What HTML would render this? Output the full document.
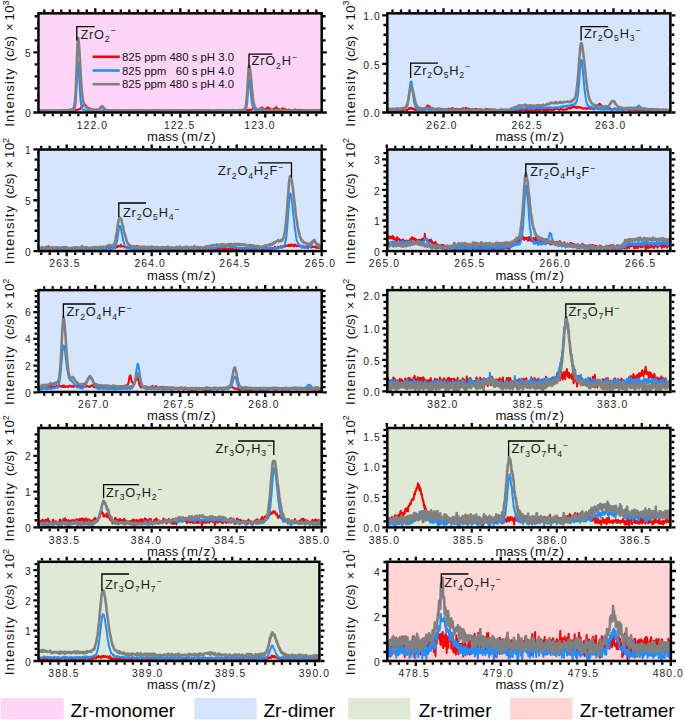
<!DOCTYPE html><html><head><meta charset="utf-8"><style>html,body{margin:0;padding:0;background:#fff;overflow:hidden}svg{display:block}</style></head><body><svg width="685" height="723" viewBox="0 0 685 723" font-family='"Liberation Sans", sans-serif'>
<rect width="685" height="723" fill="#fff"/>
<defs>
<clipPath id="c0"><rect x="38.45" y="13.35" width="283.25" height="99.15"/></clipPath>
<clipPath id="c1"><rect x="387.3" y="13.35" width="283.1" height="99.15"/></clipPath>
<clipPath id="c2"><rect x="38.45" y="149.5" width="283.25" height="101.6"/></clipPath>
<clipPath id="c3"><rect x="387.3" y="149.5" width="283.1" height="101.6"/></clipPath>
<clipPath id="c4"><rect x="38.45" y="290.1" width="283.25" height="101.9"/></clipPath>
<clipPath id="c5"><rect x="387.3" y="290.1" width="283.1" height="101.9"/></clipPath>
<clipPath id="c6"><rect x="38.45" y="428" width="283.25" height="99.4"/></clipPath>
<clipPath id="c7"><rect x="387.3" y="428" width="283.1" height="99.4"/></clipPath>
<clipPath id="c8"><rect x="38.45" y="561.8" width="280.95" height="99.2"/></clipPath>
<clipPath id="c9"><rect x="387.3" y="561.8" width="283.6" height="99.2"/></clipPath>
</defs>
<rect x="38.45" y="13.35" width="283.25" height="99.15" fill="#fdd5f6"/>
<path d="M37.5 110.8 38.0 110.8 38.5 110.9 39.0 111.1 39.5 111.0 40.0 111.1 40.5 110.8 41.0 110.4 41.5 111.0 42.0 111.0 42.5 110.7 43.0 110.7 43.5 110.8 44.0 111.1 44.5 110.8 45.0 110.6 45.5 111.2 46.0 111.0 46.5 111.4 47.0 111.2 47.5 111.4 48.0 110.9 48.5 111.2 49.0 110.8 49.5 110.8 50.0 110.9 50.5 111.6 51.0 111.0 51.5 110.8 52.0 110.8 52.5 111.3 53.0 111.0 53.5 111.1 54.0 111.1 54.5 110.5 55.0 111.1 55.5 110.8 56.0 110.6 56.5 111.0 57.0 110.9 57.5 110.8 58.0 110.8 58.5 111.2 59.0 110.8 59.5 110.4 60.0 111.3 60.5 110.6 61.0 110.8 61.5 111.0 62.0 110.2 62.5 110.6 63.0 111.2 63.5 110.8 64.0 110.6 64.5 110.9 65.0 110.6 65.5 110.8 66.0 110.6 66.5 110.4 67.0 111.0 67.5 110.7 68.0 110.9 68.5 110.8 69.0 111.1 69.5 111.0 70.0 110.8 70.5 110.5 71.0 110.4 71.5 111.2 72.0 111.0 72.5 110.6 73.0 111.3 73.5 110.9 74.0 110.8 74.5 110.2 75.0 110.3 75.5 110.5 76.0 110.3 76.5 110.2 77.0 109.5 77.5 109.9 78.0 109.6 78.5 109.3 79.0 109.3 79.5 109.1 80.0 109.1 80.5 108.4 81.0 108.0 81.5 107.0 82.0 106.6 82.5 106.2 83.0 105.5 83.5 105.3 84.0 104.6 84.5 104.7 85.0 104.6 85.5 105.5 86.0 105.5 86.5 106.6 87.0 107.3 87.5 107.4 88.0 108.1 88.5 108.2 89.0 108.0 89.5 109.2 90.0 109.4 90.5 109.3 91.0 109.3 91.5 109.6 92.0 109.7 92.5 109.5 93.0 109.6 93.5 110.0 94.0 109.8 94.5 109.7 95.0 110.1 95.5 109.7 96.0 110.0 96.5 109.5 97.0 109.7 97.5 109.7 98.0 109.8 98.5 109.5 99.0 109.8 99.5 109.1 100.0 108.2 100.5 108.3 101.0 106.8 101.5 107.1 102.0 106.2 102.5 106.9 103.0 106.8 103.5 107.7 104.0 108.8 104.5 108.6 105.0 109.0 105.5 109.8 106.0 110.1 106.5 110.2 107.0 110.6 107.5 110.0 108.0 110.6 108.5 110.5 109.0 110.7 109.5 110.7 110.0 110.9 110.5 110.2 111.0 110.6 111.5 110.3 112.0 110.6 112.5 110.8 113.0 110.7 113.5 110.8 114.0 110.6 114.5 110.7 115.0 110.7 115.5 111.0 116.0 110.9 116.5 110.1 117.0 110.8 117.5 110.9 118.0 110.5 118.5 110.2 119.0 111.1 119.5 110.7 120.0 110.8 120.5 111.2 121.0 110.4 121.5 110.6 122.0 110.6 122.5 110.9 123.0 110.5 123.5 110.8 124.0 110.7 124.5 111.0 125.0 111.0 125.5 110.2 126.0 110.8 126.5 110.5 127.0 110.6 127.5 110.8 128.0 110.8 128.4 110.4 128.9 110.7 129.4 110.7 129.9 110.6 130.4 110.3 130.9 110.4 131.4 110.5 131.9 110.8 132.4 111.1 132.9 110.4 133.4 110.3 133.9 110.7 134.4 110.5 134.9 110.4 135.4 110.4 135.9 110.4 136.4 110.8 136.9 110.2 137.4 111.0 137.9 110.4 138.4 110.5 138.9 110.4 139.4 110.1 139.9 110.2 140.4 111.0 140.9 111.1 141.4 110.4 141.9 110.9 142.4 110.6 142.9 110.4 143.4 111.1 143.9 111.3 144.4 110.6 144.9 110.6 145.4 110.7 145.9 110.6 146.4 110.9 146.9 111.1 147.4 110.7 147.9 110.9 148.4 111.1 148.9 110.5 149.4 110.7 149.9 110.5 150.4 110.9 150.9 110.8 151.4 110.9 151.9 110.9 152.4 110.6 152.9 110.9 153.4 110.5 153.9 110.5 154.4 110.0 154.9 111.1 155.4 110.4 155.9 110.7 156.4 110.6 156.9 111.1 157.4 110.8 157.9 110.4 158.4 110.7 158.9 110.6 159.4 110.7 159.9 110.3 160.4 110.7 160.9 111.3 161.4 110.9 161.9 111.2 162.4 111.6 162.9 110.8 163.4 110.2 163.9 110.6 164.4 111.0 164.9 110.9 165.4 110.3 165.9 110.6 166.4 110.6 166.9 110.7 167.4 110.6 167.9 110.4 168.4 110.5 168.9 110.6 169.4 111.0 169.9 110.5 170.4 110.9 170.9 110.3 171.4 111.0 171.9 110.7 172.4 110.6 172.9 111.0 173.4 110.1 173.9 110.2 174.4 110.8 174.9 110.4 175.4 110.5 175.9 111.4 176.4 110.6 176.9 110.7 177.4 110.6 177.9 111.0 178.4 110.7 178.9 110.7 179.4 110.3 179.9 110.5 180.4 110.6 180.9 110.2 181.4 110.8 181.9 110.8 182.4 111.2 182.9 110.2 183.4 110.4 183.9 110.4 184.4 110.4 184.9 110.6 185.4 110.6 185.9 110.7 186.4 110.7 186.9 110.6 187.4 110.2 187.9 110.5 188.4 110.7 188.9 110.8 189.4 110.8 189.9 110.2 190.4 110.5 190.9 110.6 191.4 110.8 191.9 111.0 192.4 110.7 192.9 110.4 193.4 110.8 193.9 110.7 194.4 110.7 194.9 110.6 195.4 111.1 195.9 110.7 196.4 110.9 196.9 110.4 197.4 110.9 197.9 110.5 198.4 110.2 198.9 110.7 199.4 110.8 199.9 110.6 200.4 110.6 200.9 110.9 201.4 110.5 201.9 110.0 202.4 110.7 202.9 110.7 203.4 111.0 203.9 110.6 204.4 111.0 204.9 111.0 205.4 110.3 205.9 110.9 206.4 110.3 206.9 110.2 207.4 110.6 207.9 110.5 208.4 110.1 208.9 110.7 209.4 110.8 209.9 111.1 210.4 110.6 210.9 110.2 211.4 110.4 211.9 110.9 212.4 110.9 212.9 110.8 213.4 110.6 213.9 110.7 214.4 110.6 214.9 110.6 215.4 110.7 215.9 110.7 216.4 110.6 216.9 110.7 217.4 110.5 217.9 110.1 218.4 110.5 218.9 110.6 219.4 111.2 219.9 110.5 220.4 111.2 220.9 111.1 221.4 110.4 221.9 110.4 222.4 110.7 222.9 111.2 223.4 110.8 223.9 110.8 224.4 110.5 224.9 110.0 225.4 110.6 225.9 110.9 226.4 111.0 226.9 110.7 227.4 110.7 227.9 111.0 228.4 110.6 228.9 111.0 229.4 110.3 229.9 110.3 230.4 110.3 230.9 110.8 231.4 110.5 231.9 110.7 232.4 110.8 232.9 110.7 233.4 111.0 233.9 111.1 234.4 110.4 234.9 110.7 235.4 110.6 235.9 110.3 236.4 111.2 236.9 110.9 237.4 110.6 237.9 110.5 238.4 110.7 238.9 110.3 239.4 110.6 239.9 111.0 240.4 110.9 240.9 110.3 241.4 110.4 241.9 111.1 242.4 110.0 242.9 110.2 243.4 110.0 243.9 110.5 244.4 110.4 244.9 110.6 245.4 109.5 245.9 110.2 246.4 109.7 246.9 110.3 247.4 110.0 247.9 110.5 248.4 110.1 248.9 109.6 249.4 110.3 249.9 109.5 250.4 109.7 250.9 110.0 251.4 109.8 251.9 109.6 252.4 109.3 252.9 109.1 253.4 108.9 253.9 108.4 254.4 108.3 254.9 108.3 255.4 108.0 255.9 107.9 256.4 109.0 256.9 108.8 257.4 109.3 257.9 109.6 258.4 109.2 258.9 109.6 259.4 108.9 259.9 109.3 260.4 108.6 260.9 108.2 261.4 107.9 261.9 107.3 262.4 107.7 262.9 107.9 263.4 108.6 263.9 109.3 264.4 109.3 264.9 109.4 265.4 109.0 265.9 109.3 266.4 108.6 266.9 108.5 267.4 107.3 267.9 107.6 268.4 108.0 268.9 108.0 269.4 108.2 269.9 109.5 270.4 109.7 270.9 109.8 271.4 110.0 271.9 109.6 272.4 109.9 272.9 109.8 273.4 109.3 273.9 109.4 274.4 108.6 274.9 108.5 275.4 108.1 275.9 108.0 276.4 107.1 276.9 108.2 277.4 108.6 277.9 109.1 278.4 109.4 278.9 109.6 279.4 109.1 279.9 110.0 280.4 110.1 280.9 109.7 281.4 109.6 281.9 108.6 282.4 108.3 282.9 108.7 283.4 108.9 283.9 108.9 284.4 108.7 284.9 110.3 285.4 109.5 285.9 110.1 286.4 109.5 286.9 110.2 287.4 110.0 287.9 110.3 288.4 110.2 288.9 109.5 289.4 109.7 289.9 110.0 290.4 110.2 290.9 110.5 291.4 110.0 291.9 109.9 292.4 110.0 292.9 110.0 293.4 110.3 293.9 110.0 294.4 109.9 294.9 109.5 295.4 109.4 295.9 110.0 296.4 110.2 296.9 110.0 297.4 110.1 297.9 110.2 298.4 110.0 298.9 110.3 299.4 109.8 299.9 110.0 300.4 109.9 300.9 110.0 301.4 110.2 301.9 110.3 302.4 110.1 302.9 110.2 303.4 110.0 303.9 110.1 304.4 110.5 304.9 110.1 305.4 110.5 305.9 110.3 306.4 110.2 306.9 110.8 307.4 110.2 307.9 110.2 308.4 110.3 308.9 110.4 309.4 110.4 309.9 110.6 310.4 110.4 310.9 110.5 311.4 110.3 311.9 110.7 312.4 110.3 312.9 110.3 313.4 110.4 313.9 110.5 314.4 110.2 314.9 110.9 315.4 110.3 315.9 110.4 316.4 110.4 316.9 110.4 317.4 110.7 317.9 110.6 318.4 110.3 318.9 110.4 319.4 110.5 319.9 111.0 320.4 110.4 320.9 110.3 321.4 110.3 321.9 110.6 322.4 111.1" stroke="#ff0000" stroke-width="2.0" fill="none" stroke-linejoin="round" clip-path="url(#c0)"/>
<path d="M37.5 110.7 38.0 110.9 38.5 111.2 39.0 110.8 39.5 111.1 40.0 111.0 40.5 110.9 41.0 110.6 41.5 110.9 42.0 110.8 42.5 110.6 43.0 110.6 43.5 110.9 44.0 110.9 44.5 111.0 45.0 110.9 45.5 110.8 46.0 110.8 46.5 110.8 47.0 110.7 47.5 110.9 48.0 110.8 48.5 110.7 49.0 110.7 49.5 110.7 50.0 110.8 50.5 110.9 51.0 110.8 51.5 111.0 52.0 111.1 52.5 110.7 53.0 110.8 53.5 110.8 54.0 111.1 54.5 110.9 55.0 110.9 55.5 110.9 56.0 111.2 56.5 110.9 57.0 110.7 57.5 110.8 58.0 110.9 58.5 110.8 59.0 110.7 59.5 111.2 60.0 110.8 60.5 110.7 61.0 110.7 61.5 110.5 62.0 110.6 62.5 110.7 63.0 110.7 63.5 110.7 64.0 110.8 64.5 110.8 65.0 110.6 65.5 110.4 66.0 110.8 66.5 110.7 67.0 110.7 67.5 110.5 68.0 110.7 68.5 110.4 69.0 110.8 69.5 110.6 70.0 110.6 70.5 110.4 71.0 110.4 71.5 110.7 72.0 110.5 72.5 110.3 73.0 110.3 73.5 110.3 74.0 109.6 74.5 109.1 75.0 107.7 75.5 104.6 76.0 97.8 76.5 87.6 77.0 74.7 77.5 64.6 78.0 62.2 78.5 66.2 79.0 74.2 79.5 83.2 80.0 91.8 80.5 98.8 81.0 103.5 81.5 106.5 82.0 108.1 82.5 109.2 83.0 109.7 83.5 109.7 84.0 109.7 84.5 109.9 85.0 110.2 85.5 110.3 86.0 110.2 86.5 110.5 87.0 110.6 87.5 110.5 88.0 110.5 88.5 110.7 89.0 110.8 89.5 110.8 90.0 110.5 90.5 110.8 91.0 110.7 91.5 110.6 92.0 110.6 92.5 110.8 93.0 110.6 93.5 110.9 94.0 110.8 94.5 110.9 95.0 110.6 95.5 110.8 96.0 110.9 96.5 110.8 97.0 110.8 97.5 110.7 98.0 111.0 98.5 110.9 99.0 110.8 99.5 110.4 100.0 110.6 100.5 110.8 101.0 110.7 101.5 110.5 102.0 110.8 102.5 110.9 103.0 110.6 103.5 110.7 104.0 110.7 104.5 110.9 105.0 110.5 105.5 110.6 106.0 110.7 106.5 110.7 107.0 111.1 107.5 110.7 108.0 110.8 108.5 110.7 109.0 110.7 109.5 110.9 110.0 111.1 110.5 110.8 111.0 110.9 111.5 110.9 112.0 110.9 112.5 110.9 113.0 111.2 113.5 110.6 114.0 110.8 114.5 110.7 115.0 110.5 115.5 110.8 116.0 111.1 116.5 111.0 117.0 111.0 117.5 110.9 118.0 110.8 118.5 111.1 119.0 110.8 119.5 111.1 120.0 110.8 120.5 110.8 121.0 110.9 121.5 110.8 122.0 110.9 122.5 110.9 123.0 111.1 123.5 110.8 124.0 110.6 124.5 110.5 125.0 110.6 125.5 110.7 126.0 110.9 126.5 110.6 127.0 110.8 127.5 110.8 128.0 110.9 128.4 110.8 128.9 110.9 129.4 110.8 129.9 111.0 130.4 110.9 130.9 110.5 131.4 110.8 131.9 110.9 132.4 110.8 132.9 110.7 133.4 111.0 133.9 110.9 134.4 110.7 134.9 110.8 135.4 110.8 135.9 110.6 136.4 110.9 136.9 110.8 137.4 110.9 137.9 110.6 138.4 111.1 138.9 110.9 139.4 110.9 139.9 110.7 140.4 110.7 140.9 110.6 141.4 111.1 141.9 110.7 142.4 110.9 142.9 110.9 143.4 110.8 143.9 111.0 144.4 111.2 144.9 110.9 145.4 111.1 145.9 110.9 146.4 110.8 146.9 110.8 147.4 110.6 147.9 110.9 148.4 111.1 148.9 111.0 149.4 111.0 149.9 111.0 150.4 110.8 150.9 110.9 151.4 111.1 151.9 110.7 152.4 110.9 152.9 110.8 153.4 110.8 153.9 110.7 154.4 110.8 154.9 110.7 155.4 110.8 155.9 110.8 156.4 110.8 156.9 111.1 157.4 110.9 157.9 110.9 158.4 110.8 158.9 111.0 159.4 110.6 159.9 110.8 160.4 111.0 160.9 111.1 161.4 110.9 161.9 110.9 162.4 111.0 162.9 110.8 163.4 110.9 163.9 110.8 164.4 111.0 164.9 110.8 165.4 110.7 165.9 110.5 166.4 111.0 166.9 110.9 167.4 111.0 167.9 110.7 168.4 111.0 168.9 110.9 169.4 110.8 169.9 111.0 170.4 111.0 170.9 110.9 171.4 111.2 171.9 111.1 172.4 110.9 172.9 110.8 173.4 110.9 173.9 111.1 174.4 110.9 174.9 110.7 175.4 110.8 175.9 110.9 176.4 111.0 176.9 110.7 177.4 110.9 177.9 111.0 178.4 111.0 178.9 110.6 179.4 110.8 179.9 110.7 180.4 110.9 180.9 110.7 181.4 110.9 181.9 110.9 182.4 110.5 182.9 110.7 183.4 110.9 183.9 110.9 184.4 110.8 184.9 110.7 185.4 110.9 185.9 111.1 186.4 110.9 186.9 110.8 187.4 110.8 187.9 110.6 188.4 110.8 188.9 110.7 189.4 111.0 189.9 110.7 190.4 110.5 190.9 110.7 191.4 110.8 191.9 110.8 192.4 110.6 192.9 111.0 193.4 110.9 193.9 110.8 194.4 110.7 194.9 110.9 195.4 110.8 195.9 110.9 196.4 110.8 196.9 110.9 197.4 111.0 197.9 110.8 198.4 110.7 198.9 111.0 199.4 110.9 199.9 110.7 200.4 111.0 200.9 110.8 201.4 111.0 201.9 110.7 202.4 110.5 202.9 110.5 203.4 110.9 203.9 110.7 204.4 110.8 204.9 110.8 205.4 110.6 205.9 111.0 206.4 110.7 206.9 110.8 207.4 110.6 207.9 110.8 208.4 110.9 208.9 110.8 209.4 110.7 209.9 110.8 210.4 110.8 210.9 110.9 211.4 111.2 211.9 110.7 212.4 110.7 212.9 110.8 213.4 110.8 213.9 110.7 214.4 110.9 214.9 110.9 215.4 110.9 215.9 110.7 216.4 111.0 216.9 110.7 217.4 110.9 217.9 111.0 218.4 110.6 218.9 110.8 219.4 111.0 219.9 110.9 220.4 110.7 220.9 110.7 221.4 110.9 221.9 110.8 222.4 110.7 222.9 110.9 223.4 110.8 223.9 110.8 224.4 110.9 224.9 110.9 225.4 110.8 225.9 110.8 226.4 110.9 226.9 110.9 227.4 110.7 227.9 110.8 228.4 110.7 228.9 110.6 229.4 110.7 229.9 110.5 230.4 110.9 230.9 110.7 231.4 110.9 231.9 110.5 232.4 110.6 232.9 111.1 233.4 110.9 233.9 110.7 234.4 110.7 234.9 110.7 235.4 110.8 235.9 110.7 236.4 110.7 236.9 110.8 237.4 110.6 237.9 111.1 238.4 110.7 238.9 110.9 239.4 110.6 239.9 110.7 240.4 110.8 240.9 110.6 241.4 110.8 241.9 110.8 242.4 110.8 242.9 110.6 243.4 110.4 243.9 110.3 244.4 110.4 244.9 110.0 245.4 109.9 245.9 109.3 246.4 107.8 246.9 104.8 247.4 100.1 247.9 93.2 248.4 85.7 248.9 80.6 249.4 80.4 249.9 82.9 250.4 87.8 250.9 93.1 251.4 98.3 251.9 102.4 252.4 105.4 252.9 107.6 253.4 108.5 253.9 109.5 254.4 109.7 254.9 110.0 255.4 110.4 255.9 110.4 256.4 110.4 256.9 110.5 257.4 110.5 257.9 110.6 258.4 110.9 258.9 110.6 259.4 111.0 259.9 110.6 260.4 110.8 260.9 110.8 261.4 110.7 261.9 110.7 262.4 110.9 262.9 111.0 263.4 110.9 263.9 111.0 264.4 110.9 264.9 110.5 265.4 110.9 265.9 110.7 266.4 111.0 266.9 110.7 267.4 110.8 267.9 110.8 268.4 110.7 268.9 110.5 269.4 110.8 269.9 110.8 270.4 110.9 270.9 110.7 271.4 110.8 271.9 110.7 272.4 110.8 272.9 110.5 273.4 111.1 273.9 110.9 274.4 110.7 274.9 110.9 275.4 110.9 275.9 110.9 276.4 111.0 276.9 110.8 277.4 110.5 277.9 110.6 278.4 111.0 278.9 111.0 279.4 110.9 279.9 110.7 280.4 110.9 280.9 110.9 281.4 110.7 281.9 110.7 282.4 110.9 282.9 111.0 283.4 111.1 283.9 110.9 284.4 111.2 284.9 110.7 285.4 110.9 285.9 110.8 286.4 110.6 286.9 110.7 287.4 111.0 287.9 110.7 288.4 110.7 288.9 110.9 289.4 111.0 289.9 110.9 290.4 111.1 290.9 110.6 291.4 111.2 291.9 111.0 292.4 110.9 292.9 110.9 293.4 110.8 293.9 110.8 294.4 110.9 294.9 110.7 295.4 111.2 295.9 110.8 296.4 110.9 296.9 110.8 297.4 110.8 297.9 111.0 298.4 110.9 298.9 110.7 299.4 110.8 299.9 110.9 300.4 110.5 300.9 110.5 301.4 111.1 301.9 110.8 302.4 110.5 302.9 110.7 303.4 110.8 303.9 110.9 304.4 110.9 304.9 110.9 305.4 110.9 305.9 110.7 306.4 110.9 306.9 110.9 307.4 111.0 307.9 110.8 308.4 111.0 308.9 110.9 309.4 110.7 309.9 110.8 310.4 110.8 310.9 110.8 311.4 110.8 311.9 110.9 312.4 110.9 312.9 110.7 313.4 111.0 313.9 110.6 314.4 110.8 314.9 111.0 315.4 110.9 315.9 110.9 316.4 110.8 316.9 111.0 317.4 110.7 317.9 111.0 318.4 111.2 318.9 111.0 319.4 111.1 319.9 110.9 320.4 110.7 320.9 110.7 321.4 111.0 321.9 111.0 322.4 110.6" stroke="#1e8fff" stroke-width="2.0" fill="none" stroke-linejoin="round" clip-path="url(#c0)"/>
<path d="M37.5 110.6 38.0 110.6 38.5 110.5 39.0 110.2 39.5 110.4 40.0 110.6 40.5 110.6 41.0 110.5 41.5 110.7 42.0 110.8 42.5 110.6 43.0 110.7 43.5 110.6 44.0 110.6 44.5 110.3 45.0 110.7 45.5 110.6 46.0 110.6 46.5 110.5 47.0 110.4 47.5 110.7 48.0 110.7 48.5 110.8 49.0 110.7 49.5 110.5 50.0 110.6 50.5 110.7 51.0 110.6 51.5 110.6 52.0 110.5 52.5 110.7 53.0 110.6 53.5 110.8 54.0 110.7 54.5 110.3 55.0 110.9 55.5 110.6 56.0 110.5 56.5 110.6 57.0 110.7 57.5 110.5 58.0 110.5 58.5 110.5 59.0 110.8 59.5 110.5 60.0 110.6 60.5 110.6 61.0 110.4 61.5 110.4 62.0 110.3 62.5 110.5 63.0 110.3 63.5 110.2 64.0 110.2 64.5 110.2 65.0 110.4 65.5 110.4 66.0 110.2 66.5 110.5 67.0 110.2 67.5 110.3 68.0 110.2 68.5 110.4 69.0 110.2 69.5 110.0 70.0 109.8 70.5 109.6 71.0 109.7 71.5 109.6 72.0 109.5 72.5 109.1 73.0 108.8 73.5 108.1 74.0 106.9 74.5 105.2 75.0 101.6 75.5 94.9 76.0 84.9 76.5 71.4 77.0 56.1 77.5 43.4 78.0 37.8 78.5 39.1 79.0 44.1 79.5 52.1 80.0 61.2 80.5 70.5 81.0 79.0 81.5 86.5 82.0 92.5 82.5 97.1 83.0 100.4 83.5 102.6 84.0 104.2 84.5 105.4 85.0 105.9 85.5 106.4 86.0 107.0 86.5 107.3 87.0 107.9 87.5 108.4 88.0 108.4 88.5 108.8 89.0 109.2 89.5 109.3 90.0 109.4 90.5 109.6 91.0 110.1 91.5 109.9 92.0 110.0 92.5 110.1 93.0 110.0 93.5 109.8 94.0 110.1 94.5 110.2 95.0 109.8 95.5 110.2 96.0 110.3 96.5 110.1 97.0 110.0 97.5 110.1 98.0 109.8 98.5 109.8 99.0 109.6 99.5 109.0 100.0 108.4 100.5 108.0 101.0 107.3 101.5 106.8 102.0 106.2 102.5 106.9 103.0 107.0 103.5 107.9 104.0 108.5 104.5 109.0 105.0 109.4 105.5 109.7 106.0 110.0 106.5 110.3 107.0 110.4 107.5 110.3 108.0 110.3 108.5 110.2 109.0 110.4 109.5 110.3 110.0 110.2 110.5 110.4 111.0 110.7 111.5 110.7 112.0 110.7 112.5 110.3 113.0 110.6 113.5 110.3 114.0 110.4 114.5 110.3 115.0 110.4 115.5 110.5 116.0 110.6 116.5 110.5 117.0 110.5 117.5 110.6 118.0 110.6 118.5 110.3 119.0 110.8 119.5 110.5 120.0 110.7 120.5 110.5 121.0 110.4 121.5 110.6 122.0 110.5 122.5 110.8 123.0 110.4 123.5 110.7 124.0 110.5 124.5 110.6 125.0 111.0 125.5 110.7 126.0 110.5 126.5 110.4 127.0 110.5 127.5 110.5 128.0 110.8 128.4 110.4 128.9 110.3 129.4 110.6 129.9 110.6 130.4 110.8 130.9 110.5 131.4 110.2 131.9 110.5 132.4 110.4 132.9 110.5 133.4 110.7 133.9 110.4 134.4 110.8 134.9 110.6 135.4 110.6 135.9 110.5 136.4 110.5 136.9 110.5 137.4 110.7 137.9 110.8 138.4 110.6 138.9 110.7 139.4 110.8 139.9 110.8 140.4 110.7 140.9 110.9 141.4 110.8 141.9 110.9 142.4 110.6 142.9 110.6 143.4 110.3 143.9 110.8 144.4 110.7 144.9 110.5 145.4 110.6 145.9 110.7 146.4 110.4 146.9 110.7 147.4 110.8 147.9 110.8 148.4 110.6 148.9 110.6 149.4 110.8 149.9 110.8 150.4 110.5 150.9 110.5 151.4 110.7 151.9 110.5 152.4 110.5 152.9 110.9 153.4 110.7 153.9 110.6 154.4 110.7 154.9 110.9 155.4 110.7 155.9 110.5 156.4 110.4 156.9 111.0 157.4 110.2 157.9 110.8 158.4 110.5 158.9 110.4 159.4 110.5 159.9 110.6 160.4 110.8 160.9 110.5 161.4 110.7 161.9 111.0 162.4 110.2 162.9 110.5 163.4 110.4 163.9 110.8 164.4 110.4 164.9 110.4 165.4 110.4 165.9 110.6 166.4 110.8 166.9 110.7 167.4 111.0 167.9 110.9 168.4 110.6 168.9 110.8 169.4 110.7 169.9 110.6 170.4 110.3 170.9 110.4 171.4 110.6 171.9 110.4 172.4 110.7 172.9 110.7 173.4 110.5 173.9 110.8 174.4 110.7 174.9 110.8 175.4 110.6 175.9 110.4 176.4 110.7 176.9 110.6 177.4 110.8 177.9 110.8 178.4 110.8 178.9 110.4 179.4 110.3 179.9 110.6 180.4 110.7 180.9 110.5 181.4 110.7 181.9 110.5 182.4 110.6 182.9 110.6 183.4 110.5 183.9 110.7 184.4 110.7 184.9 110.9 185.4 110.7 185.9 110.8 186.4 110.7 186.9 110.8 187.4 110.6 187.9 110.6 188.4 110.8 188.9 110.8 189.4 110.8 189.9 110.5 190.4 110.4 190.9 110.5 191.4 110.7 191.9 110.4 192.4 110.9 192.9 110.4 193.4 110.7 193.9 111.0 194.4 110.2 194.9 110.4 195.4 110.8 195.9 110.6 196.4 110.7 196.9 110.6 197.4 110.9 197.9 110.7 198.4 110.6 198.9 110.6 199.4 110.4 199.9 110.6 200.4 110.3 200.9 110.7 201.4 110.6 201.9 110.9 202.4 110.8 202.9 110.4 203.4 110.8 203.9 110.5 204.4 110.6 204.9 110.8 205.4 110.7 205.9 110.7 206.4 110.7 206.9 110.5 207.4 110.5 207.9 110.7 208.4 110.8 208.9 110.6 209.4 110.6 209.9 110.5 210.4 110.2 210.9 110.5 211.4 110.6 211.9 110.6 212.4 110.7 212.9 110.8 213.4 110.8 213.9 110.7 214.4 110.7 214.9 110.5 215.4 110.7 215.9 110.6 216.4 110.8 216.9 110.4 217.4 110.5 217.9 110.3 218.4 110.5 218.9 110.4 219.4 110.6 219.9 110.5 220.4 110.2 220.9 110.8 221.4 110.4 221.9 110.3 222.4 110.5 222.9 110.5 223.4 110.4 223.9 110.7 224.4 110.5 224.9 110.7 225.4 110.7 225.9 110.7 226.4 110.6 226.9 110.6 227.4 110.5 227.9 110.8 228.4 110.3 228.9 110.4 229.4 110.4 229.9 110.6 230.4 110.6 230.9 110.5 231.4 110.5 231.9 110.8 232.4 110.4 232.9 110.1 233.4 110.8 233.9 110.4 234.4 110.4 234.9 110.5 235.4 110.3 235.9 110.6 236.4 110.4 236.9 110.2 237.4 110.4 237.9 110.5 238.4 110.3 238.9 110.4 239.4 110.1 239.9 110.4 240.4 110.1 240.9 110.4 241.4 110.0 241.9 110.1 242.4 110.4 242.9 109.9 243.4 109.9 243.9 109.6 244.4 109.0 244.9 108.8 245.4 107.7 245.9 105.3 246.4 102.0 246.9 96.3 247.4 88.9 247.9 80.3 248.4 71.7 248.9 66.2 249.4 65.8 249.9 68.2 250.4 72.2 250.9 77.4 251.4 83.0 251.9 88.1 252.4 93.4 252.9 97.9 253.4 101.2 253.9 103.6 254.4 105.6 254.9 107.0 255.4 108.0 255.9 108.5 256.4 109.2 256.9 109.4 257.4 109.2 257.9 109.5 258.4 109.4 258.9 109.2 259.4 109.2 259.9 109.2 260.4 108.8 260.9 108.9 261.4 109.0 261.9 108.8 262.4 109.0 262.9 109.3 263.4 109.3 263.9 109.5 264.4 110.0 264.9 109.9 265.4 110.0 265.9 110.2 266.4 110.4 266.9 110.3 267.4 110.3 267.9 110.3 268.4 110.5 268.9 110.3 269.4 110.6 269.9 110.5 270.4 110.2 270.9 110.6 271.4 110.5 271.9 110.3 272.4 110.5 272.9 110.5 273.4 110.5 273.9 110.3 274.4 110.8 274.9 110.6 275.4 110.7 275.9 110.7 276.4 110.7 276.9 110.7 277.4 110.5 277.9 110.7 278.4 110.5 278.9 110.5 279.4 110.7 279.9 110.5 280.4 110.3 280.9 110.5 281.4 110.7 281.9 110.6 282.4 110.7 282.9 110.5 283.4 110.4 283.9 110.7 284.4 110.6 284.9 110.4 285.4 110.7 285.9 110.6 286.4 110.7 286.9 110.7 287.4 110.7 287.9 110.3 288.4 110.7 288.9 110.7 289.4 110.7 289.9 110.6 290.4 110.5 290.9 110.6 291.4 110.3 291.9 110.6 292.4 110.4 292.9 110.6 293.4 110.5 293.9 110.8 294.4 110.6 294.9 110.6 295.4 110.6 295.9 110.9 296.4 110.5 296.9 110.7 297.4 110.7 297.9 110.6 298.4 110.6 298.9 110.6 299.4 110.8 299.9 110.8 300.4 110.6 300.9 110.6 301.4 110.7 301.9 110.7 302.4 110.7 302.9 110.6 303.4 110.4 303.9 110.8 304.4 110.4 304.9 110.5 305.4 110.7 305.9 110.5 306.4 110.8 306.9 110.9 307.4 110.8 307.9 110.7 308.4 110.7 308.9 110.7 309.4 110.6 309.9 110.9 310.4 110.6 310.9 110.8 311.4 110.7 311.9 110.7 312.4 110.8 312.9 110.8 313.4 110.8 313.9 110.6 314.4 110.5 314.9 110.5 315.4 110.8 315.9 110.7 316.4 110.8 316.9 110.6 317.4 110.9 317.9 110.4 318.4 110.7 318.9 110.7 319.4 110.6 319.9 110.5 320.4 110.6 320.9 110.5 321.4 110.6 321.9 110.4 322.4 110.4" stroke="#808080" stroke-width="2.6" fill="none" stroke-linejoin="round" clip-path="url(#c0)"/>
<path d="M44.3 113.75v2.6M44.3 12.1v-2.6M52.8 113.75v2.6M52.8 12.1v-2.6M61.3 113.75v2.6M61.3 12.1v-2.6M69.8 113.75v2.6M69.8 12.1v-2.6M78.3 113.75v2.6M78.3 12.1v-2.6M86.8 113.75v2.6M86.8 12.1v-2.6M95.3 113.75v3.8M95.3 12.1v-3.8M103.8 113.75v2.6M103.8 12.1v-2.6M112.3 113.75v2.6M112.3 12.1v-2.6M120.8 113.75v2.6M120.8 12.1v-2.6M129.3 113.75v2.6M129.3 12.1v-2.6M137.8 113.75v2.6M137.8 12.1v-2.6M146.3 113.75v2.6M146.3 12.1v-2.6M154.8 113.75v2.6M154.8 12.1v-2.6M163.3 113.75v2.6M163.3 12.1v-2.6M171.8 113.75v2.6M171.8 12.1v-2.6M180.3 113.75v3.8M180.3 12.1v-3.8M188.8 113.75v2.6M188.8 12.1v-2.6M197.3 113.75v2.6M197.3 12.1v-2.6M205.8 113.75v2.6M205.8 12.1v-2.6M214.3 113.75v2.6M214.3 12.1v-2.6M222.8 113.75v2.6M222.8 12.1v-2.6M231.3 113.75v2.6M231.3 12.1v-2.6M239.8 113.75v2.6M239.8 12.1v-2.6M248.3 113.75v2.6M248.3 12.1v-2.6M256.8 113.75v2.6M256.8 12.1v-2.6M265.3 113.75v3.8M265.3 12.1v-3.8M273.8 113.75v2.6M273.8 12.1v-2.6M282.3 113.75v2.6M282.3 12.1v-2.6M290.8 113.75v2.6M290.8 12.1v-2.6M299.3 113.75v2.6M299.3 12.1v-2.6M307.8 113.75v2.6M307.8 12.1v-2.6M316.3 113.75v2.6M316.3 12.1v-2.6M37.2 112.5h-3.8M322.95 112.5h3.8M37.2 100.47h-2.6M322.95 100.47h2.6M37.2 88.44h-2.6M322.95 88.44h2.6M37.2 76.41h-2.6M322.95 76.41h2.6M37.2 64.38h-2.6M322.95 64.38h2.6M37.2 52.35h-3.8M322.95 52.35h3.8M37.2 40.32h-2.6M322.95 40.32h2.6M37.2 28.29h-2.6M322.95 28.29h2.6M37.2 16.26h-2.6M322.95 16.26h2.6" stroke="#000" stroke-width="2.3" fill="none"/>
<rect x="38.45" y="13.35" width="283.25" height="99.15" fill="none" stroke="#000" stroke-width="2.5"/>
<text x="92.4" y="128.7" font-size="10.3" letter-spacing="1.1" text-anchor="middle" fill="#1c1c1c">122.0</text>
<text x="179.6" y="128.7" font-size="10.3" letter-spacing="1.1" text-anchor="middle" fill="#1c1c1c">122.5</text>
<text x="260" y="128.7" font-size="10.3" letter-spacing="1.1" text-anchor="middle" fill="#1c1c1c">123.0</text>
<text x="31.95" y="117.1" font-size="10.3" letter-spacing="1.1" text-anchor="end" fill="#1c1c1c">0</text>
<text x="31.95" y="57.2" font-size="10.3" letter-spacing="1.1" text-anchor="end" fill="#1c1c1c">5</text>
<text x="147" y="140.9" font-size="13.1" fill="#111">mass</text>
<text x="181.3" y="140.9" font-size="13.5" letter-spacing="0.9" fill="#111">(m/z)</text>
<g transform="translate(14.0 62.92) rotate(-90)" font-size="13" fill="#111"><text x="-63.9" y="0" letter-spacing="1.25">Intensity</text><text x="1.7" y="0">(c/s)</text><text x="31.8" y="0">×</text><text x="42.4" y="0" letter-spacing="0.6">10</text><text x="57.4" y="-5.4" font-size="9">3</text></g>
<path d="M76.8 40.4V26.6H94.8" stroke="#000" stroke-width="1.3" fill="none"/>
<text x="80.4" y="38.6" text-anchor="start" letter-spacing="0.8" fill="#1a1a1a"><tspan dy="-0" font-size="12.8">ZrO</tspan><tspan dy="3.1" font-size="8.6">2</tspan><tspan dy="-8.3" font-size="8.6">−</tspan></text>
<path d="M249 68.1V54.1H272.2" stroke="#000" stroke-width="1.3" fill="none"/>
<text x="251.6" y="65.4" text-anchor="start" letter-spacing="0.8" fill="#1a1a1a"><tspan dy="-0" font-size="12.8">ZrO</tspan><tspan dy="3.1" font-size="8.6">2</tspan><tspan dy="-3.1" font-size="12.8">H</tspan><tspan dy="-5.2" font-size="8.6">−</tspan></text>
<rect x="387.3" y="13.35" width="283.1" height="99.15" fill="#d5e5fd"/>
<path d="M386.3 110.7 386.8 110.2 387.3 110.1 387.8 110.5 388.3 110.9 388.8 111.0 389.3 110.4 389.8 110.8 390.3 110.8 390.8 110.2 391.3 110.3 391.8 111.2 392.3 111.4 392.8 110.3 393.3 110.6 393.8 110.8 394.3 111.3 394.8 111.1 395.3 110.5 395.8 110.4 396.3 110.8 396.8 110.9 397.3 110.3 397.8 110.2 398.3 110.5 398.8 111.0 399.3 109.8 399.8 109.9 400.3 110.9 400.8 110.7 401.3 110.8 401.8 110.3 402.3 109.3 402.8 109.9 403.3 111.1 403.8 110.4 404.3 109.3 404.8 109.4 405.3 109.3 405.8 109.8 406.3 110.2 406.8 110.2 407.3 110.5 407.8 109.6 408.3 109.1 408.8 108.5 409.3 108.1 409.8 109.0 410.3 108.7 410.8 107.7 411.3 107.8 411.8 108.9 412.3 109.1 412.8 108.2 413.3 108.7 413.8 109.6 414.3 109.2 414.8 109.0 415.3 109.8 415.8 110.1 416.3 110.0 416.8 109.8 417.3 109.6 417.8 109.3 418.3 109.1 418.8 110.1 419.3 110.2 419.8 109.3 420.3 109.3 420.8 109.2 421.3 109.5 421.8 110.2 422.3 109.6 422.8 109.5 423.3 110.4 423.8 109.4 424.3 108.6 424.8 108.6 425.3 108.4 425.8 108.1 426.3 107.4 426.8 106.5 427.3 105.5 427.8 105.9 428.3 105.8 428.8 105.7 429.3 106.8 429.8 106.7 430.3 107.0 430.8 108.3 431.3 108.1 431.8 108.2 432.3 109.1 432.8 108.9 433.3 108.6 433.8 109.0 434.3 109.2 434.8 109.3 435.3 109.3 435.8 109.3 436.3 109.8 436.8 108.9 437.3 108.6 437.8 109.2 438.3 108.6 438.8 108.5 439.3 109.5 439.8 109.4 440.3 109.5 440.8 109.4 441.3 108.6 441.8 109.2 442.3 109.8 442.8 109.5 443.3 109.3 443.8 109.7 444.3 109.5 444.8 109.9 445.3 110.2 445.8 109.6 446.3 109.4 446.8 109.1 447.3 109.3 447.8 109.1 448.3 108.6 448.8 108.9 449.3 109.2 449.8 109.4 450.3 108.8 450.8 108.8 451.3 109.0 451.8 108.4 452.3 108.2 452.8 108.1 453.3 108.7 453.8 109.7 454.3 109.4 454.8 108.9 455.3 108.9 455.8 109.0 456.3 109.0 456.8 108.7 457.3 108.9 457.8 109.0 458.3 109.2 458.8 109.3 459.3 109.3 459.8 109.0 460.3 109.3 460.8 109.0 461.3 108.8 461.8 109.0 462.3 108.9 462.8 109.2 463.3 108.3 463.8 108.2 464.3 109.2 464.8 109.3 465.3 108.9 465.8 108.0 466.3 108.0 466.8 108.6 467.3 109.2 467.8 109.5 468.3 109.0 468.8 108.6 469.3 109.1 469.8 109.6 470.3 109.2 470.8 109.8 471.3 109.9 471.8 109.7 472.3 110.5 472.8 110.2 473.3 109.2 473.8 109.6 474.3 110.2 474.8 109.6 475.3 109.0 475.8 109.2 476.3 108.8 476.8 109.3 477.3 109.5 477.8 109.4 478.3 109.7 478.8 109.7 479.3 109.7 479.8 109.2 480.3 109.2 480.8 109.7 481.3 109.8 481.8 109.7 482.3 109.9 482.8 110.2 483.3 110.0 483.8 110.0 484.3 110.1 484.8 110.1 485.3 109.4 485.8 108.7 486.3 109.3 486.8 109.8 487.3 109.2 487.8 109.1 488.3 109.9 488.8 109.9 489.3 109.8 489.8 109.4 490.3 109.6 490.8 109.3 491.3 109.7 491.8 110.2 492.3 110.2 492.8 109.9 493.3 109.6 493.8 110.3 494.3 109.9 494.8 109.5 495.3 110.2 495.8 110.8 496.3 110.9 496.8 110.8 497.3 110.3 497.8 110.5 498.3 110.7 498.8 110.8 499.3 110.8 499.8 110.5 500.3 109.7 500.8 110.6 501.3 111.2 501.8 110.6 502.3 110.4 502.8 110.6 503.3 110.8 503.8 110.8 504.3 110.5 504.8 110.1 505.3 110.4 505.8 110.3 506.3 110.3 506.8 111.0 507.3 110.7 507.8 110.0 508.3 110.3 508.8 110.0 509.3 109.5 509.8 110.3 510.3 111.0 510.8 110.0 511.3 109.3 511.8 110.1 512.3 111.0 512.8 110.9 513.3 110.7 513.8 111.0 514.3 110.8 514.8 110.7 515.3 111.1 515.8 110.3 516.3 110.2 516.8 110.5 517.3 110.0 517.8 109.7 518.3 110.0 518.8 110.3 519.3 110.5 519.8 109.9 520.3 109.3 520.8 110.3 521.3 110.6 521.8 109.9 522.3 109.7 522.8 109.3 523.3 109.0 523.8 109.8 524.3 110.4 524.8 110.6 525.3 110.5 525.8 110.0 526.3 109.1 526.8 109.1 527.3 110.8 527.8 111.1 528.3 110.3 528.8 110.5 529.3 110.8 529.8 110.5 530.3 110.1 530.8 110.0 531.3 110.4 531.8 110.1 532.3 109.9 532.8 110.4 533.3 110.7 533.8 110.8 534.3 110.1 534.8 110.3 535.3 110.6 535.8 109.8 536.3 109.9 536.8 110.0 537.3 110.3 537.8 109.9 538.3 109.1 538.8 109.5 539.3 110.5 539.8 110.9 540.3 110.0 540.8 109.0 541.3 109.2 541.8 109.3 542.3 109.6 542.8 110.1 543.3 109.9 543.8 109.7 544.3 110.2 544.8 110.0 545.3 109.0 545.8 109.7 546.3 110.7 546.8 110.1 547.3 109.9 547.8 110.8 548.3 110.3 548.8 109.4 549.3 109.8 549.8 109.1 550.3 108.9 550.8 109.9 551.3 109.9 551.8 110.0 552.3 110.2 552.8 109.7 553.3 109.6 553.8 109.9 554.3 109.1 554.8 108.6 555.3 108.9 555.8 109.0 556.3 109.1 556.8 108.8 557.3 109.0 557.8 108.8 558.3 109.1 558.8 109.8 559.3 110.0 559.8 110.0 560.3 109.3 560.8 108.7 561.3 109.1 561.8 109.5 562.3 109.4 562.8 109.6 563.3 109.9 563.8 109.6 564.3 109.8 564.8 109.7 565.3 109.0 565.8 109.2 566.3 109.5 566.8 109.7 567.3 108.6 567.8 108.5 568.3 108.5 568.8 107.7 569.3 108.3 569.8 108.8 570.3 108.1 570.8 107.0 571.3 107.5 571.8 108.1 572.3 107.2 572.8 106.9 573.3 106.4 573.8 106.7 574.3 107.1 574.8 107.3 575.3 106.7 575.8 106.6 576.3 108.1 576.8 108.0 577.3 107.4 577.8 106.8 578.3 106.9 578.8 107.7 579.3 107.5 579.8 107.1 580.3 107.4 580.8 107.7 581.3 107.6 581.8 108.2 582.3 108.4 582.8 108.3 583.3 108.8 583.8 108.4 584.3 108.6 584.8 108.6 585.3 107.8 585.8 108.3 586.3 108.9 586.8 108.9 587.3 108.5 587.8 108.1 588.3 108.2 588.8 108.1 589.3 108.4 589.8 108.6 590.3 109.0 590.8 108.8 591.3 108.2 591.8 108.6 592.3 108.3 592.8 107.9 593.3 109.3 593.8 109.5 594.3 108.9 594.8 108.5 595.3 107.0 595.8 107.4 596.3 107.9 596.8 107.4 597.3 106.7 597.8 105.6 598.3 104.5 598.8 104.4 599.3 103.8 599.8 103.7 600.3 104.6 600.8 104.6 601.3 105.2 601.8 106.7 602.3 107.9 602.8 108.2 603.3 108.3 603.8 108.0 604.3 108.5 604.8 108.9 605.3 108.2 605.8 108.2 606.3 108.3 606.8 108.0 607.3 108.0 607.8 108.3 608.3 108.2 608.8 107.9 609.3 108.8 609.8 109.0 610.3 108.4 610.8 109.0 611.3 109.3 611.8 109.8 612.3 109.6 612.8 109.2 613.3 108.9 613.8 109.2 614.3 108.9 614.8 108.3 615.3 108.9 615.8 109.2 616.3 109.4 616.8 109.6 617.3 109.5 617.8 109.1 618.3 109.0 618.8 109.5 619.3 109.5 619.8 109.3 620.3 109.2 620.8 108.3 621.3 108.1 621.8 108.9 622.3 109.7 622.8 110.1 623.3 110.2 623.8 109.5 624.3 109.2 624.8 109.4 625.3 109.4 625.8 109.4 626.3 108.7 626.8 109.0 627.3 109.7 627.8 109.7 628.3 109.3 628.8 109.4 629.3 110.2 629.8 110.3 630.3 110.4 630.8 109.8 631.3 108.4 631.8 109.0 632.3 109.6 632.8 109.2 633.3 109.9 633.8 110.1 634.3 109.8 634.8 110.0 635.3 109.3 635.8 109.7 636.3 110.3 636.8 109.5 637.3 109.9 637.8 110.0 638.3 109.5 638.8 109.5 639.3 109.7 639.8 109.5 640.3 110.4 640.8 110.2 641.3 108.6 641.8 108.8 642.3 109.3 642.8 110.1 643.3 110.6 643.8 110.4 644.3 110.5 644.8 109.9 645.3 110.0 645.8 110.4 646.3 110.8 646.8 110.8 647.3 110.1 647.8 110.3 648.3 110.6 648.8 109.7 649.3 109.9 649.8 111.0 650.3 110.8 650.8 110.1 651.3 109.0 651.8 109.4 652.3 110.4 652.8 110.6 653.3 110.0 653.8 110.2 654.3 110.1 654.8 109.3 655.3 109.8 655.8 110.1 656.3 109.8 656.8 109.5 657.3 110.2 657.8 110.3 658.3 110.1 658.8 110.8 659.3 110.6 659.8 110.4 660.3 110.8 660.8 111.3 661.3 111.3 661.8 110.3 662.3 109.3 662.8 109.6 663.3 109.8 663.8 110.3 664.3 110.7 664.8 110.5 665.3 110.8 665.8 111.3 666.3 110.9 666.8 110.7 667.3 111.1 667.8 110.8 668.3 110.6 668.8 110.4 669.3 110.3 669.8 110.8 670.3 110.7 670.8 110.7 671.3 110.9" stroke="#ff0000" stroke-width="2.0" fill="none" stroke-linejoin="round" clip-path="url(#c1)"/>
<path d="M386.3 110.0 386.8 109.6 387.3 109.6 387.8 109.4 388.3 110.4 388.8 109.9 389.3 109.9 389.8 109.7 390.3 109.9 390.8 109.9 391.3 109.4 391.8 109.6 392.3 110.0 392.8 109.1 393.3 109.2 393.8 109.8 394.3 109.2 394.8 109.8 395.3 109.1 395.8 109.5 396.3 109.7 396.8 109.5 397.3 109.6 397.8 109.2 398.3 109.2 398.8 109.2 399.3 109.4 399.8 110.4 400.3 109.1 400.8 109.8 401.3 109.0 401.8 108.6 402.3 108.9 402.8 109.1 403.3 108.9 403.8 108.8 404.3 108.9 404.8 108.7 405.3 108.6 405.8 107.5 406.3 107.4 406.8 106.1 407.3 105.0 407.8 102.7 408.3 99.8 408.8 95.8 409.3 91.4 409.8 87.3 410.3 84.0 410.8 82.0 411.3 81.4 411.8 84.5 412.3 88.3 412.8 92.1 413.3 96.4 413.8 100.3 414.3 103.4 414.8 104.5 415.3 106.6 415.8 107.4 416.3 108.2 416.8 109.0 417.3 109.2 417.8 108.7 418.3 108.8 418.8 109.2 419.3 109.5 419.8 109.7 420.3 109.4 420.8 109.8 421.3 109.0 421.8 109.0 422.3 108.4 422.8 109.1 423.3 109.7 423.8 109.8 424.3 110.7 424.8 109.7 425.3 109.6 425.8 109.2 426.3 109.4 426.8 109.4 427.3 109.5 427.8 109.4 428.3 109.1 428.8 110.0 429.3 109.8 429.8 110.2 430.3 109.1 430.8 109.2 431.3 109.4 431.8 110.1 432.3 109.7 432.8 109.8 433.3 109.7 433.8 109.8 434.3 109.6 434.8 109.9 435.3 109.5 435.8 109.7 436.3 109.9 436.8 109.8 437.3 110.0 437.8 109.5 438.3 109.9 438.8 109.7 439.3 110.0 439.8 110.4 440.3 109.5 440.8 110.2 441.3 109.6 441.8 109.7 442.3 110.5 442.8 110.2 443.3 110.1 443.8 110.2 444.3 110.3 444.8 109.7 445.3 110.0 445.8 109.8 446.3 110.1 446.8 109.8 447.3 110.2 447.8 110.0 448.3 109.8 448.8 110.0 449.3 110.1 449.8 110.4 450.3 109.9 450.8 109.9 451.3 110.1 451.8 110.3 452.3 109.8 452.8 109.2 453.3 110.1 453.8 109.9 454.3 109.9 454.8 110.9 455.3 110.0 455.8 110.3 456.3 109.6 456.8 110.2 457.3 110.4 457.8 110.2 458.3 110.0 458.8 110.3 459.3 110.1 459.8 110.6 460.3 110.2 460.8 109.9 461.3 109.4 461.8 109.9 462.3 110.0 462.8 109.7 463.3 109.8 463.8 109.6 464.3 109.8 464.8 110.2 465.3 110.1 465.8 110.1 466.3 110.1 466.8 110.1 467.3 110.5 467.8 110.9 468.3 110.4 468.8 110.9 469.3 110.2 469.8 110.2 470.3 110.8 470.8 110.0 471.3 109.9 471.8 110.2 472.3 109.7 472.8 109.6 473.3 110.7 473.8 109.9 474.3 110.1 474.8 110.1 475.3 109.9 475.8 110.5 476.3 110.5 476.8 110.6 477.3 110.5 477.8 110.3 478.3 110.8 478.8 110.6 479.3 110.1 479.8 110.3 480.3 110.2 480.8 111.0 481.3 110.6 481.8 110.5 482.3 110.3 482.8 110.5 483.3 110.0 483.8 110.3 484.3 110.3 484.8 110.3 485.3 110.1 485.8 110.5 486.3 109.9 486.8 110.2 487.3 110.3 487.8 110.3 488.3 110.1 488.8 110.0 489.3 110.0 489.8 110.2 490.3 110.0 490.8 110.3 491.3 109.9 491.8 110.4 492.3 111.1 492.8 109.9 493.3 110.3 493.8 110.8 494.3 110.4 494.8 110.7 495.3 109.6 495.8 110.2 496.3 110.9 496.8 110.2 497.3 110.5 497.8 109.7 498.3 110.7 498.8 111.2 499.3 110.4 499.8 110.5 500.3 110.5 500.8 111.1 501.3 110.2 501.8 109.8 502.3 111.1 502.8 110.0 503.3 110.6 503.8 109.6 504.3 110.3 504.8 110.5 505.3 110.0 505.8 110.2 506.3 110.6 506.8 110.2 507.3 110.6 507.8 111.0 508.3 109.7 508.8 110.5 509.3 110.6 509.8 110.3 510.3 110.9 510.8 110.7 511.3 110.3 511.8 110.3 512.3 109.9 512.8 109.5 513.3 109.9 513.8 109.5 514.3 109.4 514.8 109.9 515.3 109.3 515.8 109.6 516.3 108.8 516.8 108.9 517.3 109.0 517.8 109.3 518.3 108.7 518.8 108.9 519.3 108.3 519.8 108.5 520.3 108.7 520.8 108.1 521.3 108.1 521.8 108.6 522.3 108.0 522.8 108.5 523.3 108.5 523.8 108.3 524.3 108.6 524.8 108.5 525.3 108.3 525.8 107.7 526.3 107.7 526.8 108.3 527.3 107.7 527.8 108.2 528.3 108.1 528.8 107.9 529.3 108.1 529.8 107.3 530.3 108.1 530.8 108.6 531.3 107.7 531.8 108.3 532.3 108.2 532.8 109.1 533.3 107.7 533.8 107.8 534.3 107.8 534.8 107.7 535.3 107.4 535.8 108.0 536.3 107.7 536.8 108.3 537.3 108.1 537.8 107.6 538.3 107.8 538.8 108.4 539.3 107.8 539.8 108.0 540.3 108.2 540.8 107.7 541.3 108.0 541.8 108.4 542.3 108.2 542.8 107.2 543.3 108.3 543.8 107.7 544.3 107.6 544.8 107.6 545.3 108.2 545.8 107.9 546.3 107.7 546.8 107.4 547.3 107.9 547.8 108.1 548.3 107.3 548.8 107.3 549.3 107.5 549.8 107.8 550.3 107.5 550.8 107.6 551.3 107.3 551.8 108.0 552.3 107.5 552.8 107.6 553.3 107.9 553.8 107.4 554.3 107.5 554.8 107.6 555.3 107.3 555.8 107.9 556.3 107.5 556.8 107.3 557.3 107.3 557.8 107.0 558.3 107.8 558.8 107.9 559.3 107.2 559.8 107.1 560.3 106.5 560.8 107.0 561.3 107.4 561.8 106.7 562.3 107.3 562.8 107.4 563.3 105.9 563.8 106.6 564.3 106.4 564.8 106.4 565.3 105.8 565.8 106.3 566.3 105.9 566.8 106.6 567.3 106.6 567.8 105.5 568.3 105.4 568.8 105.7 569.3 105.7 569.8 105.6 570.3 105.8 570.8 104.9 571.3 105.1 571.8 105.0 572.3 104.9 572.8 104.5 573.3 104.5 573.8 104.2 574.3 104.6 574.8 103.7 575.3 102.8 575.8 103.3 576.3 102.4 576.8 100.7 577.3 98.5 577.8 95.5 578.3 91.8 578.8 85.4 579.3 79.3 579.8 72.2 580.3 65.4 580.8 61.4 581.3 60.0 581.8 60.8 582.3 65.1 582.8 69.9 583.3 76.0 583.8 81.4 584.3 86.8 584.8 91.3 585.3 95.5 585.8 98.5 586.3 100.9 586.8 103.0 587.3 104.5 587.8 105.5 588.3 105.5 588.8 106.2 589.3 106.3 589.8 106.6 590.3 107.3 590.8 107.1 591.3 108.0 591.8 106.9 592.3 107.4 592.8 108.0 593.3 108.4 593.8 108.0 594.3 108.9 594.8 108.6 595.3 108.2 595.8 108.5 596.3 108.8 596.8 108.3 597.3 109.1 597.8 108.7 598.3 109.1 598.8 109.3 599.3 108.9 599.8 109.4 600.3 108.5 600.8 109.4 601.3 108.5 601.8 109.6 602.3 109.0 602.8 109.6 603.3 109.7 603.8 109.2 604.3 109.0 604.8 109.7 605.3 108.8 605.8 109.5 606.3 109.2 606.8 109.1 607.3 109.1 607.8 109.9 608.3 108.7 608.8 109.1 609.3 109.4 609.8 109.7 610.3 109.9 610.8 109.8 611.3 109.1 611.8 109.4 612.3 109.7 612.8 109.5 613.3 108.8 613.8 109.4 614.3 109.5 614.8 108.9 615.3 109.2 615.8 109.3 616.3 109.6 616.8 109.9 617.3 109.8 617.8 109.5 618.3 109.4 618.8 109.2 619.3 109.2 619.8 109.3 620.3 109.3 620.8 109.7 621.3 110.1 621.8 109.5 622.3 109.7 622.8 109.6 623.3 109.5 623.8 109.8 624.3 109.7 624.8 109.4 625.3 109.3 625.8 109.6 626.3 109.2 626.8 109.4 627.3 109.7 627.8 109.3 628.3 108.7 628.8 109.6 629.3 108.9 629.8 108.8 630.3 108.8 630.8 109.6 631.3 108.6 631.8 109.3 632.3 109.4 632.8 109.4 633.3 109.0 633.8 109.2 634.3 109.1 634.8 108.5 635.3 108.9 635.8 108.7 636.3 107.7 636.8 107.3 637.3 106.7 637.8 107.1 638.3 106.0 638.8 106.0 639.3 105.6 639.8 106.9 640.3 106.8 640.8 107.4 641.3 108.3 641.8 108.5 642.3 108.2 642.8 109.1 643.3 109.4 643.8 109.1 644.3 109.2 644.8 109.2 645.3 109.9 645.8 109.7 646.3 109.4 646.8 110.0 647.3 110.1 647.8 109.5 648.3 109.3 648.8 110.3 649.3 110.8 649.8 110.4 650.3 110.3 650.8 110.0 651.3 109.7 651.8 110.0 652.3 110.2 652.8 109.9 653.3 110.4 653.8 110.0 654.3 110.3 654.8 109.1 655.3 109.8 655.8 110.4 656.3 110.5 656.8 110.3 657.3 110.7 657.8 110.4 658.3 110.4 658.8 109.9 659.3 110.3 659.8 110.5 660.3 110.7 660.8 110.7 661.3 110.3 661.8 110.4 662.3 109.9 662.8 110.6 663.3 110.0 663.8 110.3 664.3 110.4 664.8 111.1 665.3 110.9 665.8 110.2 666.3 110.0 666.8 110.4 667.3 110.3 667.8 110.7 668.3 110.7 668.8 110.8 669.3 110.3 669.8 110.5 670.3 110.7 670.8 110.7 671.3 110.4" stroke="#1e8fff" stroke-width="2.0" fill="none" stroke-linejoin="round" clip-path="url(#c1)"/>
<path d="M386.3 109.3 386.8 109.7 387.3 108.8 387.8 109.2 388.3 109.3 388.8 108.8 389.3 108.9 389.8 109.3 390.3 109.0 390.8 109.6 391.3 109.4 391.8 109.9 392.3 108.7 392.8 109.8 393.3 108.8 393.8 109.3 394.3 109.4 394.8 109.1 395.3 108.9 395.8 108.7 396.3 108.3 396.8 108.7 397.3 108.5 397.8 109.0 398.3 108.5 398.8 108.7 399.3 108.8 399.8 108.7 400.3 108.6 400.8 108.5 401.3 108.4 401.8 108.7 402.3 108.7 402.8 108.2 403.3 109.0 403.8 108.5 404.3 107.6 404.8 108.9 405.3 107.9 405.8 107.0 406.3 107.1 406.8 104.7 407.3 105.1 407.8 101.8 408.3 99.5 408.8 96.9 409.3 94.3 409.8 91.2 410.3 89.1 410.8 86.8 411.3 87.0 411.8 87.3 412.3 88.2 412.8 90.8 413.3 92.7 413.8 94.9 414.3 97.7 414.8 99.0 415.3 101.3 415.8 103.6 416.3 104.4 416.8 105.8 417.3 106.6 417.8 107.0 418.3 107.7 418.8 107.5 419.3 108.4 419.8 107.9 420.3 108.4 420.8 108.2 421.3 108.8 421.8 108.8 422.3 109.1 422.8 108.5 423.3 108.4 423.8 108.0 424.3 108.2 424.8 108.6 425.3 108.7 425.8 108.4 426.3 108.5 426.8 107.9 427.3 108.0 427.8 108.5 428.3 108.4 428.8 107.7 429.3 108.0 429.8 108.2 430.3 107.7 430.8 108.3 431.3 108.3 431.8 108.5 432.3 109.1 432.8 108.3 433.3 109.1 433.8 109.0 434.3 109.2 434.8 108.8 435.3 109.1 435.8 109.2 436.3 109.8 436.8 109.3 437.3 109.9 437.8 109.3 438.3 109.3 438.8 109.5 439.3 108.8 439.8 109.3 440.3 109.3 440.8 109.5 441.3 109.7 441.8 109.3 442.3 109.2 442.8 110.1 443.3 109.3 443.8 109.5 444.3 109.3 444.8 109.5 445.3 110.1 445.8 110.1 446.3 109.1 446.8 109.6 447.3 110.2 447.8 109.6 448.3 109.9 448.8 110.4 449.3 110.6 449.8 110.4 450.3 109.7 450.8 109.8 451.3 109.9 451.8 109.7 452.3 109.6 452.8 110.6 453.3 110.0 453.8 110.2 454.3 110.3 454.8 110.1 455.3 110.0 455.8 110.0 456.3 110.5 456.8 110.1 457.3 109.3 457.8 110.3 458.3 110.6 458.8 109.9 459.3 109.8 459.8 109.9 460.3 110.4 460.8 109.7 461.3 110.3 461.8 110.4 462.3 110.3 462.8 110.1 463.3 109.8 463.8 109.9 464.3 110.1 464.8 109.8 465.3 110.1 465.8 109.8 466.3 110.6 466.8 110.7 467.3 109.9 467.8 110.7 468.3 110.3 468.8 110.2 469.3 110.4 469.8 110.4 470.3 109.7 470.8 111.1 471.3 109.9 471.8 109.4 472.3 110.2 472.8 110.2 473.3 110.0 473.8 109.6 474.3 110.6 474.8 110.2 475.3 110.3 475.8 110.0 476.3 110.2 476.8 110.0 477.3 110.4 477.8 110.2 478.3 110.5 478.8 110.4 479.3 110.3 479.8 110.3 480.3 110.6 480.8 109.7 481.3 110.3 481.8 110.7 482.3 109.8 482.8 110.5 483.3 110.0 483.8 110.2 484.3 110.1 484.8 110.2 485.3 110.4 485.8 110.2 486.3 109.5 486.8 111.0 487.3 110.2 487.8 110.1 488.3 110.6 488.8 110.7 489.3 109.5 489.8 110.3 490.3 109.5 490.8 110.0 491.3 110.2 491.8 110.1 492.3 110.0 492.8 109.8 493.3 110.1 493.8 110.2 494.3 110.2 494.8 109.7 495.3 109.9 495.8 110.6 496.3 110.4 496.8 110.1 497.3 110.4 497.8 110.3 498.3 110.6 498.8 110.3 499.3 110.1 499.8 109.9 500.3 110.2 500.8 109.5 501.3 110.2 501.8 109.1 502.3 109.9 502.8 110.0 503.3 110.4 503.8 111.2 504.3 110.3 504.8 110.2 505.3 109.5 505.8 110.7 506.3 109.5 506.8 110.3 507.3 110.0 507.8 111.1 508.3 110.0 508.8 110.0 509.3 109.5 509.8 109.5 510.3 109.7 510.8 108.8 511.3 108.6 511.8 108.5 512.3 108.1 512.8 107.9 513.3 108.1 513.8 108.4 514.3 108.2 514.8 107.0 515.3 107.0 515.8 107.0 516.3 107.0 516.8 106.7 517.3 106.5 517.8 106.4 518.3 106.3 518.8 105.1 519.3 105.6 519.8 105.7 520.3 105.9 520.8 105.7 521.3 105.2 521.8 105.2 522.3 105.6 522.8 105.5 523.3 105.6 523.8 105.9 524.3 105.1 524.8 105.4 525.3 104.7 525.8 105.8 526.3 105.6 526.8 105.3 527.3 105.7 527.8 106.1 528.3 106.0 528.8 105.6 529.3 105.6 529.8 105.7 530.3 105.4 530.8 105.4 531.3 105.6 531.8 105.8 532.3 105.9 532.8 105.6 533.3 105.5 533.8 105.8 534.3 105.7 534.8 106.0 535.3 106.3 535.8 106.2 536.3 105.5 536.8 105.6 537.3 105.2 537.8 105.7 538.3 105.4 538.8 105.2 539.3 105.3 539.8 105.8 540.3 105.6 540.8 105.5 541.3 105.9 541.8 105.3 542.3 105.1 542.8 105.6 543.3 104.7 543.8 105.5 544.3 105.4 544.8 105.4 545.3 105.5 545.8 104.9 546.3 104.8 546.8 104.0 547.3 104.2 547.8 104.0 548.3 104.1 548.8 104.3 549.3 103.6 549.8 103.7 550.3 102.9 550.8 103.3 551.3 102.6 551.8 102.9 552.3 102.9 552.8 103.1 553.3 103.1 553.8 102.9 554.3 102.8 554.8 103.3 555.3 102.9 555.8 102.1 556.3 103.0 556.8 103.0 557.3 103.2 557.8 103.4 558.3 102.5 558.8 102.8 559.3 102.7 559.8 102.1 560.3 101.9 560.8 103.0 561.3 102.3 561.8 102.4 562.3 102.5 562.8 102.4 563.3 102.5 563.8 101.9 564.3 102.2 564.8 102.3 565.3 101.9 565.8 102.0 566.3 102.0 566.8 102.0 567.3 101.4 567.8 101.8 568.3 101.9 568.8 102.1 569.3 101.8 569.8 102.0 570.3 101.4 570.8 101.2 571.3 101.9 571.8 101.0 572.3 100.5 572.8 100.4 573.3 100.4 573.8 99.1 574.3 99.1 574.8 98.3 575.3 96.9 575.8 94.7 576.3 91.8 576.8 88.3 577.3 84.3 577.8 79.4 578.3 73.0 578.8 66.3 579.3 59.1 579.8 53.1 580.3 47.2 580.8 43.6 581.3 43.2 581.8 44.0 582.3 46.6 582.8 50.0 583.3 53.7 583.8 57.5 584.3 62.4 584.8 67.8 585.3 72.0 585.8 77.1 586.3 80.7 586.8 85.0 587.3 88.7 587.8 91.3 588.3 94.5 588.8 96.7 589.3 98.8 589.8 99.7 590.3 101.0 590.8 102.0 591.3 103.0 591.8 103.0 592.3 104.2 592.8 104.6 593.3 104.3 593.8 104.4 594.3 105.0 594.8 105.9 595.3 105.7 595.8 105.4 596.3 105.7 596.8 105.3 597.3 106.4 597.8 105.8 598.3 106.4 598.8 105.8 599.3 106.3 599.8 106.0 600.3 106.7 600.8 107.0 601.3 106.9 601.8 106.8 602.3 107.0 602.8 106.3 603.3 106.2 603.8 106.6 604.3 107.1 604.8 106.8 605.3 107.0 605.8 106.2 606.3 106.5 606.8 106.4 607.3 106.5 607.8 106.9 608.3 106.1 608.8 105.8 609.3 104.8 609.8 104.3 610.3 103.9 610.8 103.0 611.3 101.6 611.8 101.8 612.3 101.4 612.8 100.9 613.3 101.1 613.8 101.4 614.3 101.6 614.8 101.9 615.3 103.9 615.8 104.1 616.3 104.8 616.8 105.5 617.3 106.1 617.8 106.6 618.3 106.5 618.8 107.3 619.3 107.4 619.8 107.5 620.3 107.6 620.8 107.8 621.3 107.4 621.8 107.8 622.3 107.8 622.8 107.9 623.3 108.3 623.8 108.3 624.3 108.4 624.8 108.0 625.3 108.4 625.8 108.5 626.3 108.1 626.8 108.0 627.3 108.8 627.8 107.7 628.3 108.3 628.8 108.3 629.3 108.0 629.8 108.3 630.3 108.6 630.8 107.6 631.3 108.8 631.8 108.5 632.3 108.2 632.8 108.9 633.3 108.6 633.8 108.4 634.3 107.7 634.8 108.9 635.3 108.6 635.8 108.4 636.3 108.6 636.8 109.1 637.3 108.6 637.8 108.7 638.3 108.6 638.8 108.4 639.3 108.4 639.8 108.7 640.3 108.7 640.8 109.3 641.3 108.9 641.8 108.8 642.3 109.1 642.8 108.9 643.3 109.3 643.8 108.5 644.3 108.3 644.8 109.2 645.3 109.0 645.8 109.2 646.3 108.7 646.8 109.0 647.3 109.2 647.8 109.3 648.3 109.2 648.8 109.6 649.3 109.1 649.8 109.6 650.3 109.2 650.8 109.4 651.3 109.0 651.8 109.5 652.3 109.1 652.8 109.8 653.3 109.3 653.8 109.6 654.3 109.5 654.8 109.6 655.3 109.3 655.8 110.4 656.3 109.6 656.8 110.2 657.3 109.3 657.8 110.5 658.3 110.1 658.8 110.4 659.3 109.3 659.8 110.3 660.3 109.9 660.8 110.1 661.3 110.6 661.8 110.1 662.3 109.8 662.8 110.1 663.3 109.7 663.8 110.2 664.3 110.1 664.8 110.3 665.3 110.0 665.8 109.5 666.3 110.1 666.8 110.2 667.3 110.5 667.8 110.6 668.3 109.8 668.8 110.7 669.3 110.7 669.8 110.4 670.3 110.5 670.8 109.7 671.3 111.2" stroke="#808080" stroke-width="2.6" fill="none" stroke-linejoin="round" clip-path="url(#c1)"/>
<path d="M392.5 113.75v2.6M392.5 12.1v-2.6M401 113.75v2.6M401 12.1v-2.6M409.5 113.75v2.6M409.5 12.1v-2.6M418 113.75v2.6M418 12.1v-2.6M426.5 113.75v2.6M426.5 12.1v-2.6M435 113.75v2.6M435 12.1v-2.6M443.5 113.75v3.8M443.5 12.1v-3.8M452 113.75v2.6M452 12.1v-2.6M460.5 113.75v2.6M460.5 12.1v-2.6M469 113.75v2.6M469 12.1v-2.6M477.5 113.75v2.6M477.5 12.1v-2.6M486 113.75v2.6M486 12.1v-2.6M494.5 113.75v2.6M494.5 12.1v-2.6M503 113.75v2.6M503 12.1v-2.6M511.5 113.75v2.6M511.5 12.1v-2.6M520 113.75v2.6M520 12.1v-2.6M528.5 113.75v3.8M528.5 12.1v-3.8M537 113.75v2.6M537 12.1v-2.6M545.5 113.75v2.6M545.5 12.1v-2.6M554 113.75v2.6M554 12.1v-2.6M562.5 113.75v2.6M562.5 12.1v-2.6M571 113.75v2.6M571 12.1v-2.6M579.5 113.75v2.6M579.5 12.1v-2.6M588 113.75v2.6M588 12.1v-2.6M596.5 113.75v2.6M596.5 12.1v-2.6M605 113.75v2.6M605 12.1v-2.6M613.5 113.75v3.8M613.5 12.1v-3.8M622 113.75v2.6M622 12.1v-2.6M630.5 113.75v2.6M630.5 12.1v-2.6M639 113.75v2.6M639 12.1v-2.6M647.5 113.75v2.6M647.5 12.1v-2.6M656 113.75v2.6M656 12.1v-2.6M664.5 113.75v2.6M664.5 12.1v-2.6M386.05 112.5h-3.8M671.65 112.5h3.8M386.05 102.78h-2.6M671.65 102.78h2.6M386.05 93.06h-2.6M671.65 93.06h2.6M386.05 83.34h-2.6M671.65 83.34h2.6M386.05 73.62h-2.6M671.65 73.62h2.6M386.05 63.9h-3.8M671.65 63.9h3.8M386.05 54.18h-2.6M671.65 54.18h2.6M386.05 44.46h-2.6M671.65 44.46h2.6M386.05 34.74h-2.6M671.65 34.74h2.6M386.05 25.02h-2.6M671.65 25.02h2.6M386.05 15.3h-3.8M671.65 15.3h3.8" stroke="#000" stroke-width="2.3" fill="none"/>
<rect x="387.3" y="13.35" width="283.1" height="99.15" fill="none" stroke="#000" stroke-width="2.5"/>
<text x="442" y="128.7" font-size="10.3" letter-spacing="1.1" text-anchor="middle" fill="#1c1c1c">262.0</text>
<text x="527.2" y="128.7" font-size="10.3" letter-spacing="1.1" text-anchor="middle" fill="#1c1c1c">262.5</text>
<text x="610.6" y="128.7" font-size="10.3" letter-spacing="1.1" text-anchor="middle" fill="#1c1c1c">263.0</text>
<text x="380.8" y="117.1" font-size="10.3" letter-spacing="1.1" text-anchor="end" fill="#1c1c1c">0.0</text>
<text x="380.8" y="68.5" font-size="10.3" letter-spacing="1.1" text-anchor="end" fill="#1c1c1c">0.5</text>
<text x="380.8" y="19.9" font-size="10.3" letter-spacing="1.1" text-anchor="end" fill="#1c1c1c">1.0</text>
<text x="495.4" y="140.9" font-size="13.1" fill="#111">mass</text>
<text x="529.6999999999999" y="140.9" font-size="13.5" letter-spacing="0.9" fill="#111">(m/z)</text>
<g transform="translate(354.5 62.92) rotate(-90)" font-size="13" fill="#111"><text x="-63.9" y="0" letter-spacing="1.25">Intensity</text><text x="1.7" y="0">(c/s)</text><text x="31.8" y="0">×</text><text x="42.4" y="0" letter-spacing="0.6">10</text><text x="57.4" y="-5.4" font-size="9">3</text></g>
<path d="M410.6 78V63.1H437.9" stroke="#000" stroke-width="1.3" fill="none"/>
<text x="413.6" y="74.5" text-anchor="start" letter-spacing="0.8" fill="#1a1a1a"><tspan dy="-0" font-size="12.8">Zr</tspan><tspan dy="3.1" font-size="8.6">2</tspan><tspan dy="-3.1" font-size="12.8">O</tspan><tspan dy="3.1" font-size="8.6">5</tspan><tspan dy="-3.1" font-size="12.8">H</tspan><tspan dy="3.1" font-size="8.6">2</tspan><tspan dy="-8.3" font-size="8.6">−</tspan></text>
<path d="M581.1 40.4V26.6H608.2" stroke="#000" stroke-width="1.3" fill="none"/>
<text x="584" y="38.3" text-anchor="start" letter-spacing="0.8" fill="#1a1a1a"><tspan dy="-0" font-size="12.8">Zr</tspan><tspan dy="3.1" font-size="8.6">2</tspan><tspan dy="-3.1" font-size="12.8">O</tspan><tspan dy="3.1" font-size="8.6">5</tspan><tspan dy="-3.1" font-size="12.8">H</tspan><tspan dy="3.1" font-size="8.6">3</tspan><tspan dy="-8.3" font-size="8.6">−</tspan></text>
<rect x="38.45" y="149.5" width="283.25" height="101.6" fill="#d5e5fd"/>
<path d="M37.5 248.9 38.0 248.7 38.5 249.6 39.0 249.3 39.5 248.7 40.0 248.1 40.5 249.3 41.0 249.6 41.5 248.3 42.0 248.0 42.5 248.9 43.0 249.8 43.5 247.9 44.0 248.7 44.5 248.0 45.0 248.5 45.5 248.5 46.0 248.4 46.5 247.2 47.0 246.9 47.5 248.4 48.0 247.7 48.5 246.3 49.0 247.6 49.5 248.3 50.0 247.9 50.5 248.1 51.0 248.2 51.5 248.5 52.0 248.5 52.5 248.6 53.0 248.3 53.5 248.9 54.0 248.7 54.5 248.7 55.0 248.0 55.5 248.5 56.0 248.8 56.5 248.5 57.0 248.6 57.5 248.3 58.0 248.6 58.5 248.0 59.0 248.3 59.5 249.0 60.0 249.2 60.5 248.6 61.0 248.8 61.5 249.1 62.0 249.8 62.5 250.0 63.0 248.9 63.5 248.7 64.0 248.6 64.5 249.7 65.0 248.5 65.5 249.3 66.0 248.9 66.5 248.8 67.0 249.4 67.5 249.3 68.0 250.1 68.5 249.5 69.0 249.9 69.5 248.8 70.0 249.0 70.5 248.6 71.0 248.9 71.5 249.4 72.0 248.9 72.5 249.2 73.0 248.7 73.5 248.9 74.0 249.5 74.5 249.0 75.0 249.0 75.5 249.2 76.0 248.6 76.5 248.2 77.0 249.2 77.5 249.2 78.0 250.2 78.5 249.1 79.0 249.3 79.5 250.1 80.0 248.9 80.5 248.8 81.0 249.4 81.5 249.2 82.0 249.5 82.5 248.7 83.0 249.8 83.5 249.2 84.0 248.1 84.5 249.0 85.0 248.8 85.5 249.1 86.0 249.6 86.5 249.1 87.0 248.8 87.5 249.6 88.0 248.9 88.5 248.4 89.0 248.5 89.5 249.8 90.0 249.5 90.5 249.9 91.0 248.5 91.5 248.7 92.0 248.7 92.5 249.5 93.0 249.6 93.5 249.0 94.0 249.0 94.5 249.5 95.0 249.0 95.5 248.7 96.0 248.9 96.5 249.6 97.0 250.1 97.5 249.2 98.0 249.0 98.5 249.2 99.0 249.3 99.5 249.4 100.0 248.7 100.5 249.0 101.0 248.8 101.5 249.3 102.0 249.1 102.5 248.6 103.0 249.1 103.5 249.1 104.0 248.6 104.5 247.8 105.0 248.2 105.5 247.5 106.0 248.2 106.5 248.2 107.0 248.6 107.5 248.1 108.0 247.0 108.5 247.5 109.0 247.3 109.5 247.3 110.0 247.6 110.5 247.6 111.0 247.4 111.5 247.1 112.0 247.1 112.5 247.1 113.0 247.2 113.5 247.6 114.0 247.2 114.5 247.5 115.0 246.5 115.5 247.9 116.0 246.9 116.5 245.5 117.0 246.8 117.5 247.2 118.0 246.5 118.5 245.8 119.0 246.5 119.5 246.1 120.0 246.3 120.5 246.5 121.0 244.8 121.5 246.3 122.0 246.6 122.5 246.6 123.0 246.2 123.5 246.3 124.0 246.1 124.5 246.5 125.0 247.4 125.5 246.5 126.0 246.9 126.5 247.0 127.0 247.7 127.5 247.3 128.0 247.5 128.4 247.2 128.9 248.0 129.4 247.3 129.9 247.3 130.4 248.0 130.9 247.8 131.4 248.0 131.9 247.1 132.4 248.8 132.9 247.7 133.4 248.3 133.9 247.6 134.4 246.9 134.9 247.6 135.4 247.1 135.9 247.6 136.4 246.1 136.9 246.5 137.4 246.3 137.9 247.5 138.4 247.4 138.9 246.3 139.4 247.0 139.9 247.1 140.4 246.8 140.9 247.6 141.4 246.7 141.9 247.1 142.4 246.9 142.9 247.5 143.4 246.9 143.9 247.5 144.4 246.7 144.9 246.7 145.4 246.8 145.9 247.1 146.4 247.0 146.9 248.7 147.4 247.0 147.9 247.6 148.4 247.4 148.9 247.6 149.4 248.2 149.9 247.8 150.4 247.3 150.9 246.9 151.4 248.0 151.9 248.2 152.4 247.0 152.9 248.2 153.4 246.8 153.9 247.9 154.4 248.4 154.9 247.5 155.4 247.2 155.9 248.8 156.4 247.3 156.9 248.3 157.4 247.5 157.9 248.4 158.4 249.1 158.9 248.1 159.4 247.9 159.9 247.4 160.4 247.6 160.9 248.2 161.4 248.7 161.9 248.8 162.4 248.8 162.9 249.1 163.4 248.9 163.9 250.0 164.4 248.7 164.9 248.9 165.4 247.6 165.9 248.5 166.4 249.1 166.9 248.6 167.4 249.5 167.9 249.2 168.4 249.8 168.9 248.2 169.4 248.6 169.9 249.5 170.4 248.9 170.9 248.4 171.4 248.6 171.9 248.7 172.4 249.3 172.9 249.2 173.4 248.9 173.9 248.4 174.4 249.3 174.9 249.5 175.4 248.3 175.9 249.4 176.4 248.4 176.9 248.8 177.4 248.5 177.9 248.1 178.4 248.6 178.9 248.5 179.4 249.4 179.9 249.3 180.4 248.6 180.9 248.2 181.4 248.2 181.9 247.8 182.4 248.8 182.9 248.9 183.4 248.5 183.9 248.9 184.4 249.0 184.9 249.5 185.4 248.5 185.9 249.5 186.4 248.7 186.9 249.7 187.4 248.4 187.9 249.5 188.4 248.6 188.9 249.8 189.4 249.2 189.9 248.4 190.4 249.4 190.9 249.0 191.4 249.2 191.9 250.2 192.4 248.9 192.9 248.8 193.4 249.6 193.9 248.7 194.4 249.4 194.9 249.5 195.4 249.0 195.9 249.4 196.4 247.9 196.9 249.8 197.4 248.7 197.9 248.5 198.4 250.0 198.9 249.9 199.4 248.8 199.9 249.3 200.4 248.9 200.9 248.5 201.4 249.2 201.9 249.6 202.4 250.4 202.9 248.9 203.4 249.5 203.9 248.9 204.4 248.9 204.9 249.7 205.4 248.2 205.9 248.5 206.4 248.6 206.9 249.6 207.4 249.2 207.9 249.3 208.4 249.2 208.9 249.6 209.4 248.8 209.9 248.9 210.4 248.8 210.9 249.3 211.4 248.4 211.9 248.9 212.4 250.4 212.9 249.3 213.4 249.0 213.9 248.5 214.4 249.2 214.9 249.1 215.4 249.3 215.9 248.7 216.4 249.2 216.9 249.3 217.4 249.4 217.9 248.7 218.4 249.3 218.9 249.8 219.4 248.7 219.9 249.3 220.4 248.8 220.9 248.8 221.4 248.4 221.9 248.5 222.4 249.3 222.9 249.1 223.4 249.6 223.9 248.1 224.4 248.8 224.9 248.3 225.4 249.1 225.9 250.0 226.4 248.2 226.9 248.9 227.4 248.9 227.9 248.9 228.4 248.6 228.9 248.7 229.4 249.8 229.9 248.4 230.4 249.2 230.9 249.2 231.4 248.1 231.9 248.5 232.4 249.1 232.9 249.9 233.4 248.9 233.9 248.7 234.4 249.0 234.9 249.6 235.4 249.3 235.9 249.6 236.4 248.8 236.9 248.5 237.4 248.4 237.9 249.3 238.4 248.8 238.9 248.7 239.4 249.2 239.9 249.0 240.4 247.9 240.9 248.8 241.4 248.5 241.9 249.1 242.4 248.9 242.9 249.8 243.4 248.9 243.9 248.3 244.4 247.9 244.9 248.3 245.4 248.6 245.9 248.9 246.4 249.2 246.9 249.0 247.4 248.6 247.9 249.3 248.4 248.4 248.9 249.4 249.4 249.8 249.9 249.4 250.4 249.7 250.9 249.6 251.4 248.3 251.9 249.0 252.4 248.8 252.9 248.3 253.4 248.3 253.9 249.1 254.4 248.2 254.9 248.7 255.4 248.9 255.9 248.7 256.4 249.6 256.9 249.3 257.4 248.9 257.9 248.6 258.4 249.1 258.9 248.9 259.4 248.4 259.9 248.2 260.4 248.5 260.9 248.2 261.4 249.1 261.9 249.0 262.4 248.7 262.9 249.0 263.4 249.1 263.9 248.0 264.4 249.0 264.9 249.3 265.4 248.6 265.9 247.9 266.4 248.8 266.9 248.2 267.4 249.1 267.9 249.1 268.4 249.2 268.9 248.9 269.4 247.9 269.9 249.4 270.4 247.9 270.9 249.2 271.4 248.7 271.9 248.1 272.4 248.1 272.9 248.2 273.4 249.0 273.9 248.0 274.4 248.6 274.9 246.7 275.4 248.0 275.9 247.7 276.4 248.2 276.9 247.8 277.4 248.1 277.9 246.9 278.4 247.4 278.9 246.9 279.4 247.4 279.9 247.2 280.4 246.2 280.9 247.3 281.4 247.7 281.9 246.5 282.4 247.2 282.9 246.8 283.4 246.0 283.9 246.8 284.4 245.8 284.9 246.5 285.4 245.3 285.9 245.3 286.4 246.1 286.9 245.9 287.4 246.1 287.9 245.5 288.4 244.9 288.9 246.2 289.4 244.9 289.9 246.0 290.4 245.7 290.9 246.2 291.4 244.2 291.9 245.2 292.4 245.2 292.9 245.7 293.4 244.8 293.9 246.5 294.4 245.5 294.9 244.5 295.4 245.8 295.9 245.7 296.4 245.5 296.9 246.3 297.4 245.9 297.9 245.5 298.4 246.0 298.9 245.9 299.4 246.4 299.9 246.1 300.4 246.3 300.9 245.6 301.4 246.1 301.9 246.6 302.4 247.7 302.9 246.2 303.4 246.2 303.9 247.1 304.4 247.7 304.9 247.3 305.4 246.2 305.9 247.3 306.4 247.0 306.9 246.7 307.4 246.2 307.9 246.8 308.4 246.9 308.9 247.1 309.4 246.0 309.9 246.3 310.4 246.9 310.9 247.6 311.4 247.3 311.9 246.7 312.4 247.3 312.9 246.5 313.4 246.8 313.9 246.9 314.4 246.7 314.9 246.8 315.4 247.5 315.9 247.3 316.4 246.1 316.9 247.9 317.4 247.6 317.9 246.9 318.4 247.6 318.9 248.0 319.4 248.3 319.9 247.5 320.4 247.3 320.9 247.2 321.4 247.9 321.9 247.5 322.4 248.6" stroke="#ff0000" stroke-width="2.0" fill="none" stroke-linejoin="round" clip-path="url(#c2)"/>
<path d="M37.5 249.2 38.0 249.5 38.5 249.2 39.0 249.0 39.5 248.9 40.0 249.6 40.5 248.8 41.0 249.4 41.5 249.6 42.0 249.3 42.5 249.8 43.0 249.2 43.5 249.1 44.0 249.3 44.5 249.1 45.0 249.4 45.5 249.2 46.0 249.7 46.5 249.2 47.0 249.5 47.5 249.4 48.0 249.3 48.5 249.2 49.0 249.8 49.5 249.8 50.0 249.3 50.5 249.1 51.0 249.1 51.5 248.9 52.0 248.8 52.5 249.1 53.0 249.2 53.5 249.6 54.0 249.6 54.5 249.4 55.0 249.1 55.5 249.2 56.0 249.2 56.5 249.3 57.0 249.0 57.5 249.2 58.0 249.1 58.5 249.1 59.0 249.4 59.5 249.6 60.0 249.1 60.5 249.1 61.0 249.3 61.5 249.4 62.0 248.4 62.5 249.5 63.0 249.3 63.5 249.1 64.0 249.6 64.5 249.2 65.0 248.6 65.5 248.9 66.0 249.0 66.5 249.0 67.0 249.2 67.5 248.9 68.0 249.3 68.5 249.4 69.0 249.2 69.5 248.9 70.0 249.1 70.5 249.0 71.0 249.9 71.5 248.8 72.0 248.4 72.5 248.8 73.0 249.3 73.5 249.5 74.0 249.1 74.5 249.6 75.0 249.0 75.5 249.4 76.0 248.9 76.5 248.8 77.0 249.9 77.5 249.1 78.0 249.5 78.5 249.7 79.0 249.4 79.5 249.3 80.0 248.9 80.5 249.8 81.0 248.9 81.5 248.5 82.0 249.0 82.5 249.0 83.0 249.2 83.5 249.6 84.0 249.0 84.5 249.1 85.0 249.0 85.5 248.3 86.0 249.0 86.5 249.1 87.0 248.7 87.5 249.7 88.0 249.6 88.5 249.3 89.0 249.4 89.5 249.0 90.0 249.3 90.5 248.6 91.0 248.7 91.5 248.9 92.0 249.3 92.5 249.0 93.0 248.9 93.5 249.6 94.0 249.1 94.5 248.9 95.0 249.1 95.5 248.6 96.0 248.8 96.5 249.5 97.0 249.1 97.5 249.5 98.0 249.0 98.5 249.5 99.0 248.8 99.5 249.0 100.0 248.8 100.5 249.2 101.0 249.7 101.5 248.5 102.0 249.2 102.5 248.6 103.0 249.0 103.5 248.9 104.0 248.5 104.5 249.0 105.0 248.6 105.5 249.6 106.0 248.8 106.5 249.1 107.0 249.1 107.5 249.0 108.0 248.9 108.5 248.4 109.0 249.6 109.5 248.9 110.0 249.1 110.5 248.4 111.0 249.0 111.5 248.6 112.0 248.8 112.5 248.4 113.0 248.2 113.5 248.5 114.0 248.1 114.5 248.3 115.0 247.1 115.5 246.0 116.0 245.2 116.5 242.7 117.0 241.3 117.5 238.1 118.0 234.5 118.5 230.7 119.0 227.7 119.5 226.0 120.0 225.9 120.5 226.7 121.0 229.0 121.5 231.7 122.0 234.3 122.5 235.8 123.0 239.9 123.5 241.4 124.0 242.7 124.5 244.5 125.0 246.1 125.5 246.7 126.0 247.0 126.5 247.3 127.0 248.3 127.5 248.0 128.0 248.3 128.4 248.1 128.9 248.1 129.4 248.8 129.9 249.2 130.4 248.6 130.9 248.2 131.4 248.6 131.9 248.8 132.4 248.0 132.9 249.3 133.4 248.6 133.9 249.2 134.4 249.0 134.9 249.0 135.4 248.5 135.9 249.3 136.4 249.2 136.9 249.6 137.4 248.9 137.9 249.2 138.4 248.9 138.9 249.5 139.4 249.2 139.9 248.7 140.4 249.2 140.9 248.9 141.4 248.9 141.9 249.2 142.4 249.7 142.9 248.8 143.4 249.1 143.9 248.8 144.4 249.8 144.9 249.7 145.4 249.9 145.9 249.5 146.4 248.8 146.9 249.0 147.4 249.2 147.9 249.1 148.4 248.9 148.9 249.3 149.4 249.0 149.9 249.1 150.4 249.9 150.9 249.3 151.4 248.7 151.9 249.3 152.4 249.2 152.9 249.4 153.4 249.3 153.9 248.7 154.4 249.2 154.9 249.5 155.4 250.2 155.9 249.3 156.4 249.8 156.9 249.8 157.4 248.8 157.9 248.9 158.4 249.8 158.9 248.8 159.4 248.9 159.9 249.4 160.4 248.8 160.9 249.6 161.4 249.5 161.9 249.6 162.4 249.4 162.9 248.7 163.4 249.5 163.9 249.4 164.4 249.4 164.9 249.0 165.4 249.1 165.9 248.7 166.4 249.3 166.9 249.5 167.4 249.2 167.9 249.0 168.4 249.3 168.9 248.9 169.4 248.3 169.9 249.2 170.4 249.0 170.9 248.5 171.4 249.2 171.9 249.3 172.4 249.3 172.9 248.8 173.4 248.8 173.9 249.0 174.4 248.9 174.9 248.5 175.4 248.6 175.9 249.4 176.4 248.9 176.9 248.9 177.4 248.6 177.9 249.0 178.4 249.1 178.9 249.0 179.4 249.5 179.9 248.9 180.4 249.1 180.9 248.7 181.4 249.2 181.9 249.0 182.4 249.2 182.9 249.2 183.4 248.6 183.9 249.0 184.4 248.7 184.9 249.2 185.4 248.8 185.9 249.4 186.4 249.0 186.9 249.0 187.4 248.6 187.9 248.7 188.4 248.8 188.9 248.5 189.4 248.7 189.9 248.6 190.4 248.5 190.9 248.8 191.4 248.8 191.9 248.6 192.4 248.9 192.9 248.6 193.4 248.3 193.9 248.4 194.4 248.8 194.9 249.1 195.4 248.7 195.9 248.7 196.4 248.3 196.9 248.8 197.4 248.7 197.9 248.4 198.4 248.8 198.9 248.7 199.4 248.0 199.9 248.1 200.4 248.4 200.9 248.5 201.4 248.9 201.9 248.4 202.4 248.6 202.9 248.5 203.4 248.7 203.9 248.6 204.4 248.6 204.9 248.4 205.4 248.0 205.9 248.4 206.4 249.1 206.9 248.8 207.4 249.0 207.9 248.7 208.4 248.2 208.9 248.3 209.4 248.6 209.9 248.3 210.4 248.6 210.9 248.8 211.4 248.8 211.9 248.6 212.4 247.7 212.9 248.6 213.4 247.7 213.9 247.6 214.4 248.1 214.9 248.0 215.4 248.1 215.9 247.8 216.4 247.5 216.9 247.7 217.4 247.2 217.9 247.1 218.4 247.3 218.9 247.2 219.4 247.2 219.9 247.0 220.4 247.4 220.9 246.8 221.4 246.8 221.9 247.0 222.4 245.9 222.9 246.9 223.4 246.8 223.9 246.3 224.4 247.0 224.9 246.6 225.4 246.8 225.9 246.6 226.4 246.3 226.9 246.2 227.4 245.9 227.9 246.1 228.4 246.0 228.9 246.2 229.4 246.7 229.9 246.2 230.4 246.8 230.9 246.9 231.4 246.3 231.9 246.6 232.4 246.9 232.9 246.8 233.4 246.8 233.9 247.7 234.4 247.3 234.9 247.8 235.4 247.4 235.9 247.7 236.4 247.0 236.9 247.4 237.4 247.9 237.9 247.7 238.4 248.1 238.9 247.7 239.4 247.5 239.9 247.7 240.4 248.5 240.9 247.9 241.4 247.7 241.9 247.8 242.4 247.5 242.9 248.4 243.4 247.8 243.9 248.2 244.4 247.9 244.9 247.9 245.4 247.8 245.9 248.2 246.4 248.0 246.9 248.5 247.4 248.6 247.9 247.9 248.4 248.1 248.9 248.7 249.4 248.4 249.9 248.1 250.4 247.6 250.9 247.8 251.4 247.9 251.9 248.8 252.4 248.2 252.9 248.0 253.4 248.0 253.9 248.0 254.4 248.3 254.9 247.6 255.4 247.7 255.9 248.2 256.4 248.6 256.9 247.5 257.4 248.4 257.9 247.8 258.4 247.6 258.9 248.6 259.4 248.1 259.9 248.4 260.4 248.1 260.9 248.2 261.4 247.6 261.9 248.1 262.4 248.3 262.9 247.9 263.4 248.4 263.9 248.4 264.4 247.5 264.9 248.6 265.4 248.5 265.9 248.3 266.4 248.7 266.9 249.0 267.4 247.9 267.9 248.6 268.4 248.5 268.9 248.4 269.4 248.6 269.9 248.7 270.4 248.2 270.9 247.4 271.4 248.0 271.9 248.0 272.4 248.8 272.9 248.2 273.4 248.6 273.9 247.9 274.4 248.2 274.9 248.1 275.4 248.1 275.9 248.3 276.4 248.6 276.9 247.8 277.4 248.4 277.9 248.3 278.4 247.9 278.9 248.0 279.4 247.6 279.9 247.3 280.4 247.5 280.9 247.4 281.4 247.3 281.9 246.9 282.4 247.6 282.9 246.6 283.4 246.7 283.9 246.3 284.4 245.1 284.9 244.1 285.4 242.0 285.9 239.3 286.4 237.0 286.9 231.6 287.4 225.0 287.9 218.6 288.4 211.0 288.9 204.3 289.4 198.7 289.9 194.8 290.4 193.4 290.9 194.5 291.4 197.6 291.9 201.1 292.4 205.4 292.9 210.9 293.4 215.4 293.9 219.5 294.4 223.9 294.9 228.8 295.4 231.7 295.9 235.7 296.4 238.4 296.9 241.0 297.4 241.5 297.9 243.3 298.4 243.3 298.9 244.8 299.4 245.4 299.9 246.6 300.4 245.7 300.9 246.6 301.4 246.8 301.9 247.6 302.4 246.7 302.9 246.8 303.4 247.4 303.9 247.2 304.4 247.2 304.9 247.1 305.4 247.4 305.9 246.9 306.4 247.6 306.9 247.7 307.4 247.7 307.9 248.4 308.4 247.7 308.9 246.9 309.4 247.0 309.9 247.1 310.4 246.2 310.9 246.4 311.4 245.0 311.9 243.8 312.4 242.7 312.9 242.2 313.4 240.7 313.9 239.7 314.4 240.3 314.9 240.2 315.4 241.8 315.9 242.9 316.4 243.1 316.9 244.3 317.4 245.2 317.9 246.3 318.4 246.8 318.9 246.9 319.4 246.9 319.9 247.8 320.4 248.4 320.9 247.5 321.4 247.8 321.9 247.8 322.4 248.1" stroke="#1e8fff" stroke-width="2.0" fill="none" stroke-linejoin="round" clip-path="url(#c2)"/>
<path d="M37.5 246.8 38.0 247.8 38.5 247.6 39.0 248.7 39.5 248.1 40.0 248.2 40.5 247.9 41.0 247.7 41.5 248.2 42.0 247.1 42.5 248.3 43.0 248.1 43.5 247.7 44.0 248.4 44.5 247.6 45.0 247.6 45.5 248.0 46.0 247.0 46.5 247.8 47.0 247.7 47.5 248.3 48.0 248.6 48.5 248.1 49.0 248.0 49.5 248.1 50.0 247.5 50.5 248.9 51.0 248.4 51.5 248.7 52.0 247.2 52.5 248.1 53.0 248.1 53.5 248.3 54.0 247.4 54.5 248.0 55.0 247.7 55.5 248.8 56.0 247.3 56.5 247.7 57.0 247.6 57.5 247.3 58.0 247.9 58.5 247.9 59.0 247.5 59.5 247.7 60.0 248.0 60.5 247.8 61.0 248.1 61.5 247.5 62.0 247.4 62.5 247.8 63.0 247.0 63.5 248.5 64.0 247.9 64.5 247.1 65.0 248.0 65.5 248.6 66.0 247.2 66.5 247.6 67.0 248.4 67.5 247.5 68.0 248.3 68.5 248.4 69.0 247.9 69.5 248.1 70.0 248.3 70.5 248.0 71.0 248.3 71.5 247.8 72.0 247.8 72.5 247.5 73.0 248.0 73.5 248.4 74.0 248.4 74.5 247.9 75.0 247.1 75.5 247.4 76.0 248.1 76.5 247.4 77.0 248.3 77.5 247.4 78.0 248.0 78.5 247.5 79.0 247.5 79.5 247.9 80.0 247.7 80.5 248.3 81.0 247.8 81.5 247.3 82.0 246.0 82.5 247.5 83.0 247.8 83.5 248.3 84.0 247.3 84.5 248.5 85.0 248.2 85.5 247.6 86.0 248.3 86.5 247.1 87.0 247.3 87.5 248.0 88.0 248.0 88.5 248.4 89.0 248.4 89.5 247.6 90.0 247.5 90.5 247.6 91.0 247.6 91.5 248.0 92.0 247.6 92.5 248.4 93.0 247.7 93.5 247.1 94.0 247.1 94.5 247.9 95.0 247.9 95.5 247.1 96.0 246.9 96.5 248.4 97.0 247.9 97.5 247.6 98.0 247.1 98.5 248.1 99.0 247.4 99.5 247.8 100.0 246.6 100.5 247.4 101.0 247.5 101.5 247.5 102.0 246.7 102.5 246.8 103.0 247.5 103.5 246.8 104.0 247.4 104.5 247.0 105.0 247.1 105.5 247.0 106.0 246.6 106.5 246.6 107.0 245.8 107.5 245.5 108.0 245.8 108.5 246.1 109.0 245.0 109.5 246.4 110.0 246.5 110.5 245.4 111.0 245.5 111.5 245.4 112.0 245.9 112.5 246.2 113.0 245.6 113.5 244.5 114.0 244.3 114.5 243.1 115.0 241.8 115.5 239.8 116.0 236.4 116.5 233.7 117.0 231.2 117.5 227.8 118.0 224.2 118.5 220.6 119.0 219.1 119.5 217.4 120.0 218.2 120.5 218.4 121.0 218.7 121.5 220.1 122.0 222.9 122.5 224.9 123.0 226.4 123.5 229.3 124.0 231.6 124.5 233.3 125.0 235.4 125.5 236.8 126.0 238.6 126.5 240.7 127.0 241.7 127.5 242.7 128.0 244.2 128.4 244.7 128.9 244.4 129.4 246.0 129.9 245.2 130.4 245.9 130.9 246.3 131.4 246.2 131.9 246.3 132.4 246.1 132.9 247.0 133.4 247.0 133.9 247.1 134.4 246.2 134.9 246.6 135.4 247.5 135.9 247.3 136.4 247.5 136.9 247.2 137.4 247.2 137.9 246.3 138.4 248.2 138.9 246.9 139.4 247.2 139.9 247.7 140.4 247.5 140.9 247.7 141.4 247.5 141.9 247.0 142.4 248.2 142.9 246.9 143.4 247.7 143.9 246.9 144.4 247.4 144.9 247.0 145.4 247.3 145.9 247.1 146.4 247.5 146.9 248.0 147.4 247.3 147.9 247.3 148.4 246.7 148.9 248.5 149.4 247.7 149.9 247.1 150.4 248.2 150.9 247.7 151.4 246.7 151.9 247.0 152.4 248.0 152.9 247.0 153.4 247.1 153.9 247.3 154.4 247.5 154.9 247.5 155.4 248.0 155.9 247.9 156.4 247.3 156.9 247.6 157.4 246.8 157.9 247.8 158.4 248.7 158.9 247.8 159.4 247.5 159.9 247.5 160.4 247.6 160.9 248.0 161.4 247.0 161.9 247.9 162.4 247.3 162.9 247.8 163.4 248.2 163.9 247.0 164.4 248.8 164.9 248.0 165.4 247.4 165.9 247.8 166.4 247.3 166.9 247.7 167.4 247.8 167.9 246.7 168.4 247.7 168.9 247.7 169.4 248.1 169.9 248.0 170.4 247.3 170.9 247.4 171.4 247.6 171.9 247.9 172.4 247.3 172.9 248.4 173.4 247.8 173.9 247.7 174.4 248.0 174.9 247.6 175.4 247.9 175.9 248.0 176.4 246.8 176.9 247.3 177.4 247.1 177.9 247.6 178.4 247.2 178.9 247.3 179.4 247.1 179.9 246.5 180.4 247.7 180.9 247.5 181.4 247.6 181.9 249.2 182.4 248.2 182.9 247.6 183.4 247.3 183.9 247.8 184.4 247.1 184.9 247.0 185.4 247.8 185.9 246.9 186.4 246.8 186.9 247.4 187.4 248.0 187.9 246.9 188.4 247.6 188.9 247.7 189.4 247.5 189.9 247.8 190.4 247.1 190.9 247.2 191.4 247.0 191.9 247.3 192.4 247.9 192.9 247.6 193.4 247.2 193.9 247.7 194.4 246.2 194.9 247.6 195.4 247.8 195.9 247.0 196.4 247.2 196.9 247.5 197.4 247.6 197.9 247.3 198.4 247.1 198.9 247.2 199.4 247.7 199.9 247.3 200.4 247.1 200.9 247.2 201.4 248.9 201.9 247.9 202.4 247.9 202.9 247.6 203.4 247.4 203.9 247.1 204.4 247.2 204.9 247.6 205.4 247.4 205.9 246.5 206.4 247.4 206.9 246.9 207.4 246.2 207.9 246.6 208.4 247.6 208.9 246.3 209.4 246.6 209.9 246.3 210.4 245.7 210.9 245.8 211.4 246.0 211.9 245.4 212.4 245.4 212.9 245.5 213.4 245.2 213.9 245.1 214.4 245.3 214.9 245.2 215.4 245.0 215.9 245.4 216.4 245.5 216.9 244.4 217.4 245.0 217.9 244.9 218.4 245.0 218.9 244.9 219.4 244.9 219.9 244.9 220.4 245.2 220.9 244.4 221.4 245.2 221.9 244.4 222.4 245.7 222.9 245.3 223.4 244.4 223.9 244.9 224.4 245.1 224.9 244.6 225.4 245.2 225.9 244.7 226.4 245.7 226.9 244.9 227.4 245.0 227.9 244.5 228.4 244.3 228.9 245.1 229.4 244.0 229.9 244.9 230.4 245.6 230.9 245.7 231.4 244.0 231.9 244.7 232.4 244.9 232.9 244.9 233.4 245.1 233.9 244.0 234.4 244.6 234.9 243.8 235.4 244.6 235.9 245.6 236.4 244.2 236.9 244.7 237.4 244.6 237.9 243.8 238.4 244.6 238.9 244.0 239.4 244.5 239.9 244.8 240.4 244.3 240.9 244.8 241.4 244.1 241.9 244.2 242.4 244.7 242.9 244.5 243.4 244.6 243.9 245.0 244.4 244.5 244.9 245.1 245.4 244.8 245.9 245.5 246.4 245.1 246.9 245.0 247.4 245.6 247.9 245.5 248.4 245.6 248.9 245.1 249.4 245.8 249.9 245.3 250.4 244.9 250.9 245.5 251.4 246.4 251.9 245.7 252.4 245.3 252.9 246.0 253.4 245.4 253.9 245.7 254.4 245.8 254.9 246.2 255.4 246.3 255.9 246.3 256.4 246.2 256.9 246.0 257.4 246.1 257.9 246.5 258.4 246.4 258.9 246.3 259.4 247.3 259.9 246.9 260.4 247.0 260.9 246.8 261.4 246.8 261.9 246.9 262.4 247.1 262.9 246.3 263.4 246.3 263.9 247.1 264.4 246.2 264.9 246.6 265.4 245.2 265.9 246.1 266.4 245.9 266.9 245.6 267.4 245.6 267.9 245.4 268.4 244.6 268.9 245.1 269.4 244.7 269.9 244.4 270.4 245.2 270.9 243.9 271.4 244.2 271.9 244.0 272.4 244.5 272.9 243.5 273.4 243.4 273.9 243.5 274.4 242.0 274.9 242.4 275.4 242.5 275.9 242.0 276.4 241.3 276.9 240.9 277.4 240.8 277.9 240.2 278.4 240.1 278.9 241.4 279.4 241.1 279.9 241.4 280.4 240.9 280.9 240.2 281.4 240.4 281.9 240.9 282.4 240.1 282.9 238.8 283.4 238.4 283.9 236.5 284.4 234.1 284.9 232.2 285.4 227.3 285.9 223.0 286.4 217.5 286.9 212.0 287.4 205.2 287.9 198.1 288.4 190.8 288.9 184.7 289.4 179.9 289.9 176.2 290.4 175.9 290.9 177.6 291.4 179.3 291.9 180.8 292.4 185.0 292.9 188.0 293.4 192.1 293.9 197.4 294.4 201.7 294.9 206.0 295.4 210.7 295.9 214.9 296.4 218.4 296.9 221.4 297.4 225.2 297.9 227.9 298.4 230.5 298.9 233.1 299.4 233.7 299.9 237.1 300.4 237.7 300.9 238.3 301.4 240.2 301.9 240.1 302.4 240.5 302.9 242.0 303.4 242.0 303.9 243.0 304.4 242.6 304.9 243.0 305.4 243.2 305.9 242.9 306.4 243.5 306.9 243.3 307.4 243.7 307.9 244.6 308.4 244.0 308.9 243.9 309.4 244.7 309.9 243.3 310.4 243.5 310.9 243.0 311.4 243.1 311.9 242.1 312.4 241.4 312.9 241.1 313.4 240.6 313.9 241.5 314.4 240.1 314.9 241.7 315.4 242.8 315.9 243.0 316.4 243.7 316.9 243.7 317.4 244.9 317.9 244.9 318.4 245.8 318.9 244.6 319.4 245.6 319.9 245.1 320.4 246.6 320.9 245.9 321.4 246.7 321.9 246.1 322.4 246.1" stroke="#808080" stroke-width="2.6" fill="none" stroke-linejoin="round" clip-path="url(#c2)"/>
<path d="M41.2 252.35v2.6M41.2 148.25v-2.6M49.7 252.35v2.6M49.7 148.25v-2.6M58.2 252.35v2.6M58.2 148.25v-2.6M66.7 252.35v3.8M66.7 148.25v-3.8M75.2 252.35v2.6M75.2 148.25v-2.6M83.7 252.35v2.6M83.7 148.25v-2.6M92.2 252.35v2.6M92.2 148.25v-2.6M100.7 252.35v2.6M100.7 148.25v-2.6M109.2 252.35v2.6M109.2 148.25v-2.6M117.7 252.35v2.6M117.7 148.25v-2.6M126.2 252.35v2.6M126.2 148.25v-2.6M134.7 252.35v2.6M134.7 148.25v-2.6M143.2 252.35v2.6M143.2 148.25v-2.6M151.7 252.35v3.8M151.7 148.25v-3.8M160.2 252.35v2.6M160.2 148.25v-2.6M168.7 252.35v2.6M168.7 148.25v-2.6M177.2 252.35v2.6M177.2 148.25v-2.6M185.7 252.35v2.6M185.7 148.25v-2.6M194.2 252.35v2.6M194.2 148.25v-2.6M202.7 252.35v2.6M202.7 148.25v-2.6M211.2 252.35v2.6M211.2 148.25v-2.6M219.7 252.35v2.6M219.7 148.25v-2.6M228.2 252.35v2.6M228.2 148.25v-2.6M236.7 252.35v3.8M236.7 148.25v-3.8M245.2 252.35v2.6M245.2 148.25v-2.6M253.7 252.35v2.6M253.7 148.25v-2.6M262.2 252.35v2.6M262.2 148.25v-2.6M270.7 252.35v2.6M270.7 148.25v-2.6M279.2 252.35v2.6M279.2 148.25v-2.6M287.7 252.35v2.6M287.7 148.25v-2.6M296.2 252.35v2.6M296.2 148.25v-2.6M304.7 252.35v2.6M304.7 148.25v-2.6M313.2 252.35v2.6M313.2 148.25v-2.6M321.7 252.35v3.8M321.7 148.25v-3.8M37.2 251.1h-3.8M322.95 251.1h3.8M37.2 240.93h-2.6M322.95 240.93h2.6M37.2 230.76h-2.6M322.95 230.76h2.6M37.2 220.59h-2.6M322.95 220.59h2.6M37.2 210.42h-2.6M322.95 210.42h2.6M37.2 200.25h-3.8M322.95 200.25h3.8M37.2 190.08h-2.6M322.95 190.08h2.6M37.2 179.91h-2.6M322.95 179.91h2.6M37.2 169.74h-2.6M322.95 169.74h2.6M37.2 159.57h-2.6M322.95 159.57h2.6M37.2 149.4h-3.8M322.95 149.4h3.8" stroke="#000" stroke-width="2.3" fill="none"/>
<rect x="38.45" y="149.5" width="283.25" height="101.6" fill="none" stroke="#000" stroke-width="2.5"/>
<text x="65" y="267.3" font-size="10.3" letter-spacing="1.1" text-anchor="middle" fill="#1c1c1c">263.5</text>
<text x="150.2" y="267.3" font-size="10.3" letter-spacing="1.1" text-anchor="middle" fill="#1c1c1c">264.0</text>
<text x="235" y="267.3" font-size="10.3" letter-spacing="1.1" text-anchor="middle" fill="#1c1c1c">264.5</text>
<text x="320.4" y="267.3" font-size="10.3" letter-spacing="1.1" text-anchor="middle" fill="#1c1c1c">265.0</text>
<text x="31.95" y="255.7" font-size="10.3" letter-spacing="1.1" text-anchor="end" fill="#1c1c1c">0</text>
<text x="31.95" y="204.9" font-size="10.3" letter-spacing="1.1" text-anchor="end" fill="#1c1c1c">5</text>
<text x="31.95" y="154.1" font-size="10.3" letter-spacing="1.1" text-anchor="end" fill="#1c1c1c">1</text>
<text x="147" y="279.5" font-size="13.1" fill="#111">mass</text>
<text x="181.3" y="279.5" font-size="13.5" letter-spacing="0.9" fill="#111">(m/z)</text>
<g transform="translate(14.0 200.3) rotate(-90)" font-size="13" fill="#111"><text x="-63.9" y="0" letter-spacing="1.25">Intensity</text><text x="1.7" y="0">(c/s)</text><text x="31.8" y="0">×</text><text x="42.4" y="0" letter-spacing="0.6">10</text><text x="57.4" y="-5.4" font-size="9">2</text></g>
<path d="M118.8 217V203H146" stroke="#000" stroke-width="1.3" fill="none"/>
<text x="123" y="216.9" text-anchor="start" letter-spacing="0.8" fill="#1a1a1a"><tspan dy="-0" font-size="12.8">Zr</tspan><tspan dy="3.1" font-size="8.6">2</tspan><tspan dy="-3.1" font-size="12.8">O</tspan><tspan dy="3.1" font-size="8.6">5</tspan><tspan dy="-3.1" font-size="12.8">H</tspan><tspan dy="3.1" font-size="8.6">4</tspan><tspan dy="-8.3" font-size="8.6">−</tspan></text>
<path d="M291.5 177.6V162.9H258.4" stroke="#000" stroke-width="1.3" fill="none"/>
<text x="218.1" y="175.4" text-anchor="start" letter-spacing="0.8" fill="#1a1a1a"><tspan dy="-0" font-size="12.8">Zr</tspan><tspan dy="3.1" font-size="8.6">2</tspan><tspan dy="-3.1" font-size="12.8">O</tspan><tspan dy="3.1" font-size="8.6">4</tspan><tspan dy="-3.1" font-size="12.8">H</tspan><tspan dy="3.1" font-size="8.6">2</tspan><tspan dy="-3.1" font-size="12.8">F</tspan><tspan dy="-5.2" font-size="8.6">−</tspan></text>
<rect x="387.3" y="149.5" width="283.1" height="101.6" fill="#d5e5fd"/>
<path d="M386.3 237.8 386.7 237.3 387.0 237.3 387.4 237.8 387.7 237.1 388.1 237.5 388.4 238.2 388.8 236.6 389.1 236.3 389.5 238.5 389.8 237.8 390.2 237.3 390.5 237.7 390.9 238.3 391.2 236.8 391.6 236.9 391.9 237.2 392.3 238.3 392.6 236.0 393.0 236.4 393.3 238.9 393.7 238.7 394.0 237.3 394.4 239.6 394.7 238.4 395.1 238.9 395.4 239.8 395.8 239.4 396.1 241.0 396.5 240.0 396.8 241.7 397.2 237.1 397.5 238.1 397.9 238.5 398.2 239.6 398.6 238.9 398.9 238.7 399.3 239.1 399.6 239.4 400.0 241.5 400.3 240.1 400.7 241.3 401.0 242.1 401.4 242.2 401.7 240.5 402.1 240.0 402.4 242.7 402.8 239.4 403.1 239.8 403.5 242.0 403.8 242.2 404.2 241.8 404.5 240.8 404.9 242.4 405.2 243.2 405.6 241.6 405.9 244.2 406.3 241.7 406.6 240.6 407.0 241.4 407.3 240.9 407.7 241.2 408.0 240.8 408.4 241.4 408.7 242.4 409.1 241.7 409.4 241.4 409.8 239.8 410.1 239.1 410.5 240.1 410.8 241.0 411.2 240.5 411.5 239.4 411.9 237.2 412.2 238.0 412.6 238.3 412.9 239.2 413.3 237.8 413.6 238.8 414.0 239.6 414.3 239.8 414.7 238.4 415.0 240.7 415.4 238.8 415.7 239.3 416.1 240.7 416.4 239.8 416.8 240.9 417.1 241.6 417.5 241.0 417.8 241.7 418.2 240.1 418.5 240.6 418.9 239.9 419.2 239.6 419.6 243.9 419.9 240.1 420.3 242.4 420.6 240.3 421.0 241.4 421.3 240.3 421.7 238.9 422.0 242.1 422.4 239.9 422.7 240.0 423.1 241.6 423.4 238.4 423.8 238.6 424.1 238.6 424.5 238.4 424.8 233.8 425.2 237.8 425.5 239.6 425.9 239.1 426.2 239.0 426.6 239.6 426.9 239.8 427.3 241.2 427.6 239.8 428.0 241.1 428.3 242.2 428.7 241.7 429.0 241.3 429.4 240.0 429.7 240.4 430.1 241.4 430.4 241.2 430.8 241.2 431.1 239.4 431.5 242.6 431.8 241.6 432.2 241.5 432.5 243.6 432.9 242.6 433.2 242.8 433.6 243.7 433.9 242.8 434.3 242.5 434.6 242.7 435.0 244.3 435.3 244.1 435.7 242.0 436.0 246.0 436.4 244.8 436.7 244.2 437.1 245.3 437.4 244.9 437.8 245.7 438.1 245.2 438.5 244.7 438.8 246.4 439.2 246.0 439.5 246.3 439.9 246.8 440.2 246.4 440.6 247.7 440.9 245.7 441.3 244.7 441.6 244.8 442.0 245.3 442.3 247.8 442.7 245.1 443.0 247.7 443.4 247.0 443.7 245.0 444.1 248.2 444.4 246.2 444.8 246.9 445.1 247.4 445.5 248.2 445.8 246.9 446.2 247.9 446.5 246.3 446.9 246.2 447.2 249.1 447.6 248.2 447.9 248.0 448.3 249.1 448.6 249.0 449.0 247.8 449.3 248.2 449.7 249.8 450.0 248.6 450.4 247.5 450.7 249.4 451.1 249.1 451.4 246.3 451.8 246.6 452.1 249.8 452.5 249.5 452.8 247.6 453.2 249.4 453.5 248.3 453.9 248.5 454.2 247.4 454.6 250.5 454.9 250.5 455.3 249.4 455.6 246.9 456.0 248.2 456.3 249.9 456.7 247.5 457.0 247.3 457.4 248.3 457.7 248.4 458.1 247.6 458.4 246.7 458.8 247.9 459.1 247.5 459.5 248.1 459.8 248.5 460.2 249.1 460.5 247.8 460.9 248.4 461.2 248.3 461.6 247.0 461.9 247.5 462.3 247.1 462.6 249.8 463.0 247.4 463.3 248.7 463.7 248.9 464.0 249.0 464.4 246.7 464.7 247.1 465.1 248.8 465.4 249.3 465.8 248.0 466.1 248.6 466.5 246.2 466.8 249.7 467.2 250.1 467.5 248.3 467.9 248.0 468.2 247.9 468.6 247.2 468.9 245.8 469.3 248.4 469.6 248.6 470.0 250.0 470.3 247.8 470.7 247.1 471.0 248.3 471.4 246.7 471.7 248.0 472.1 246.4 472.4 247.7 472.8 249.2 473.1 248.7 473.5 249.7 473.8 250.0 474.2 247.8 474.5 247.1 474.9 245.9 475.2 248.1 475.6 248.3 475.9 249.3 476.3 247.0 476.6 247.6 477.0 248.7 477.3 247.3 477.7 247.4 478.0 250.1 478.4 247.2 478.7 247.9 479.1 248.5 479.4 248.5 479.8 246.1 480.1 246.4 480.5 246.0 480.8 249.3 481.2 248.8 481.5 247.1 481.9 249.4 482.2 248.8 482.6 250.0 482.9 246.0 483.3 246.9 483.6 247.5 484.0 247.8 484.3 248.5 484.7 248.5 485.0 247.4 485.4 248.8 485.7 246.7 486.1 248.6 486.4 249.0 486.8 246.6 487.1 248.2 487.5 247.4 487.8 248.5 488.2 250.5 488.5 247.4 488.9 249.5 489.2 246.9 489.6 249.8 489.9 250.1 490.3 247.7 490.6 247.6 491.0 247.9 491.3 249.4 491.7 247.1 492.0 249.7 492.4 248.6 492.7 248.9 493.1 248.5 493.4 247.1 493.8 248.7 494.1 247.4 494.5 247.3 494.8 249.9 495.2 249.3 495.5 248.5 495.9 248.7 496.2 247.7 496.6 250.2 496.9 247.3 497.3 247.2 497.6 248.2 498.0 249.6 498.3 248.0 498.7 248.6 499.0 247.4 499.4 248.1 499.7 247.2 500.1 248.5 500.4 246.4 500.8 250.5 501.1 249.0 501.5 247.3 501.8 249.5 502.2 247.0 502.5 249.1 502.9 247.6 503.2 248.7 503.6 248.1 503.9 247.4 504.3 247.6 504.6 247.9 505.0 245.1 505.3 247.4 505.7 248.4 506.0 246.3 506.4 246.4 506.7 245.9 507.1 245.2 507.4 248.2 507.8 245.9 508.1 245.7 508.5 246.7 508.8 246.2 509.2 249.5 509.5 246.6 509.9 243.8 510.2 247.4 510.6 245.8 510.9 244.7 511.3 244.1 511.6 242.7 512.0 246.2 512.3 243.9 512.7 242.8 513.0 244.9 513.4 243.3 513.7 240.9 514.1 241.3 514.4 241.9 514.8 245.1 515.1 242.1 515.5 241.4 515.8 241.9 516.2 241.5 516.5 237.8 516.9 241.2 517.2 241.9 517.6 240.3 517.9 240.7 518.3 240.5 518.6 240.1 519.0 238.9 519.3 239.3 519.7 240.7 520.0 239.3 520.4 238.5 520.7 239.3 521.1 237.3 521.4 237.5 521.8 239.3 522.1 237.7 522.5 235.9 522.8 236.4 523.2 238.3 523.5 237.2 523.9 239.0 524.2 239.9 524.6 237.8 524.9 238.1 525.3 237.9 525.6 238.5 526.0 238.2 526.3 239.2 526.7 238.1 527.0 237.8 527.4 238.8 527.7 237.9 528.1 240.8 528.4 239.7 528.8 237.3 529.1 237.0 529.5 238.7 529.8 239.1 530.2 240.5 530.5 238.7 530.9 238.4 531.2 240.9 531.6 238.7 531.9 238.9 532.3 239.0 532.6 240.8 533.0 239.0 533.3 241.4 533.7 238.1 534.0 239.7 534.4 241.2 534.7 238.5 535.1 238.8 535.4 240.8 535.8 237.8 536.1 241.4 536.5 240.0 536.8 239.1 537.2 243.0 537.5 239.4 537.9 240.7 538.2 240.7 538.6 241.9 538.9 240.5 539.3 242.1 539.6 242.0 540.0 241.5 540.3 242.4 540.7 239.4 541.0 242.6 541.4 242.0 541.7 241.6 542.1 241.3 542.4 240.4 542.8 240.4 543.1 241.7 543.5 241.8 543.8 241.4 544.2 240.6 544.5 240.7 544.9 242.1 545.2 243.8 545.6 239.2 545.9 240.6 546.3 241.4 546.6 241.3 547.0 242.3 547.3 242.9 547.7 242.2 548.0 242.1 548.4 242.6 548.7 243.5 549.1 242.3 549.4 241.4 549.8 242.6 550.1 242.0 550.5 244.4 550.8 242.4 551.2 242.4 551.5 243.6 551.9 244.2 552.2 241.9 552.6 243.3 552.9 241.9 553.3 243.0 553.6 241.9 554.0 243.0 554.3 244.4 554.7 242.8 555.0 243.2 555.4 242.1 555.7 243.4 556.1 243.4 556.4 242.1 556.8 241.8 557.1 242.3 557.5 242.0 557.8 242.7 558.2 242.4 558.5 242.4 558.9 242.9 559.2 243.4 559.6 243.3 559.9 240.9 560.3 243.6 560.6 243.9 561.0 244.0 561.3 243.7 561.7 243.4 562.0 245.0 562.4 246.0 562.7 243.5 563.1 245.6 563.4 243.6 563.8 243.8 564.1 242.7 564.5 242.2 564.8 243.6 565.2 244.7 565.5 245.4 565.9 245.0 566.2 244.1 566.6 246.5 566.9 244.2 567.3 244.3 567.6 243.6 568.0 244.7 568.3 244.3 568.7 245.2 569.0 245.0 569.4 246.4 569.7 244.4 570.1 242.9 570.4 244.4 570.8 244.2 571.1 245.7 571.5 243.1 571.8 245.6 572.2 243.9 572.5 244.7 572.9 245.9 573.2 243.7 573.6 244.9 573.9 244.7 574.3 244.5 574.6 245.0 575.0 245.5 575.3 244.6 575.7 245.6 576.0 245.1 576.4 246.0 576.7 246.9 577.1 246.1 577.4 246.0 577.8 245.4 578.1 244.2 578.5 247.4 578.8 245.5 579.2 248.1 579.5 246.9 579.9 246.3 580.2 248.3 580.6 247.9 580.9 245.8 581.3 245.9 581.6 246.2 582.0 247.0 582.3 243.8 582.7 246.4 583.0 247.2 583.4 244.5 583.7 245.7 584.1 246.8 584.4 245.1 584.8 246.3 585.1 245.8 585.5 246.3 585.8 247.7 586.2 245.6 586.5 246.5 586.9 247.8 587.2 247.5 587.6 245.7 587.9 247.1 588.3 246.7 588.6 246.1 589.0 246.7 589.3 248.5 589.7 246.2 590.0 245.9 590.4 246.0 590.7 245.2 591.1 246.6 591.4 246.1 591.8 245.3 592.1 247.3 592.5 245.1 592.8 245.2 593.2 246.2 593.5 245.1 593.9 246.2 594.2 248.1 594.6 245.9 594.9 246.9 595.3 246.8 595.6 247.1 596.0 245.8 596.3 246.7 596.7 248.1 597.0 246.8 597.4 246.6 597.7 248.2 598.1 247.9 598.4 247.9 598.8 248.1 599.1 247.1 599.5 246.4 599.8 245.5 600.2 246.2 600.5 246.4 600.9 246.3 601.2 246.1 601.6 248.0 601.9 246.8 602.3 247.2 602.6 247.7 603.0 248.1 603.3 248.1 603.7 247.8 604.0 248.9 604.4 247.0 604.7 247.6 605.1 247.4 605.4 247.2 605.8 246.8 606.1 248.2 606.5 247.7 606.8 249.3 607.2 250.0 607.5 249.7 607.9 245.9 608.2 249.6 608.6 247.0 608.9 245.9 609.3 248.1 609.6 245.8 610.0 245.5 610.3 246.5 610.7 244.9 611.0 246.9 611.4 248.4 611.7 247.0 612.1 248.0 612.4 249.0 612.8 248.9 613.1 245.0 613.5 248.1 613.8 247.6 614.2 248.3 614.5 247.4 614.9 247.8 615.2 248.0 615.6 248.9 615.9 249.1 616.3 248.4 616.6 247.2 617.0 245.3 617.3 246.4 617.7 245.5 618.0 247.0 618.4 247.6 618.7 249.0 619.1 247.5 619.4 249.9 619.8 247.9 620.1 245.7 620.5 247.2 620.8 246.3 621.2 247.9 621.5 249.0 621.9 248.1 622.2 247.9 622.6 246.1 622.9 245.2 623.3 248.1 623.6 247.6 624.0 247.3 624.3 247.5 624.7 248.4 625.0 246.9 625.4 246.5 625.7 246.4 626.1 248.1 626.4 246.8 626.8 248.5 627.1 245.6 627.5 247.6 627.8 246.7 628.2 246.9 628.5 246.9 628.9 247.4 629.2 248.1 629.6 244.2 629.9 245.8 630.3 245.7 630.6 243.7 631.0 246.1 631.3 245.4 631.7 246.0 632.0 244.7 632.4 245.5 632.7 245.7 633.1 246.3 633.4 245.7 633.8 244.7 634.1 248.3 634.5 246.2 634.8 246.5 635.2 246.3 635.5 248.2 635.9 245.2 636.2 246.9 636.6 246.3 636.9 246.6 637.3 247.9 637.6 246.5 638.0 248.0 638.3 247.1 638.7 246.4 639.0 246.0 639.4 246.0 639.7 246.2 640.1 243.7 640.4 245.5 640.8 247.4 641.1 246.7 641.5 246.7 641.8 246.2 642.2 246.7 642.5 247.0 642.9 244.2 643.2 246.0 643.6 246.4 643.9 246.3 644.3 246.3 644.6 244.5 645.0 245.5 645.3 244.8 645.7 249.4 646.0 245.7 646.4 244.8 646.7 243.8 647.1 246.0 647.4 247.9 647.8 245.4 648.1 246.7 648.5 248.0 648.8 246.7 649.2 244.8 649.5 244.7 649.9 245.2 650.2 247.2 650.6 243.2 650.9 247.3 651.3 246.1 651.6 247.6 652.0 244.6 652.3 245.5 652.7 245.0 653.0 245.9 653.4 246.1 653.7 245.8 654.1 248.1 654.4 244.9 654.8 245.0 655.1 246.4 655.5 246.0 655.8 245.7 656.2 244.3 656.5 245.5 656.9 246.0 657.2 246.6 657.6 247.7 657.9 246.7 658.3 245.9 658.6 246.3 659.0 245.9 659.3 245.2 659.7 245.5 660.0 245.7 660.4 245.3 660.7 245.8 661.1 246.0 661.4 245.5 661.8 247.9 662.1 244.6 662.5 247.4 662.8 245.1 663.2 246.0 663.5 244.8 663.9 246.0 664.2 247.0 664.6 244.8 664.9 245.8 665.3 245.9 665.6 245.9 666.0 244.9 666.3 245.1 666.7 245.7 667.0 247.7 667.4 246.4 667.7 245.9 668.1 244.0 668.4 245.6 668.8 246.1 669.1 244.7 669.5 246.1 669.8 246.0 670.2 245.8 670.5 247.6 670.9 244.9 671.2 245.5" stroke="#ff0000" stroke-width="2.0" fill="none" stroke-linejoin="round" clip-path="url(#c3)"/>
<path d="M386.3 242.2 386.7 243.0 387.0 241.8 387.4 240.8 387.7 242.6 388.1 243.0 388.4 241.7 388.8 243.6 389.1 244.2 389.5 242.6 389.8 242.8 390.2 242.5 390.5 242.8 390.9 242.0 391.2 242.5 391.6 242.9 391.9 242.8 392.3 241.8 392.6 241.6 393.0 241.6 393.3 241.8 393.7 245.5 394.0 243.4 394.4 242.8 394.7 242.4 395.1 244.1 395.4 241.4 395.8 242.4 396.1 243.2 396.5 242.6 396.8 243.0 397.2 243.4 397.5 242.3 397.9 243.2 398.2 244.1 398.6 243.4 398.9 243.0 399.3 243.9 399.6 241.8 400.0 244.0 400.3 241.4 400.7 242.2 401.0 243.8 401.4 242.8 401.7 241.9 402.1 243.1 402.4 244.0 402.8 242.8 403.1 241.1 403.5 244.2 403.8 242.4 404.2 242.9 404.5 243.0 404.9 243.2 405.2 243.1 405.6 241.9 405.9 242.3 406.3 243.7 406.6 241.4 407.0 244.0 407.3 242.2 407.7 242.6 408.0 241.7 408.4 242.4 408.7 241.8 409.1 242.8 409.4 241.8 409.8 242.4 410.1 240.8 410.5 243.3 410.8 241.6 411.2 242.3 411.5 242.5 411.9 243.2 412.2 242.2 412.6 244.0 412.9 243.8 413.3 242.0 413.6 244.0 414.0 241.3 414.3 242.8 414.7 242.3 415.0 242.5 415.4 242.2 415.7 242.8 416.1 242.8 416.4 242.6 416.8 241.5 417.1 241.4 417.5 241.3 417.8 242.1 418.2 242.6 418.5 243.9 418.9 241.8 419.2 241.6 419.6 242.7 419.9 241.6 420.3 241.2 420.6 242.3 421.0 241.5 421.3 242.2 421.7 244.1 422.0 242.9 422.4 242.8 422.7 241.8 423.1 242.8 423.4 242.1 423.8 242.1 424.1 240.8 424.5 240.2 424.8 238.8 425.2 238.5 425.5 238.7 425.9 238.5 426.2 238.8 426.6 239.1 426.9 238.4 427.3 242.8 427.6 241.4 428.0 241.7 428.3 241.7 428.7 244.3 429.0 243.5 429.4 243.5 429.7 245.0 430.1 246.7 430.4 245.5 430.8 246.5 431.1 245.0 431.5 246.5 431.8 244.2 432.2 245.8 432.5 246.8 432.9 246.6 433.2 247.3 433.6 246.1 433.9 245.2 434.3 246.8 434.6 245.9 435.0 247.7 435.3 246.6 435.7 244.9 436.0 248.2 436.4 245.9 436.7 246.0 437.1 248.7 437.4 248.4 437.8 248.0 438.1 246.3 438.5 247.5 438.8 247.3 439.2 246.6 439.5 247.1 439.9 247.1 440.2 247.6 440.6 246.3 440.9 248.0 441.3 245.8 441.6 247.7 442.0 248.1 442.3 246.8 442.7 247.0 443.0 249.3 443.4 247.3 443.7 248.7 444.1 248.3 444.4 246.9 444.8 248.4 445.1 247.3 445.5 248.0 445.8 245.9 446.2 247.8 446.5 248.8 446.9 248.7 447.2 248.6 447.6 247.7 447.9 247.8 448.3 247.0 448.6 247.7 449.0 247.8 449.3 247.6 449.7 248.1 450.0 247.7 450.4 247.3 450.7 247.3 451.1 248.4 451.4 249.5 451.8 248.7 452.1 247.7 452.5 250.2 452.8 248.4 453.2 247.5 453.5 248.4 453.9 248.9 454.2 246.3 454.6 246.7 454.9 248.2 455.3 246.7 455.6 246.7 456.0 248.9 456.3 245.5 456.7 248.7 457.0 248.1 457.4 248.9 457.7 247.8 458.1 249.1 458.4 247.9 458.8 246.9 459.1 247.7 459.5 248.1 459.8 246.5 460.2 248.7 460.5 247.0 460.9 248.1 461.2 247.7 461.6 247.8 461.9 247.7 462.3 247.9 462.6 248.6 463.0 248.4 463.3 247.4 463.7 247.9 464.0 248.9 464.4 248.5 464.7 248.5 465.1 247.9 465.4 247.7 465.8 247.7 466.1 248.4 466.5 247.8 466.8 249.0 467.2 250.4 467.5 247.9 467.9 249.3 468.2 248.7 468.6 248.9 468.9 247.2 469.3 248.9 469.6 247.5 470.0 248.2 470.3 248.9 470.7 249.2 471.0 247.4 471.4 247.4 471.7 247.1 472.1 246.1 472.4 247.5 472.8 247.5 473.1 247.9 473.5 247.7 473.8 248.1 474.2 248.6 474.5 246.0 474.9 249.4 475.2 247.5 475.6 247.3 475.9 247.6 476.3 248.6 476.6 247.9 477.0 248.1 477.3 248.7 477.7 247.8 478.0 248.1 478.4 248.2 478.7 247.1 479.1 248.7 479.4 247.3 479.8 248.3 480.1 247.3 480.5 247.6 480.8 247.5 481.2 248.6 481.5 248.4 481.9 248.5 482.2 247.5 482.6 247.0 482.9 246.7 483.3 248.1 483.6 247.6 484.0 249.1 484.3 249.6 484.7 248.4 485.0 248.2 485.4 249.0 485.7 249.2 486.1 247.2 486.4 248.4 486.8 249.1 487.1 245.5 487.5 247.5 487.8 247.9 488.2 247.0 488.5 248.3 488.9 246.2 489.2 249.0 489.6 248.8 489.9 247.7 490.3 248.3 490.6 246.3 491.0 249.0 491.3 248.2 491.7 247.4 492.0 247.1 492.4 246.7 492.7 247.3 493.1 245.6 493.4 248.0 493.8 247.4 494.1 246.8 494.5 247.8 494.8 247.8 495.2 247.9 495.5 248.1 495.9 248.5 496.2 248.0 496.6 248.9 496.9 247.2 497.3 248.9 497.6 245.6 498.0 246.0 498.3 246.5 498.7 247.7 499.0 248.0 499.4 246.4 499.7 247.3 500.1 246.9 500.4 248.0 500.8 246.4 501.1 248.0 501.5 247.1 501.8 248.7 502.2 247.7 502.5 246.6 502.9 247.4 503.2 247.3 503.6 246.1 503.9 246.8 504.3 245.6 504.6 248.8 505.0 246.1 505.3 246.0 505.7 247.8 506.0 247.5 506.4 245.5 506.7 247.2 507.1 246.7 507.4 245.6 507.8 246.3 508.1 245.5 508.5 246.7 508.8 245.6 509.2 244.8 509.5 245.4 509.9 247.6 510.2 245.0 510.6 245.4 510.9 246.2 511.3 244.1 511.6 246.8 512.0 243.5 512.3 245.6 512.7 243.6 513.0 245.0 513.4 246.0 513.7 244.7 514.1 244.4 514.4 244.1 514.8 243.5 515.1 245.2 515.5 243.9 515.8 243.6 516.2 244.4 516.5 244.9 516.9 244.9 517.2 243.3 517.6 243.1 517.9 244.5 518.3 244.8 518.6 242.3 519.0 244.7 519.3 242.9 519.7 243.5 520.0 244.0 520.4 241.9 520.7 241.5 521.1 239.2 521.4 237.2 521.8 237.7 522.1 234.5 522.5 231.6 522.8 229.5 523.2 225.5 523.5 218.3 523.9 214.4 524.2 208.1 524.6 202.2 524.9 196.4 525.3 192.0 525.6 187.4 526.0 185.5 526.3 187.4 526.7 190.0 527.0 191.5 527.4 196.5 527.7 200.0 528.1 202.9 528.4 206.6 528.8 212.9 529.1 218.6 529.5 221.0 529.8 227.4 530.2 229.2 530.5 230.0 530.9 233.1 531.2 236.9 531.6 238.8 531.9 237.8 532.3 239.6 532.6 240.8 533.0 240.5 533.3 241.9 533.7 243.5 534.0 241.3 534.4 242.8 534.7 243.3 535.1 243.7 535.4 242.4 535.8 243.5 536.1 242.3 536.5 243.1 536.8 242.0 537.2 243.4 537.5 243.6 537.9 244.9 538.2 244.1 538.6 242.5 538.9 240.5 539.3 244.3 539.6 244.2 540.0 242.9 540.3 242.9 540.7 243.9 541.0 243.3 541.4 244.8 541.7 243.7 542.1 242.6 542.4 242.0 542.8 243.6 543.1 243.7 543.5 243.1 543.8 242.5 544.2 243.1 544.5 244.2 544.9 243.2 545.2 242.5 545.6 243.9 545.9 244.3 546.3 242.4 546.6 242.2 547.0 241.1 547.3 241.2 547.7 241.0 548.0 239.8 548.4 239.1 548.7 237.8 549.1 236.2 549.4 235.0 549.8 232.8 550.1 234.5 550.5 233.5 550.8 234.7 551.2 233.8 551.5 236.1 551.9 238.0 552.2 238.3 552.6 240.1 552.9 241.6 553.3 240.7 553.6 242.1 554.0 241.7 554.3 242.5 554.7 243.1 555.0 243.9 555.4 245.1 555.7 243.6 556.1 244.3 556.4 243.8 556.8 244.5 557.1 245.2 557.5 245.5 557.8 244.0 558.2 243.5 558.5 245.0 558.9 244.3 559.2 243.5 559.6 245.5 559.9 245.1 560.3 245.9 560.6 243.8 561.0 244.7 561.3 245.4 561.7 246.5 562.0 245.2 562.4 244.1 562.7 245.3 563.1 245.5 563.4 244.5 563.8 246.2 564.1 245.1 564.5 244.7 564.8 245.9 565.2 246.0 565.5 245.1 565.9 245.4 566.2 245.5 566.6 245.2 566.9 245.2 567.3 246.2 567.6 246.0 568.0 245.1 568.3 244.5 568.7 244.3 569.0 246.3 569.4 244.6 569.7 244.9 570.1 245.6 570.4 245.2 570.8 244.9 571.1 244.1 571.5 246.6 571.8 245.2 572.2 245.9 572.5 246.0 572.9 244.8 573.2 245.1 573.6 246.7 573.9 246.1 574.3 245.7 574.6 247.2 575.0 245.2 575.3 246.0 575.7 245.8 576.0 245.7 576.4 244.4 576.7 246.0 577.1 246.4 577.4 244.5 577.8 246.6 578.1 246.6 578.5 247.4 578.8 245.2 579.2 246.0 579.5 245.8 579.9 246.1 580.2 246.4 580.6 247.0 580.9 247.0 581.3 246.0 581.6 246.3 582.0 244.9 582.3 247.1 582.7 246.9 583.0 247.4 583.4 245.3 583.7 247.6 584.1 245.8 584.4 245.3 584.8 246.7 585.1 245.9 585.5 248.5 585.8 247.0 586.2 248.1 586.5 246.5 586.9 246.7 587.2 247.4 587.6 245.9 587.9 246.5 588.3 247.3 588.6 247.3 589.0 248.1 589.3 247.0 589.7 245.0 590.0 247.5 590.4 246.6 590.7 247.4 591.1 246.3 591.4 246.6 591.8 247.2 592.1 248.6 592.5 247.5 592.8 246.0 593.2 247.3 593.5 246.6 593.9 247.6 594.2 248.8 594.6 246.8 594.9 246.9 595.3 247.8 595.6 247.6 596.0 247.0 596.3 247.8 596.7 247.0 597.0 247.5 597.4 249.5 597.7 247.5 598.1 247.9 598.4 248.2 598.8 247.1 599.1 247.9 599.5 247.0 599.8 246.6 600.2 247.4 600.5 248.9 600.9 248.2 601.2 246.7 601.6 247.8 601.9 248.3 602.3 247.6 602.6 247.1 603.0 247.3 603.3 247.0 603.7 248.3 604.0 247.8 604.4 247.8 604.7 247.6 605.1 249.4 605.4 247.8 605.8 248.7 606.1 246.3 606.5 246.2 606.8 246.0 607.2 246.8 607.5 248.0 607.9 246.7 608.2 247.7 608.6 247.0 608.9 248.3 609.3 248.1 609.6 247.1 610.0 246.0 610.3 247.6 610.7 245.5 611.0 245.1 611.4 248.7 611.7 247.6 612.1 248.4 612.4 247.7 612.8 248.0 613.1 247.6 613.5 246.7 613.8 246.7 614.2 247.3 614.5 247.5 614.9 247.4 615.2 247.4 615.6 247.0 615.9 247.5 616.3 247.1 616.6 248.7 617.0 246.8 617.3 246.0 617.7 247.4 618.0 248.8 618.4 246.3 618.7 247.8 619.1 250.2 619.4 247.7 619.8 247.0 620.1 247.2 620.5 246.2 620.8 246.6 621.2 246.9 621.5 248.6 621.9 247.7 622.2 246.4 622.6 245.8 622.9 247.2 623.3 246.7 623.6 245.6 624.0 247.5 624.3 247.4 624.7 245.7 625.0 245.1 625.4 245.6 625.7 247.1 626.1 244.9 626.4 245.9 626.8 244.0 627.1 244.5 627.5 244.0 627.8 243.6 628.2 244.5 628.5 243.3 628.9 242.9 629.2 243.7 629.6 242.8 629.9 244.6 630.3 243.2 630.6 243.7 631.0 244.9 631.3 244.0 631.7 244.4 632.0 244.4 632.4 243.9 632.7 243.0 633.1 244.2 633.4 243.8 633.8 245.2 634.1 243.8 634.5 242.9 634.8 243.2 635.2 243.5 635.5 244.3 635.9 244.7 636.2 243.9 636.6 245.0 636.9 244.9 637.3 243.0 637.6 244.6 638.0 242.2 638.3 245.1 638.7 243.4 639.0 244.8 639.4 243.6 639.7 244.7 640.1 243.7 640.4 243.9 640.8 244.1 641.1 243.3 641.5 242.4 641.8 244.2 642.2 242.9 642.5 243.6 642.9 243.7 643.2 241.7 643.6 245.6 643.9 244.3 644.3 245.3 644.6 243.9 645.0 243.8 645.3 240.2 645.7 243.3 646.0 242.0 646.4 242.5 646.7 244.0 647.1 243.2 647.4 242.1 647.8 243.4 648.1 243.4 648.5 243.1 648.8 244.9 649.2 244.3 649.5 243.2 649.9 243.0 650.2 244.3 650.6 243.8 650.9 243.6 651.3 243.6 651.6 242.9 652.0 243.4 652.3 243.3 652.7 244.7 653.0 244.4 653.4 243.2 653.7 244.9 654.1 243.2 654.4 244.0 654.8 244.1 655.1 242.8 655.5 244.0 655.8 244.2 656.2 244.0 656.5 243.3 656.9 240.9 657.2 245.3 657.6 243.4 657.9 243.6 658.3 242.5 658.6 243.7 659.0 245.5 659.3 242.1 659.7 244.3 660.0 243.4 660.4 244.5 660.7 244.3 661.1 243.7 661.4 242.5 661.8 242.5 662.1 243.8 662.5 242.8 662.8 243.6 663.2 243.1 663.5 243.1 663.9 242.7 664.2 243.8 664.6 243.3 664.9 243.0 665.3 243.1 665.6 243.9 666.0 241.6 666.3 243.6 666.7 242.5 667.0 243.0 667.4 242.0 667.7 245.1 668.1 241.3 668.4 243.3 668.8 244.2 669.1 243.0 669.5 241.1 669.8 242.6 670.2 244.2 670.5 243.5 670.9 241.9 671.2 244.3" stroke="#1e8fff" stroke-width="2.0" fill="none" stroke-linejoin="round" clip-path="url(#c3)"/>
<path d="M386.3 244.7 386.7 244.8 387.0 242.6 387.4 244.8 387.7 243.4 388.1 245.2 388.4 245.4 388.8 243.8 389.1 244.1 389.5 246.2 389.8 244.2 390.2 244.2 390.5 245.3 390.9 244.6 391.2 244.6 391.6 245.3 391.9 245.4 392.3 245.5 392.6 245.1 393.0 246.1 393.3 245.0 393.7 246.3 394.0 244.9 394.4 245.1 394.7 245.9 395.1 244.3 395.4 243.3 395.8 243.9 396.1 246.3 396.5 244.0 396.8 244.9 397.2 245.2 397.5 245.7 397.9 245.2 398.2 244.0 398.6 244.7 398.9 245.6 399.3 245.8 399.6 245.6 400.0 244.8 400.3 243.6 400.7 246.3 401.0 245.3 401.4 245.7 401.7 246.1 402.1 245.1 402.4 244.9 402.8 246.7 403.1 246.4 403.5 244.4 403.8 245.2 404.2 245.1 404.5 246.0 404.9 245.9 405.2 245.1 405.6 245.9 405.9 246.3 406.3 245.2 406.6 244.3 407.0 246.0 407.3 244.0 407.7 244.2 408.0 245.5 408.4 244.6 408.7 244.6 409.1 243.9 409.4 243.8 409.8 245.4 410.1 245.4 410.5 243.2 410.8 243.9 411.2 243.5 411.5 243.5 411.9 242.3 412.2 244.7 412.6 242.5 412.9 244.1 413.3 242.7 413.6 242.0 414.0 244.4 414.3 242.7 414.7 243.2 415.0 243.1 415.4 242.7 415.7 243.6 416.1 243.4 416.4 242.1 416.8 242.1 417.1 243.4 417.5 244.3 417.8 241.1 418.2 242.3 418.5 243.1 418.9 244.4 419.2 244.2 419.6 243.5 419.9 244.7 420.3 242.6 420.6 244.0 421.0 243.9 421.3 245.2 421.7 245.3 422.0 245.3 422.4 244.4 422.7 245.0 423.1 245.2 423.4 244.8 423.8 244.9 424.1 243.9 424.5 245.6 424.8 246.4 425.2 245.6 425.5 244.3 425.9 246.2 426.2 245.7 426.6 246.1 426.9 245.5 427.3 245.7 427.6 246.7 428.0 246.2 428.3 245.2 428.7 245.2 429.0 245.4 429.4 245.5 429.7 246.6 430.1 246.7 430.4 245.6 430.8 247.5 431.1 246.6 431.5 248.2 431.8 246.9 432.2 247.3 432.5 247.8 432.9 246.3 433.2 247.5 433.6 247.2 433.9 247.2 434.3 247.6 434.6 245.8 435.0 247.5 435.3 247.0 435.7 248.4 436.0 247.7 436.4 247.6 436.7 247.6 437.1 247.9 437.4 247.3 437.8 246.1 438.1 247.7 438.5 247.7 438.8 247.9 439.2 245.3 439.5 246.1 439.9 247.1 440.2 246.9 440.6 248.2 440.9 247.7 441.3 247.4 441.6 247.4 442.0 248.3 442.3 248.2 442.7 247.1 443.0 247.3 443.4 249.4 443.7 247.5 444.1 246.4 444.4 248.1 444.8 247.3 445.1 248.8 445.5 246.8 445.8 248.5 446.2 248.7 446.5 247.8 446.9 245.5 447.2 248.1 447.6 248.7 447.9 247.1 448.3 247.3 448.6 246.1 449.0 248.7 449.3 249.0 449.7 247.8 450.0 247.2 450.4 247.1 450.7 246.2 451.1 248.3 451.4 247.6 451.8 246.8 452.1 245.8 452.5 245.9 452.8 246.5 453.2 246.9 453.5 245.0 453.9 244.8 454.2 243.0 454.6 245.4 454.9 243.7 455.3 246.0 455.6 245.2 456.0 245.2 456.3 244.9 456.7 245.3 457.0 245.0 457.4 244.6 457.7 244.9 458.1 243.9 458.4 244.6 458.8 244.5 459.1 243.2 459.5 244.2 459.8 244.4 460.2 244.5 460.5 244.4 460.9 244.0 461.2 245.2 461.6 243.5 461.9 243.1 462.3 243.5 462.6 244.9 463.0 245.9 463.3 244.8 463.7 244.3 464.0 243.7 464.4 244.6 464.7 244.7 465.1 243.1 465.4 245.0 465.8 243.5 466.1 243.6 466.5 245.6 466.8 244.2 467.2 244.9 467.5 245.3 467.9 246.0 468.2 245.8 468.6 244.0 468.9 244.7 469.3 244.2 469.6 245.3 470.0 244.7 470.3 244.6 470.7 245.7 471.0 245.8 471.4 244.0 471.7 244.2 472.1 245.2 472.4 244.5 472.8 243.8 473.1 242.7 473.5 245.1 473.8 243.8 474.2 242.5 474.5 244.3 474.9 243.0 475.2 246.6 475.6 243.0 475.9 244.3 476.3 246.0 476.6 243.6 477.0 243.4 477.3 243.2 477.7 243.2 478.0 244.3 478.4 245.0 478.7 244.7 479.1 244.3 479.4 243.9 479.8 244.7 480.1 244.2 480.5 243.5 480.8 244.0 481.2 242.2 481.5 242.3 481.9 245.3 482.2 244.7 482.6 245.4 482.9 245.3 483.3 243.7 483.6 245.1 484.0 245.1 484.3 244.5 484.7 243.5 485.0 244.5 485.4 244.5 485.7 243.4 486.1 243.8 486.4 243.8 486.8 243.3 487.1 245.1 487.5 244.0 487.8 244.7 488.2 243.3 488.5 243.4 488.9 245.1 489.2 243.0 489.6 245.2 489.9 243.1 490.3 243.9 490.6 244.9 491.0 245.1 491.3 244.4 491.7 244.1 492.0 244.7 492.4 243.6 492.7 245.3 493.1 244.1 493.4 244.1 493.8 245.7 494.1 243.8 494.5 245.2 494.8 246.3 495.2 244.6 495.5 244.2 495.9 243.2 496.2 244.4 496.6 242.7 496.9 242.7 497.3 243.0 497.6 242.8 498.0 243.7 498.3 244.5 498.7 243.4 499.0 243.1 499.4 243.7 499.7 244.1 500.1 245.3 500.4 243.3 500.8 243.6 501.1 245.0 501.5 243.8 501.8 243.2 502.2 243.9 502.5 243.1 502.9 243.2 503.2 245.1 503.6 244.1 503.9 243.3 504.3 243.0 504.6 242.5 505.0 245.4 505.3 243.8 505.7 243.1 506.0 242.6 506.4 242.2 506.7 244.5 507.1 244.0 507.4 244.5 507.8 242.9 508.1 244.7 508.5 242.5 508.8 242.7 509.2 243.0 509.5 245.4 509.9 244.0 510.2 242.7 510.6 244.4 510.9 243.2 511.3 242.9 511.6 241.9 512.0 242.2 512.3 242.1 512.7 242.5 513.0 241.9 513.4 241.9 513.7 240.9 514.1 241.5 514.4 240.3 514.8 242.5 515.1 239.7 515.5 240.7 515.8 239.3 516.2 240.0 516.5 239.0 516.9 238.1 517.2 239.6 517.6 238.7 517.9 238.5 518.3 237.6 518.6 238.6 519.0 236.6 519.3 235.7 519.7 235.1 520.0 233.1 520.4 232.6 520.7 227.9 521.1 226.2 521.4 222.0 521.8 221.0 522.1 217.4 522.5 211.8 522.8 208.8 523.2 202.2 523.5 197.8 523.9 192.4 524.2 186.9 524.6 182.6 524.9 177.3 525.3 175.6 525.6 175.7 526.0 173.4 526.3 176.0 526.7 175.9 527.0 178.9 527.4 180.8 527.7 181.6 528.1 186.4 528.4 189.7 528.8 193.1 529.1 196.3 529.5 198.2 529.8 204.0 530.2 207.3 530.5 208.8 530.9 213.6 531.2 215.2 531.6 216.3 531.9 219.6 532.3 222.2 532.6 224.4 533.0 226.4 533.3 227.8 533.7 228.5 534.0 228.8 534.4 230.1 534.7 232.5 535.1 233.4 535.4 232.9 535.8 235.8 536.1 235.1 536.5 235.5 536.8 236.6 537.2 237.0 537.5 236.1 537.9 238.3 538.2 237.9 538.6 238.0 538.9 237.6 539.3 239.2 539.6 237.3 540.0 238.8 540.3 238.9 540.7 239.1 541.0 239.5 541.4 239.9 541.7 238.1 542.1 239.1 542.4 239.5 542.8 238.6 543.1 240.2 543.5 239.2 543.8 239.8 544.2 240.7 544.5 239.4 544.9 241.5 545.2 239.6 545.6 241.1 545.9 240.1 546.3 239.3 546.6 240.1 547.0 241.2 547.3 240.8 547.7 241.2 548.0 242.0 548.4 242.0 548.7 241.1 549.1 240.8 549.4 242.9 549.8 241.5 550.1 241.1 550.5 241.5 550.8 242.6 551.2 240.8 551.5 242.9 551.9 241.4 552.2 240.6 552.6 243.9 552.9 242.0 553.3 242.0 553.6 242.2 554.0 243.1 554.3 242.8 554.7 243.9 555.0 242.6 555.4 242.3 555.7 243.5 556.1 243.8 556.4 243.4 556.8 243.1 557.1 243.1 557.5 243.4 557.8 243.3 558.2 244.6 558.5 245.9 558.9 243.0 559.2 242.4 559.6 245.0 559.9 244.4 560.3 243.6 560.6 243.1 561.0 243.4 561.3 242.9 561.7 244.2 562.0 243.8 562.4 243.9 562.7 244.7 563.1 243.3 563.4 243.9 563.8 243.6 564.1 244.9 564.5 243.7 564.8 245.6 565.2 244.3 565.5 247.1 565.9 245.7 566.2 244.2 566.6 245.3 566.9 244.8 567.3 246.5 567.6 243.7 568.0 244.6 568.3 245.2 568.7 244.9 569.0 245.0 569.4 244.1 569.7 245.2 570.1 246.8 570.4 245.8 570.8 244.5 571.1 245.1 571.5 246.1 571.8 245.2 572.2 245.7 572.5 245.3 572.9 247.3 573.2 246.8 573.6 245.4 573.9 246.3 574.3 245.8 574.6 244.5 575.0 246.5 575.3 246.1 575.7 246.8 576.0 247.0 576.4 246.5 576.7 247.8 577.1 248.4 577.4 245.4 577.8 246.8 578.1 245.7 578.5 246.7 578.8 246.7 579.2 246.3 579.5 246.3 579.9 248.1 580.2 246.0 580.6 247.9 580.9 246.9 581.3 244.8 581.6 247.0 582.0 245.6 582.3 247.4 582.7 246.6 583.0 247.1 583.4 246.8 583.7 247.9 584.1 247.9 584.4 246.9 584.8 248.5 585.1 247.9 585.5 246.6 585.8 247.7 586.2 248.0 586.5 248.2 586.9 247.1 587.2 247.5 587.6 247.1 587.9 247.4 588.3 245.6 588.6 247.7 589.0 249.0 589.3 247.2 589.7 247.3 590.0 247.2 590.4 248.7 590.7 246.3 591.1 247.4 591.4 247.4 591.8 248.7 592.1 246.9 592.5 247.4 592.8 246.2 593.2 247.8 593.5 248.5 593.9 247.3 594.2 248.2 594.6 247.1 594.9 248.4 595.3 247.6 595.6 247.7 596.0 247.5 596.3 247.9 596.7 248.2 597.0 247.5 597.4 248.0 597.7 247.4 598.1 247.8 598.4 249.5 598.8 247.6 599.1 246.3 599.5 247.3 599.8 247.0 600.2 247.2 600.5 248.0 600.9 248.7 601.2 246.8 601.6 246.6 601.9 247.0 602.3 247.2 602.6 247.2 603.0 247.5 603.3 247.3 603.7 247.5 604.0 247.2 604.4 248.3 604.7 248.0 605.1 247.0 605.4 247.7 605.8 249.5 606.1 247.3 606.5 249.4 606.8 245.8 607.2 246.8 607.5 246.8 607.9 248.0 608.2 248.4 608.6 247.6 608.9 247.3 609.3 248.0 609.6 247.2 610.0 246.7 610.3 246.8 610.7 248.2 611.0 249.2 611.4 247.3 611.7 247.9 612.1 246.9 612.4 245.9 612.8 245.9 613.1 247.0 613.5 246.3 613.8 245.8 614.2 247.2 614.5 247.0 614.9 246.5 615.2 247.2 615.6 247.6 615.9 247.8 616.3 247.2 616.6 247.7 617.0 246.5 617.3 247.4 617.7 245.9 618.0 246.1 618.4 248.2 618.7 246.2 619.1 247.5 619.4 245.9 619.8 246.6 620.1 247.0 620.5 246.1 620.8 246.9 621.2 245.8 621.5 245.4 621.9 245.6 622.2 244.8 622.6 245.7 622.9 244.1 623.3 245.3 623.6 243.4 624.0 243.2 624.3 242.7 624.7 243.5 625.0 240.1 625.4 242.6 625.7 242.0 626.1 242.4 626.4 240.3 626.8 241.6 627.1 240.0 627.5 241.4 627.8 240.0 628.2 240.4 628.5 239.3 628.9 240.3 629.2 240.8 629.6 239.6 629.9 241.0 630.3 240.8 630.6 239.3 631.0 241.5 631.3 239.3 631.7 240.2 632.0 240.7 632.4 239.7 632.7 239.3 633.1 240.3 633.4 240.0 633.8 239.1 634.1 239.1 634.5 239.8 634.8 240.4 635.2 240.5 635.5 240.2 635.9 239.1 636.2 239.2 636.6 239.4 636.9 238.5 637.3 239.9 637.6 239.9 638.0 239.9 638.3 238.0 638.7 241.3 639.0 239.3 639.4 239.2 639.7 239.5 640.1 237.5 640.4 238.5 640.8 238.8 641.1 240.2 641.5 239.0 641.8 239.7 642.2 239.4 642.5 239.2 642.9 239.8 643.2 238.8 643.6 238.0 643.9 238.4 644.3 239.1 644.6 240.9 645.0 238.4 645.3 238.3 645.7 239.4 646.0 239.6 646.4 238.7 646.7 239.9 647.1 238.5 647.4 240.1 647.8 239.9 648.1 239.1 648.5 240.3 648.8 239.1 649.2 238.6 649.5 240.2 649.9 238.3 650.2 239.5 650.6 238.6 650.9 238.9 651.3 239.5 651.6 239.6 652.0 240.6 652.3 239.7 652.7 239.8 653.0 237.8 653.4 238.3 653.7 240.4 654.1 238.6 654.4 239.1 654.8 239.6 655.1 238.9 655.5 238.6 655.8 239.8 656.2 239.6 656.5 239.2 656.9 240.2 657.2 239.2 657.6 239.5 657.9 240.0 658.3 240.2 658.6 239.2 659.0 238.7 659.3 239.2 659.7 240.2 660.0 238.9 660.4 239.4 660.7 239.1 661.1 238.6 661.4 240.4 661.8 239.7 662.1 240.1 662.5 240.4 662.8 238.0 663.2 238.9 663.5 241.2 663.9 239.4 664.2 240.2 664.6 238.8 664.9 239.7 665.3 239.9 665.6 239.7 666.0 239.5 666.3 239.8 666.7 240.1 667.0 240.0 667.4 239.5 667.7 240.9 668.1 239.9 668.4 240.1 668.8 240.4 669.1 239.4 669.5 241.1 669.8 240.3 670.2 240.8 670.5 239.6 670.9 240.4 671.2 240.0" stroke="#808080" stroke-width="2.6" fill="none" stroke-linejoin="round" clip-path="url(#c3)"/>
<path d="M386.8 252.35v3.8M386.8 148.25v-3.8M395.3 252.35v2.6M395.3 148.25v-2.6M403.8 252.35v2.6M403.8 148.25v-2.6M412.3 252.35v2.6M412.3 148.25v-2.6M420.8 252.35v2.6M420.8 148.25v-2.6M429.3 252.35v2.6M429.3 148.25v-2.6M437.8 252.35v2.6M437.8 148.25v-2.6M446.3 252.35v2.6M446.3 148.25v-2.6M454.8 252.35v2.6M454.8 148.25v-2.6M463.3 252.35v2.6M463.3 148.25v-2.6M471.8 252.35v3.8M471.8 148.25v-3.8M480.3 252.35v2.6M480.3 148.25v-2.6M488.8 252.35v2.6M488.8 148.25v-2.6M497.3 252.35v2.6M497.3 148.25v-2.6M505.8 252.35v2.6M505.8 148.25v-2.6M514.3 252.35v2.6M514.3 148.25v-2.6M522.8 252.35v2.6M522.8 148.25v-2.6M531.3 252.35v2.6M531.3 148.25v-2.6M539.8 252.35v2.6M539.8 148.25v-2.6M548.3 252.35v2.6M548.3 148.25v-2.6M556.8 252.35v3.8M556.8 148.25v-3.8M565.3 252.35v2.6M565.3 148.25v-2.6M573.8 252.35v2.6M573.8 148.25v-2.6M582.3 252.35v2.6M582.3 148.25v-2.6M590.8 252.35v2.6M590.8 148.25v-2.6M599.3 252.35v2.6M599.3 148.25v-2.6M607.8 252.35v2.6M607.8 148.25v-2.6M616.3 252.35v2.6M616.3 148.25v-2.6M624.8 252.35v2.6M624.8 148.25v-2.6M633.3 252.35v2.6M633.3 148.25v-2.6M641.8 252.35v3.8M641.8 148.25v-3.8M650.3 252.35v2.6M650.3 148.25v-2.6M658.8 252.35v2.6M658.8 148.25v-2.6M667.3 252.35v2.6M667.3 148.25v-2.6M386.05 251.1h-3.8M671.65 251.1h3.8M386.05 244.98h-2.6M671.65 244.98h2.6M386.05 238.86h-2.6M671.65 238.86h2.6M386.05 232.74h-2.6M671.65 232.74h2.6M386.05 226.62h-2.6M671.65 226.62h2.6M386.05 220.5h-3.8M671.65 220.5h3.8M386.05 214.38h-2.6M671.65 214.38h2.6M386.05 208.26h-2.6M671.65 208.26h2.6M386.05 202.14h-2.6M671.65 202.14h2.6M386.05 196.02h-2.6M671.65 196.02h2.6M386.05 189.9h-3.8M671.65 189.9h3.8M386.05 183.78h-2.6M671.65 183.78h2.6M386.05 177.66h-2.6M671.65 177.66h2.6M386.05 171.54h-2.6M671.65 171.54h2.6M386.05 165.42h-2.6M671.65 165.42h2.6M386.05 159.3h-3.8M671.65 159.3h3.8M386.05 153.18h-2.6M671.65 153.18h2.6" stroke="#000" stroke-width="2.3" fill="none"/>
<rect x="387.3" y="149.5" width="283.1" height="101.6" fill="none" stroke="#000" stroke-width="2.5"/>
<text x="384.4" y="267.3" font-size="10.3" letter-spacing="1.1" text-anchor="middle" fill="#1c1c1c">265.0</text>
<text x="469.8" y="267.3" font-size="10.3" letter-spacing="1.1" text-anchor="middle" fill="#1c1c1c">265.5</text>
<text x="555.2" y="267.3" font-size="10.3" letter-spacing="1.1" text-anchor="middle" fill="#1c1c1c">266.0</text>
<text x="640.6" y="267.3" font-size="10.3" letter-spacing="1.1" text-anchor="middle" fill="#1c1c1c">266.5</text>
<text x="380.8" y="255.7" font-size="10.3" letter-spacing="1.1" text-anchor="end" fill="#1c1c1c">0</text>
<text x="380.8" y="225.1" font-size="10.3" letter-spacing="1.1" text-anchor="end" fill="#1c1c1c">1</text>
<text x="380.8" y="194.5" font-size="10.3" letter-spacing="1.1" text-anchor="end" fill="#1c1c1c">2</text>
<text x="380.8" y="163.9" font-size="10.3" letter-spacing="1.1" text-anchor="end" fill="#1c1c1c">3</text>
<text x="495.4" y="279.5" font-size="13.1" fill="#111">mass</text>
<text x="529.6999999999999" y="279.5" font-size="13.5" letter-spacing="0.9" fill="#111">(m/z)</text>
<g transform="translate(354.5 200.3) rotate(-90)" font-size="13" fill="#111"><text x="-63.9" y="0" letter-spacing="1.25">Intensity</text><text x="1.7" y="0">(c/s)</text><text x="31.8" y="0">×</text><text x="42.4" y="0" letter-spacing="0.6">10</text><text x="57.4" y="-5.4" font-size="9">2</text></g>
<path d="M525.8 176.8V164H557.7" stroke="#000" stroke-width="1.3" fill="none"/>
<text x="530.2" y="175.7" text-anchor="start" letter-spacing="0.8" fill="#1a1a1a"><tspan dy="-0" font-size="12.8">Zr</tspan><tspan dy="3.1" font-size="8.6">2</tspan><tspan dy="-3.1" font-size="12.8">O</tspan><tspan dy="3.1" font-size="8.6">4</tspan><tspan dy="-3.1" font-size="12.8">H</tspan><tspan dy="3.1" font-size="8.6">3</tspan><tspan dy="-3.1" font-size="12.8">F</tspan><tspan dy="-5.2" font-size="8.6">−</tspan></text>
<rect x="38.45" y="290.1" width="283.25" height="101.9" fill="#d5e5fd"/>
<path d="M37.5 388.8 38.0 389.4 38.5 389.2 39.0 388.7 39.5 388.8 40.0 388.4 40.5 387.8 41.0 387.3 41.5 386.7 42.0 386.8 42.5 387.5 43.0 387.6 43.5 386.9 44.0 385.9 44.5 385.9 45.0 386.6 45.5 386.6 46.0 386.2 46.5 386.3 47.0 386.7 47.5 387.7 48.0 387.7 48.5 386.2 49.0 385.9 49.5 387.2 50.0 387.3 50.5 387.2 51.0 386.4 51.5 385.6 52.0 386.9 52.5 386.6 53.0 386.4 53.5 386.5 54.0 386.2 54.5 386.9 55.0 386.7 55.5 386.7 56.0 386.4 56.5 385.9 57.0 386.8 57.5 387.6 58.0 386.5 58.5 385.2 59.0 386.4 59.5 386.3 60.0 385.7 60.5 386.5 61.0 386.6 61.5 386.6 62.0 386.0 62.5 385.8 63.0 387.1 63.5 386.3 64.0 385.3 64.5 386.5 65.0 387.0 65.5 386.9 66.0 386.8 66.5 386.3 67.0 386.2 67.5 386.6 68.0 387.0 68.5 386.4 69.0 386.2 69.5 385.6 70.0 385.9 70.5 386.5 71.0 386.1 71.5 386.7 72.0 386.2 72.5 385.9 73.0 386.8 73.5 386.9 74.0 386.2 74.5 386.5 75.0 386.4 75.5 385.6 76.0 386.3 76.5 386.0 77.0 385.2 77.5 385.5 78.0 386.1 78.5 385.6 79.0 385.1 79.5 386.2 80.0 386.9 80.5 386.6 81.0 386.7 81.5 387.2 82.0 386.7 82.5 386.1 83.0 386.4 83.5 385.8 84.0 386.1 84.5 386.7 85.0 386.4 85.5 386.5 86.0 386.7 86.5 386.2 87.0 386.1 87.5 385.9 88.0 386.2 88.5 386.7 89.0 386.9 89.5 387.1 90.0 386.8 90.5 386.2 91.0 385.6 91.5 385.9 92.0 385.5 92.5 385.1 93.0 385.6 93.5 386.4 94.0 387.3 94.5 387.0 95.0 386.6 95.5 386.8 96.0 386.8 96.5 387.2 97.0 386.5 97.5 386.3 98.0 387.2 98.5 386.5 99.0 386.9 99.5 386.7 100.0 385.7 100.5 386.2 101.0 387.0 101.5 387.1 102.0 387.4 102.5 386.7 103.0 385.9 103.5 386.8 104.0 387.2 104.5 386.7 105.0 385.7 105.5 386.5 106.0 387.3 106.5 387.5 107.0 387.0 107.5 386.3 108.0 385.7 108.5 385.8 109.0 386.9 109.5 387.1 110.0 386.6 110.5 387.0 111.0 387.1 111.5 386.3 112.0 386.8 112.5 387.3 113.0 386.7 113.5 385.6 114.0 386.2 114.5 386.8 115.0 385.9 115.5 386.4 116.0 387.2 116.5 387.4 117.0 387.4 117.5 386.9 118.0 387.1 118.5 387.3 119.0 387.8 119.5 388.1 120.0 387.8 120.5 387.0 121.0 386.7 121.5 387.2 122.0 386.7 122.5 386.0 123.0 386.5 123.5 386.9 124.0 386.3 124.5 385.8 125.0 386.3 125.5 386.3 126.0 385.8 126.5 385.4 127.0 385.5 127.5 385.2 128.0 383.8 128.4 383.1 128.9 380.5 129.4 377.0 129.9 375.8 130.4 375.2 130.9 376.9 131.4 380.4 131.9 382.1 132.4 382.6 132.9 382.6 133.4 383.4 133.9 383.2 134.4 382.9 134.9 382.5 135.4 380.6 135.9 379.6 136.4 380.0 136.9 378.7 137.4 377.4 137.9 378.0 138.4 379.4 138.9 382.2 139.4 384.7 139.9 385.8 140.4 386.3 140.9 387.6 141.4 387.4 141.9 386.4 142.4 386.9 142.9 386.8 143.4 387.3 143.9 387.5 144.4 386.7 144.9 386.2 145.4 386.5 145.9 387.1 146.4 387.7 146.9 387.0 147.4 386.5 147.9 387.3 148.4 388.4 148.9 388.6 149.4 388.5 149.9 387.7 150.4 386.8 150.9 387.7 151.4 387.9 151.9 386.5 152.4 385.9 152.9 387.6 153.4 388.2 153.9 388.1 154.4 388.8 154.9 388.2 155.4 386.5 155.9 386.0 156.4 387.0 156.9 387.8 157.4 387.8 157.9 387.2 158.4 387.9 158.9 389.1 159.4 387.7 159.9 386.9 160.4 387.0 160.9 387.0 161.4 387.1 161.9 387.5 162.4 387.9 162.9 387.0 163.4 386.8 163.9 387.7 164.4 387.7 164.9 387.8 165.4 388.8 165.9 388.4 166.4 387.2 166.9 387.1 167.4 388.2 167.9 388.2 168.4 387.4 168.9 388.0 169.4 389.3 169.9 388.7 170.4 387.3 170.9 387.6 171.4 388.7 171.9 389.5 172.4 388.4 172.9 387.4 173.4 387.7 173.9 388.1 174.4 388.2 174.9 388.3 175.4 388.7 175.9 388.8 176.4 388.6 176.9 388.4 177.4 388.1 177.9 387.7 178.4 388.4 178.9 388.0 179.4 388.1 179.9 388.7 180.4 387.8 180.9 387.5 181.4 388.9 181.9 389.1 182.4 387.6 182.9 387.5 183.4 388.9 183.9 389.9 184.4 389.0 184.9 388.9 185.4 388.3 185.9 388.5 186.4 388.5 186.9 388.0 187.4 389.2 187.9 389.9 188.4 389.5 188.9 389.0 189.4 388.5 189.9 388.6 190.4 388.7 190.9 389.3 191.4 391.0 191.9 390.5 192.4 389.0 192.9 389.0 193.4 389.7 193.9 389.4 194.4 388.2 194.9 388.4 195.4 389.6 195.9 389.9 196.4 388.8 196.9 388.5 197.4 389.1 197.9 388.6 198.4 388.4 198.9 389.3 199.4 389.4 199.9 388.7 200.4 388.9 200.9 388.8 201.4 389.3 201.9 389.7 202.4 389.7 202.9 389.3 203.4 389.4 203.9 389.5 204.4 389.7 204.9 390.0 205.4 389.6 205.9 389.6 206.4 389.4 206.9 389.5 207.4 389.6 207.9 390.4 208.4 389.8 208.9 389.2 209.4 389.8 209.9 389.9 210.4 389.4 210.9 389.4 211.4 389.6 211.9 388.7 212.4 388.2 212.9 388.2 213.4 388.7 213.9 389.7 214.4 389.4 214.9 388.4 215.4 388.6 215.9 388.7 216.4 389.0 216.9 389.6 217.4 389.2 217.9 388.4 218.4 389.3 218.9 389.4 219.4 388.9 219.9 388.9 220.4 388.9 220.9 388.8 221.4 388.4 221.9 388.5 222.4 389.5 222.9 389.5 223.4 388.9 223.9 389.6 224.4 389.3 224.9 389.3 225.4 389.1 225.9 387.6 226.4 388.0 226.9 388.0 227.4 387.4 227.9 387.2 228.4 387.7 228.9 387.5 229.4 386.7 229.9 386.6 230.4 386.7 230.9 386.7 231.4 386.8 231.9 387.2 232.4 387.0 232.9 387.5 233.4 387.9 233.9 388.1 234.4 388.5 234.9 389.0 235.4 389.0 235.9 388.3 236.4 388.7 236.9 389.0 237.4 388.8 237.9 389.6 238.4 389.6 238.9 388.6 239.4 389.0 239.9 390.3 240.4 390.0 240.9 389.6 241.4 388.8 241.9 388.6 242.4 389.4 242.9 389.6 243.4 389.5 243.9 389.5 244.4 390.0 244.9 389.8 245.4 389.8 245.9 389.2 246.4 389.3 246.9 389.9 247.4 389.7 247.9 390.3 248.4 389.3 248.9 389.6 249.4 389.7 249.9 389.4 250.4 390.0 250.9 388.4 251.4 389.3 251.9 390.9 252.4 389.4 252.9 388.8 253.4 389.6 253.9 389.6 254.4 389.8 254.9 389.8 255.4 388.7 255.9 388.9 256.4 389.5 256.9 388.9 257.4 388.1 257.9 388.8 258.4 389.5 258.9 389.5 259.4 389.9 259.9 389.8 260.4 389.8 260.9 390.4 261.4 390.9 261.9 390.5 262.4 389.6 262.9 388.8 263.4 389.1 263.9 389.7 264.4 389.2 264.9 388.8 265.4 389.1 265.9 389.4 266.4 388.6 266.9 388.7 267.4 389.7 267.9 390.2 268.4 389.8 268.9 389.2 269.4 388.6 269.9 388.6 270.4 389.1 270.9 388.6 271.4 388.2 271.9 389.1 272.4 389.2 272.9 388.6 273.4 389.3 273.9 389.4 274.4 389.5 274.9 389.5 275.4 390.3 275.9 390.0 276.4 389.0 276.9 389.6 277.4 389.6 277.9 388.3 278.4 388.1 278.9 389.2 279.4 388.6 279.9 388.8 280.4 389.6 280.9 389.4 281.4 389.5 281.9 388.9 282.4 388.6 282.9 389.2 283.4 389.5 283.9 389.1 284.4 389.2 284.9 389.3 285.4 389.4 285.9 389.7 286.4 389.4 286.9 389.5 287.4 389.3 287.9 389.0 288.4 389.5 288.9 389.7 289.4 389.5 289.9 389.3 290.4 389.1 290.9 389.1 291.4 389.5 291.9 388.8 292.4 388.1 292.9 388.6 293.4 388.6 293.9 388.5 294.4 389.0 294.9 389.1 295.4 387.8 295.9 387.5 296.4 388.1 296.9 388.7 297.4 388.9 297.9 387.8 298.4 387.8 298.9 388.3 299.4 388.0 299.9 388.1 300.4 388.0 300.9 388.2 301.4 388.7 301.9 389.0 302.4 388.2 302.9 387.8 303.4 388.8 303.9 388.4 304.4 388.7 304.9 389.2 305.4 389.4 305.9 389.4 306.4 389.2 306.9 389.0 307.4 388.9 307.9 389.4 308.4 389.5 308.9 389.3 309.4 389.4 309.9 389.0 310.4 388.5 310.9 388.8 311.4 389.6 311.9 389.5 312.4 389.5 312.9 389.7 313.4 389.1 313.9 389.5 314.4 389.8 314.9 389.9 315.4 388.7 315.9 388.6 316.4 389.5 316.9 389.0 317.4 388.8 317.9 388.7 318.4 389.4 318.9 390.3 319.4 388.4 319.9 388.0 320.4 389.5 320.9 389.5 321.4 388.9 321.9 389.5 322.4 389.8" stroke="#ff0000" stroke-width="2.0" fill="none" stroke-linejoin="round" clip-path="url(#c4)"/>
<path d="M37.5 388.8 38.0 388.5 38.5 388.7 39.0 389.0 39.5 389.1 40.0 389.7 40.5 388.4 41.0 389.3 41.5 388.9 42.0 388.1 42.5 388.9 43.0 388.5 43.5 388.8 44.0 388.5 44.5 388.7 45.0 388.9 45.5 388.2 46.0 388.8 46.5 389.2 47.0 388.8 47.5 388.4 48.0 389.0 48.5 388.3 49.0 388.3 49.5 387.7 50.0 388.8 50.5 388.2 51.0 389.1 51.5 388.6 52.0 388.3 52.5 388.2 53.0 388.3 53.5 388.3 54.0 388.4 54.5 388.2 55.0 387.9 55.5 387.6 56.0 387.5 56.5 387.1 57.0 386.8 57.5 387.6 58.0 386.5 58.5 385.4 59.0 384.1 59.5 381.2 60.0 378.2 60.5 374.3 61.0 369.0 61.5 362.5 62.0 356.8 62.5 351.1 63.0 346.6 63.5 345.5 64.0 346.0 64.5 348.5 65.0 351.4 65.5 355.6 66.0 359.8 66.5 363.5 67.0 368.3 67.5 370.5 68.0 373.2 68.5 376.0 69.0 377.9 69.5 378.7 70.0 380.0 70.5 380.2 71.0 380.1 71.5 381.0 72.0 381.2 72.5 381.8 73.0 382.5 73.5 383.1 74.0 383.8 74.5 384.1 75.0 385.8 75.5 385.8 76.0 386.0 76.5 387.0 77.0 387.1 77.5 387.5 78.0 387.3 78.5 387.3 79.0 387.2 79.5 387.6 80.0 388.1 80.5 387.8 81.0 387.7 81.5 387.3 82.0 388.7 82.5 387.6 83.0 388.3 83.5 387.2 84.0 387.0 84.5 386.6 85.0 385.9 85.5 385.4 86.0 384.9 86.5 383.4 87.0 381.8 87.5 380.9 88.0 379.4 88.5 378.5 89.0 376.4 89.5 376.2 90.0 376.0 90.5 376.1 91.0 377.0 91.5 377.9 92.0 378.7 92.5 380.3 93.0 381.5 93.5 382.8 94.0 384.9 94.5 385.4 95.0 385.7 95.5 386.0 96.0 387.9 96.5 388.2 97.0 387.7 97.5 388.2 98.0 388.6 98.5 388.2 99.0 388.7 99.5 389.3 100.0 388.5 100.5 388.4 101.0 388.3 101.5 388.2 102.0 388.5 102.5 388.7 103.0 388.9 103.5 389.2 104.0 388.8 104.5 388.3 105.0 388.4 105.5 387.9 106.0 388.7 106.5 389.4 107.0 388.4 107.5 388.3 108.0 389.2 108.5 389.3 109.0 388.7 109.5 388.5 110.0 389.2 110.5 388.9 111.0 389.0 111.5 389.2 112.0 389.2 112.5 388.7 113.0 388.9 113.5 389.0 114.0 389.7 114.5 388.1 115.0 389.1 115.5 388.8 116.0 389.2 116.5 388.6 117.0 389.3 117.5 388.7 118.0 388.8 118.5 388.4 119.0 389.2 119.5 389.0 120.0 388.8 120.5 387.9 121.0 389.3 121.5 388.6 122.0 389.0 122.5 388.6 123.0 388.5 123.5 388.6 124.0 388.6 124.5 388.6 125.0 388.9 125.5 388.7 126.0 389.3 126.5 388.7 127.0 388.9 127.5 388.7 128.0 388.2 128.4 388.3 128.9 388.3 129.4 388.0 129.9 389.3 130.4 388.1 130.9 388.2 131.4 388.1 131.9 388.4 132.4 387.4 132.9 386.7 133.4 386.0 133.9 385.3 134.4 383.3 134.9 380.8 135.4 377.4 135.9 374.1 136.4 370.7 136.9 367.2 137.4 364.6 137.9 363.8 138.4 365.3 138.9 367.6 139.4 371.7 139.9 375.6 140.4 378.7 140.9 381.9 141.4 384.0 141.9 386.3 142.4 386.3 142.9 387.3 143.4 387.7 143.9 387.8 144.4 388.0 144.9 388.5 145.4 387.6 145.9 388.6 146.4 388.1 146.9 387.8 147.4 388.8 147.9 388.5 148.4 388.9 148.9 388.2 149.4 388.8 149.9 389.1 150.4 388.2 150.9 388.4 151.4 389.1 151.9 388.3 152.4 388.7 152.9 387.7 153.4 388.1 153.9 389.0 154.4 388.9 154.9 389.1 155.4 388.8 155.9 388.8 156.4 388.5 156.9 388.8 157.4 389.4 157.9 389.1 158.4 388.3 158.9 388.4 159.4 388.9 159.9 388.9 160.4 388.9 160.9 388.8 161.4 389.5 161.9 388.5 162.4 389.1 162.9 388.8 163.4 389.8 163.9 388.8 164.4 388.4 164.9 389.7 165.4 388.3 165.9 388.7 166.4 389.2 166.9 389.5 167.4 388.4 167.9 388.8 168.4 388.7 168.9 389.0 169.4 389.2 169.9 388.6 170.4 389.3 170.9 388.5 171.4 389.5 171.9 389.2 172.4 389.4 172.9 388.4 173.4 389.6 173.9 389.3 174.4 388.6 174.9 388.8 175.4 388.1 175.9 388.2 176.4 388.7 176.9 388.6 177.4 389.6 177.9 389.2 178.4 389.0 178.9 389.0 179.4 389.4 179.9 389.3 180.4 389.2 180.9 388.5 181.4 388.7 181.9 389.0 182.4 389.0 182.9 388.8 183.4 389.2 183.9 389.0 184.4 389.6 184.9 388.7 185.4 388.5 185.9 388.8 186.4 388.7 186.9 388.8 187.4 388.1 187.9 388.8 188.4 389.4 188.9 389.3 189.4 388.6 189.9 388.5 190.4 388.6 190.9 388.6 191.4 388.8 191.9 389.5 192.4 389.2 192.9 389.6 193.4 389.1 193.9 389.4 194.4 388.9 194.9 389.0 195.4 389.7 195.9 388.6 196.4 388.6 196.9 389.4 197.4 388.9 197.9 388.6 198.4 389.0 198.9 388.6 199.4 388.8 199.9 388.5 200.4 388.8 200.9 389.0 201.4 388.7 201.9 388.6 202.4 388.8 202.9 389.1 203.4 389.2 203.9 389.1 204.4 389.1 204.9 388.8 205.4 388.8 205.9 388.9 206.4 388.9 206.9 388.8 207.4 388.3 207.9 388.4 208.4 389.1 208.9 388.7 209.4 389.0 209.9 388.9 210.4 389.0 210.9 389.1 211.4 389.4 211.9 389.9 212.4 388.8 212.9 388.4 213.4 389.2 213.9 388.7 214.4 389.0 214.9 388.8 215.4 389.2 215.9 389.0 216.4 388.9 216.9 389.8 217.4 388.8 217.9 388.9 218.4 389.8 218.9 388.6 219.4 388.9 219.9 388.8 220.4 388.7 220.9 389.0 221.4 389.3 221.9 389.0 222.4 389.0 222.9 388.0 223.4 388.1 223.9 389.0 224.4 388.9 224.9 388.6 225.4 388.5 225.9 389.0 226.4 389.1 226.9 387.9 227.4 388.2 227.9 389.2 228.4 389.2 228.9 388.7 229.4 388.1 229.9 387.7 230.4 387.6 230.9 387.5 231.4 385.8 231.9 384.4 232.4 383.0 232.9 381.4 233.4 379.2 233.9 377.8 234.4 377.1 234.9 376.5 235.4 377.7 235.9 378.3 236.4 380.3 236.9 382.7 237.4 384.0 237.9 384.9 238.4 387.3 238.9 387.3 239.4 387.1 239.9 388.7 240.4 388.4 240.9 389.0 241.4 388.6 241.9 389.5 242.4 389.3 242.9 388.9 243.4 388.7 243.9 388.6 244.4 388.6 244.9 388.3 245.4 388.5 245.9 388.5 246.4 389.2 246.9 388.9 247.4 387.6 247.9 388.0 248.4 388.5 248.9 388.6 249.4 388.5 249.9 389.0 250.4 388.1 250.9 389.0 251.4 388.9 251.9 388.0 252.4 389.7 252.9 388.8 253.4 389.6 253.9 389.2 254.4 388.9 254.9 389.0 255.4 388.8 255.9 389.2 256.4 389.0 256.9 389.4 257.4 389.1 257.9 389.5 258.4 388.7 258.9 389.4 259.4 388.6 259.9 389.1 260.4 389.0 260.9 388.5 261.4 388.9 261.9 389.7 262.4 388.7 262.9 390.1 263.4 388.8 263.9 389.1 264.4 389.5 264.9 388.9 265.4 389.1 265.9 388.1 266.4 389.1 266.9 388.2 267.4 388.4 267.9 389.2 268.4 389.3 268.9 388.4 269.4 389.0 269.9 388.9 270.4 389.0 270.9 389.4 271.4 389.1 271.9 389.3 272.4 389.5 272.9 389.1 273.4 388.2 273.9 388.3 274.4 389.0 274.9 388.9 275.4 388.7 275.9 388.4 276.4 388.8 276.9 389.1 277.4 389.1 277.9 388.5 278.4 387.9 278.9 389.2 279.4 389.8 279.9 388.6 280.4 389.0 280.9 388.9 281.4 388.4 281.9 388.9 282.4 389.5 282.9 389.7 283.4 389.0 283.9 389.4 284.4 388.8 284.9 389.4 285.4 389.1 285.9 389.5 286.4 389.1 286.9 389.1 287.4 388.7 287.9 388.4 288.4 389.0 288.9 389.3 289.4 388.2 289.9 388.8 290.4 388.7 290.9 388.7 291.4 388.3 291.9 388.5 292.4 388.7 292.9 388.6 293.4 389.3 293.9 389.2 294.4 389.0 294.9 388.9 295.4 388.9 295.9 388.8 296.4 388.9 296.9 389.1 297.4 389.5 297.9 388.6 298.4 388.7 298.9 389.2 299.4 388.7 299.9 388.7 300.4 388.8 300.9 389.6 301.4 389.3 301.9 389.1 302.4 388.2 302.9 389.1 303.4 388.8 303.9 389.1 304.4 388.7 304.9 388.2 305.4 388.9 305.9 388.8 306.4 387.0 306.9 386.8 307.4 386.5 307.9 385.3 308.4 384.9 308.9 385.9 309.4 385.0 309.9 384.7 310.4 385.8 310.9 386.2 311.4 386.2 311.9 387.2 312.4 388.0 312.9 388.2 313.4 388.7 313.9 388.2 314.4 389.3 314.9 388.3 315.4 389.4 315.9 388.8 316.4 389.4 316.9 389.0 317.4 388.4 317.9 388.4 318.4 388.3 318.9 388.9 319.4 388.8 319.9 388.8 320.4 388.7 320.9 389.1 321.4 388.5 321.9 388.8 322.4 388.5" stroke="#1e8fff" stroke-width="2.0" fill="none" stroke-linejoin="round" clip-path="url(#c4)"/>
<path d="M37.5 386.6 38.0 386.5 38.5 387.0 39.0 386.8 39.5 387.0 40.0 386.6 40.5 386.4 41.0 385.9 41.5 386.7 42.0 384.8 42.5 386.0 43.0 385.4 43.5 385.4 44.0 386.7 44.5 385.7 45.0 384.9 45.5 386.4 46.0 385.0 46.5 385.6 47.0 385.3 47.5 384.9 48.0 385.6 48.5 384.7 49.0 384.9 49.5 384.8 50.0 384.1 50.5 383.0 51.0 384.2 51.5 384.0 52.0 384.2 52.5 384.4 53.0 384.0 53.5 383.4 54.0 383.8 54.5 383.4 55.0 383.7 55.5 382.5 56.0 383.9 56.5 382.8 57.0 382.5 57.5 382.1 58.0 381.8 58.5 380.6 59.0 378.3 59.5 375.1 60.0 371.0 60.5 364.6 61.0 355.8 61.5 346.0 62.0 336.4 62.5 327.0 63.0 320.3 63.5 316.9 64.0 319.3 64.5 323.6 65.0 329.1 65.5 335.5 66.0 343.3 66.5 351.5 67.0 357.5 67.5 363.3 68.0 368.0 68.5 372.0 69.0 374.4 69.5 376.6 70.0 377.1 70.5 377.8 71.0 378.4 71.5 378.4 72.0 377.6 72.5 377.0 73.0 377.1 73.5 377.6 74.0 379.6 74.5 379.3 75.0 380.3 75.5 381.1 76.0 382.2 76.5 382.6 77.0 383.3 77.5 382.3 78.0 383.5 78.5 384.1 79.0 384.2 79.5 384.3 80.0 384.3 80.5 384.6 81.0 384.5 81.5 384.1 82.0 384.1 82.5 384.3 83.0 383.9 83.5 384.2 84.0 384.6 84.5 384.6 85.0 383.9 85.5 383.2 86.0 382.4 86.5 381.5 87.0 381.3 87.5 380.5 88.0 378.9 88.5 377.9 89.0 377.8 89.5 377.0 90.0 376.3 90.5 376.9 91.0 377.6 91.5 379.2 92.0 378.7 92.5 380.0 93.0 381.1 93.5 382.3 94.0 383.3 94.5 383.5 95.0 384.1 95.5 384.0 96.0 385.2 96.5 384.4 97.0 385.1 97.5 384.8 98.0 385.7 98.5 385.3 99.0 385.0 99.5 385.5 100.0 386.2 100.5 385.7 101.0 385.4 101.5 386.3 102.0 386.3 102.5 385.7 103.0 386.2 103.5 385.6 104.0 386.3 104.5 386.6 105.0 386.2 105.5 385.3 106.0 386.3 106.5 386.0 107.0 385.9 107.5 386.4 108.0 385.6 108.5 386.0 109.0 385.9 109.5 386.8 110.0 386.9 110.5 387.3 111.0 386.3 111.5 386.3 112.0 386.0 112.5 385.7 113.0 386.4 113.5 386.4 114.0 386.2 114.5 385.8 115.0 386.7 115.5 386.2 116.0 386.5 116.5 386.6 117.0 386.2 117.5 386.8 118.0 386.9 118.5 386.3 119.0 386.6 119.5 386.7 120.0 386.6 120.5 386.4 121.0 386.8 121.5 386.3 122.0 386.5 122.5 386.1 123.0 386.2 123.5 386.4 124.0 386.8 124.5 386.7 125.0 387.0 125.5 385.6 126.0 386.8 126.5 386.5 127.0 386.2 127.5 387.3 128.0 387.1 128.4 386.9 128.9 387.1 129.4 387.2 129.9 386.9 130.4 386.2 130.9 386.3 131.4 386.5 131.9 386.3 132.4 386.8 132.9 385.4 133.4 385.0 133.9 384.8 134.4 383.1 134.9 381.9 135.4 380.4 135.9 378.7 136.4 376.7 136.9 375.2 137.4 373.6 137.9 373.3 138.4 373.8 138.9 375.3 139.4 377.1 139.9 378.0 140.4 381.5 140.9 381.9 141.4 383.6 141.9 384.8 142.4 385.9 142.9 386.3 143.4 387.1 143.9 387.4 144.4 387.1 144.9 387.9 145.4 387.0 145.9 386.9 146.4 388.8 146.9 388.1 147.4 387.4 147.9 387.5 148.4 387.6 148.9 387.5 149.4 387.4 149.9 387.4 150.4 387.1 150.9 387.8 151.4 387.5 151.9 388.5 152.4 387.9 152.9 388.3 153.4 387.3 153.9 386.9 154.4 387.7 154.9 388.4 155.4 387.9 155.9 387.9 156.4 387.8 156.9 387.5 157.4 387.6 157.9 389.0 158.4 387.4 158.9 388.2 159.4 388.2 159.9 387.4 160.4 388.1 160.9 388.5 161.4 388.5 161.9 388.0 162.4 387.6 162.9 387.4 163.4 388.1 163.9 388.2 164.4 387.4 164.9 388.2 165.4 387.5 165.9 388.0 166.4 388.0 166.9 388.2 167.4 388.0 167.9 388.3 168.4 388.4 168.9 388.1 169.4 388.4 169.9 388.0 170.4 388.1 170.9 388.2 171.4 388.2 171.9 388.2 172.4 387.4 172.9 388.1 173.4 388.4 173.9 388.3 174.4 387.9 174.9 388.2 175.4 388.2 175.9 388.3 176.4 388.1 176.9 388.0 177.4 388.0 177.9 388.8 178.4 388.6 178.9 389.3 179.4 387.9 179.9 387.8 180.4 387.7 180.9 388.2 181.4 387.8 181.9 388.2 182.4 388.3 182.9 388.9 183.4 388.6 183.9 388.5 184.4 387.9 184.9 387.6 185.4 388.5 185.9 388.1 186.4 388.2 186.9 388.6 187.4 389.0 187.9 388.6 188.4 388.9 188.9 388.4 189.4 388.4 189.9 388.4 190.4 388.4 190.9 388.1 191.4 388.7 191.9 388.0 192.4 389.0 192.9 388.3 193.4 388.2 193.9 388.7 194.4 389.0 194.9 388.1 195.4 388.6 195.9 388.1 196.4 388.1 196.9 388.4 197.4 388.4 197.9 388.0 198.4 388.2 198.9 388.8 199.4 388.3 199.9 388.2 200.4 388.3 200.9 388.3 201.4 388.5 201.9 388.5 202.4 388.8 202.9 389.0 203.4 388.0 203.9 388.7 204.4 388.3 204.9 389.0 205.4 388.3 205.9 388.7 206.4 387.2 206.9 388.8 207.4 388.8 207.9 388.0 208.4 387.9 208.9 389.2 209.4 388.3 209.9 388.0 210.4 388.9 210.9 388.1 211.4 388.6 211.9 388.8 212.4 388.5 212.9 388.5 213.4 388.9 213.9 387.5 214.4 388.5 214.9 388.6 215.4 388.0 215.9 388.4 216.4 387.8 216.9 388.4 217.4 388.2 217.9 388.3 218.4 388.2 218.9 388.4 219.4 388.3 219.9 387.6 220.4 388.5 220.9 388.5 221.4 388.4 221.9 388.0 222.4 388.0 222.9 387.8 223.4 388.7 223.9 388.0 224.4 388.1 224.9 388.2 225.4 387.9 225.9 388.7 226.4 387.8 226.9 387.7 227.4 388.3 227.9 387.6 228.4 386.7 228.9 387.1 229.4 386.2 229.9 385.8 230.4 385.0 230.9 383.6 231.4 381.6 231.9 378.7 232.4 376.3 232.9 374.2 233.4 370.9 233.9 369.2 234.4 368.0 234.9 367.3 235.4 368.8 235.9 371.0 236.4 372.3 236.9 376.3 237.4 378.0 237.9 381.2 238.4 382.6 238.9 384.2 239.4 385.5 239.9 387.1 240.4 386.8 240.9 387.2 241.4 387.8 241.9 387.7 242.4 387.4 242.9 388.1 243.4 387.8 243.9 388.4 244.4 387.9 244.9 387.8 245.4 387.1 245.9 387.8 246.4 388.0 246.9 387.6 247.4 388.6 247.9 387.8 248.4 388.4 248.9 388.5 249.4 387.8 249.9 388.2 250.4 387.8 250.9 388.9 251.4 388.2 251.9 388.5 252.4 388.4 252.9 389.1 253.4 388.0 253.9 388.3 254.4 388.7 254.9 388.9 255.4 388.7 255.9 387.8 256.4 388.4 256.9 388.5 257.4 388.2 257.9 388.4 258.4 388.3 258.9 388.1 259.4 388.2 259.9 388.0 260.4 388.9 260.9 388.4 261.4 388.5 261.9 388.3 262.4 388.4 262.9 388.6 263.4 388.5 263.9 388.0 264.4 388.6 264.9 388.9 265.4 388.2 265.9 388.0 266.4 388.5 266.9 388.4 267.4 388.7 267.9 388.5 268.4 388.0 268.9 388.1 269.4 388.4 269.9 388.5 270.4 389.1 270.9 388.3 271.4 388.2 271.9 388.0 272.4 387.6 272.9 388.3 273.4 388.0 273.9 388.9 274.4 387.9 274.9 388.1 275.4 387.9 275.9 388.2 276.4 388.2 276.9 387.8 277.4 388.7 277.9 388.2 278.4 388.0 278.9 388.7 279.4 388.9 279.9 388.3 280.4 388.4 280.9 388.2 281.4 388.2 281.9 388.7 282.4 388.3 282.9 388.0 283.4 388.6 283.9 388.5 284.4 388.9 284.9 388.1 285.4 387.7 285.9 389.0 286.4 388.1 286.9 388.1 287.4 388.6 287.9 388.6 288.4 388.8 288.9 388.7 289.4 388.4 289.9 388.2 290.4 388.4 290.9 388.1 291.4 388.3 291.9 388.9 292.4 387.9 292.9 388.0 293.4 388.7 293.9 387.7 294.4 388.2 294.9 388.4 295.4 387.7 295.9 389.4 296.4 389.1 296.9 388.1 297.4 388.5 297.9 388.8 298.4 387.8 298.9 388.2 299.4 388.9 299.9 388.7 300.4 388.1 300.9 387.7 301.4 389.2 301.9 388.3 302.4 388.6 302.9 389.1 303.4 388.5 303.9 389.1 304.4 388.6 304.9 387.8 305.4 388.2 305.9 388.1 306.4 388.2 306.9 388.3 307.4 388.0 307.9 388.9 308.4 388.6 308.9 388.1 309.4 388.7 309.9 388.6 310.4 388.0 310.9 387.8 311.4 388.7 311.9 388.7 312.4 388.2 312.9 388.3 313.4 388.7 313.9 388.2 314.4 388.2 314.9 388.4 315.4 387.3 315.9 387.9 316.4 388.1 316.9 388.0 317.4 387.3 317.9 388.0 318.4 388.7 318.9 388.3 319.4 388.4 319.9 388.6 320.4 388.3 320.9 388.3 321.4 388.4 321.9 388.6 322.4 388.1" stroke="#808080" stroke-width="2.6" fill="none" stroke-linejoin="round" clip-path="url(#c4)"/>
<path d="M44.2 393.25v2.6M44.2 288.85v-2.6M52.7 393.25v2.6M52.7 288.85v-2.6M61.2 393.25v2.6M61.2 288.85v-2.6M69.7 393.25v2.6M69.7 288.85v-2.6M78.2 393.25v2.6M78.2 288.85v-2.6M86.7 393.25v2.6M86.7 288.85v-2.6M95.2 393.25v3.8M95.2 288.85v-3.8M103.7 393.25v2.6M103.7 288.85v-2.6M112.2 393.25v2.6M112.2 288.85v-2.6M120.7 393.25v2.6M120.7 288.85v-2.6M129.2 393.25v2.6M129.2 288.85v-2.6M137.7 393.25v2.6M137.7 288.85v-2.6M146.2 393.25v2.6M146.2 288.85v-2.6M154.7 393.25v2.6M154.7 288.85v-2.6M163.2 393.25v2.6M163.2 288.85v-2.6M171.7 393.25v2.6M171.7 288.85v-2.6M180.2 393.25v3.8M180.2 288.85v-3.8M188.7 393.25v2.6M188.7 288.85v-2.6M197.2 393.25v2.6M197.2 288.85v-2.6M205.7 393.25v2.6M205.7 288.85v-2.6M214.2 393.25v2.6M214.2 288.85v-2.6M222.7 393.25v2.6M222.7 288.85v-2.6M231.2 393.25v2.6M231.2 288.85v-2.6M239.7 393.25v2.6M239.7 288.85v-2.6M248.2 393.25v2.6M248.2 288.85v-2.6M256.7 393.25v2.6M256.7 288.85v-2.6M265.2 393.25v3.8M265.2 288.85v-3.8M273.7 393.25v2.6M273.7 288.85v-2.6M282.2 393.25v2.6M282.2 288.85v-2.6M290.7 393.25v2.6M290.7 288.85v-2.6M299.2 393.25v2.6M299.2 288.85v-2.6M307.7 393.25v2.6M307.7 288.85v-2.6M316.2 393.25v2.6M316.2 288.85v-2.6M37.2 392.4h-3.8M322.95 392.4h3.8M37.2 387.05h-2.6M322.95 387.05h2.6M37.2 381.7h-2.6M322.95 381.7h2.6M37.2 376.36h-2.6M322.95 376.36h2.6M37.2 371.01h-2.6M322.95 371.01h2.6M37.2 365.66h-3.8M322.95 365.66h3.8M37.2 360.31h-2.6M322.95 360.31h2.6M37.2 354.96h-2.6M322.95 354.96h2.6M37.2 349.62h-2.6M322.95 349.62h2.6M37.2 344.27h-2.6M322.95 344.27h2.6M37.2 338.92h-3.8M322.95 338.92h3.8M37.2 333.57h-2.6M322.95 333.57h2.6M37.2 328.22h-2.6M322.95 328.22h2.6M37.2 322.88h-2.6M322.95 322.88h2.6M37.2 317.53h-2.6M322.95 317.53h2.6M37.2 312.18h-3.8M322.95 312.18h3.8M37.2 306.83h-2.6M322.95 306.83h2.6M37.2 301.48h-2.6M322.95 301.48h2.6M37.2 296.14h-2.6M322.95 296.14h2.6M37.2 290.79h-2.6M322.95 290.79h2.6" stroke="#000" stroke-width="2.3" fill="none"/>
<rect x="38.45" y="290.1" width="283.25" height="101.9" fill="none" stroke="#000" stroke-width="2.5"/>
<text x="93.7" y="408.2" font-size="10.3" letter-spacing="1.1" text-anchor="middle" fill="#1c1c1c">267.0</text>
<text x="179" y="408.2" font-size="10.3" letter-spacing="1.1" text-anchor="middle" fill="#1c1c1c">267.5</text>
<text x="264" y="408.2" font-size="10.3" letter-spacing="1.1" text-anchor="middle" fill="#1c1c1c">268.0</text>
<text x="31.95" y="396.6" font-size="10.3" letter-spacing="1.1" text-anchor="end" fill="#1c1c1c">0</text>
<text x="31.95" y="369.8" font-size="10.3" letter-spacing="1.1" text-anchor="end" fill="#1c1c1c">2</text>
<text x="31.95" y="343" font-size="10.3" letter-spacing="1.1" text-anchor="end" fill="#1c1c1c">4</text>
<text x="31.95" y="316.2" font-size="10.3" letter-spacing="1.1" text-anchor="end" fill="#1c1c1c">6</text>
<text x="147" y="420.4" font-size="13.1" fill="#111">mass</text>
<text x="181.3" y="420.4" font-size="13.5" letter-spacing="0.9" fill="#111">(m/z)</text>
<g transform="translate(14.0 341.05) rotate(-90)" font-size="13" fill="#111"><text x="-63.9" y="0" letter-spacing="1.25">Intensity</text><text x="1.7" y="0">(c/s)</text><text x="31.8" y="0">×</text><text x="42.4" y="0" letter-spacing="0.6">10</text><text x="57.4" y="-5.4" font-size="9">2</text></g>
<path d="M63.4 318V304H95.5" stroke="#000" stroke-width="1.3" fill="none"/>
<text x="66.5" y="316.4" text-anchor="start" letter-spacing="0.8" fill="#1a1a1a"><tspan dy="-0" font-size="12.8">Zr</tspan><tspan dy="3.1" font-size="8.6">2</tspan><tspan dy="-3.1" font-size="12.8">O</tspan><tspan dy="3.1" font-size="8.6">4</tspan><tspan dy="-3.1" font-size="12.8">H</tspan><tspan dy="3.1" font-size="8.6">4</tspan><tspan dy="-3.1" font-size="12.8">F</tspan><tspan dy="-5.2" font-size="8.6">−</tspan></text>
<rect x="387.3" y="290.1" width="283.1" height="101.9" fill="#dfe9d6"/>
<path d="M386.3 385.3 386.7 380.1 387.0 381.8 387.4 381.3 387.7 386.9 388.1 378.2 388.4 385.6 388.8 383.7 389.1 380.4 389.5 383.1 389.8 382.7 390.2 386.6 390.5 382.7 390.9 381.3 391.2 380.3 391.6 382.4 391.9 381.3 392.3 380.8 392.6 383.2 393.0 383.4 393.3 377.5 393.7 383.6 394.0 379.1 394.4 381.6 394.7 378.6 395.1 383.1 395.4 380.6 395.8 381.0 396.1 382.2 396.5 381.0 396.8 383.4 397.2 381.9 397.5 382.5 397.9 380.0 398.2 381.9 398.6 384.7 398.9 382.5 399.3 381.9 399.6 383.6 400.0 378.8 400.3 380.8 400.7 379.8 401.0 383.3 401.4 382.5 401.7 379.4 402.1 384.7 402.4 380.8 402.8 381.4 403.1 382.7 403.5 381.4 403.8 383.9 404.2 381.1 404.5 384.2 404.9 384.3 405.2 378.6 405.6 383.1 405.9 386.1 406.3 379.4 406.6 383.2 407.0 389.1 407.3 381.7 407.7 379.5 408.0 380.8 408.4 377.8 408.7 381.8 409.1 380.2 409.4 383.7 409.8 381.1 410.1 378.2 410.5 380.4 410.8 381.1 411.2 385.8 411.5 382.3 411.9 384.3 412.2 379.8 412.6 383.1 412.9 380.7 413.3 383.6 413.6 377.4 414.0 384.0 414.3 381.1 414.7 375.7 415.0 381.0 415.4 383.3 415.7 380.1 416.1 379.3 416.4 379.5 416.8 385.7 417.1 380.9 417.5 386.0 417.8 377.3 418.2 381.2 418.5 382.4 418.9 379.9 419.2 380.3 419.6 383.9 419.9 377.8 420.3 381.9 420.6 385.2 421.0 378.3 421.3 378.0 421.7 378.6 422.0 380.2 422.4 383.3 422.7 379.3 423.1 377.3 423.4 379.6 423.8 377.9 424.1 383.1 424.5 379.2 424.8 379.4 425.2 384.6 425.5 384.9 425.9 383.0 426.2 381.2 426.6 380.4 426.9 381.9 427.3 381.6 427.6 381.7 428.0 381.2 428.3 380.2 428.7 380.4 429.0 381.6 429.4 380.9 429.7 382.4 430.1 379.7 430.4 382.6 430.8 377.9 431.1 381.5 431.5 380.9 431.8 383.1 432.2 382.2 432.5 381.1 432.9 381.4 433.2 382.8 433.6 384.0 433.9 381.4 434.3 381.2 434.6 380.3 435.0 378.8 435.3 382.2 435.7 385.9 436.0 381.8 436.4 385.6 436.7 384.3 437.1 379.3 437.4 380.3 437.8 383.0 438.1 382.9 438.5 381.7 438.8 385.4 439.2 380.5 439.5 382.3 439.9 377.5 440.2 383.9 440.6 379.4 440.9 383.1 441.3 379.4 441.6 383.7 442.0 380.0 442.3 382.6 442.7 383.4 443.0 381.9 443.4 380.6 443.7 380.7 444.1 378.2 444.4 379.8 444.8 387.4 445.1 382.5 445.5 386.0 445.8 382.5 446.2 380.3 446.5 384.6 446.9 384.2 447.2 381.3 447.6 382.3 447.9 378.2 448.3 381.0 448.6 380.5 449.0 377.8 449.3 382.8 449.7 381.7 450.0 383.9 450.4 381.1 450.7 379.4 451.1 378.7 451.4 381.8 451.8 383.3 452.1 383.4 452.5 384.8 452.8 381.5 453.2 378.7 453.5 386.9 453.9 386.5 454.2 378.7 454.6 385.3 454.9 381.0 455.3 384.5 455.6 380.0 456.0 380.0 456.3 381.4 456.7 379.9 457.0 381.7 457.4 380.5 457.7 377.8 458.1 379.4 458.4 383.2 458.8 383.5 459.1 382.3 459.5 382.3 459.8 381.6 460.2 383.1 460.5 380.4 460.9 381.7 461.2 381.0 461.6 381.8 461.9 380.5 462.3 384.4 462.6 378.3 463.0 381.1 463.3 380.8 463.7 380.5 464.0 379.5 464.4 380.2 464.7 381.3 465.1 382.2 465.4 385.5 465.8 381.4 466.1 382.5 466.5 382.5 466.8 376.6 467.2 386.0 467.5 381.7 467.9 379.2 468.2 379.8 468.6 379.2 468.9 384.7 469.3 384.0 469.6 380.5 470.0 382.5 470.3 378.1 470.7 381.4 471.0 381.5 471.4 380.9 471.7 382.5 472.1 381.6 472.4 383.4 472.8 382.0 473.1 383.0 473.5 381.4 473.8 385.0 474.2 385.2 474.5 380.9 474.9 381.4 475.2 384.1 475.6 382.4 475.9 384.3 476.3 377.5 476.6 385.4 477.0 378.2 477.3 383.8 477.7 381.0 478.0 382.5 478.4 382.8 478.7 379.9 479.1 380.2 479.4 382.6 479.8 384.0 480.1 377.4 480.5 378.9 480.8 381.7 481.2 382.7 481.5 381.4 481.9 381.8 482.2 379.4 482.6 384.1 482.9 382.0 483.3 383.7 483.6 379.2 484.0 378.1 484.3 382.2 484.7 380.9 485.0 378.9 485.4 382.7 485.7 384.1 486.1 379.8 486.4 380.9 486.8 382.5 487.1 378.9 487.5 381.6 487.8 386.0 488.2 381.3 488.5 382.2 488.9 377.9 489.2 382.1 489.6 382.5 489.9 381.1 490.3 381.6 490.6 385.2 491.0 381.8 491.3 382.8 491.7 379.0 492.0 376.8 492.4 384.6 492.7 384.3 493.1 384.0 493.4 383.6 493.8 383.7 494.1 382.0 494.5 379.8 494.8 385.0 495.2 385.5 495.5 386.2 495.9 379.7 496.2 379.2 496.6 385.5 496.9 385.8 497.3 381.9 497.6 379.8 498.0 380.0 498.3 381.8 498.7 380.7 499.0 381.5 499.4 383.4 499.7 378.0 500.1 382.2 500.4 384.7 500.8 383.2 501.1 385.6 501.5 382.2 501.8 379.8 502.2 385.0 502.5 379.7 502.9 377.6 503.2 381.3 503.6 384.7 503.9 384.0 504.3 382.9 504.6 385.0 505.0 384.9 505.3 382.7 505.7 382.6 506.0 380.8 506.4 384.8 506.7 378.0 507.1 379.8 507.4 380.2 507.8 383.6 508.1 378.3 508.5 382.9 508.8 378.1 509.2 379.8 509.5 384.1 509.9 383.1 510.2 378.0 510.6 379.9 510.9 382.4 511.3 381.6 511.6 381.7 512.0 383.8 512.3 382.5 512.7 383.5 513.0 383.0 513.4 381.0 513.7 384.2 514.1 380.5 514.4 381.8 514.8 380.4 515.1 380.1 515.5 379.3 515.8 380.7 516.2 380.5 516.5 382.4 516.9 380.8 517.2 384.0 517.6 382.6 517.9 380.4 518.3 382.1 518.6 381.0 519.0 384.3 519.3 379.0 519.7 383.3 520.0 381.1 520.4 382.0 520.7 379.9 521.1 382.8 521.4 384.2 521.8 386.2 522.1 382.7 522.5 384.6 522.8 380.8 523.2 378.8 523.5 386.9 523.9 384.8 524.2 381.3 524.6 379.2 524.9 381.3 525.3 381.2 525.6 380.8 526.0 380.7 526.3 378.3 526.7 380.6 527.0 384.7 527.4 383.0 527.7 381.4 528.1 383.7 528.4 382.5 528.8 383.1 529.1 383.4 529.5 380.4 529.8 382.7 530.2 384.3 530.5 383.5 530.9 381.8 531.2 377.2 531.6 381.3 531.9 378.6 532.3 380.8 532.6 386.6 533.0 381.0 533.3 383.7 533.7 384.8 534.0 384.2 534.4 377.9 534.7 385.3 535.1 383.2 535.4 379.2 535.8 380.3 536.1 385.6 536.5 382.0 536.8 382.9 537.2 382.2 537.5 380.1 537.9 383.0 538.2 382.5 538.6 378.5 538.9 385.8 539.3 382.5 539.6 380.7 540.0 384.5 540.3 383.1 540.7 384.6 541.0 381.3 541.4 383.0 541.7 379.9 542.1 379.4 542.4 381.5 542.8 382.5 543.1 381.0 543.5 381.5 543.8 384.3 544.2 379.2 544.5 381.0 544.9 379.8 545.2 384.5 545.6 379.5 545.9 376.8 546.3 380.1 546.6 384.6 547.0 381.3 547.3 381.5 547.7 380.8 548.0 381.8 548.4 380.1 548.7 382.2 549.1 380.6 549.4 382.6 549.8 380.8 550.1 378.8 550.5 382.0 550.8 379.4 551.2 382.7 551.5 381.5 551.9 381.1 552.2 377.7 552.6 382.1 552.9 377.6 553.3 383.4 553.6 380.4 554.0 377.9 554.3 378.2 554.7 381.9 555.0 382.2 555.4 377.3 555.7 381.9 556.1 377.6 556.4 379.9 556.8 378.6 557.1 373.2 557.5 374.7 557.8 376.0 558.2 380.7 558.5 376.7 558.9 377.1 559.2 377.2 559.6 373.8 559.9 380.3 560.3 375.6 560.6 375.8 561.0 377.5 561.3 371.8 561.7 378.2 562.0 375.1 562.4 374.8 562.7 379.7 563.1 377.8 563.4 376.6 563.8 372.6 564.1 372.1 564.5 372.8 564.8 373.5 565.2 378.9 565.5 373.5 565.9 375.1 566.2 371.3 566.6 371.0 566.9 369.0 567.3 372.5 567.6 372.4 568.0 376.6 568.3 374.3 568.7 377.4 569.0 372.8 569.4 377.7 569.7 375.7 570.1 377.3 570.4 376.7 570.8 374.9 571.1 377.4 571.5 375.9 571.8 378.8 572.2 373.7 572.5 378.5 572.9 375.1 573.2 372.8 573.6 383.3 573.9 380.3 574.3 378.8 574.6 375.9 575.0 379.8 575.3 378.1 575.7 380.8 576.0 378.1 576.4 382.3 576.7 377.9 577.1 386.6 577.4 384.3 577.8 376.2 578.1 380.0 578.5 382.5 578.8 375.7 579.2 378.4 579.5 378.4 579.9 381.9 580.2 379.7 580.6 380.0 580.9 385.0 581.3 380.0 581.6 381.8 582.0 378.6 582.3 378.6 582.7 383.1 583.0 383.0 583.4 381.3 583.7 380.3 584.1 382.8 584.4 382.1 584.8 380.5 585.1 381.0 585.5 379.4 585.8 381.5 586.2 384.0 586.5 386.0 586.9 380.3 587.2 382.9 587.6 382.9 587.9 382.8 588.3 385.7 588.6 383.1 589.0 388.1 589.3 383.2 589.7 384.3 590.0 378.2 590.4 381.3 590.7 382.8 591.1 382.0 591.4 380.7 591.8 384.1 592.1 382.9 592.5 383.2 592.8 376.8 593.2 382.3 593.5 386.9 593.9 380.7 594.2 376.6 594.6 384.6 594.9 374.7 595.3 382.7 595.6 380.3 596.0 383.8 596.3 383.2 596.7 385.3 597.0 385.0 597.4 387.4 597.7 380.0 598.1 385.2 598.4 381.8 598.8 381.9 599.1 384.1 599.5 382.6 599.8 382.9 600.2 383.8 600.5 382.6 600.9 382.5 601.2 385.0 601.6 385.6 601.9 384.5 602.3 382.3 602.6 379.5 603.0 379.3 603.3 381.9 603.7 380.4 604.0 382.3 604.4 380.0 604.7 382.2 605.1 381.6 605.4 383.2 605.8 382.5 606.1 378.2 606.5 385.2 606.8 382.5 607.2 383.8 607.5 380.3 607.9 378.3 608.2 383.1 608.6 388.7 608.9 381.0 609.3 381.0 609.6 386.2 610.0 382.9 610.3 382.5 610.7 387.6 611.0 380.8 611.4 381.3 611.7 381.7 612.1 384.7 612.4 383.9 612.8 383.7 613.1 381.1 613.5 384.5 613.8 378.9 614.2 381.3 614.5 387.2 614.9 378.3 615.2 381.8 615.6 383.4 615.9 381.9 616.3 386.3 616.6 381.7 617.0 387.7 617.3 384.4 617.7 379.0 618.0 379.2 618.4 382.8 618.7 384.2 619.1 379.9 619.4 382.1 619.8 381.5 620.1 380.6 620.5 384.4 620.8 380.1 621.2 386.8 621.5 378.6 621.9 385.5 622.2 383.3 622.6 383.4 622.9 380.2 623.3 380.2 623.6 381.0 624.0 380.6 624.3 380.8 624.7 382.0 625.0 386.2 625.4 387.0 625.7 386.8 626.1 381.5 626.4 381.8 626.8 381.5 627.1 380.5 627.5 381.5 627.8 383.1 628.2 384.1 628.5 384.9 628.9 377.6 629.2 378.2 629.6 383.3 629.9 380.7 630.3 378.9 630.6 376.1 631.0 381.1 631.3 379.1 631.7 376.8 632.0 383.3 632.4 380.8 632.7 379.1 633.1 380.6 633.4 373.9 633.8 376.7 634.1 378.1 634.5 380.6 634.8 376.3 635.2 376.7 635.5 379.2 635.9 378.9 636.2 381.1 636.6 377.7 636.9 375.3 637.3 374.8 637.6 375.6 638.0 374.8 638.3 377.8 638.7 377.3 639.0 373.3 639.4 374.8 639.7 377.5 640.1 374.3 640.4 373.3 640.8 373.4 641.1 374.6 641.5 375.8 641.8 373.5 642.2 370.3 642.5 373.6 642.9 375.3 643.2 372.8 643.6 376.2 643.9 372.6 644.3 373.6 644.6 370.5 645.0 372.3 645.3 369.9 645.7 366.8 646.0 372.4 646.4 374.1 646.7 371.4 647.1 372.9 647.4 372.6 647.8 374.6 648.1 372.2 648.5 373.6 648.8 379.0 649.2 374.9 649.5 373.8 649.9 372.2 650.2 376.5 650.6 377.3 650.9 373.1 651.3 377.4 651.6 376.0 652.0 375.4 652.3 375.1 652.7 377.0 653.0 379.9 653.4 375.3 653.7 378.9 654.1 379.3 654.4 373.8 654.8 376.7 655.1 381.3 655.5 380.1 655.8 379.7 656.2 380.9 656.5 383.7 656.9 377.5 657.2 377.7 657.6 379.0 657.9 380.6 658.3 379.3 658.6 378.4 659.0 382.3 659.3 380.8 659.7 381.4 660.0 378.6 660.4 379.7 660.7 383.4 661.1 381.9 661.4 376.6 661.8 382.9 662.1 380.4 662.5 382.3 662.8 378.1 663.2 381.2 663.5 382.2 663.9 383.9 664.2 381.9 664.6 379.6 664.9 380.0 665.3 384.6 665.6 378.2 666.0 382.4 666.3 384.3 666.7 381.7 667.0 383.5 667.4 383.5 667.7 383.7 668.1 382.6 668.4 383.6 668.8 386.5 669.1 381.5 669.5 383.9 669.8 380.1 670.2 381.7 670.5 381.5 670.9 382.5 671.2 380.0" stroke="#ff0000" stroke-width="2.0" fill="none" stroke-linejoin="round" clip-path="url(#c5)"/>
<path d="M386.3 384.6 386.7 386.0 387.0 383.2 387.4 389.5 387.7 384.7 388.1 383.5 388.4 384.8 388.8 381.3 389.1 382.5 389.5 383.7 389.8 384.7 390.2 381.6 390.5 385.3 390.9 384.8 391.2 382.4 391.6 382.7 391.9 379.7 392.3 384.4 392.6 387.8 393.0 382.5 393.3 381.3 393.7 384.2 394.0 380.7 394.4 380.2 394.7 385.3 395.1 384.9 395.4 386.5 395.8 382.8 396.1 382.4 396.5 382.7 396.8 386.5 397.2 385.5 397.5 386.9 397.9 387.2 398.2 386.7 398.6 387.2 398.9 384.3 399.3 383.0 399.6 382.6 400.0 384.0 400.3 385.3 400.7 383.9 401.0 382.7 401.4 384.5 401.7 383.8 402.1 384.5 402.4 385.0 402.8 383.8 403.1 386.2 403.5 381.8 403.8 387.1 404.2 383.0 404.5 386.7 404.9 380.8 405.2 382.1 405.6 385.6 405.9 384.8 406.3 386.2 406.6 384.0 407.0 383.1 407.3 378.7 407.7 386.7 408.0 381.4 408.4 385.1 408.7 383.4 409.1 382.1 409.4 382.8 409.8 383.0 410.1 384.3 410.5 383.9 410.8 383.6 411.2 381.5 411.5 386.9 411.9 384.9 412.2 386.5 412.6 385.9 412.9 385.6 413.3 381.7 413.6 379.5 414.0 381.1 414.3 386.4 414.7 383.8 415.0 386.3 415.4 383.0 415.7 381.3 416.1 382.7 416.4 382.1 416.8 384.2 417.1 388.0 417.5 388.0 417.8 384.1 418.2 382.7 418.5 381.3 418.9 384.6 419.2 383.8 419.6 383.4 419.9 381.7 420.3 384.1 420.6 386.2 421.0 381.7 421.3 383.1 421.7 383.1 422.0 386.5 422.4 383.9 422.7 387.4 423.1 388.0 423.4 384.4 423.8 384.8 424.1 382.7 424.5 381.0 424.8 384.0 425.2 380.2 425.5 385.1 425.9 382.3 426.2 386.5 426.6 383.7 426.9 384.6 427.3 384.3 427.6 382.7 428.0 387.8 428.3 383.7 428.7 385.6 429.0 383.7 429.4 383.1 429.7 384.7 430.1 384.7 430.4 386.3 430.8 382.8 431.1 385.3 431.5 383.0 431.8 386.8 432.2 381.1 432.5 386.0 432.9 381.5 433.2 384.8 433.6 382.8 433.9 384.2 434.3 382.5 434.6 383.9 435.0 381.3 435.3 382.5 435.7 382.5 436.0 380.5 436.4 385.3 436.7 381.2 437.1 383.8 437.4 386.9 437.8 382.9 438.1 384.3 438.5 380.4 438.8 384.9 439.2 383.8 439.5 383.4 439.9 387.8 440.2 382.9 440.6 385.9 440.9 381.0 441.3 380.5 441.6 383.9 442.0 387.2 442.3 383.5 442.7 383.5 443.0 382.4 443.4 384.5 443.7 386.3 444.1 384.2 444.4 385.8 444.8 380.3 445.1 385.3 445.5 385.2 445.8 384.0 446.2 386.4 446.5 384.8 446.9 384.2 447.2 384.9 447.6 384.4 447.9 381.3 448.3 383.0 448.6 386.6 449.0 384.8 449.3 382.4 449.7 385.2 450.0 383.7 450.4 383.9 450.7 382.8 451.1 384.3 451.4 384.2 451.8 385.6 452.1 383.1 452.5 385.8 452.8 380.3 453.2 383.9 453.5 384.3 453.9 382.3 454.2 384.1 454.6 383.7 454.9 384.0 455.3 385.4 455.6 385.8 456.0 385.3 456.3 381.6 456.7 385.2 457.0 384.7 457.4 384.8 457.7 382.4 458.1 379.8 458.4 385.8 458.8 382.7 459.1 383.6 459.5 384.5 459.8 382.8 460.2 386.5 460.5 382.2 460.9 383.4 461.2 385.9 461.6 380.6 461.9 382.1 462.3 381.5 462.6 386.8 463.0 384.4 463.3 384.9 463.7 382.6 464.0 381.1 464.4 387.8 464.7 383.8 465.1 384.1 465.4 381.8 465.8 383.9 466.1 386.5 466.5 384.2 466.8 386.0 467.2 385.4 467.5 383.8 467.9 384.8 468.2 383.3 468.6 386.9 468.9 379.1 469.3 381.3 469.6 382.4 470.0 386.5 470.3 388.2 470.7 385.6 471.0 384.3 471.4 379.3 471.7 381.1 472.1 384.9 472.4 381.3 472.8 381.3 473.1 383.8 473.5 381.3 473.8 383.1 474.2 385.1 474.5 386.2 474.9 384.0 475.2 381.7 475.6 386.5 475.9 387.1 476.3 382.6 476.6 389.3 477.0 380.0 477.3 384.6 477.7 382.2 478.0 379.9 478.4 386.7 478.7 385.8 479.1 379.1 479.4 384.2 479.8 383.9 480.1 383.1 480.5 381.4 480.8 380.8 481.2 383.2 481.5 384.0 481.9 383.3 482.2 382.6 482.6 380.4 482.9 382.7 483.3 379.1 483.6 384.4 484.0 381.4 484.3 378.7 484.7 379.4 485.0 381.2 485.4 383.4 485.7 382.8 486.1 381.5 486.4 380.3 486.8 381.2 487.1 383.4 487.5 381.8 487.8 379.1 488.2 378.3 488.5 382.8 488.9 380.6 489.2 383.3 489.6 381.0 489.9 372.7 490.3 380.0 490.6 381.0 491.0 381.7 491.3 383.2 491.7 384.7 492.0 381.3 492.4 382.0 492.7 378.6 493.1 385.2 493.4 381.2 493.8 379.5 494.1 386.5 494.5 381.3 494.8 386.1 495.2 381.9 495.5 380.0 495.9 383.2 496.2 382.6 496.6 384.7 496.9 382.8 497.3 381.1 497.6 383.9 498.0 383.8 498.3 382.8 498.7 381.9 499.0 386.9 499.4 383.5 499.7 385.0 500.1 382.6 500.4 381.5 500.8 383.0 501.1 381.0 501.5 385.7 501.8 384.5 502.2 385.7 502.5 383.6 502.9 383.5 503.2 384.1 503.6 386.2 503.9 383.9 504.3 384.6 504.6 382.5 505.0 384.3 505.3 381.3 505.7 383.2 506.0 387.5 506.4 384.1 506.7 386.6 507.1 381.7 507.4 380.8 507.8 383.8 508.1 382.8 508.5 386.7 508.8 388.3 509.2 384.8 509.5 384.2 509.9 386.8 510.2 383.5 510.6 383.1 510.9 382.4 511.3 380.5 511.6 382.0 512.0 384.4 512.3 383.5 512.7 382.5 513.0 385.8 513.4 381.0 513.7 381.8 514.1 384.1 514.4 385.0 514.8 375.9 515.1 381.9 515.5 381.7 515.8 380.0 516.2 381.6 516.5 383.2 516.9 382.2 517.2 385.5 517.6 382.2 517.9 386.8 518.3 382.8 518.6 382.5 519.0 386.8 519.3 379.7 519.7 386.0 520.0 381.5 520.4 384.7 520.7 383.0 521.1 384.9 521.4 378.5 521.8 381.5 522.1 379.9 522.5 382.0 522.8 382.1 523.2 383.2 523.5 384.0 523.9 382.3 524.2 383.2 524.6 383.8 524.9 386.3 525.3 384.1 525.6 382.3 526.0 384.5 526.3 382.8 526.7 383.8 527.0 385.6 527.4 385.3 527.7 385.0 528.1 384.0 528.4 384.0 528.8 381.1 529.1 385.6 529.5 387.6 529.8 382.0 530.2 384.3 530.5 383.6 530.9 378.1 531.2 380.4 531.6 382.1 531.9 381.4 532.3 383.1 532.6 381.3 533.0 384.5 533.3 384.7 533.7 384.2 534.0 380.0 534.4 380.0 534.7 384.5 535.1 380.8 535.4 383.5 535.8 381.0 536.1 383.8 536.5 381.2 536.8 383.4 537.2 383.7 537.5 383.1 537.9 382.7 538.2 384.2 538.6 385.8 538.9 379.5 539.3 383.8 539.6 386.7 540.0 387.6 540.3 388.7 540.7 384.1 541.0 380.1 541.4 386.2 541.7 383.4 542.1 386.5 542.4 380.5 542.8 381.9 543.1 382.0 543.5 379.8 543.8 379.2 544.2 380.4 544.5 383.7 544.9 385.2 545.2 384.5 545.6 386.0 545.9 378.6 546.3 382.6 546.6 381.9 547.0 381.7 547.3 377.9 547.7 383.2 548.0 379.5 548.4 381.2 548.7 382.1 549.1 385.6 549.4 379.7 549.8 383.0 550.1 382.3 550.5 380.8 550.8 381.0 551.2 378.8 551.5 382.3 551.9 380.5 552.2 380.1 552.6 380.4 552.9 378.9 553.3 380.7 553.6 377.5 554.0 381.2 554.3 382.5 554.7 379.3 555.0 376.5 555.4 379.7 555.7 379.6 556.1 378.6 556.4 377.1 556.8 377.3 557.1 375.8 557.5 379.3 557.8 372.0 558.2 373.0 558.5 375.0 558.9 369.3 559.2 370.0 559.6 366.5 559.9 370.3 560.3 362.6 560.6 363.9 561.0 365.9 561.3 357.6 561.7 356.9 562.0 355.3 562.4 350.4 562.7 350.4 563.1 341.4 563.4 339.2 563.8 335.4 564.1 328.2 564.5 327.4 564.8 325.7 565.2 323.7 565.5 320.0 565.9 316.8 566.2 320.2 566.6 321.8 566.9 319.2 567.3 322.9 567.6 325.5 568.0 323.9 568.3 333.7 568.7 334.0 569.0 341.3 569.4 341.5 569.7 342.9 570.1 344.8 570.4 352.7 570.8 351.1 571.1 353.8 571.5 358.1 571.8 355.1 572.2 362.2 572.5 365.9 572.9 364.9 573.2 371.2 573.6 365.6 573.9 368.0 574.3 372.0 574.6 371.0 575.0 372.0 575.3 370.0 575.7 376.0 576.0 378.0 576.4 380.1 576.7 377.0 577.1 380.1 577.4 377.7 577.8 376.9 578.1 379.0 578.5 380.3 578.8 376.2 579.2 379.3 579.5 378.7 579.9 377.4 580.2 382.3 580.6 381.7 580.9 374.8 581.3 380.4 581.6 382.4 582.0 380.9 582.3 381.7 582.7 383.2 583.0 381.6 583.4 380.9 583.7 381.0 584.1 379.9 584.4 384.7 584.8 384.3 585.1 379.7 585.5 382.3 585.8 378.9 586.2 380.9 586.5 384.5 586.9 380.5 587.2 383.8 587.6 381.2 587.9 379.2 588.3 377.5 588.6 382.0 589.0 380.5 589.3 381.3 589.7 380.4 590.0 387.3 590.4 382.9 590.7 381.5 591.1 381.2 591.4 383.7 591.8 380.5 592.1 379.9 592.5 382.1 592.8 382.7 593.2 383.0 593.5 382.0 593.9 379.9 594.2 379.3 594.6 383.3 594.9 384.3 595.3 384.0 595.6 380.4 596.0 382.0 596.3 381.8 596.7 381.5 597.0 381.7 597.4 382.7 597.7 384.6 598.1 383.8 598.4 382.3 598.8 381.7 599.1 383.3 599.5 383.4 599.8 379.7 600.2 383.5 600.5 382.1 600.9 383.2 601.2 384.3 601.6 385.7 601.9 383.7 602.3 384.3 602.6 380.9 603.0 385.0 603.3 383.5 603.7 381.3 604.0 382.9 604.4 381.6 604.7 380.9 605.1 386.0 605.4 383.5 605.8 384.6 606.1 379.9 606.5 382.9 606.8 381.6 607.2 379.2 607.5 383.4 607.9 382.5 608.2 381.8 608.6 383.2 608.9 380.1 609.3 381.0 609.6 380.6 610.0 382.5 610.3 383.3 610.7 383.4 611.0 383.4 611.4 386.0 611.7 381.9 612.1 381.0 612.4 382.6 612.8 383.6 613.1 382.5 613.5 382.2 613.8 381.9 614.2 378.9 614.5 384.4 614.9 381.9 615.2 381.2 615.6 382.4 615.9 383.1 616.3 384.7 616.6 383.8 617.0 381.1 617.3 379.6 617.7 383.9 618.0 381.6 618.4 381.5 618.7 380.5 619.1 382.1 619.4 381.7 619.8 380.7 620.1 384.9 620.5 382.4 620.8 386.1 621.2 386.4 621.5 384.1 621.9 385.5 622.2 381.3 622.6 380.3 622.9 382.9 623.3 382.5 623.6 382.7 624.0 382.7 624.3 381.9 624.7 381.4 625.0 383.0 625.4 383.7 625.7 383.1 626.1 380.4 626.4 382.8 626.8 379.0 627.1 382.4 627.5 379.1 627.8 384.3 628.2 383.2 628.5 380.8 628.9 380.8 629.2 382.0 629.6 377.6 629.9 381.5 630.3 381.0 630.6 382.7 631.0 378.2 631.3 379.8 631.7 380.7 632.0 384.8 632.4 380.7 632.7 382.3 633.1 380.6 633.4 379.5 633.8 382.8 634.1 380.8 634.5 379.5 634.8 380.9 635.2 381.8 635.5 383.3 635.9 382.4 636.2 383.6 636.6 379.1 636.9 380.8 637.3 383.4 637.6 380.9 638.0 383.5 638.3 387.5 638.7 378.4 639.0 378.5 639.4 383.7 639.7 382.2 640.1 380.3 640.4 381.5 640.8 382.5 641.1 381.9 641.5 381.3 641.8 382.0 642.2 380.5 642.5 381.4 642.9 382.5 643.2 381.0 643.6 384.4 643.9 378.2 644.3 384.6 644.6 381.4 645.0 380.6 645.3 380.4 645.7 380.8 646.0 378.8 646.4 383.6 646.7 381.6 647.1 381.2 647.4 382.5 647.8 382.7 648.1 379.0 648.5 383.0 648.8 382.6 649.2 382.2 649.5 382.1 649.9 381.4 650.2 382.2 650.6 381.1 650.9 381.6 651.3 380.9 651.6 379.2 652.0 383.7 652.3 378.7 652.7 382.9 653.0 380.7 653.4 381.8 653.7 382.7 654.1 386.1 654.4 379.0 654.8 383.8 655.1 383.9 655.5 380.2 655.8 382.2 656.2 378.6 656.5 379.1 656.9 381.1 657.2 382.0 657.6 381.0 657.9 385.2 658.3 382.3 658.6 382.4 659.0 383.6 659.3 382.2 659.7 385.7 660.0 381.0 660.4 380.3 660.7 385.4 661.1 382.6 661.4 379.9 661.8 382.1 662.1 385.1 662.5 385.0 662.8 381.4 663.2 379.5 663.5 385.3 663.9 383.1 664.2 384.8 664.6 383.8 664.9 382.7 665.3 383.4 665.6 384.7 666.0 379.2 666.3 383.8 666.7 383.8 667.0 381.3 667.4 383.5 667.7 384.0 668.1 381.7 668.4 385.7 668.8 382.2 669.1 381.7 669.5 382.5 669.8 384.2 670.2 383.8 670.5 387.2 670.9 384.1 671.2 383.3" stroke="#1e8fff" stroke-width="2.0" fill="none" stroke-linejoin="round" clip-path="url(#c5)"/>
<path d="M386.3 384.2 386.7 385.6 387.0 386.7 387.4 387.6 387.7 386.0 388.1 385.6 388.4 383.5 388.8 385.9 389.1 386.9 389.5 386.1 389.8 386.8 390.2 386.4 390.5 390.3 390.9 389.0 391.2 388.3 391.6 385.0 391.9 386.0 392.3 385.6 392.6 383.6 393.0 388.0 393.3 383.6 393.7 385.1 394.0 387.3 394.4 382.9 394.7 388.7 395.1 388.1 395.4 386.3 395.8 385.1 396.1 386.3 396.5 390.1 396.8 386.5 397.2 386.1 397.5 380.9 397.9 383.2 398.2 385.7 398.6 388.1 398.9 385.2 399.3 388.2 399.6 385.5 400.0 385.2 400.3 386.7 400.7 385.4 401.0 386.5 401.4 387.0 401.7 382.9 402.1 384.7 402.4 386.5 402.8 387.4 403.1 385.5 403.5 384.8 403.8 384.2 404.2 383.0 404.5 385.0 404.9 388.1 405.2 381.9 405.6 383.6 405.9 384.3 406.3 383.3 406.6 388.8 407.0 386.6 407.3 386.9 407.7 383.5 408.0 388.2 408.4 386.5 408.7 382.9 409.1 384.6 409.4 386.7 409.8 382.2 410.1 388.5 410.5 385.0 410.8 386.3 411.2 384.9 411.5 386.4 411.9 387.5 412.2 385.5 412.6 388.5 412.9 384.8 413.3 386.5 413.6 384.1 414.0 386.8 414.3 387.2 414.7 385.1 415.0 383.5 415.4 390.0 415.7 385.7 416.1 384.7 416.4 388.7 416.8 387.6 417.1 384.6 417.5 387.5 417.8 387.2 418.2 382.5 418.5 387.8 418.9 387.6 419.2 390.5 419.6 388.1 419.9 388.3 420.3 382.5 420.6 383.5 421.0 388.4 421.3 382.0 421.7 384.4 422.0 386.3 422.4 384.3 422.7 385.1 423.1 387.4 423.4 389.4 423.8 387.7 424.1 385.9 424.5 386.6 424.8 387.4 425.2 384.0 425.5 388.0 425.9 384.1 426.2 386.9 426.6 385.7 426.9 388.1 427.3 385.9 427.6 387.4 428.0 389.3 428.3 385.9 428.7 386.0 429.0 384.3 429.4 385.3 429.7 387.9 430.1 387.1 430.4 390.8 430.8 388.1 431.1 383.3 431.5 382.9 431.8 384.4 432.2 385.3 432.5 384.7 432.9 384.9 433.2 389.3 433.6 387.6 433.9 383.6 434.3 383.6 434.6 385.4 435.0 386.5 435.3 386.7 435.7 387.0 436.0 387.7 436.4 389.7 436.7 385.6 437.1 386.8 437.4 386.3 437.8 382.5 438.1 384.7 438.5 387.3 438.8 384.8 439.2 388.9 439.5 383.8 439.9 385.4 440.2 386.3 440.6 384.8 440.9 383.0 441.3 386.8 441.6 387.8 442.0 381.7 442.3 385.9 442.7 382.9 443.0 387.2 443.4 385.1 443.7 387.2 444.1 384.6 444.4 386.4 444.8 387.2 445.1 382.8 445.5 385.2 445.8 389.9 446.2 386.4 446.5 387.7 446.9 388.3 447.2 387.0 447.6 386.8 447.9 385.8 448.3 387.5 448.6 389.6 449.0 387.0 449.3 384.1 449.7 388.6 450.0 384.7 450.4 385.0 450.7 386.8 451.1 385.3 451.4 387.4 451.8 386.7 452.1 387.9 452.5 385.0 452.8 383.2 453.2 387.2 453.5 383.5 453.9 390.1 454.2 387.6 454.6 387.9 454.9 382.5 455.3 387.1 455.6 384.3 456.0 390.0 456.3 385.7 456.7 384.8 457.0 386.0 457.4 391.3 457.7 385.5 458.1 384.3 458.4 383.2 458.8 385.1 459.1 389.2 459.5 386.3 459.8 384.1 460.2 387.5 460.5 384.7 460.9 386.8 461.2 385.7 461.6 384.4 461.9 387.3 462.3 380.2 462.6 385.6 463.0 385.2 463.3 387.3 463.7 385.7 464.0 386.4 464.4 388.8 464.7 388.9 465.1 385.3 465.4 386.0 465.8 391.1 466.1 390.1 466.5 386.5 466.8 386.0 467.2 384.6 467.5 388.3 467.9 384.7 468.2 386.5 468.6 386.9 468.9 386.1 469.3 383.9 469.6 384.7 470.0 384.1 470.3 387.2 470.7 386.4 471.0 388.1 471.4 386.9 471.7 386.6 472.1 386.7 472.4 384.4 472.8 385.0 473.1 384.3 473.5 385.5 473.8 383.6 474.2 385.6 474.5 383.8 474.9 384.8 475.2 384.3 475.6 385.9 475.9 388.2 476.3 388.6 476.6 381.8 477.0 384.9 477.3 384.8 477.7 386.0 478.0 386.6 478.4 379.9 478.7 387.9 479.1 385.7 479.4 385.7 479.8 387.8 480.1 388.0 480.5 386.8 480.8 386.0 481.2 386.2 481.5 383.5 481.9 387.4 482.2 384.1 482.6 381.8 482.9 382.8 483.3 386.7 483.6 390.1 484.0 382.3 484.3 382.7 484.7 384.6 485.0 380.6 485.4 383.7 485.7 382.3 486.1 384.3 486.4 381.3 486.8 382.6 487.1 382.5 487.5 379.1 487.8 380.7 488.2 384.0 488.5 379.5 488.9 379.2 489.2 382.6 489.6 381.8 489.9 381.1 490.3 381.9 490.6 381.4 491.0 380.6 491.3 383.2 491.7 378.4 492.0 384.2 492.4 384.2 492.7 379.4 493.1 378.9 493.4 383.8 493.8 384.5 494.1 386.5 494.5 382.3 494.8 384.4 495.2 386.6 495.5 384.2 495.9 382.4 496.2 383.9 496.6 380.9 496.9 383.1 497.3 384.6 497.6 385.6 498.0 384.5 498.3 383.2 498.7 383.9 499.0 383.5 499.4 385.2 499.7 384.2 500.1 383.3 500.4 386.0 500.8 388.3 501.1 382.3 501.5 384.6 501.8 386.6 502.2 385.3 502.5 386.3 502.9 389.2 503.2 386.1 503.6 388.6 503.9 385.4 504.3 386.0 504.6 383.5 505.0 386.0 505.3 385.0 505.7 386.4 506.0 386.6 506.4 388.6 506.7 383.8 507.1 385.5 507.4 387.0 507.8 385.4 508.1 386.6 508.5 387.3 508.8 385.3 509.2 383.4 509.5 386.4 509.9 388.7 510.2 387.0 510.6 382.2 510.9 387.4 511.3 383.4 511.6 386.3 512.0 384.3 512.3 386.0 512.7 389.0 513.0 386.6 513.4 381.6 513.7 386.1 514.1 384.7 514.4 386.5 514.8 386.1 515.1 385.2 515.5 384.9 515.8 381.4 516.2 385.8 516.5 386.2 516.9 387.1 517.2 388.4 517.6 389.0 517.9 384.5 518.3 389.5 518.6 383.0 519.0 384.1 519.3 386.4 519.7 388.1 520.0 385.7 520.4 385.7 520.7 383.5 521.1 387.3 521.4 386.5 521.8 385.9 522.1 386.3 522.5 387.0 522.8 389.2 523.2 389.0 523.5 387.1 523.9 386.2 524.2 383.8 524.6 381.1 524.9 382.3 525.3 384.9 525.6 382.0 526.0 386.0 526.3 386.8 526.7 381.1 527.0 387.8 527.4 386.5 527.7 386.2 528.1 382.8 528.4 386.9 528.8 384.1 529.1 386.5 529.5 388.1 529.8 385.2 530.2 385.3 530.5 388.0 530.9 387.4 531.2 387.2 531.6 383.7 531.9 384.7 532.3 385.1 532.6 384.6 533.0 386.6 533.3 384.6 533.7 386.8 534.0 388.2 534.4 387.0 534.7 385.1 535.1 385.4 535.4 383.4 535.8 388.9 536.1 385.9 536.5 384.7 536.8 387.4 537.2 385.0 537.5 386.3 537.9 387.7 538.2 383.2 538.6 388.2 538.9 383.4 539.3 386.2 539.6 387.2 540.0 387.1 540.3 386.8 540.7 387.0 541.0 384.7 541.4 389.0 541.7 382.8 542.1 383.5 542.4 382.4 542.8 387.1 543.1 389.8 543.5 386.4 543.8 385.4 544.2 384.4 544.5 386.1 544.9 385.2 545.2 384.7 545.6 388.0 545.9 381.3 546.3 387.1 546.6 384.3 547.0 382.6 547.3 386.3 547.7 384.6 548.0 381.3 548.4 385.1 548.7 382.4 549.1 383.8 549.4 383.9 549.8 382.8 550.1 384.6 550.5 384.5 550.8 382.1 551.2 383.4 551.5 382.8 551.9 386.1 552.2 383.6 552.6 381.1 552.9 381.6 553.3 382.5 553.6 384.1 554.0 384.1 554.3 381.8 554.7 379.7 555.0 382.2 555.4 379.5 555.7 382.4 556.1 379.1 556.4 383.2 556.8 380.5 557.1 382.6 557.5 378.7 557.8 378.4 558.2 380.8 558.5 379.8 558.9 378.4 559.2 379.5 559.6 377.3 559.9 376.0 560.3 371.2 560.6 368.3 561.0 370.0 561.3 367.4 561.7 363.8 562.0 362.4 562.4 358.6 562.7 352.7 563.1 349.9 563.4 346.2 563.8 342.7 564.1 333.9 564.5 333.4 564.8 327.5 565.2 326.0 565.5 322.0 565.9 318.6 566.2 318.9 566.6 317.5 566.9 319.5 567.3 324.2 567.6 328.4 568.0 324.6 568.3 330.9 568.7 330.1 569.0 336.5 569.4 341.5 569.7 342.3 570.1 347.3 570.4 349.9 570.8 354.8 571.1 354.5 571.5 356.3 571.8 361.9 572.2 359.6 572.5 366.3 572.9 366.6 573.2 372.0 573.6 374.1 573.9 367.5 574.3 370.0 574.6 371.7 575.0 378.4 575.3 375.4 575.7 375.8 576.0 377.1 576.4 377.3 576.7 380.3 577.1 379.3 577.4 381.7 577.8 380.5 578.1 379.4 578.5 382.1 578.8 381.4 579.2 381.9 579.5 381.3 579.9 379.7 580.2 381.3 580.6 381.2 580.9 385.1 581.3 383.1 581.6 380.9 582.0 384.4 582.3 383.7 582.7 384.9 583.0 380.4 583.4 384.1 583.7 384.8 584.1 382.2 584.4 381.3 584.8 382.6 585.1 381.7 585.5 383.4 585.8 384.1 586.2 384.8 586.5 385.0 586.9 385.3 587.2 383.4 587.6 384.5 587.9 384.1 588.3 383.1 588.6 384.5 589.0 387.2 589.3 386.1 589.7 386.8 590.0 388.4 590.4 384.4 590.7 387.1 591.1 387.3 591.4 386.9 591.8 383.1 592.1 385.5 592.5 382.9 592.8 385.1 593.2 385.8 593.5 383.9 593.9 383.8 594.2 384.8 594.6 387.2 594.9 386.0 595.3 387.5 595.6 385.7 596.0 385.0 596.3 382.3 596.7 382.4 597.0 383.9 597.4 383.4 597.7 384.9 598.1 379.8 598.4 382.3 598.8 380.1 599.1 384.6 599.5 384.6 599.8 383.3 600.2 385.1 600.5 384.8 600.9 387.5 601.2 383.6 601.6 385.2 601.9 383.9 602.3 386.0 602.6 389.1 603.0 384.6 603.3 383.3 603.7 388.2 604.0 387.6 604.4 386.2 604.7 386.1 605.1 389.1 605.4 382.2 605.8 383.7 606.1 386.9 606.5 389.3 606.8 385.0 607.2 381.8 607.5 384.1 607.9 383.4 608.2 387.6 608.6 385.3 608.9 388.8 609.3 381.8 609.6 384.7 610.0 390.0 610.3 389.5 610.7 384.9 611.0 385.6 611.4 386.5 611.7 384.6 612.1 381.8 612.4 385.1 612.8 389.5 613.1 386.2 613.5 388.5 613.8 387.5 614.2 385.2 614.5 386.2 614.9 388.0 615.2 386.0 615.6 387.6 615.9 384.9 616.3 386.4 616.6 385.2 617.0 386.5 617.3 384.5 617.7 386.2 618.0 386.0 618.4 387.1 618.7 385.7 619.1 389.5 619.4 380.7 619.8 387.4 620.1 385.8 620.5 387.0 620.8 387.0 621.2 385.2 621.5 387.1 621.9 386.9 622.2 388.8 622.6 387.9 622.9 388.4 623.3 382.5 623.6 388.7 624.0 388.2 624.3 385.7 624.7 383.2 625.0 389.5 625.4 389.2 625.7 385.8 626.1 385.4 626.4 388.9 626.8 389.7 627.1 388.0 627.5 384.6 627.8 386.2 628.2 384.6 628.5 386.3 628.9 386.2 629.2 384.9 629.6 386.4 629.9 385.7 630.3 388.0 630.6 387.4 631.0 385.2 631.3 386.6 631.7 387.7 632.0 384.9 632.4 385.1 632.7 386.2 633.1 387.7 633.4 384.4 633.8 381.2 634.1 387.8 634.5 389.3 634.8 387.8 635.2 388.1 635.5 388.7 635.9 388.6 636.2 384.5 636.6 384.5 636.9 383.3 637.3 384.7 637.6 387.2 638.0 384.1 638.3 387.5 638.7 386.9 639.0 388.6 639.4 383.8 639.7 384.2 640.1 387.2 640.4 386.9 640.8 386.2 641.1 385.9 641.5 384.6 641.8 386.1 642.2 385.5 642.5 389.3 642.9 386.9 643.2 389.9 643.6 382.7 643.9 383.5 644.3 384.9 644.6 384.1 645.0 382.3 645.3 384.4 645.7 389.5 646.0 386.7 646.4 391.0 646.7 387.9 647.1 388.8 647.4 386.3 647.8 385.5 648.1 388.2 648.5 386.9 648.8 385.8 649.2 386.6 649.5 386.7 649.9 391.1 650.2 387.2 650.6 384.7 650.9 385.8 651.3 389.3 651.6 386.9 652.0 385.8 652.3 388.3 652.7 385.0 653.0 388.0 653.4 387.0 653.7 386.6 654.1 381.9 654.4 387.0 654.8 387.5 655.1 384.9 655.5 387.3 655.8 386.0 656.2 390.9 656.5 385.8 656.9 386.4 657.2 389.0 657.6 383.7 657.9 386.9 658.3 386.8 658.6 389.0 659.0 389.6 659.3 387.5 659.7 389.4 660.0 385.4 660.4 384.7 660.7 387.7 661.1 389.6 661.4 387.2 661.8 388.5 662.1 386.1 662.5 386.0 662.8 387.3 663.2 386.3 663.5 384.3 663.9 383.0 664.2 387.5 664.6 385.0 664.9 386.9 665.3 388.5 665.6 383.9 666.0 385.6 666.3 386.1 666.7 385.7 667.0 386.8 667.4 388.5 667.7 382.9 668.1 384.6 668.4 385.9 668.8 384.5 669.1 383.9 669.5 386.8 669.8 385.3 670.2 387.1 670.5 385.2 670.9 387.0 671.2 381.6" stroke="#808080" stroke-width="2.6" fill="none" stroke-linejoin="round" clip-path="url(#c5)"/>
<path d="M392.5 393.25v2.6M392.5 288.85v-2.6M401 393.25v2.6M401 288.85v-2.6M409.5 393.25v2.6M409.5 288.85v-2.6M418 393.25v2.6M418 288.85v-2.6M426.5 393.25v2.6M426.5 288.85v-2.6M435 393.25v2.6M435 288.85v-2.6M443.5 393.25v3.8M443.5 288.85v-3.8M452 393.25v2.6M452 288.85v-2.6M460.5 393.25v2.6M460.5 288.85v-2.6M469 393.25v2.6M469 288.85v-2.6M477.5 393.25v2.6M477.5 288.85v-2.6M486 393.25v2.6M486 288.85v-2.6M494.5 393.25v2.6M494.5 288.85v-2.6M503 393.25v2.6M503 288.85v-2.6M511.5 393.25v2.6M511.5 288.85v-2.6M520 393.25v2.6M520 288.85v-2.6M528.5 393.25v3.8M528.5 288.85v-3.8M537 393.25v2.6M537 288.85v-2.6M545.5 393.25v2.6M545.5 288.85v-2.6M554 393.25v2.6M554 288.85v-2.6M562.5 393.25v2.6M562.5 288.85v-2.6M571 393.25v2.6M571 288.85v-2.6M579.5 393.25v2.6M579.5 288.85v-2.6M588 393.25v2.6M588 288.85v-2.6M596.5 393.25v2.6M596.5 288.85v-2.6M605 393.25v2.6M605 288.85v-2.6M613.5 393.25v3.8M613.5 288.85v-3.8M622 393.25v2.6M622 288.85v-2.6M630.5 393.25v2.6M630.5 288.85v-2.6M639 393.25v2.6M639 288.85v-2.6M647.5 393.25v2.6M647.5 288.85v-2.6M656 393.25v2.6M656 288.85v-2.6M664.5 393.25v2.6M664.5 288.85v-2.6M386.05 391.4h-3.8M671.65 391.4h3.8M386.05 385.1h-2.6M671.65 385.1h2.6M386.05 378.8h-2.6M671.65 378.8h2.6M386.05 372.5h-2.6M671.65 372.5h2.6M386.05 366.2h-2.6M671.65 366.2h2.6M386.05 359.9h-3.8M671.65 359.9h3.8M386.05 353.6h-2.6M671.65 353.6h2.6M386.05 347.3h-2.6M671.65 347.3h2.6M386.05 341h-2.6M671.65 341h2.6M386.05 334.7h-2.6M671.65 334.7h2.6M386.05 328.4h-3.8M671.65 328.4h3.8M386.05 321.75h-2.6M671.65 321.75h2.6M386.05 315.1h-2.6M671.65 315.1h2.6M386.05 308.45h-2.6M671.65 308.45h2.6M386.05 301.8h-2.6M671.65 301.8h2.6M386.05 295.15h-3.8M671.65 295.15h3.8" stroke="#000" stroke-width="2.3" fill="none"/>
<rect x="387.3" y="290.1" width="283.1" height="101.9" fill="none" stroke="#000" stroke-width="2.5"/>
<text x="442.8" y="408.2" font-size="10.3" letter-spacing="1.1" text-anchor="middle" fill="#1c1c1c">382.0</text>
<text x="528.1" y="408.2" font-size="10.3" letter-spacing="1.1" text-anchor="middle" fill="#1c1c1c">382.5</text>
<text x="612.6" y="408.2" font-size="10.3" letter-spacing="1.1" text-anchor="middle" fill="#1c1c1c">383.0</text>
<text x="380.8" y="396" font-size="10.3" letter-spacing="1.1" text-anchor="end" fill="#1c1c1c">0.0</text>
<text x="380.8" y="364.5" font-size="10.3" letter-spacing="1.1" text-anchor="end" fill="#1c1c1c">0.5</text>
<text x="380.8" y="333" font-size="10.3" letter-spacing="1.1" text-anchor="end" fill="#1c1c1c">1.0</text>
<text x="380.8" y="299.8" font-size="10.3" letter-spacing="1.1" text-anchor="end" fill="#1c1c1c">2.0</text>
<text x="495.4" y="420.4" font-size="13.1" fill="#111">mass</text>
<text x="529.6999999999999" y="420.4" font-size="13.5" letter-spacing="0.9" fill="#111">(m/z)</text>
<g transform="translate(354.5 341.05) rotate(-90)" font-size="13" fill="#111"><text x="-63.9" y="0" letter-spacing="1.25">Intensity</text><text x="1.7" y="0">(c/s)</text><text x="31.8" y="0">×</text><text x="42.4" y="0" letter-spacing="0.6">10</text><text x="57.4" y="-5.4" font-size="9">2</text></g>
<path d="M565.8 318V304H595.4" stroke="#000" stroke-width="1.3" fill="none"/>
<text x="568.5" y="315.9" text-anchor="start" letter-spacing="0.8" fill="#1a1a1a"><tspan dy="-0" font-size="12.8">Zr</tspan><tspan dy="3.1" font-size="8.6">3</tspan><tspan dy="-3.1" font-size="12.8">O</tspan><tspan dy="3.1" font-size="8.6">7</tspan><tspan dy="-3.1" font-size="12.8">H</tspan><tspan dy="-5.2" font-size="8.6">−</tspan></text>
<rect x="38.45" y="428" width="283.25" height="99.4" fill="#dfe9d6"/>
<path d="M37.5 521.7 38.0 521.3 38.5 520.5 39.0 521.3 39.5 520.8 40.0 520.6 40.5 521.8 41.0 521.7 41.5 522.0 42.0 520.9 42.5 519.7 43.0 519.9 43.5 521.7 44.0 522.3 44.5 521.8 45.0 521.9 45.5 520.0 46.0 519.9 46.5 521.2 47.0 520.4 47.5 519.3 48.0 518.6 48.5 521.3 49.0 522.6 49.5 521.3 50.0 522.4 50.5 521.9 51.0 522.2 51.5 524.3 52.0 524.1 52.5 522.2 53.0 519.7 53.5 520.1 54.0 522.9 54.5 524.0 55.0 523.3 55.5 521.7 56.0 521.2 56.5 522.3 57.0 523.1 57.5 523.9 58.0 523.0 58.5 522.4 59.0 525.0 59.5 522.5 60.0 519.5 60.5 520.2 61.0 520.4 61.5 521.6 62.0 521.0 62.5 521.0 63.0 520.2 63.5 519.0 64.0 522.5 64.5 521.9 65.0 518.3 65.5 519.4 66.0 520.2 66.5 520.1 67.0 521.7 67.5 523.9 68.0 522.1 68.5 520.2 69.0 520.9 69.5 521.6 70.0 522.7 70.5 520.7 71.0 520.2 71.5 521.6 72.0 522.4 72.5 521.8 73.0 519.9 73.5 520.5 74.0 521.4 74.5 522.1 75.0 520.6 75.5 520.0 76.0 521.5 76.5 519.3 77.0 519.4 77.5 522.4 78.0 523.0 78.5 521.9 79.0 519.4 79.5 518.8 80.0 520.7 80.5 520.1 81.0 518.7 81.5 520.1 82.0 520.0 82.5 518.5 83.0 519.4 83.5 522.3 84.0 522.6 84.5 519.1 85.0 519.5 85.5 518.6 86.0 518.3 86.5 521.4 87.0 520.9 87.5 519.6 88.0 519.4 88.5 519.8 89.0 519.4 89.5 519.7 90.0 520.7 90.5 521.3 91.0 522.2 91.5 520.8 92.0 520.6 92.5 521.1 93.0 520.7 93.5 519.9 94.0 518.9 94.5 518.3 95.0 517.9 95.5 518.3 96.0 519.5 96.5 521.0 97.0 520.5 97.5 519.5 98.0 520.5 98.5 517.9 99.0 517.4 99.5 518.0 100.0 514.9 100.5 514.1 101.0 510.9 101.5 510.1 102.0 513.6 102.5 512.7 103.0 513.2 103.5 516.3 104.0 516.6 104.5 516.0 105.0 515.1 105.5 514.5 106.0 516.2 106.5 516.6 107.0 513.5 107.5 514.9 108.0 517.5 108.5 516.6 109.0 515.7 109.5 517.4 110.0 519.8 110.5 520.4 111.0 518.8 111.5 517.3 112.0 520.6 112.5 523.6 113.0 522.9 113.5 522.5 114.0 521.0 114.5 519.5 115.0 518.2 115.5 517.7 116.0 519.5 116.5 519.2 117.0 520.2 117.5 522.6 118.0 521.8 118.5 519.6 119.0 521.2 119.5 521.3 120.0 519.0 120.5 520.3 121.0 521.0 121.5 520.8 122.0 520.9 122.5 519.9 123.0 520.7 123.5 520.5 124.0 519.0 124.5 519.1 125.0 521.8 125.5 524.4 126.0 521.9 126.5 520.7 127.0 522.0 127.5 522.2 128.0 522.8 128.4 522.4 128.9 521.8 129.4 522.2 129.9 521.1 130.4 521.6 130.9 521.0 131.4 522.0 131.9 520.7 132.4 519.9 132.9 521.7 133.4 519.6 133.9 520.2 134.4 520.3 134.9 520.4 135.4 522.8 135.9 522.4 136.4 519.7 136.9 520.5 137.4 523.2 137.9 523.3 138.4 521.4 138.9 520.5 139.4 519.8 139.9 519.6 140.4 520.2 140.9 522.6 141.4 521.0 141.9 519.1 142.4 520.3 142.9 520.7 143.4 521.7 143.9 521.3 144.4 519.7 144.9 518.4 145.4 519.3 145.9 518.8 146.4 519.8 146.9 521.2 147.4 521.2 147.9 520.5 148.4 520.1 148.9 520.4 149.4 518.8 149.9 521.7 150.4 521.3 150.9 519.0 151.4 521.4 151.9 523.5 152.4 523.5 152.9 523.8 153.4 523.5 153.9 521.5 154.4 519.8 154.9 520.0 155.4 520.7 155.9 519.3 156.4 518.4 156.9 519.7 157.4 520.9 157.9 522.1 158.4 523.9 158.9 522.7 159.4 521.7 159.9 522.6 160.4 523.0 160.9 521.2 161.4 521.2 161.9 522.0 162.4 522.5 162.9 521.0 163.4 518.5 163.9 519.6 164.4 521.4 164.9 520.0 165.4 519.5 165.9 521.7 166.4 523.4 166.9 523.3 167.4 520.0 167.9 520.0 168.4 519.4 168.9 518.8 169.4 521.7 169.9 520.5 170.4 520.5 170.9 521.4 171.4 522.2 171.9 523.7 172.4 523.4 172.9 522.1 173.4 522.0 173.9 524.1 174.4 523.0 174.9 521.3 175.4 522.0 175.9 522.4 176.4 524.3 176.9 522.2 177.4 520.6 177.9 521.6 178.4 519.8 178.9 519.2 179.4 520.4 179.9 521.4 180.4 521.3 180.9 520.5 181.4 520.2 181.9 521.5 182.4 521.7 182.9 520.9 183.4 520.7 183.9 520.8 184.4 520.2 184.9 520.2 185.4 520.7 185.9 520.8 186.4 522.2 186.9 523.1 187.4 522.7 187.9 521.4 188.4 520.0 188.9 520.6 189.4 522.3 189.9 522.7 190.4 521.0 190.9 520.4 191.4 522.1 191.9 521.5 192.4 522.3 192.9 522.9 193.4 521.7 193.9 521.9 194.4 523.0 194.9 521.9 195.4 519.3 195.9 521.4 196.4 522.9 196.9 521.1 197.4 519.1 197.9 520.1 198.4 523.1 198.9 522.7 199.4 519.9 199.9 519.9 200.4 521.5 200.9 519.9 201.4 522.2 201.9 525.9 202.4 523.0 202.9 520.2 203.4 522.4 203.9 522.6 204.4 521.3 204.9 521.5 205.4 522.3 205.9 523.0 206.4 523.0 206.9 522.5 207.4 521.9 207.9 520.4 208.4 519.6 208.9 522.6 209.4 522.8 209.9 520.0 210.4 520.1 210.9 520.4 211.4 520.7 211.9 521.1 212.4 521.9 212.9 521.8 213.4 522.3 213.9 521.8 214.4 521.9 214.9 525.1 215.4 523.2 215.9 521.3 216.4 521.7 216.9 521.2 217.4 521.3 217.9 522.5 218.4 522.3 218.9 521.1 219.4 520.9 219.9 519.3 220.4 520.5 220.9 522.3 221.4 521.0 221.9 521.5 222.4 523.2 222.9 523.3 223.4 521.1 223.9 520.9 224.4 521.3 224.9 521.7 225.4 521.9 225.9 521.8 226.4 523.0 226.9 522.3 227.4 521.4 227.9 520.1 228.4 521.7 228.9 522.6 229.4 519.5 229.9 518.7 230.4 520.6 230.9 522.5 231.4 522.6 231.9 521.7 232.4 521.0 232.9 521.0 233.4 520.6 233.9 521.9 234.4 523.6 234.9 523.7 235.4 523.9 235.9 522.8 236.4 521.3 236.9 518.8 237.4 518.6 237.9 520.9 238.4 520.1 238.9 520.8 239.4 521.8 239.9 520.2 240.4 519.7 240.9 520.3 241.4 521.3 241.9 522.9 242.4 522.7 242.9 522.1 243.4 521.3 243.9 520.8 244.4 520.9 244.9 522.3 245.4 521.9 245.9 521.2 246.4 523.6 246.9 524.1 247.4 523.2 247.9 520.8 248.4 519.5 248.9 521.7 249.4 522.3 249.9 521.2 250.4 522.8 250.9 523.6 251.4 524.0 251.9 523.9 252.4 524.5 252.9 524.4 253.4 522.7 253.9 522.7 254.4 522.6 254.9 520.7 255.4 520.2 255.9 521.0 256.4 520.0 256.9 519.3 257.4 519.3 257.9 520.6 258.4 522.2 258.9 522.3 259.4 521.6 259.9 520.7 260.4 520.3 260.9 519.1 261.4 518.9 261.9 518.1 262.4 516.8 262.9 518.7 263.4 518.6 263.9 520.6 264.4 519.8 264.9 516.4 265.4 517.0 265.9 518.6 266.4 516.2 266.9 514.5 267.4 516.6 267.9 514.9 268.4 514.6 268.9 516.1 269.4 514.9 269.9 514.8 270.4 514.4 270.9 513.0 271.4 512.5 271.9 513.6 272.4 513.4 272.9 511.9 273.4 511.2 273.9 512.2 274.4 512.5 274.9 511.4 275.4 512.7 275.9 514.3 276.4 514.8 276.9 513.9 277.4 515.6 277.9 517.7 278.4 518.0 278.9 515.9 279.4 515.4 279.9 516.3 280.4 516.5 280.9 517.6 281.4 518.0 281.9 518.8 282.4 518.2 282.9 517.9 283.4 519.0 283.9 520.7 284.4 520.8 284.9 520.3 285.4 521.3 285.9 519.8 286.4 520.5 286.9 521.7 287.4 520.2 287.9 519.0 288.4 520.2 288.9 521.0 289.4 520.3 289.9 521.7 290.4 524.0 290.9 524.8 291.4 522.2 291.9 520.4 292.4 522.2 292.9 522.9 293.4 522.1 293.9 521.8 294.4 521.5 294.9 519.1 295.4 519.8 295.9 521.7 296.4 521.7 296.9 522.5 297.4 522.6 297.9 522.2 298.4 521.9 298.9 521.4 299.4 520.7 299.9 521.8 300.4 520.2 300.9 520.5 301.4 522.0 301.9 518.8 302.4 519.9 302.9 520.7 303.4 518.7 303.9 519.6 304.4 522.7 304.9 521.6 305.4 519.8 305.9 521.7 306.4 520.6 306.9 520.7 307.4 520.9 307.9 520.8 308.4 521.3 308.9 521.8 309.4 522.6 309.9 522.5 310.4 522.8 310.9 521.8 311.4 521.3 311.9 521.3 312.4 519.9 312.9 520.2 313.4 523.1 313.9 523.3 314.4 521.5 314.9 520.3 315.4 519.4 315.9 519.4 316.4 520.6 316.9 520.9 317.4 522.0 317.9 521.4 318.4 519.7 318.9 520.4 319.4 521.2 319.9 521.6 320.4 521.9 320.9 521.4 321.4 522.0 321.9 521.6 322.4 519.9" stroke="#ff0000" stroke-width="2.0" fill="none" stroke-linejoin="round" clip-path="url(#c6)"/>
<path d="M37.5 522.2 38.0 522.2 38.5 523.4 39.0 523.3 39.5 523.2 40.0 523.4 40.5 524.0 41.0 524.6 41.5 524.3 42.0 523.8 42.5 524.2 43.0 524.7 43.5 524.2 44.0 523.1 44.5 523.0 45.0 523.0 45.5 522.4 46.0 522.3 46.5 523.1 47.0 523.8 47.5 524.6 48.0 524.8 48.5 523.4 49.0 523.7 49.5 523.2 50.0 521.7 50.5 522.7 51.0 523.0 51.5 523.6 52.0 524.7 52.5 524.1 53.0 523.5 53.5 523.4 54.0 523.9 54.5 522.7 55.0 522.0 55.5 523.0 56.0 522.8 56.5 522.8 57.0 523.3 57.5 523.8 58.0 524.6 58.5 523.4 59.0 523.0 59.5 524.8 60.0 524.7 60.5 524.7 61.0 523.1 61.5 521.9 62.0 522.3 62.5 521.6 63.0 522.1 63.5 522.6 64.0 523.4 64.5 523.8 65.0 523.7 65.5 523.6 66.0 523.7 66.5 523.0 67.0 522.1 67.5 522.9 68.0 524.3 68.5 523.9 69.0 522.4 69.5 522.8 70.0 524.0 70.5 523.8 71.0 522.4 71.5 523.8 72.0 524.0 72.5 524.0 73.0 524.3 73.5 522.2 74.0 522.2 74.5 522.9 75.0 523.2 75.5 523.4 76.0 521.9 76.5 521.1 77.0 522.6 77.5 523.6 78.0 523.4 78.5 521.9 79.0 521.8 79.5 522.5 80.0 522.8 80.5 524.1 81.0 523.2 81.5 522.5 82.0 523.7 82.5 524.0 83.0 524.0 83.5 523.9 84.0 524.4 84.5 523.3 85.0 522.2 85.5 522.3 86.0 522.7 86.5 523.1 87.0 522.8 87.5 522.3 88.0 521.9 88.5 522.3 89.0 523.2 89.5 524.0 90.0 524.1 90.5 523.7 91.0 523.6 91.5 523.9 92.0 522.6 92.5 521.6 93.0 523.7 93.5 524.4 94.0 523.9 94.5 523.0 95.0 521.5 95.5 521.9 96.0 521.9 96.5 521.1 97.0 520.2 97.5 518.6 98.0 518.1 98.5 517.4 99.0 516.2 99.5 515.2 100.0 514.1 100.5 511.7 101.0 509.0 101.5 507.3 102.0 505.4 102.5 503.7 103.0 503.1 103.5 502.8 104.0 501.6 104.5 501.8 105.0 502.4 105.5 503.9 106.0 506.7 106.5 507.3 107.0 507.5 107.5 509.5 108.0 511.0 108.5 511.6 109.0 512.7 109.5 514.5 110.0 516.3 110.5 518.3 111.0 519.1 111.5 518.8 112.0 518.7 112.5 520.2 113.0 522.0 113.5 522.2 114.0 521.5 114.5 522.7 115.0 524.0 115.5 521.6 116.0 520.7 116.5 522.8 117.0 523.3 117.5 522.1 118.0 521.8 118.5 522.5 119.0 523.3 119.5 522.7 120.0 522.3 120.5 522.4 121.0 522.2 121.5 522.9 122.0 522.4 122.5 522.4 123.0 523.0 123.5 523.1 124.0 523.5 124.5 523.3 125.0 523.5 125.5 523.3 126.0 522.2 126.5 521.2 127.0 521.2 127.5 522.4 128.0 522.4 128.4 522.0 128.9 521.8 129.4 522.8 129.9 523.0 130.4 522.6 130.9 522.8 131.4 522.8 131.9 522.9 132.4 522.8 132.9 524.4 133.4 524.8 133.9 523.9 134.4 523.3 134.9 524.5 135.4 525.2 135.9 524.3 136.4 523.7 136.9 523.2 137.4 523.6 137.9 524.5 138.4 523.9 138.9 523.2 139.4 522.9 139.9 523.0 140.4 523.2 140.9 523.4 141.4 523.6 141.9 523.0 142.4 522.9 142.9 523.5 143.4 523.8 143.9 523.8 144.4 523.8 144.9 523.0 145.4 521.2 145.9 521.5 146.4 522.8 146.9 522.8 147.4 522.6 147.9 522.4 148.4 522.4 148.9 522.5 149.4 521.7 149.9 521.1 150.4 523.4 150.9 524.0 151.4 522.9 151.9 524.3 152.4 524.8 152.9 523.7 153.4 523.6 153.9 523.2 154.4 523.8 154.9 523.4 155.4 521.9 155.9 522.0 156.4 522.6 156.9 522.8 157.4 522.8 157.9 522.1 158.4 521.5 158.9 521.0 159.4 521.4 159.9 521.7 160.4 521.7 160.9 522.6 161.4 522.8 161.9 522.4 162.4 521.8 162.9 521.7 163.4 520.7 163.9 521.1 164.4 521.7 164.9 521.1 165.4 521.3 165.9 522.0 166.4 521.8 166.9 521.1 167.4 520.8 167.9 520.6 168.4 521.4 168.9 521.5 169.4 520.4 169.9 520.9 170.4 521.3 170.9 521.3 171.4 521.4 171.9 520.0 172.4 520.0 172.9 521.5 173.4 521.3 173.9 520.6 174.4 520.1 174.9 520.9 175.4 522.1 175.9 521.3 176.4 521.6 176.9 520.8 177.4 521.1 177.9 522.1 178.4 521.8 178.9 521.6 179.4 520.3 179.9 519.5 180.4 519.4 180.9 519.4 181.4 521.1 181.9 521.3 182.4 521.2 182.9 521.6 183.4 520.8 183.9 520.8 184.4 520.3 184.9 520.5 185.4 519.8 185.9 519.0 186.4 519.3 186.9 519.2 187.4 519.4 187.9 519.8 188.4 519.2 188.9 519.8 189.4 520.6 189.9 520.0 190.4 520.4 190.9 520.2 191.4 520.5 191.9 520.2 192.4 519.4 192.9 519.8 193.4 519.8 193.9 520.5 194.4 521.9 194.9 521.7 195.4 520.8 195.9 519.0 196.4 519.0 196.9 519.8 197.4 519.2 197.9 518.6 198.4 519.0 198.9 519.9 199.4 520.0 199.9 520.9 200.4 521.4 200.9 521.3 201.4 519.9 201.9 519.3 202.4 520.2 202.9 520.4 203.4 520.6 203.9 520.6 204.4 520.3 204.9 520.0 205.4 519.4 205.9 520.7 206.4 521.1 206.9 519.4 207.4 520.1 207.9 521.0 208.4 520.3 208.9 519.6 209.4 519.3 209.9 520.1 210.4 520.1 210.9 519.4 211.4 519.5 211.9 519.0 212.4 519.0 212.9 520.6 213.4 521.3 213.9 520.8 214.4 520.5 214.9 520.1 215.4 519.7 215.9 519.1 216.4 518.9 216.9 519.0 217.4 519.9 217.9 521.0 218.4 520.1 218.9 519.8 219.4 519.9 219.9 519.8 220.4 520.5 220.9 519.8 221.4 518.8 221.9 520.7 222.4 521.7 222.9 520.9 223.4 520.2 223.9 520.3 224.4 521.5 224.9 521.1 225.4 520.5 225.9 520.3 226.4 520.1 226.9 520.2 227.4 520.0 227.9 520.1 228.4 520.9 228.9 520.9 229.4 520.5 229.9 521.8 230.4 522.2 230.9 521.8 231.4 521.3 231.9 520.8 232.4 521.7 232.9 521.8 233.4 521.2 233.9 522.3 234.4 521.8 234.9 521.7 235.4 522.9 235.9 522.1 236.4 520.9 236.9 521.8 237.4 521.7 237.9 520.8 238.4 521.8 238.9 521.3 239.4 521.1 239.9 522.1 240.4 523.5 240.9 523.3 241.4 522.3 241.9 522.5 242.4 523.1 242.9 522.8 243.4 521.0 243.9 520.7 244.4 523.2 244.9 524.0 245.4 522.2 245.9 524.3 246.4 524.9 246.9 523.3 247.4 522.1 247.9 522.6 248.4 523.3 248.9 522.9 249.4 522.9 249.9 523.1 250.4 522.8 250.9 522.0 251.4 523.3 251.9 523.2 252.4 522.8 252.9 523.6 253.4 522.5 253.9 522.3 254.4 522.6 254.9 522.2 255.4 522.2 255.9 522.9 256.4 523.7 256.9 523.0 257.4 522.0 257.9 522.2 258.4 522.7 258.9 522.4 259.4 522.2 259.9 523.5 260.4 523.2 260.9 522.1 261.4 521.8 261.9 522.5 262.4 523.3 262.9 522.6 263.4 522.3 263.9 522.4 264.4 521.5 264.9 521.1 265.4 520.5 265.9 520.3 266.4 520.1 266.9 519.2 267.4 518.1 267.9 517.9 268.4 518.1 268.9 515.6 269.4 513.3 269.9 511.0 270.4 506.4 270.9 500.8 271.4 495.7 271.9 489.3 272.4 482.1 272.9 476.2 273.4 471.1 273.9 468.6 274.4 468.0 274.9 469.2 275.4 472.8 275.9 477.1 276.4 481.1 276.9 485.8 277.4 490.8 277.9 496.2 278.4 501.3 278.9 504.1 279.4 507.7 279.9 510.8 280.4 512.7 280.9 515.7 281.4 518.5 281.9 519.0 282.4 519.5 282.9 520.9 283.4 522.0 283.9 521.3 284.4 520.5 284.9 521.4 285.4 521.4 285.9 521.4 286.4 521.7 286.9 521.6 287.4 521.9 287.9 523.8 288.4 523.3 288.9 521.6 289.4 522.1 289.9 521.5 290.4 522.3 290.9 524.9 291.4 523.3 291.9 521.5 292.4 523.3 292.9 523.8 293.4 522.5 293.9 523.0 294.4 523.1 294.9 521.2 295.4 520.8 295.9 522.0 296.4 522.6 296.9 523.2 297.4 523.3 297.9 523.0 298.4 523.6 298.9 524.2 299.4 522.6 299.9 521.8 300.4 523.4 300.9 523.7 301.4 522.3 301.9 521.2 302.4 522.4 302.9 523.2 303.4 522.4 303.9 522.7 304.4 523.8 304.9 524.2 305.4 523.5 305.9 523.4 306.4 524.2 306.9 523.9 307.4 522.6 307.9 522.1 308.4 522.8 308.9 522.1 309.4 522.4 309.9 523.5 310.4 523.9 310.9 523.4 311.4 522.7 311.9 524.1 312.4 524.5 312.9 522.5 313.4 521.7 313.9 522.6 314.4 522.6 314.9 523.5 315.4 524.5 315.9 524.3 316.4 524.3 316.9 523.8 317.4 523.0 317.9 522.3 318.4 522.0 318.9 521.1 319.4 521.9 319.9 523.4 320.4 522.9 320.9 523.3 321.4 523.8 321.9 523.1 322.4 523.4" stroke="#1e8fff" stroke-width="2.0" fill="none" stroke-linejoin="round" clip-path="url(#c6)"/>
<path d="M37.5 523.5 38.0 522.6 38.5 523.6 39.0 525.9 39.5 525.1 40.0 524.3 40.5 524.3 41.0 523.9 41.5 523.8 42.0 522.8 42.5 522.5 43.0 523.4 43.5 524.7 44.0 526.0 44.5 526.7 45.0 525.6 45.5 524.2 46.0 524.1 46.5 524.5 47.0 525.1 47.5 525.8 48.0 525.9 48.5 524.4 49.0 524.6 49.5 524.6 50.0 523.9 50.5 524.0 51.0 523.3 51.5 523.1 52.0 522.5 52.5 523.5 53.0 524.9 53.5 524.7 54.0 524.5 54.5 523.8 55.0 523.4 55.5 523.8 56.0 523.5 56.5 523.8 57.0 523.4 57.5 524.3 58.0 524.8 58.5 523.3 59.0 524.0 59.5 524.7 60.0 523.7 60.5 523.4 61.0 525.2 61.5 525.9 62.0 524.0 62.5 523.7 63.0 523.5 63.5 522.1 64.0 523.0 64.5 523.6 65.0 524.0 65.5 524.6 66.0 524.5 66.5 523.9 67.0 524.2 67.5 524.7 68.0 523.8 68.5 523.4 69.0 524.8 69.5 526.3 70.0 525.5 70.5 524.5 71.0 523.8 71.5 523.6 72.0 522.4 72.5 522.1 73.0 523.0 73.5 523.7 74.0 523.6 74.5 522.8 75.0 522.9 75.5 523.4 76.0 523.4 76.5 522.4 77.0 523.3 77.5 525.6 78.0 524.6 78.5 522.7 79.0 523.4 79.5 524.1 80.0 522.3 80.5 522.3 81.0 524.8 81.5 524.8 82.0 523.7 82.5 523.8 83.0 524.3 83.5 523.7 84.0 523.7 84.5 523.8 85.0 523.6 85.5 524.3 86.0 524.2 86.5 524.3 87.0 523.7 87.5 523.6 88.0 524.3 88.5 524.8 89.0 524.9 89.5 524.6 90.0 523.3 90.5 522.6 91.0 523.1 91.5 524.1 92.0 525.2 92.5 524.2 93.0 524.2 93.5 523.3 94.0 522.6 94.5 523.1 95.0 522.4 95.5 522.4 96.0 521.8 96.5 521.7 97.0 521.4 97.5 519.5 98.0 518.6 98.5 518.1 99.0 517.1 99.5 515.5 100.0 513.0 100.5 511.2 101.0 510.5 101.5 508.2 102.0 505.3 102.5 503.4 103.0 502.1 103.5 500.9 104.0 501.7 104.5 503.7 105.0 503.2 105.5 504.1 106.0 505.4 106.5 506.0 107.0 508.8 107.5 509.8 108.0 509.1 108.5 510.8 109.0 513.9 109.5 514.8 110.0 515.8 110.5 517.4 111.0 517.5 111.5 518.8 112.0 520.9 112.5 521.2 113.0 520.7 113.5 521.6 114.0 522.5 114.5 521.9 115.0 521.7 115.5 522.7 116.0 523.2 116.5 523.0 117.0 522.7 117.5 523.0 118.0 524.0 118.5 524.2 119.0 523.8 119.5 523.5 120.0 522.5 120.5 522.0 121.0 522.3 121.5 522.9 122.0 523.5 122.5 523.4 123.0 523.5 123.5 524.0 124.0 524.2 124.5 524.0 125.0 523.6 125.5 522.4 126.0 522.0 126.5 523.4 127.0 523.3 127.5 523.4 128.0 523.3 128.4 522.5 128.9 521.3 129.4 522.5 129.9 524.3 130.4 523.8 130.9 523.5 131.4 523.0 131.9 523.8 132.4 524.7 132.9 523.9 133.4 522.9 133.9 523.8 134.4 525.3 134.9 524.0 135.4 522.5 135.9 522.5 136.4 523.6 136.9 524.4 137.4 523.7 137.9 523.3 138.4 523.5 138.9 523.8 139.4 523.1 139.9 523.4 140.4 524.4 140.9 524.4 141.4 524.3 141.9 524.0 142.4 523.8 142.9 524.2 143.4 523.2 143.9 522.7 144.4 523.8 144.9 523.2 145.4 523.3 145.9 524.1 146.4 523.8 146.9 524.2 147.4 524.4 147.9 524.0 148.4 524.6 148.9 524.9 149.4 523.9 149.9 523.5 150.4 523.4 150.9 522.0 151.4 521.7 151.9 523.1 152.4 523.5 152.9 523.3 153.4 522.9 153.9 523.0 154.4 522.3 154.9 522.7 155.4 523.1 155.9 522.0 156.4 523.0 156.9 522.9 157.4 521.8 157.9 522.4 158.4 521.3 158.9 520.4 159.4 521.9 159.9 522.5 160.4 522.7 160.9 522.1 161.4 521.6 161.9 522.5 162.4 523.1 162.9 522.6 163.4 522.1 163.9 521.8 164.4 521.8 164.9 521.2 165.4 520.1 165.9 520.3 166.4 522.2 166.9 522.2 167.4 520.4 167.9 520.3 168.4 520.4 168.9 520.2 169.4 521.2 169.9 522.7 170.4 521.3 170.9 520.0 171.4 520.0 171.9 519.8 172.4 520.1 172.9 519.0 173.4 519.5 173.9 520.3 174.4 520.1 174.9 520.0 175.4 519.0 175.9 518.5 176.4 518.7 176.9 519.8 177.4 519.7 177.9 518.3 178.4 517.8 178.9 517.0 179.4 517.2 179.9 519.0 180.4 519.6 180.9 518.9 181.4 517.9 181.9 518.6 182.4 518.6 182.9 517.4 183.4 518.5 183.9 518.4 184.4 518.3 184.9 518.6 185.4 518.3 185.9 518.1 186.4 518.5 186.9 518.3 187.4 518.8 187.9 519.3 188.4 518.3 188.9 517.1 189.4 516.3 189.9 517.5 190.4 518.3 190.9 517.9 191.4 517.7 191.9 516.3 192.4 517.6 192.9 518.8 193.4 518.6 193.9 517.9 194.4 516.9 194.9 516.5 195.4 516.2 195.9 516.5 196.4 516.0 196.9 515.9 197.4 515.9 197.9 518.4 198.4 518.7 198.9 517.8 199.4 516.8 199.9 515.4 200.4 516.0 200.9 516.1 201.4 516.1 201.9 516.7 202.4 515.7 202.9 515.3 203.4 516.6 203.9 517.7 204.4 518.0 204.9 517.1 205.4 516.9 205.9 517.3 206.4 517.2 206.9 517.7 207.4 517.7 207.9 518.0 208.4 518.5 208.9 518.1 209.4 517.1 209.9 516.4 210.4 516.9 210.9 518.0 211.4 518.3 211.9 517.2 212.4 516.2 212.9 517.6 213.4 518.7 213.9 517.8 214.4 517.3 214.9 517.4 215.4 517.3 215.9 518.2 216.4 517.7 216.9 517.6 217.4 518.5 217.9 517.6 218.4 516.9 218.9 516.8 219.4 517.0 219.9 516.8 220.4 517.5 220.9 517.8 221.4 516.8 221.9 517.8 222.4 519.7 222.9 520.0 223.4 518.4 223.9 517.1 224.4 518.3 224.9 519.1 225.4 518.7 225.9 518.3 226.4 519.9 226.9 521.0 227.4 520.1 227.9 519.7 228.4 519.6 228.9 520.1 229.4 520.1 229.9 521.6 230.4 520.0 230.9 518.1 231.4 519.5 231.9 520.6 232.4 521.0 232.9 519.4 233.4 518.7 233.9 520.0 234.4 522.0 234.9 522.1 235.4 521.6 235.9 521.3 236.4 522.0 236.9 522.8 237.4 522.0 237.9 522.3 238.4 521.9 238.9 522.4 239.4 523.9 239.9 523.6 240.4 522.3 240.9 522.3 241.4 523.2 241.9 522.5 242.4 522.0 242.9 522.8 243.4 522.8 243.9 522.7 244.4 522.4 244.9 522.1 245.4 523.0 245.9 523.3 246.4 523.1 246.9 522.6 247.4 522.1 247.9 522.8 248.4 523.1 248.9 522.4 249.4 521.6 249.9 521.6 250.4 521.1 250.9 521.2 251.4 521.9 251.9 522.1 252.4 523.2 252.9 522.9 253.4 522.0 253.9 521.8 254.4 522.0 254.9 522.3 255.4 522.9 255.9 522.8 256.4 522.0 256.9 521.2 257.4 523.4 257.9 523.6 258.4 520.9 258.9 520.4 259.4 520.7 259.9 521.0 260.4 521.4 260.9 521.8 261.4 521.1 261.9 521.6 262.4 522.2 262.9 521.2 263.4 521.3 263.9 521.2 264.4 520.9 264.9 520.3 265.4 518.8 265.9 518.4 266.4 517.9 266.9 516.5 267.4 515.4 267.9 512.9 268.4 508.5 268.9 503.9 269.4 499.9 269.9 495.8 270.4 489.1 270.9 482.0 271.4 477.1 271.9 471.7 272.4 465.6 272.9 461.9 273.4 460.9 273.9 461.3 274.4 461.2 274.9 461.0 275.4 464.1 275.9 467.9 276.4 470.5 276.9 476.3 277.4 482.2 277.9 484.8 278.4 488.0 278.9 492.7 279.4 497.0 279.9 500.4 280.4 503.9 280.9 505.6 281.4 508.3 281.9 513.1 282.4 514.1 282.9 513.6 283.4 515.2 283.9 517.2 284.4 518.4 284.9 519.1 285.4 519.7 285.9 520.7 286.4 521.4 286.9 521.4 287.4 519.6 287.9 519.6 288.4 520.8 288.9 519.5 289.4 520.2 289.9 522.3 290.4 521.7 290.9 521.9 291.4 522.1 291.9 520.8 292.4 521.7 292.9 522.8 293.4 521.2 293.9 521.6 294.4 523.1 294.9 522.4 295.4 522.2 295.9 522.9 296.4 521.8 296.9 521.6 297.4 522.5 297.9 522.4 298.4 522.8 298.9 523.4 299.4 522.7 299.9 522.2 300.4 522.0 300.9 522.5 301.4 523.6 301.9 522.6 302.4 522.3 302.9 523.0 303.4 523.2 303.9 523.6 304.4 523.5 304.9 524.3 305.4 524.3 305.9 521.8 306.4 521.4 306.9 521.7 307.4 522.6 307.9 522.8 308.4 522.8 308.9 523.2 309.4 523.0 309.9 525.0 310.4 524.4 310.9 522.1 311.4 522.1 311.9 523.0 312.4 523.1 312.9 522.3 313.4 524.1 313.9 525.4 314.4 524.1 314.9 523.4 315.4 523.4 315.9 523.4 316.4 522.5 316.9 523.3 317.4 525.1 317.9 524.5 318.4 524.5 318.9 524.3 319.4 523.5 319.9 524.0 320.4 523.7 320.9 522.1 321.4 521.7 321.9 521.2 322.4 521.2" stroke="#808080" stroke-width="2.6" fill="none" stroke-linejoin="round" clip-path="url(#c6)"/>
<path d="M41.2 528.65v2.6M41.2 426.75v-2.6M49.7 528.65v2.6M49.7 426.75v-2.6M58.2 528.65v2.6M58.2 426.75v-2.6M66.7 528.65v3.8M66.7 426.75v-3.8M75.2 528.65v2.6M75.2 426.75v-2.6M83.7 528.65v2.6M83.7 426.75v-2.6M92.2 528.65v2.6M92.2 426.75v-2.6M100.7 528.65v2.6M100.7 426.75v-2.6M109.2 528.65v2.6M109.2 426.75v-2.6M117.7 528.65v2.6M117.7 426.75v-2.6M126.2 528.65v2.6M126.2 426.75v-2.6M134.7 528.65v2.6M134.7 426.75v-2.6M143.2 528.65v2.6M143.2 426.75v-2.6M151.7 528.65v3.8M151.7 426.75v-3.8M160.2 528.65v2.6M160.2 426.75v-2.6M168.7 528.65v2.6M168.7 426.75v-2.6M177.2 528.65v2.6M177.2 426.75v-2.6M185.7 528.65v2.6M185.7 426.75v-2.6M194.2 528.65v2.6M194.2 426.75v-2.6M202.7 528.65v2.6M202.7 426.75v-2.6M211.2 528.65v2.6M211.2 426.75v-2.6M219.7 528.65v2.6M219.7 426.75v-2.6M228.2 528.65v2.6M228.2 426.75v-2.6M236.7 528.65v3.8M236.7 426.75v-3.8M245.2 528.65v2.6M245.2 426.75v-2.6M253.7 528.65v2.6M253.7 426.75v-2.6M262.2 528.65v2.6M262.2 426.75v-2.6M270.7 528.65v2.6M270.7 426.75v-2.6M279.2 528.65v2.6M279.2 426.75v-2.6M287.7 528.65v2.6M287.7 426.75v-2.6M296.2 528.65v2.6M296.2 426.75v-2.6M304.7 528.65v2.6M304.7 426.75v-2.6M313.2 528.65v2.6M313.2 426.75v-2.6M321.7 528.65v3.8M321.7 426.75v-3.8M37.2 527.4h-3.8M322.95 527.4h3.8M37.2 520.24h-2.6M322.95 520.24h2.6M37.2 513.08h-2.6M322.95 513.08h2.6M37.2 505.92h-2.6M322.95 505.92h2.6M37.2 498.76h-2.6M322.95 498.76h2.6M37.2 491.6h-3.8M322.95 491.6h3.8M37.2 484.44h-2.6M322.95 484.44h2.6M37.2 477.28h-2.6M322.95 477.28h2.6M37.2 470.12h-2.6M322.95 470.12h2.6M37.2 462.96h-2.6M322.95 462.96h2.6M37.2 455.8h-3.8M322.95 455.8h3.8M37.2 448.64h-2.6M322.95 448.64h2.6M37.2 441.48h-2.6M322.95 441.48h2.6M37.2 434.32h-2.6M322.95 434.32h2.6" stroke="#000" stroke-width="2.3" fill="none"/>
<rect x="38.45" y="428" width="283.25" height="99.4" fill="none" stroke="#000" stroke-width="2.5"/>
<text x="64.5" y="543.6" font-size="10.3" letter-spacing="1.1" text-anchor="middle" fill="#1c1c1c">383.5</text>
<text x="146.5" y="543.6" font-size="10.3" letter-spacing="1.1" text-anchor="middle" fill="#1c1c1c">384.0</text>
<text x="230" y="543.6" font-size="10.3" letter-spacing="1.1" text-anchor="middle" fill="#1c1c1c">384.5</text>
<text x="314.4" y="543.6" font-size="10.3" letter-spacing="1.1" text-anchor="middle" fill="#1c1c1c">385.0</text>
<text x="31.95" y="532" font-size="10.3" letter-spacing="1.1" text-anchor="end" fill="#1c1c1c">0</text>
<text x="31.95" y="496.2" font-size="10.3" letter-spacing="1.1" text-anchor="end" fill="#1c1c1c">1</text>
<text x="31.95" y="460.4" font-size="10.3" letter-spacing="1.1" text-anchor="end" fill="#1c1c1c">2</text>
<text x="147" y="555.8" font-size="13.1" fill="#111">mass</text>
<text x="181.3" y="555.8" font-size="13.5" letter-spacing="0.9" fill="#111">(m/z)</text>
<g transform="translate(14.0 477.7) rotate(-90)" font-size="13" fill="#111"><text x="-63.9" y="0" letter-spacing="1.25">Intensity</text><text x="1.7" y="0">(c/s)</text><text x="31.8" y="0">×</text><text x="42.4" y="0" letter-spacing="0.6">10</text><text x="57.4" y="-5.4" font-size="9">2</text></g>
<path d="M103.6 498.2V484.7H139.1" stroke="#000" stroke-width="1.3" fill="none"/>
<text x="106" y="496.9" text-anchor="start" letter-spacing="0.8" fill="#1a1a1a"><tspan dy="-0" font-size="12.8">Zr</tspan><tspan dy="3.1" font-size="8.6">3</tspan><tspan dy="-3.1" font-size="12.8">O</tspan><tspan dy="3.1" font-size="8.6">7</tspan><tspan dy="-3.1" font-size="12.8">H</tspan><tspan dy="3.1" font-size="8.6">2</tspan><tspan dy="-8.3" font-size="8.6">−</tspan></text>
<path d="M273.8 455V441H238" stroke="#000" stroke-width="1.3" fill="none"/>
<text x="215.5" y="452.9" text-anchor="start" letter-spacing="0.8" fill="#1a1a1a"><tspan dy="-0" font-size="12.8">Zr</tspan><tspan dy="3.1" font-size="8.6">3</tspan><tspan dy="-3.1" font-size="12.8">O</tspan><tspan dy="3.1" font-size="8.6">7</tspan><tspan dy="-3.1" font-size="12.8">H</tspan><tspan dy="3.1" font-size="8.6">3</tspan><tspan dy="-8.3" font-size="8.6">−</tspan></text>
<rect x="387.3" y="428" width="283.1" height="99.4" fill="#dfe9d6"/>
<path d="M386.3 520.4 386.7 517.6 387.0 519.3 387.4 517.4 387.7 520.5 388.1 523.4 388.4 521.8 388.8 519.7 389.1 519.0 389.5 520.1 389.8 518.1 390.2 521.4 390.5 520.6 390.9 517.9 391.2 519.2 391.6 519.1 391.9 517.0 392.3 517.4 392.6 520.2 393.0 518.6 393.3 521.4 393.7 518.7 394.0 518.0 394.4 521.2 394.7 516.0 395.1 515.3 395.4 517.4 395.8 516.5 396.1 515.4 396.5 517.8 396.8 515.7 397.2 516.5 397.5 519.3 397.9 518.1 398.2 517.4 398.6 514.7 398.9 516.0 399.3 514.4 399.6 516.4 400.0 517.5 400.3 512.1 400.7 510.9 401.0 514.3 401.4 515.0 401.7 512.7 402.1 516.0 402.4 514.3 402.8 515.8 403.1 512.5 403.5 512.5 403.8 513.2 404.2 513.2 404.5 514.2 404.9 512.8 405.2 509.3 405.6 511.3 405.9 508.5 406.3 511.4 406.6 509.9 407.0 510.1 407.3 509.4 407.7 507.5 408.0 511.5 408.4 506.5 408.7 505.9 409.1 506.2 409.4 505.4 409.8 505.2 410.1 503.1 410.5 503.4 410.8 504.1 411.2 501.8 411.5 499.9 411.9 500.1 412.2 499.9 412.6 498.9 412.9 499.3 413.3 498.4 413.6 499.7 414.0 496.2 414.3 493.5 414.7 494.7 415.0 494.6 415.4 490.9 415.7 491.1 416.1 490.2 416.4 488.8 416.8 487.6 417.1 487.8 417.5 488.1 417.8 483.2 418.2 484.9 418.5 485.9 418.9 485.6 419.2 485.3 419.6 490.5 419.9 487.5 420.3 491.0 420.6 488.9 421.0 492.2 421.3 494.6 421.7 493.7 422.0 494.9 422.4 498.6 422.7 498.9 423.1 501.3 423.4 500.3 423.8 505.1 424.1 504.5 424.5 508.7 424.8 505.7 425.2 511.0 425.5 509.9 425.9 508.5 426.2 510.0 426.6 510.8 426.9 512.2 427.3 512.1 427.6 514.7 428.0 512.2 428.3 512.1 428.7 512.7 429.0 514.6 429.4 513.3 429.7 515.1 430.1 514.9 430.4 515.9 430.8 516.7 431.1 518.1 431.5 521.1 431.8 516.3 432.2 517.6 432.5 514.6 432.9 520.8 433.2 516.7 433.6 519.6 433.9 518.3 434.3 519.8 434.6 518.1 435.0 518.9 435.3 517.7 435.7 518.9 436.0 518.6 436.4 517.4 436.7 518.6 437.1 519.6 437.4 517.5 437.8 519.6 438.1 518.8 438.5 519.9 438.8 520.5 439.2 524.1 439.5 518.4 439.9 521.3 440.2 518.4 440.6 516.8 440.9 521.6 441.3 518.2 441.6 519.7 442.0 518.9 442.3 521.4 442.7 519.6 443.0 519.4 443.4 517.5 443.7 516.4 444.1 519.2 444.4 520.3 444.8 516.4 445.1 519.9 445.5 519.9 445.8 519.6 446.2 519.1 446.5 518.7 446.9 520.7 447.2 520.0 447.6 517.0 447.9 517.4 448.3 519.2 448.6 519.5 449.0 520.3 449.3 518.4 449.7 520.7 450.0 519.8 450.4 520.7 450.7 520.9 451.1 520.0 451.4 520.0 451.8 520.9 452.1 520.2 452.5 520.0 452.8 520.8 453.2 521.1 453.5 520.3 453.9 519.1 454.2 518.5 454.6 519.9 454.9 520.6 455.3 520.2 455.6 517.3 456.0 518.8 456.3 521.7 456.7 520.3 457.0 521.1 457.4 520.8 457.7 522.9 458.1 520.3 458.4 522.4 458.8 521.3 459.1 518.1 459.5 518.9 459.8 521.7 460.2 522.0 460.5 521.8 460.9 523.3 461.2 522.0 461.6 520.9 461.9 522.1 462.3 519.4 462.6 520.6 463.0 521.4 463.3 517.9 463.7 519.5 464.0 520.5 464.4 517.8 464.7 518.6 465.1 521.7 465.4 520.2 465.8 521.3 466.1 522.9 466.5 517.8 466.8 518.4 467.2 522.7 467.5 520.0 467.9 523.3 468.2 519.1 468.6 520.9 468.9 521.3 469.3 518.9 469.6 520.8 470.0 521.3 470.3 519.5 470.7 521.4 471.0 519.6 471.4 520.9 471.7 519.7 472.1 520.0 472.4 519.8 472.8 522.5 473.1 518.1 473.5 521.3 473.8 518.3 474.2 522.0 474.5 521.5 474.9 521.5 475.2 519.3 475.6 521.8 475.9 520.5 476.3 523.6 476.6 521.9 477.0 520.8 477.3 521.4 477.7 524.1 478.0 520.5 478.4 522.7 478.7 518.3 479.1 521.6 479.4 517.8 479.8 520.3 480.1 520.6 480.5 522.0 480.8 521.5 481.2 520.6 481.5 524.2 481.9 519.7 482.2 523.0 482.6 521.6 482.9 525.4 483.3 520.5 483.6 520.0 484.0 520.7 484.3 520.6 484.7 521.7 485.0 520.8 485.4 519.2 485.7 521.7 486.1 520.2 486.4 519.9 486.8 521.3 487.1 520.6 487.5 520.6 487.8 521.7 488.2 517.2 488.5 521.6 488.9 518.2 489.2 519.2 489.6 524.0 489.9 520.4 490.3 519.2 490.6 519.5 491.0 522.2 491.3 520.4 491.7 522.6 492.0 522.3 492.4 521.1 492.7 520.4 493.1 518.2 493.4 520.1 493.8 519.0 494.1 522.5 494.5 522.4 494.8 521.3 495.2 517.8 495.5 522.6 495.9 523.0 496.2 520.6 496.6 518.7 496.9 523.0 497.3 520.9 497.6 522.5 498.0 518.2 498.3 519.3 498.7 520.0 499.0 520.4 499.4 520.7 499.7 520.1 500.1 521.3 500.4 521.7 500.8 522.0 501.1 520.2 501.5 521.4 501.8 518.8 502.2 523.4 502.5 519.2 502.9 519.2 503.2 518.1 503.6 520.4 503.9 522.3 504.3 521.3 504.6 518.1 505.0 520.3 505.3 520.4 505.7 520.7 506.0 519.8 506.4 520.1 506.7 522.1 507.1 520.6 507.4 518.0 507.8 517.3 508.1 519.7 508.5 520.3 508.8 517.3 509.2 519.7 509.5 521.2 509.9 519.5 510.2 518.2 510.6 516.9 510.9 520.0 511.3 518.4 511.6 519.7 512.0 517.4 512.3 518.7 512.7 518.7 513.0 520.6 513.4 519.5 513.7 519.5 514.1 524.5 514.4 517.6 514.8 518.9 515.1 519.1 515.5 519.4 515.8 518.7 516.2 518.3 516.5 520.7 516.9 518.5 517.2 518.4 517.6 518.5 517.9 520.9 518.3 518.7 518.6 520.5 519.0 517.9 519.3 516.4 519.7 517.0 520.0 518.9 520.4 519.2 520.7 519.3 521.1 517.8 521.4 519.4 521.8 519.3 522.1 522.3 522.5 519.8 522.8 519.7 523.2 519.3 523.5 516.6 523.9 520.6 524.2 520.6 524.6 517.6 524.9 520.1 525.3 518.9 525.6 518.3 526.0 518.6 526.3 519.9 526.7 517.2 527.0 516.4 527.4 520.3 527.7 519.1 528.1 517.3 528.4 519.1 528.8 520.3 529.1 519.5 529.5 517.5 529.8 520.4 530.2 518.5 530.5 518.3 530.9 519.9 531.2 518.0 531.6 517.9 531.9 517.4 532.3 517.5 532.6 521.3 533.0 517.6 533.3 518.1 533.7 517.5 534.0 520.4 534.4 517.7 534.7 518.5 535.1 520.9 535.4 517.1 535.8 520.3 536.1 520.7 536.5 518.5 536.8 520.1 537.2 518.6 537.5 519.6 537.9 518.8 538.2 518.0 538.6 519.3 538.9 517.9 539.3 518.0 539.6 520.6 540.0 518.0 540.3 518.4 540.7 519.1 541.0 517.6 541.4 516.8 541.7 518.2 542.1 521.6 542.4 518.6 542.8 519.5 543.1 519.8 543.5 518.8 543.8 519.8 544.2 516.8 544.5 518.9 544.9 519.3 545.2 518.1 545.6 518.1 545.9 517.5 546.3 518.3 546.6 519.4 547.0 519.1 547.3 522.7 547.7 521.6 548.0 517.7 548.4 519.8 548.7 516.5 549.1 516.5 549.4 521.3 549.8 518.8 550.1 514.8 550.5 520.5 550.8 518.7 551.2 519.7 551.5 519.7 551.9 519.8 552.2 519.4 552.6 518.1 552.9 520.6 553.3 518.5 553.6 520.4 554.0 518.5 554.3 518.8 554.7 520.5 555.0 519.1 555.4 520.5 555.7 520.6 556.1 517.5 556.4 522.1 556.8 518.5 557.1 518.2 557.5 520.2 557.8 517.6 558.2 517.9 558.5 521.3 558.9 518.5 559.2 518.6 559.6 520.5 559.9 518.4 560.3 518.1 560.6 520.3 561.0 522.2 561.3 518.4 561.7 520.1 562.0 521.6 562.4 519.4 562.7 522.5 563.1 519.2 563.4 516.3 563.8 523.0 564.1 517.8 564.5 519.9 564.8 519.0 565.2 519.7 565.5 517.2 565.9 518.2 566.2 519.3 566.6 520.0 566.9 518.6 567.3 516.1 567.6 519.7 568.0 517.1 568.3 517.1 568.7 520.7 569.0 515.8 569.4 517.5 569.7 513.9 570.1 514.6 570.4 517.6 570.8 517.4 571.1 518.7 571.5 519.2 571.8 515.7 572.2 517.3 572.5 517.4 572.9 517.0 573.2 515.6 573.6 515.1 573.9 516.5 574.3 516.8 574.6 516.2 575.0 513.1 575.3 519.6 575.7 518.2 576.0 515.7 576.4 516.3 576.7 514.6 577.1 514.5 577.4 513.5 577.8 517.9 578.1 515.8 578.5 517.1 578.8 515.3 579.2 516.6 579.5 515.5 579.9 518.1 580.2 516.8 580.6 517.9 580.9 517.5 581.3 517.9 581.6 518.8 582.0 515.5 582.3 516.8 582.7 515.6 583.0 518.9 583.4 520.5 583.7 518.5 584.1 517.8 584.4 516.3 584.8 516.0 585.1 515.7 585.5 515.3 585.8 516.6 586.2 517.6 586.5 519.0 586.9 516.8 587.2 518.7 587.6 519.2 587.9 517.1 588.3 517.7 588.6 516.8 589.0 519.3 589.3 516.4 589.7 517.7 590.0 518.6 590.4 519.6 590.7 520.2 591.1 520.8 591.4 516.5 591.8 521.1 592.1 517.9 592.5 519.4 592.8 520.1 593.2 520.0 593.5 519.5 593.9 518.0 594.2 518.7 594.6 519.7 594.9 521.9 595.3 522.7 595.6 517.1 596.0 521.7 596.3 522.7 596.7 518.5 597.0 522.8 597.4 519.3 597.7 519.2 598.1 520.3 598.4 519.3 598.8 523.1 599.1 523.0 599.5 521.4 599.8 521.3 600.2 521.4 600.5 520.6 600.9 522.5 601.2 524.7 601.6 520.7 601.9 521.7 602.3 520.0 602.6 518.0 603.0 521.2 603.3 520.4 603.7 522.7 604.0 519.9 604.4 520.8 604.7 520.9 605.1 519.9 605.4 523.1 605.8 520.4 606.1 520.6 606.5 518.8 606.8 524.2 607.2 521.5 607.5 517.9 607.9 522.0 608.2 522.0 608.6 518.5 608.9 517.4 609.3 521.1 609.6 522.4 610.0 522.2 610.3 521.9 610.7 522.6 611.0 522.6 611.4 521.0 611.7 521.3 612.1 520.6 612.4 521.3 612.8 523.2 613.1 520.2 613.5 520.9 613.8 522.2 614.2 521.7 614.5 520.8 614.9 521.2 615.2 521.5 615.6 520.1 615.9 519.6 616.3 521.8 616.6 521.4 617.0 523.1 617.3 521.6 617.7 520.6 618.0 520.0 618.4 521.1 618.7 521.5 619.1 522.4 619.4 521.0 619.8 523.0 620.1 521.1 620.5 521.3 620.8 522.7 621.2 520.8 621.5 521.7 621.9 520.4 622.2 522.1 622.6 520.6 622.9 518.9 623.3 521.0 623.6 520.1 624.0 522.3 624.3 521.9 624.7 524.3 625.0 521.6 625.4 523.1 625.7 521.1 626.1 524.6 626.4 522.7 626.8 521.2 627.1 520.7 627.5 523.9 627.8 522.0 628.2 517.3 628.5 520.1 628.9 521.1 629.2 525.6 629.6 522.8 629.9 520.5 630.3 521.0 630.6 520.6 631.0 519.8 631.3 521.2 631.7 520.0 632.0 524.1 632.4 517.4 632.7 521.8 633.1 522.3 633.4 519.0 633.8 520.4 634.1 519.8 634.5 522.3 634.8 520.9 635.2 520.2 635.5 523.1 635.9 521.7 636.2 521.7 636.6 521.8 636.9 522.4 637.3 523.3 637.6 520.7 638.0 520.9 638.3 519.5 638.7 521.4 639.0 522.4 639.4 523.6 639.7 521.2 640.1 521.8 640.4 518.2 640.8 517.7 641.1 518.9 641.5 522.7 641.8 523.5 642.2 521.7 642.5 522.7 642.9 519.1 643.2 521.2 643.6 522.0 643.9 521.4 644.3 519.4 644.6 522.8 645.0 520.6 645.3 523.4 645.7 521.7 646.0 522.4 646.4 520.8 646.7 521.1 647.1 519.5 647.4 520.3 647.8 522.3 648.1 523.4 648.5 522.6 648.8 522.0 649.2 521.7 649.5 522.5 649.9 519.6 650.2 519.9 650.6 521.8 650.9 522.1 651.3 521.7 651.6 521.4 652.0 521.4 652.3 523.9 652.7 522.0 653.0 524.3 653.4 521.3 653.7 520.3 654.1 523.0 654.4 521.1 654.8 522.3 655.1 522.4 655.5 518.3 655.8 519.9 656.2 520.6 656.5 522.0 656.9 520.7 657.2 521.6 657.6 520.6 657.9 522.7 658.3 521.5 658.6 522.0 659.0 523.6 659.3 518.7 659.7 520.1 660.0 522.6 660.4 523.6 660.7 522.5 661.1 522.7 661.4 522.3 661.8 523.7 662.1 522.6 662.5 521.2 662.8 520.7 663.2 524.4 663.5 521.3 663.9 522.9 664.2 523.0 664.6 521.8 664.9 522.4 665.3 520.2 665.6 520.2 666.0 521.8 666.3 522.4 666.7 518.5 667.0 518.4 667.4 520.7 667.7 521.6 668.1 519.8 668.4 519.1 668.8 522.2 669.1 518.5 669.5 521.6 669.8 519.6 670.2 522.2 670.5 521.2 670.9 522.1 671.2 521.3" stroke="#ff0000" stroke-width="2.0" fill="none" stroke-linejoin="round" clip-path="url(#c7)"/>
<path d="M386.3 520.5 386.7 523.9 387.0 522.8 387.4 521.3 387.7 523.1 388.1 518.7 388.4 524.9 388.8 517.8 389.1 523.4 389.5 520.5 389.8 519.4 390.2 521.3 390.5 524.8 390.9 522.8 391.2 522.1 391.6 521.2 391.9 520.5 392.3 520.2 392.6 519.6 393.0 523.9 393.3 520.4 393.7 525.3 394.0 521.9 394.4 524.1 394.7 525.4 395.1 520.5 395.4 522.2 395.8 520.4 396.1 525.0 396.5 524.3 396.8 522.3 397.2 523.3 397.5 522.0 397.9 523.2 398.2 522.7 398.6 524.2 398.9 519.8 399.3 522.7 399.6 524.2 400.0 520.9 400.3 521.2 400.7 521.7 401.0 521.7 401.4 522.8 401.7 522.3 402.1 526.0 402.4 524.8 402.8 524.2 403.1 521.5 403.5 519.8 403.8 522.3 404.2 522.5 404.5 520.0 404.9 522.6 405.2 520.8 405.6 521.2 405.9 524.3 406.3 521.4 406.6 521.6 407.0 524.0 407.3 523.8 407.7 524.2 408.0 519.4 408.4 518.1 408.7 520.6 409.1 519.0 409.4 524.2 409.8 519.3 410.1 518.2 410.5 518.9 410.8 523.4 411.2 519.7 411.5 521.9 411.9 519.7 412.2 522.7 412.6 521.5 412.9 522.4 413.3 520.5 413.6 521.4 414.0 519.1 414.3 519.5 414.7 520.0 415.0 520.6 415.4 520.9 415.7 520.1 416.1 518.4 416.4 519.2 416.8 518.6 417.1 518.7 417.5 518.4 417.8 518.9 418.2 520.6 418.5 515.7 418.9 515.2 419.2 517.4 419.6 511.7 419.9 516.7 420.3 512.4 420.6 513.3 421.0 512.8 421.3 511.1 421.7 511.3 422.0 512.9 422.4 514.9 422.7 515.3 423.1 513.0 423.4 510.9 423.8 512.5 424.1 514.6 424.5 514.5 424.8 514.3 425.2 513.0 425.5 518.0 425.9 515.8 426.2 517.1 426.6 519.5 426.9 520.4 427.3 516.7 427.6 518.7 428.0 520.0 428.3 519.7 428.7 518.4 429.0 520.2 429.4 517.7 429.7 521.2 430.1 522.3 430.4 521.2 430.8 522.8 431.1 521.8 431.5 519.0 431.8 518.2 432.2 520.2 432.5 521.0 432.9 523.0 433.2 523.2 433.6 520.8 433.9 521.2 434.3 522.5 434.6 522.3 435.0 518.7 435.3 519.7 435.7 521.4 436.0 521.1 436.4 519.2 436.7 520.9 437.1 521.1 437.4 524.4 437.8 524.6 438.1 525.0 438.5 525.6 438.8 521.6 439.2 521.0 439.5 523.1 439.9 520.8 440.2 520.8 440.6 521.7 440.9 524.2 441.3 519.0 441.6 519.1 442.0 522.6 442.3 518.1 442.7 521.5 443.0 523.0 443.4 522.3 443.7 524.9 444.1 522.2 444.4 524.4 444.8 519.5 445.1 521.0 445.5 524.0 445.8 520.5 446.2 524.6 446.5 521.2 446.9 520.7 447.2 521.4 447.6 523.5 447.9 521.7 448.3 521.8 448.6 521.4 449.0 518.8 449.3 518.5 449.7 518.7 450.0 522.6 450.4 522.8 450.7 521.5 451.1 520.7 451.4 525.2 451.8 522.6 452.1 518.3 452.5 523.7 452.8 522.8 453.2 522.7 453.5 520.6 453.9 521.6 454.2 522.0 454.6 524.2 454.9 520.4 455.3 521.4 455.6 522.6 456.0 521.4 456.3 520.0 456.7 524.1 457.0 524.2 457.4 523.3 457.7 523.0 458.1 526.9 458.4 522.5 458.8 519.4 459.1 522.0 459.5 519.6 459.8 526.6 460.2 521.6 460.5 518.9 460.9 518.6 461.2 522.3 461.6 522.9 461.9 520.7 462.3 523.6 462.6 522.0 463.0 524.4 463.3 521.2 463.7 521.3 464.0 518.4 464.4 520.7 464.7 522.5 465.1 521.5 465.4 523.7 465.8 521.3 466.1 521.7 466.5 520.6 466.8 519.6 467.2 524.9 467.5 520.7 467.9 520.0 468.2 523.5 468.6 517.9 468.9 522.6 469.3 516.8 469.6 519.9 470.0 519.5 470.3 520.8 470.7 519.4 471.0 523.1 471.4 522.7 471.7 524.8 472.1 520.3 472.4 522.5 472.8 519.9 473.1 520.2 473.5 523.7 473.8 520.0 474.2 520.8 474.5 520.9 474.9 520.4 475.2 521.3 475.6 521.2 475.9 519.3 476.3 523.0 476.6 523.4 477.0 522.6 477.3 519.4 477.7 521.8 478.0 517.8 478.4 526.8 478.7 522.5 479.1 522.0 479.4 520.7 479.8 518.8 480.1 521.6 480.5 523.1 480.8 519.7 481.2 518.4 481.5 525.8 481.9 520.2 482.2 520.7 482.6 522.7 482.9 522.1 483.3 520.7 483.6 521.1 484.0 521.6 484.3 523.3 484.7 520.7 485.0 522.4 485.4 521.0 485.7 522.2 486.1 520.8 486.4 519.8 486.8 520.7 487.1 520.0 487.5 523.6 487.8 520.3 488.2 520.6 488.5 522.2 488.9 521.4 489.2 526.2 489.6 521.0 489.9 521.8 490.3 525.2 490.6 520.2 491.0 522.2 491.3 520.5 491.7 521.5 492.0 520.2 492.4 520.9 492.7 521.5 493.1 520.1 493.4 519.5 493.8 525.0 494.1 520.9 494.5 522.0 494.8 522.9 495.2 518.5 495.5 519.1 495.9 522.7 496.2 522.8 496.6 519.3 496.9 521.9 497.3 521.3 497.6 524.2 498.0 520.9 498.3 518.5 498.7 521.4 499.0 520.7 499.4 517.3 499.7 518.8 500.1 517.7 500.4 519.1 500.8 518.0 501.1 523.0 501.5 521.4 501.8 522.8 502.2 515.6 502.5 519.1 502.9 519.4 503.2 520.2 503.6 520.2 503.9 522.8 504.3 512.9 504.6 516.1 505.0 514.5 505.3 515.5 505.7 510.9 506.0 507.6 506.4 505.3 506.7 500.6 507.1 499.3 507.4 493.0 507.8 487.7 508.1 484.0 508.5 480.5 508.8 478.3 509.2 477.8 509.5 474.4 509.9 476.5 510.2 478.7 510.6 477.6 510.9 484.4 511.3 485.4 511.6 486.2 512.0 489.2 512.3 494.9 512.7 497.4 513.0 499.5 513.4 503.5 513.7 507.3 514.1 507.5 514.4 510.0 514.8 511.8 515.1 511.5 515.5 514.2 515.8 516.6 516.2 516.3 516.5 513.8 516.9 519.2 517.2 518.8 517.6 520.1 517.9 518.3 518.3 521.5 518.6 518.6 519.0 518.2 519.3 521.1 519.7 521.4 520.0 522.6 520.4 519.9 520.7 522.1 521.1 521.3 521.4 521.0 521.8 521.5 522.1 518.9 522.5 517.5 522.8 524.3 523.2 522.0 523.5 520.1 523.9 522.5 524.2 521.6 524.6 520.3 524.9 518.2 525.3 518.6 525.6 521.3 526.0 520.5 526.3 521.4 526.7 521.1 527.0 522.9 527.4 524.0 527.7 521.5 528.1 519.1 528.4 519.5 528.8 524.3 529.1 521.3 529.5 522.1 529.8 520.4 530.2 522.9 530.5 519.3 530.9 521.4 531.2 520.0 531.6 519.4 531.9 524.5 532.3 521.4 532.6 518.3 533.0 521.0 533.3 519.2 533.7 520.3 534.0 522.0 534.4 520.6 534.7 519.2 535.1 518.8 535.4 518.5 535.8 523.1 536.1 519.6 536.5 523.6 536.8 521.4 537.2 521.5 537.5 520.0 537.9 520.6 538.2 518.9 538.6 522.3 538.9 519.6 539.3 520.5 539.6 521.2 540.0 523.3 540.3 520.2 540.7 520.6 541.0 519.8 541.4 521.3 541.7 521.7 542.1 520.5 542.4 520.4 542.8 520.0 543.1 517.8 543.5 522.3 543.8 517.6 544.2 526.5 544.5 519.5 544.9 522.7 545.2 517.6 545.6 522.8 545.9 519.3 546.3 523.0 546.6 523.3 547.0 519.8 547.3 519.7 547.7 522.5 548.0 516.9 548.4 521.8 548.7 518.4 549.1 523.1 549.4 523.0 549.8 521.1 550.1 523.1 550.5 520.4 550.8 525.1 551.2 520.9 551.5 522.3 551.9 523.0 552.2 520.9 552.6 521.7 552.9 522.1 553.3 519.8 553.6 520.7 554.0 520.6 554.3 518.9 554.7 521.4 555.0 519.8 555.4 522.0 555.7 520.2 556.1 520.3 556.4 522.3 556.8 524.0 557.1 523.6 557.5 523.0 557.8 520.3 558.2 521.5 558.5 521.8 558.9 520.4 559.2 520.0 559.6 518.8 559.9 522.4 560.3 520.3 560.6 520.0 561.0 522.9 561.3 521.0 561.7 522.8 562.0 521.5 562.4 520.3 562.7 524.1 563.1 522.6 563.4 522.5 563.8 520.8 564.1 522.3 564.5 520.3 564.8 522.4 565.2 521.8 565.5 519.8 565.9 520.3 566.2 520.5 566.6 520.8 566.9 519.0 567.3 518.3 567.6 521.4 568.0 522.0 568.3 522.5 568.7 517.5 569.0 522.2 569.4 522.9 569.7 520.1 570.1 518.6 570.4 522.7 570.8 520.7 571.1 523.0 571.5 521.6 571.8 517.5 572.2 520.0 572.5 520.8 572.9 520.2 573.2 519.7 573.6 520.4 573.9 522.3 574.3 522.3 574.6 516.5 575.0 521.5 575.3 517.9 575.7 521.3 576.0 517.7 576.4 518.8 576.7 520.4 577.1 516.4 577.4 521.6 577.8 520.3 578.1 521.4 578.5 521.2 578.8 520.5 579.2 521.5 579.5 520.3 579.9 516.9 580.2 522.8 580.6 521.9 580.9 521.3 581.3 520.5 581.6 517.8 582.0 518.3 582.3 518.7 582.7 519.1 583.0 515.2 583.4 521.5 583.7 521.5 584.1 519.4 584.4 519.0 584.8 519.8 585.1 520.8 585.5 521.5 585.8 519.5 586.2 520.2 586.5 519.7 586.9 520.6 587.2 516.2 587.6 517.7 587.9 515.0 588.3 519.2 588.6 518.0 589.0 518.5 589.3 517.9 589.7 518.2 590.0 518.0 590.4 521.1 590.7 517.9 591.1 516.1 591.4 520.7 591.8 517.7 592.1 515.9 592.5 514.6 592.8 516.9 593.2 515.8 593.5 513.4 593.9 514.1 594.2 517.1 594.6 517.2 594.9 514.2 595.3 515.5 595.6 516.8 596.0 516.1 596.3 515.0 596.7 515.8 597.0 515.8 597.4 515.6 597.7 517.8 598.1 511.9 598.4 512.7 598.8 512.0 599.1 514.9 599.5 514.3 599.8 513.4 600.2 512.8 600.5 517.5 600.9 513.5 601.2 515.9 601.6 514.1 601.9 515.1 602.3 510.8 602.6 512.8 603.0 513.8 603.3 511.2 603.7 513.7 604.0 514.8 604.4 513.8 604.7 514.0 605.1 513.2 605.4 511.7 605.8 513.4 606.1 513.2 606.5 511.2 606.8 512.5 607.2 511.2 607.5 512.6 607.9 515.1 608.2 514.7 608.6 515.6 608.9 510.5 609.3 511.7 609.6 513.3 610.0 514.1 610.3 511.8 610.7 512.7 611.0 512.0 611.4 514.2 611.7 514.8 612.1 510.1 612.4 514.7 612.8 513.1 613.1 510.8 613.5 516.5 613.8 512.1 614.2 513.3 614.5 513.8 614.9 513.1 615.2 515.8 615.6 517.8 615.9 510.5 616.3 514.5 616.6 512.5 617.0 512.2 617.3 513.8 617.7 513.6 618.0 513.2 618.4 511.7 618.7 513.8 619.1 512.5 619.4 515.4 619.8 515.7 620.1 514.9 620.5 514.4 620.8 514.3 621.2 511.8 621.5 513.9 621.9 515.4 622.2 512.0 622.6 515.1 622.9 515.1 623.3 515.0 623.6 516.6 624.0 518.0 624.3 515.9 624.7 516.8 625.0 517.9 625.4 516.1 625.7 516.7 626.1 517.4 626.4 519.5 626.8 516.6 627.1 513.2 627.5 514.8 627.8 514.4 628.2 516.4 628.5 514.5 628.9 517.5 629.2 517.1 629.6 515.4 629.9 518.9 630.3 516.2 630.6 515.8 631.0 513.3 631.3 517.6 631.7 515.6 632.0 517.5 632.4 517.3 632.7 521.1 633.1 518.0 633.4 514.3 633.8 515.4 634.1 516.1 634.5 511.9 634.8 515.4 635.2 518.5 635.5 516.7 635.9 516.4 636.2 513.5 636.6 517.9 636.9 515.6 637.3 514.6 637.6 517.8 638.0 516.2 638.3 519.9 638.7 516.2 639.0 520.3 639.4 517.0 639.7 513.3 640.1 515.6 640.4 516.2 640.8 516.1 641.1 512.5 641.5 515.3 641.8 514.5 642.2 517.1 642.5 517.1 642.9 518.2 643.2 516.6 643.6 517.6 643.9 514.6 644.3 515.2 644.6 516.5 645.0 517.3 645.3 521.5 645.7 517.4 646.0 515.8 646.4 515.2 646.7 521.8 647.1 520.6 647.4 516.0 647.8 518.2 648.1 516.7 648.5 517.2 648.8 515.3 649.2 519.6 649.5 517.3 649.9 514.7 650.2 516.0 650.6 517.8 650.9 515.5 651.3 515.8 651.6 517.9 652.0 515.1 652.3 515.1 652.7 516.6 653.0 514.7 653.4 518.4 653.7 515.0 654.1 516.7 654.4 518.0 654.8 517.4 655.1 514.3 655.5 517.3 655.8 516.9 656.2 517.5 656.5 517.7 656.9 514.6 657.2 512.4 657.6 513.9 657.9 515.4 658.3 515.0 658.6 516.9 659.0 517.2 659.3 518.4 659.7 513.8 660.0 516.9 660.4 517.6 660.7 517.5 661.1 516.0 661.4 517.3 661.8 516.3 662.1 516.0 662.5 514.0 662.8 518.5 663.2 515.8 663.5 517.6 663.9 517.1 664.2 513.4 664.6 515.2 664.9 517.0 665.3 515.5 665.6 516.4 666.0 514.4 666.3 517.2 666.7 515.5 667.0 516.7 667.4 516.3 667.7 516.6 668.1 517.4 668.4 516.1 668.8 514.6 669.1 517.4 669.5 517.0 669.8 515.7 670.2 517.7 670.5 514.8 670.9 515.1 671.2 520.4" stroke="#1e8fff" stroke-width="2.0" fill="none" stroke-linejoin="round" clip-path="url(#c7)"/>
<path d="M386.3 522.7 386.7 523.6 387.0 519.5 387.4 519.2 387.7 523.8 388.1 522.7 388.4 521.3 388.8 521.9 389.1 519.5 389.5 518.9 389.8 519.7 390.2 518.5 390.5 518.8 390.9 521.0 391.2 521.7 391.6 522.3 391.9 518.9 392.3 518.7 392.6 518.4 393.0 521.3 393.3 521.4 393.7 519.9 394.0 517.7 394.4 519.6 394.7 519.9 395.1 522.1 395.4 519.3 395.8 519.1 396.1 522.2 396.5 516.3 396.8 522.1 397.2 518.0 397.5 520.4 397.9 519.6 398.2 521.6 398.6 521.1 398.9 518.3 399.3 520.2 399.6 520.5 400.0 517.8 400.3 518.1 400.7 519.3 401.0 519.1 401.4 515.8 401.7 519.8 402.1 518.6 402.4 518.5 402.8 522.4 403.1 523.5 403.5 519.0 403.8 517.3 404.2 518.7 404.5 520.3 404.9 520.5 405.2 517.3 405.6 519.6 405.9 522.4 406.3 517.4 406.6 518.4 407.0 518.0 407.3 516.5 407.7 515.9 408.0 517.5 408.4 519.0 408.7 523.2 409.1 517.9 409.4 518.8 409.8 515.6 410.1 515.7 410.5 517.4 410.8 515.4 411.2 518.5 411.5 518.3 411.9 520.0 412.2 518.8 412.6 517.7 412.9 515.8 413.3 519.6 413.6 516.2 414.0 512.9 414.3 520.8 414.7 518.4 415.0 517.7 415.4 515.6 415.7 513.4 416.1 515.0 416.4 517.7 416.8 519.4 417.1 517.6 417.5 517.5 417.8 516.8 418.2 519.3 418.5 514.0 418.9 518.8 419.2 515.7 419.6 516.6 419.9 519.4 420.3 516.8 420.6 516.9 421.0 517.3 421.3 515.1 421.7 517.9 422.0 511.3 422.4 514.3 422.7 518.7 423.1 522.1 423.4 513.9 423.8 516.0 424.1 516.3 424.5 518.5 424.8 519.5 425.2 520.3 425.5 510.6 425.9 512.6 426.2 517.2 426.6 511.8 426.9 519.8 427.3 514.1 427.6 514.0 428.0 517.3 428.3 516.3 428.7 517.5 429.0 515.1 429.4 512.2 429.7 512.8 430.1 514.0 430.4 512.4 430.8 518.7 431.1 510.4 431.5 514.9 431.8 517.6 432.2 515.6 432.5 516.2 432.9 514.6 433.2 514.2 433.6 520.1 433.9 512.3 434.3 511.4 434.6 517.5 435.0 512.2 435.3 512.8 435.7 513.4 436.0 512.2 436.4 518.9 436.7 514.4 437.1 518.4 437.4 511.1 437.8 518.5 438.1 519.2 438.5 514.2 438.8 515.4 439.2 516.8 439.5 516.7 439.9 515.8 440.2 513.4 440.6 518.9 440.9 518.6 441.3 518.7 441.6 517.7 442.0 517.6 442.3 520.5 442.7 517.1 443.0 520.6 443.4 518.5 443.7 518.4 444.1 518.5 444.4 514.7 444.8 514.4 445.1 515.7 445.5 514.6 445.8 518.8 446.2 515.1 446.5 518.3 446.9 517.8 447.2 517.7 447.6 521.3 447.9 519.7 448.3 518.8 448.6 517.6 449.0 518.8 449.3 520.4 449.7 521.1 450.0 518.6 450.4 521.2 450.7 521.2 451.1 518.9 451.4 518.3 451.8 520.6 452.1 522.7 452.5 518.2 452.8 517.0 453.2 519.7 453.5 519.7 453.9 524.0 454.2 517.0 454.6 521.4 454.9 517.4 455.3 520.3 455.6 519.4 456.0 519.5 456.3 523.1 456.7 513.1 457.0 522.6 457.4 519.0 457.7 521.0 458.1 519.8 458.4 516.2 458.8 523.4 459.1 519.6 459.5 518.3 459.8 519.1 460.2 518.5 460.5 521.1 460.9 523.1 461.2 522.4 461.6 520.4 461.9 517.9 462.3 519.4 462.6 516.1 463.0 519.4 463.3 519.2 463.7 519.2 464.0 523.5 464.4 518.5 464.7 522.2 465.1 520.6 465.4 514.7 465.8 522.6 466.1 519.6 466.5 519.3 466.8 519.6 467.2 519.9 467.5 521.2 467.9 515.6 468.2 524.4 468.6 522.3 468.9 516.8 469.3 518.9 469.6 521.8 470.0 522.1 470.3 520.7 470.7 514.3 471.0 519.1 471.4 522.4 471.7 519.6 472.1 521.5 472.4 516.8 472.8 519.5 473.1 517.4 473.5 519.8 473.8 515.6 474.2 519.2 474.5 519.5 474.9 522.4 475.2 521.0 475.6 519.2 475.9 521.2 476.3 514.6 476.6 520.1 477.0 521.8 477.3 517.9 477.7 521.2 478.0 519.2 478.4 520.3 478.7 521.6 479.1 517.0 479.4 519.8 479.8 517.6 480.1 520.8 480.5 523.2 480.8 522.7 481.2 521.1 481.5 520.4 481.9 519.9 482.2 518.9 482.6 522.7 482.9 519.5 483.3 522.6 483.6 521.4 484.0 514.3 484.3 517.1 484.7 520.7 485.0 516.0 485.4 516.8 485.7 517.9 486.1 516.6 486.4 520.4 486.8 520.1 487.1 521.7 487.5 518.5 487.8 522.5 488.2 520.9 488.5 518.7 488.9 520.8 489.2 518.9 489.6 515.7 489.9 521.8 490.3 516.5 490.6 521.1 491.0 521.6 491.3 519.1 491.7 517.3 492.0 521.1 492.4 521.1 492.7 520.4 493.1 521.0 493.4 518.9 493.8 520.9 494.1 519.8 494.5 518.4 494.8 520.1 495.2 516.6 495.5 520.5 495.9 520.7 496.2 514.4 496.6 515.5 496.9 518.6 497.3 516.8 497.6 517.8 498.0 519.6 498.3 516.8 498.7 517.5 499.0 515.2 499.4 521.9 499.7 515.8 500.1 516.9 500.4 518.5 500.8 517.5 501.1 517.0 501.5 518.4 501.8 516.1 502.2 512.2 502.5 516.2 502.9 512.4 503.2 515.3 503.6 509.5 503.9 505.3 504.3 503.9 504.6 501.0 505.0 500.5 505.3 493.4 505.7 493.0 506.0 485.1 506.4 482.6 506.7 479.7 507.1 471.5 507.4 471.6 507.8 464.8 508.1 463.5 508.5 461.2 508.8 457.1 509.2 457.5 509.5 458.4 509.9 459.2 510.2 459.5 510.6 461.3 510.9 464.0 511.3 467.8 511.6 473.7 512.0 470.9 512.3 474.0 512.7 473.7 513.0 478.4 513.4 479.8 513.7 481.5 514.1 488.4 514.4 492.8 514.8 491.7 515.1 497.4 515.5 499.0 515.8 497.4 516.2 501.4 516.5 502.0 516.9 509.1 517.2 507.6 517.6 506.6 517.9 513.1 518.3 510.9 518.6 511.4 519.0 518.2 519.3 510.4 519.7 516.1 520.0 515.4 520.4 511.9 520.7 519.9 521.1 515.4 521.4 517.7 521.8 516.9 522.1 519.0 522.5 514.4 522.8 520.1 523.2 517.0 523.5 516.7 523.9 518.2 524.2 518.8 524.6 518.8 524.9 516.1 525.3 517.4 525.6 518.7 526.0 521.0 526.3 518.3 526.7 517.6 527.0 518.9 527.4 515.7 527.7 523.1 528.1 513.5 528.4 519.4 528.8 521.6 529.1 522.9 529.5 517.2 529.8 517.9 530.2 519.7 530.5 519.3 530.9 518.9 531.2 520.2 531.6 516.8 531.9 518.0 532.3 519.7 532.6 523.0 533.0 516.4 533.3 520.5 533.7 521.8 534.0 516.7 534.4 518.4 534.7 524.0 535.1 523.2 535.4 520.5 535.8 522.4 536.1 520.0 536.5 513.9 536.8 513.1 537.2 519.8 537.5 517.9 537.9 517.8 538.2 520.0 538.6 523.0 538.9 517.4 539.3 520.2 539.6 518.8 540.0 518.2 540.3 521.6 540.7 516.1 541.0 519.7 541.4 519.3 541.7 520.8 542.1 518.3 542.4 517.6 542.8 521.1 543.1 518.6 543.5 520.8 543.8 522.6 544.2 520.6 544.5 518.6 544.9 518.7 545.2 517.6 545.6 521.4 545.9 520.6 546.3 519.8 546.6 518.6 547.0 520.2 547.3 522.1 547.7 523.4 548.0 517.4 548.4 517.6 548.7 521.5 549.1 516.7 549.4 520.1 549.8 519.0 550.1 517.2 550.5 521.1 550.8 521.7 551.2 523.9 551.5 519.4 551.9 519.0 552.2 518.1 552.6 518.7 552.9 519.8 553.3 517.5 553.6 522.3 554.0 519.2 554.3 518.9 554.7 520.3 555.0 516.3 555.4 519.1 555.7 517.1 556.1 518.1 556.4 520.5 556.8 515.8 557.1 517.6 557.5 520.0 557.8 520.4 558.2 522.4 558.5 520.4 558.9 520.6 559.2 519.6 559.6 521.0 559.9 518.8 560.3 520.3 560.6 523.5 561.0 521.1 561.3 522.0 561.7 522.8 562.0 520.5 562.4 517.9 562.7 522.3 563.1 524.3 563.4 520.2 563.8 513.2 564.1 521.0 564.5 519.1 564.8 520.6 565.2 517.7 565.5 516.4 565.9 519.9 566.2 516.9 566.6 521.9 566.9 519.0 567.3 522.2 567.6 519.0 568.0 520.7 568.3 518.8 568.7 521.8 569.0 518.7 569.4 519.0 569.7 520.5 570.1 520.9 570.4 521.7 570.8 520.0 571.1 518.2 571.5 519.3 571.8 518.6 572.2 516.2 572.5 519.6 572.9 518.2 573.2 517.0 573.6 517.7 573.9 517.9 574.3 518.6 574.6 514.5 575.0 518.8 575.3 519.5 575.7 517.3 576.0 515.0 576.4 515.4 576.7 518.4 577.1 516.6 577.4 517.3 577.8 518.2 578.1 516.9 578.5 517.0 578.8 518.0 579.2 514.5 579.5 519.1 579.9 515.1 580.2 513.4 580.6 513.2 580.9 517.0 581.3 517.8 581.6 520.8 582.0 517.1 582.3 511.4 582.7 520.1 583.0 519.8 583.4 514.3 583.7 514.6 584.1 519.8 584.4 515.7 584.8 514.6 585.1 518.5 585.5 512.8 585.8 517.6 586.2 512.0 586.5 513.9 586.9 515.6 587.2 517.4 587.6 514.4 587.9 513.7 588.3 513.5 588.6 514.4 589.0 513.3 589.3 510.7 589.7 514.4 590.0 512.7 590.4 511.0 590.7 511.8 591.1 509.7 591.4 507.9 591.8 512.0 592.1 510.5 592.5 517.2 592.8 511.3 593.2 508.9 593.5 512.6 593.9 507.0 594.2 513.9 594.6 506.5 594.9 510.4 595.3 511.4 595.6 510.1 596.0 509.5 596.3 511.1 596.7 511.8 597.0 509.8 597.4 506.4 597.7 507.5 598.1 505.4 598.4 509.6 598.8 508.9 599.1 508.8 599.5 507.6 599.8 506.8 600.2 503.8 600.5 506.0 600.9 507.1 601.2 504.4 601.6 509.0 601.9 510.1 602.3 505.6 602.6 506.6 603.0 506.6 603.3 504.7 603.7 507.4 604.0 506.8 604.4 505.6 604.7 504.9 605.1 504.1 605.4 506.2 605.8 506.0 606.1 512.0 606.5 504.1 606.8 510.4 607.2 507.2 607.5 501.7 607.9 508.1 608.2 511.0 608.6 504.1 608.9 509.1 609.3 508.3 609.6 508.5 610.0 506.6 610.3 506.7 610.7 508.8 611.0 506.2 611.4 510.8 611.7 507.5 612.1 510.5 612.4 507.7 612.8 510.9 613.1 510.5 613.5 506.4 613.8 512.3 614.2 512.5 614.5 508.8 614.9 510.8 615.2 511.3 615.6 510.7 615.9 505.8 616.3 512.8 616.6 511.2 617.0 510.3 617.3 512.8 617.7 510.9 618.0 509.8 618.4 513.0 618.7 508.6 619.1 513.6 619.4 511.5 619.8 510.5 620.1 504.3 620.5 515.2 620.8 510.8 621.2 506.0 621.5 512.9 621.9 509.3 622.2 511.3 622.6 515.0 622.9 511.0 623.3 513.9 623.6 511.8 624.0 515.4 624.3 510.6 624.7 517.5 625.0 512.7 625.4 509.5 625.7 511.3 626.1 513.3 626.4 513.1 626.8 513.6 627.1 506.7 627.5 512.9 627.8 512.9 628.2 514.6 628.5 514.1 628.9 511.7 629.2 514.5 629.6 515.0 629.9 514.5 630.3 514.1 630.6 512.9 631.0 514.4 631.3 513.8 631.7 515.0 632.0 510.6 632.4 513.2 632.7 514.1 633.1 512.8 633.4 513.5 633.8 516.9 634.1 513.8 634.5 509.8 634.8 512.3 635.2 510.9 635.5 514.9 635.9 516.7 636.2 515.0 636.6 510.5 636.9 515.7 637.3 515.2 637.6 511.1 638.0 514.1 638.3 514.0 638.7 512.7 639.0 513.4 639.4 514.2 639.7 513.0 640.1 515.1 640.4 513.7 640.8 512.1 641.1 515.9 641.5 514.1 641.8 516.1 642.2 512.0 642.5 512.3 642.9 511.6 643.2 511.4 643.6 511.4 643.9 512.1 644.3 515.4 644.6 511.6 645.0 515.7 645.3 508.6 645.7 513.1 646.0 512.4 646.4 516.4 646.7 511.4 647.1 511.2 647.4 517.2 647.8 515.0 648.1 514.8 648.5 515.2 648.8 510.8 649.2 509.0 649.5 516.2 649.9 511.5 650.2 514.4 650.6 510.8 650.9 519.2 651.3 514.8 651.6 511.2 652.0 515.5 652.3 511.3 652.7 515.0 653.0 511.4 653.4 512.6 653.7 514.8 654.1 515.6 654.4 514.3 654.8 511.4 655.1 514.0 655.5 515.4 655.8 506.7 656.2 517.5 656.5 514.5 656.9 512.8 657.2 516.3 657.6 514.0 657.9 515.0 658.3 517.3 658.6 513.0 659.0 516.6 659.3 515.7 659.7 511.4 660.0 516.5 660.4 512.8 660.7 511.5 661.1 511.9 661.4 513.1 661.8 514.6 662.1 517.2 662.5 513.8 662.8 513.2 663.2 515.3 663.5 516.4 663.9 512.3 664.2 516.5 664.6 513.2 664.9 515.3 665.3 517.9 665.6 510.7 666.0 512.9 666.3 513.1 666.7 517.4 667.0 514.6 667.4 513.7 667.7 515.9 668.1 510.7 668.4 518.8 668.8 512.8 669.1 518.5 669.5 517.8 669.8 517.2 670.2 513.1 670.5 516.0 670.9 515.9 671.2 516.4" stroke="#808080" stroke-width="2.6" fill="none" stroke-linejoin="round" clip-path="url(#c7)"/>
<path d="M386.8 528.65v3.8M386.8 426.75v-3.8M395.3 528.65v2.6M395.3 426.75v-2.6M403.8 528.65v2.6M403.8 426.75v-2.6M412.3 528.65v2.6M412.3 426.75v-2.6M420.8 528.65v2.6M420.8 426.75v-2.6M429.3 528.65v2.6M429.3 426.75v-2.6M437.8 528.65v2.6M437.8 426.75v-2.6M446.3 528.65v2.6M446.3 426.75v-2.6M454.8 528.65v2.6M454.8 426.75v-2.6M463.3 528.65v2.6M463.3 426.75v-2.6M471.8 528.65v3.8M471.8 426.75v-3.8M480.3 528.65v2.6M480.3 426.75v-2.6M488.8 528.65v2.6M488.8 426.75v-2.6M497.3 528.65v2.6M497.3 426.75v-2.6M505.8 528.65v2.6M505.8 426.75v-2.6M514.3 528.65v2.6M514.3 426.75v-2.6M522.8 528.65v2.6M522.8 426.75v-2.6M531.3 528.65v2.6M531.3 426.75v-2.6M539.8 528.65v2.6M539.8 426.75v-2.6M548.3 528.65v2.6M548.3 426.75v-2.6M556.8 528.65v3.8M556.8 426.75v-3.8M565.3 528.65v2.6M565.3 426.75v-2.6M573.8 528.65v2.6M573.8 426.75v-2.6M582.3 528.65v2.6M582.3 426.75v-2.6M590.8 528.65v2.6M590.8 426.75v-2.6M599.3 528.65v2.6M599.3 426.75v-2.6M607.8 528.65v2.6M607.8 426.75v-2.6M616.3 528.65v2.6M616.3 426.75v-2.6M624.8 528.65v2.6M624.8 426.75v-2.6M633.3 528.65v2.6M633.3 426.75v-2.6M641.8 528.65v3.8M641.8 426.75v-3.8M650.3 528.65v2.6M650.3 426.75v-2.6M658.8 528.65v2.6M658.8 426.75v-2.6M667.3 528.65v2.6M667.3 426.75v-2.6M386.05 527.4h-3.8M671.65 527.4h3.8M386.05 521.3h-2.6M671.65 521.3h2.6M386.05 515.2h-2.6M671.65 515.2h2.6M386.05 509.1h-2.6M671.65 509.1h2.6M386.05 503h-2.6M671.65 503h2.6M386.05 496.9h-3.8M671.65 496.9h3.8M386.05 490.8h-2.6M671.65 490.8h2.6M386.05 484.7h-2.6M671.65 484.7h2.6M386.05 478.6h-2.6M671.65 478.6h2.6M386.05 472.5h-2.6M671.65 472.5h2.6M386.05 466.4h-3.8M671.65 466.4h3.8M386.05 460.3h-2.6M671.65 460.3h2.6M386.05 454.2h-2.6M671.65 454.2h2.6M386.05 448.1h-2.6M671.65 448.1h2.6M386.05 442h-2.6M671.65 442h2.6M386.05 435.9h-3.8M671.65 435.9h3.8M386.05 429.8h-2.6M671.65 429.8h2.6" stroke="#000" stroke-width="2.3" fill="none"/>
<rect x="387.3" y="428" width="283.1" height="99.4" fill="none" stroke="#000" stroke-width="2.5"/>
<text x="384.4" y="543.6" font-size="10.3" letter-spacing="1.1" text-anchor="middle" fill="#1c1c1c">385.0</text>
<text x="468.4" y="543.6" font-size="10.3" letter-spacing="1.1" text-anchor="middle" fill="#1c1c1c">385.5</text>
<text x="552.2" y="543.6" font-size="10.3" letter-spacing="1.1" text-anchor="middle" fill="#1c1c1c">386.0</text>
<text x="635.4" y="543.6" font-size="10.3" letter-spacing="1.1" text-anchor="middle" fill="#1c1c1c">386.5</text>
<text x="380.8" y="532" font-size="10.3" letter-spacing="1.1" text-anchor="end" fill="#1c1c1c">0.0</text>
<text x="380.8" y="501.5" font-size="10.3" letter-spacing="1.1" text-anchor="end" fill="#1c1c1c">0.5</text>
<text x="380.8" y="471" font-size="10.3" letter-spacing="1.1" text-anchor="end" fill="#1c1c1c">1.0</text>
<text x="380.8" y="440.5" font-size="10.3" letter-spacing="1.1" text-anchor="end" fill="#1c1c1c">1.5</text>
<text x="495.4" y="555.8" font-size="13.1" fill="#111">mass</text>
<text x="529.6999999999999" y="555.8" font-size="13.5" letter-spacing="0.9" fill="#111">(m/z)</text>
<g transform="translate(354.5 477.7) rotate(-90)" font-size="13" fill="#111"><text x="-63.9" y="0" letter-spacing="1.25">Intensity</text><text x="1.7" y="0">(c/s)</text><text x="31.8" y="0">×</text><text x="42.4" y="0" letter-spacing="0.6">10</text><text x="57.4" y="-5.4" font-size="9">2</text></g>
<path d="M508.6 455.9V441H544.6" stroke="#000" stroke-width="1.3" fill="none"/>
<text x="511.5" y="453.4" text-anchor="start" letter-spacing="0.8" fill="#1a1a1a"><tspan dy="-0" font-size="12.8">Zr</tspan><tspan dy="3.1" font-size="8.6">3</tspan><tspan dy="-3.1" font-size="12.8">O</tspan><tspan dy="3.1" font-size="8.6">7</tspan><tspan dy="-3.1" font-size="12.8">H</tspan><tspan dy="3.1" font-size="8.6">4</tspan><tspan dy="-8.3" font-size="8.6">−</tspan></text>
<rect x="38.45" y="561.8" width="280.95" height="99.2" fill="#dfe9d6"/>
<path d="M37.5 659.4 38.0 659.0 38.5 659.1 39.0 658.7 39.5 658.7 40.0 659.9 40.5 658.9 41.0 657.8 41.5 658.8 42.0 658.5 42.5 658.9 43.0 658.9 43.5 658.6 44.0 659.3 44.5 658.6 45.0 659.5 45.5 658.3 46.0 659.5 46.5 658.1 47.0 657.9 47.5 659.5 48.0 658.1 48.5 658.8 49.0 657.8 49.5 658.9 50.0 658.7 50.5 658.7 51.0 657.8 51.5 659.7 52.0 658.1 52.5 658.5 53.0 658.9 53.5 658.7 54.0 658.0 54.5 658.1 55.0 657.6 55.5 659.0 56.0 659.7 56.5 658.9 57.0 658.7 57.5 658.9 58.0 657.9 58.5 657.2 59.0 658.4 59.5 659.7 60.0 658.0 60.5 659.0 61.0 658.6 61.5 658.1 62.0 658.4 62.5 658.7 63.0 658.4 63.5 658.2 64.0 658.2 64.5 657.4 65.0 660.4 65.5 659.1 66.0 659.0 66.5 658.1 67.0 658.5 67.5 658.1 68.0 659.5 68.5 658.8 69.0 658.3 69.5 658.7 70.0 658.9 70.5 658.5 71.0 657.7 71.5 659.9 72.0 657.7 72.5 658.5 73.0 659.2 73.5 658.3 74.0 658.6 74.5 657.9 75.0 659.1 75.5 658.1 76.0 659.2 76.5 658.5 77.0 658.3 77.5 658.7 78.0 658.3 78.5 659.0 79.0 658.0 79.5 659.0 80.0 659.1 80.5 658.7 81.0 658.7 81.5 659.2 82.0 658.2 82.5 658.7 83.0 658.3 83.5 659.6 84.0 659.5 84.5 658.8 85.0 659.3 85.5 658.7 86.0 658.3 86.5 658.0 87.0 657.8 87.5 658.2 88.0 659.1 88.5 658.3 89.0 658.9 89.5 658.2 90.0 659.2 90.5 657.7 91.0 658.2 91.5 658.6 92.0 659.2 92.5 658.1 93.0 658.5 93.5 658.0 94.0 658.4 94.5 658.2 95.0 657.4 95.5 656.8 96.0 658.3 96.5 657.5 97.0 657.0 97.5 657.2 98.0 657.2 98.5 655.6 99.0 657.3 99.5 656.5 100.0 657.0 100.5 656.7 101.0 658.1 101.5 656.2 102.0 656.8 102.5 657.3 103.0 655.7 103.5 656.9 104.0 657.0 104.5 657.1 105.0 655.9 105.5 656.4 106.0 656.6 106.5 657.2 107.0 657.0 107.5 656.4 108.0 656.8 108.5 658.2 109.0 657.7 109.5 657.3 110.0 656.1 110.5 658.4 111.0 659.4 111.5 657.8 112.0 658.7 112.5 659.3 113.0 658.2 113.5 658.7 114.0 659.2 114.5 659.4 115.0 658.8 115.5 658.6 116.0 659.8 116.5 658.1 117.0 659.5 117.5 657.9 118.0 658.5 118.5 658.9 119.0 658.6 119.5 659.1 120.0 658.8 120.5 657.8 121.0 659.1 121.5 658.3 122.0 659.3 122.5 658.8 123.0 658.2 123.5 659.5 124.0 658.6 124.5 660.1 125.0 659.5 125.5 659.0 126.0 658.3 126.5 658.4 127.0 659.4 127.5 658.9 128.0 658.7 128.4 659.7 128.9 658.6 129.4 658.0 129.9 658.1 130.4 659.2 130.9 659.1 131.4 659.4 131.9 659.1 132.4 659.0 132.9 658.4 133.4 658.8 133.9 659.4 134.4 658.3 134.9 658.3 135.4 659.2 135.9 659.0 136.4 658.9 136.9 659.8 137.4 658.7 137.9 658.4 138.4 657.7 138.9 658.7 139.4 659.0 139.9 658.9 140.4 658.5 140.9 658.4 141.4 659.3 141.9 658.7 142.4 658.4 142.9 660.0 143.4 658.0 143.9 659.0 144.4 658.3 144.9 658.9 145.4 659.0 145.9 658.9 146.4 658.7 146.9 658.3 147.4 659.0 147.9 659.5 148.4 659.3 148.9 659.4 149.4 658.4 149.9 659.4 150.4 657.9 150.9 658.8 151.4 658.9 151.9 658.1 152.4 659.1 152.9 659.0 153.4 658.4 153.9 658.4 154.4 659.4 154.9 657.4 155.4 658.5 155.9 659.6 156.4 659.0 156.9 658.3 157.4 658.7 157.9 658.3 158.4 657.4 158.9 658.3 159.4 657.6 159.9 658.4 160.4 659.2 160.9 657.9 161.4 659.3 161.9 658.3 162.4 658.5 162.9 659.4 163.4 659.3 163.9 659.0 164.4 658.6 164.9 658.0 165.4 658.8 165.9 657.7 166.4 658.3 166.9 659.2 167.4 659.2 167.9 658.8 168.4 659.2 168.9 658.9 169.4 658.4 169.9 658.7 170.4 658.3 170.9 659.3 171.4 659.4 171.9 659.7 172.4 659.9 172.9 659.1 173.4 658.8 173.9 659.0 174.4 658.8 174.9 657.6 175.4 659.5 175.9 659.0 176.4 659.1 176.9 659.4 177.4 658.0 177.9 658.9 178.4 658.1 178.9 659.5 179.4 657.7 179.9 657.5 180.4 659.4 180.9 658.8 181.4 658.9 181.9 658.5 182.4 659.6 182.9 658.6 183.4 658.4 183.9 659.2 184.4 660.2 184.9 659.2 185.4 659.1 185.9 658.4 186.4 659.2 186.9 659.5 187.4 658.5 187.9 658.6 188.4 658.4 188.9 658.8 189.4 658.2 189.9 658.5 190.4 659.9 190.9 658.7 191.4 658.4 191.9 658.8 192.4 658.0 192.9 659.1 193.4 658.4 193.9 659.6 194.4 658.8 194.9 659.2 195.4 659.4 195.9 659.6 196.4 658.7 196.9 658.6 197.4 659.2 197.9 659.6 198.4 659.4 198.9 658.4 199.4 659.6 199.9 658.2 200.4 659.8 200.9 658.7 201.4 658.4 201.9 658.1 202.4 659.1 202.9 659.3 203.4 659.7 203.9 658.3 204.4 658.9 204.9 659.1 205.4 659.1 205.9 658.7 206.4 658.8 206.9 658.1 207.4 660.1 207.9 658.3 208.4 659.2 208.9 658.9 209.4 659.0 209.9 658.9 210.4 658.4 210.9 658.7 211.4 659.7 211.9 658.9 212.4 658.9 212.9 658.6 213.4 658.8 213.9 658.9 214.4 658.2 214.9 659.5 215.4 657.5 215.9 659.2 216.4 659.5 216.9 658.4 217.4 658.2 217.9 658.1 218.4 658.0 218.9 658.6 219.4 658.8 219.9 658.6 220.4 658.9 220.9 659.2 221.4 657.9 221.9 657.8 222.4 658.9 222.9 659.0 223.4 659.2 223.9 659.9 224.4 659.3 224.9 659.2 225.4 658.9 225.9 659.5 226.4 660.0 226.9 658.5 227.4 657.8 227.9 660.1 228.4 658.9 228.9 658.3 229.4 659.6 229.9 659.7 230.4 658.8 230.9 659.0 231.4 659.2 231.9 657.9 232.4 658.0 232.9 658.5 233.4 658.9 233.9 659.1 234.4 658.3 234.9 659.0 235.4 658.0 235.9 658.1 236.4 659.2 236.9 658.4 237.4 657.9 237.9 658.5 238.4 659.4 238.9 659.0 239.4 659.1 239.9 658.8 240.4 658.8 240.9 659.1 241.4 658.3 241.9 658.0 242.4 659.2 242.9 659.7 243.4 658.6 243.9 658.8 244.4 658.6 244.9 659.3 245.4 658.7 245.9 659.4 246.4 658.2 246.9 657.8 247.4 659.4 247.9 660.4 248.4 659.1 248.9 659.1 249.4 658.7 249.9 658.8 250.4 658.5 250.9 657.2 251.4 659.2 251.9 659.0 252.4 658.6 252.9 659.9 253.4 658.3 253.9 659.2 254.4 659.7 254.9 659.3 255.4 658.5 255.9 658.3 256.4 658.0 256.9 658.5 257.4 659.2 257.9 658.4 258.4 658.6 258.9 656.9 259.4 659.0 259.9 656.1 260.4 656.3 260.9 656.9 261.4 657.9 261.9 658.7 262.4 659.2 262.9 659.6 263.4 657.5 263.9 658.1 264.4 658.3 264.9 658.4 265.4 659.8 265.9 658.7 266.4 658.4 266.9 657.7 267.4 658.9 267.9 658.0 268.4 658.2 268.9 657.8 269.4 658.1 269.9 657.2 270.4 657.2 270.9 658.1 271.4 656.1 271.9 655.4 272.4 657.2 272.9 656.0 273.4 657.3 273.9 657.2 274.4 656.0 274.9 657.1 275.4 656.5 275.9 657.5 276.4 657.2 276.9 658.1 277.4 657.3 277.9 657.2 278.4 658.0 278.9 658.8 279.4 658.8 279.9 659.2 280.4 658.3 280.9 658.4 281.4 659.1 281.9 658.2 282.4 659.1 282.9 657.7 283.4 658.3 283.9 657.8 284.4 659.2 284.9 659.4 285.4 659.9 285.9 658.4 286.4 659.5 286.9 658.0 287.4 658.7 287.9 658.3 288.4 659.6 288.9 659.1 289.4 658.7 289.9 658.3 290.4 659.6 290.9 658.6 291.4 659.3 291.9 658.3 292.4 658.9 292.9 659.0 293.4 658.5 293.9 658.1 294.4 658.9 294.9 658.0 295.4 659.3 295.9 658.4 296.4 659.2 296.9 658.3 297.4 658.8 297.9 658.1 298.4 657.6 298.9 658.4 299.4 658.7 299.9 657.7 300.4 657.4 300.9 657.6 301.4 658.4 301.9 657.6 302.4 658.4 302.9 657.9 303.4 659.0 303.9 658.3 304.4 658.0 304.9 659.1 305.4 658.9 305.9 658.4 306.4 658.5 306.9 658.6 307.4 658.9 307.9 659.8 308.4 658.8 308.9 659.6 309.4 658.8 309.9 660.2 310.4 658.0 310.9 657.7 311.4 658.6 311.9 659.3 312.4 659.0 312.9 658.3 313.4 658.5 313.9 659.3 314.4 658.1 314.9 658.4 315.4 658.5 315.9 659.1 316.4 658.9 316.9 659.3 317.4 658.7 317.9 659.3 318.4 658.2 318.9 658.8 319.4 658.7 319.9 658.7" stroke="#ff0000" stroke-width="2.0" fill="none" stroke-linejoin="round" clip-path="url(#c8)"/>
<path d="M37.5 657.2 38.0 658.1 38.5 656.7 39.0 657.3 39.5 657.6 40.0 657.8 40.5 657.7 41.0 657.7 41.5 657.4 42.0 657.8 42.5 657.3 43.0 657.3 43.5 657.7 44.0 656.3 44.5 657.4 45.0 657.2 45.5 657.3 46.0 657.5 46.5 657.1 47.0 656.7 47.5 657.4 48.0 657.8 48.5 657.1 49.0 658.5 49.5 657.3 50.0 657.5 50.5 657.3 51.0 658.2 51.5 657.6 52.0 657.9 52.5 657.7 53.0 657.1 53.5 657.5 54.0 657.7 54.5 656.9 55.0 657.4 55.5 658.4 56.0 658.0 56.5 657.2 57.0 657.2 57.5 657.3 58.0 657.3 58.5 657.9 59.0 657.5 59.5 658.1 60.0 657.9 60.5 657.9 61.0 657.9 61.5 657.6 62.0 657.6 62.5 657.9 63.0 656.9 63.5 657.7 64.0 656.7 64.5 657.0 65.0 658.1 65.5 657.1 66.0 658.2 66.5 656.8 67.0 657.3 67.5 658.0 68.0 658.6 68.5 657.7 69.0 658.2 69.5 657.0 70.0 658.1 70.5 657.6 71.0 657.3 71.5 657.5 72.0 657.4 72.5 657.6 73.0 657.1 73.5 658.0 74.0 657.2 74.5 658.1 75.0 657.4 75.5 658.0 76.0 657.6 76.5 657.2 77.0 656.9 77.5 658.4 78.0 657.8 78.5 657.9 79.0 656.9 79.5 657.9 80.0 657.1 80.5 657.7 81.0 658.1 81.5 657.4 82.0 658.0 82.5 657.0 83.0 657.0 83.5 656.7 84.0 657.8 84.5 656.6 85.0 656.8 85.5 658.2 86.0 656.2 86.5 656.4 87.0 657.7 87.5 657.0 88.0 657.8 88.5 657.2 89.0 657.0 89.5 656.7 90.0 657.4 90.5 656.9 91.0 657.3 91.5 656.6 92.0 656.4 92.5 656.6 93.0 655.9 93.5 656.0 94.0 655.9 94.5 655.3 95.0 656.1 95.5 655.0 96.0 655.2 96.5 653.3 97.0 652.3 97.5 649.9 98.0 648.4 98.5 645.7 99.0 642.2 99.5 638.4 100.0 633.8 100.5 630.0 101.0 625.7 101.5 621.5 102.0 616.6 102.5 615.4 103.0 614.1 103.5 614.8 104.0 615.1 104.5 617.9 105.0 619.8 105.5 623.9 106.0 626.8 106.5 630.1 107.0 633.5 107.5 637.9 108.0 640.6 108.5 643.2 109.0 646.5 109.5 647.4 110.0 649.4 110.5 650.8 111.0 653.0 111.5 653.2 112.0 653.9 112.5 654.2 113.0 655.5 113.5 655.2 114.0 654.9 114.5 656.3 115.0 656.5 115.5 656.6 116.0 657.3 116.5 656.9 117.0 656.0 117.5 657.3 118.0 657.0 118.5 656.4 119.0 656.7 119.5 657.0 120.0 657.3 120.5 657.2 121.0 657.2 121.5 656.9 122.0 657.2 122.5 656.9 123.0 658.3 123.5 657.0 124.0 657.7 124.5 657.4 125.0 657.7 125.5 657.2 126.0 657.6 126.5 657.2 127.0 657.9 127.5 657.5 128.0 657.0 128.4 657.0 128.9 657.8 129.4 657.5 129.9 657.8 130.4 657.7 130.9 657.6 131.4 657.1 131.9 657.4 132.4 657.0 132.9 656.9 133.4 658.3 133.9 657.6 134.4 657.9 134.9 658.5 135.4 658.3 135.9 658.0 136.4 656.9 136.9 657.7 137.4 657.9 137.9 657.8 138.4 658.2 138.9 657.7 139.4 657.8 139.9 658.6 140.4 658.1 140.9 656.2 141.4 657.5 141.9 657.9 142.4 657.5 142.9 658.3 143.4 657.8 143.9 657.4 144.4 658.6 144.9 658.2 145.4 658.1 145.9 658.0 146.4 658.1 146.9 657.7 147.4 657.4 147.9 657.7 148.4 657.4 148.9 657.4 149.4 658.2 149.9 657.8 150.4 658.1 150.9 657.6 151.4 658.1 151.9 658.0 152.4 657.1 152.9 658.0 153.4 658.7 153.9 657.9 154.4 657.8 154.9 658.2 155.4 657.9 155.9 657.4 156.4 658.2 156.9 658.0 157.4 658.3 157.9 657.8 158.4 658.0 158.9 658.4 159.4 658.0 159.9 657.1 160.4 658.8 160.9 658.6 161.4 657.8 161.9 658.6 162.4 657.0 162.9 658.7 163.4 658.6 163.9 658.2 164.4 657.4 164.9 657.6 165.4 657.7 165.9 657.8 166.4 657.3 166.9 658.9 167.4 657.8 167.9 657.3 168.4 658.5 168.9 657.8 169.4 657.4 169.9 657.4 170.4 658.1 170.9 657.1 171.4 657.8 171.9 657.5 172.4 658.5 172.9 658.4 173.4 658.4 173.9 657.1 174.4 659.1 174.9 658.9 175.4 657.6 175.9 657.9 176.4 659.5 176.9 658.2 177.4 658.2 177.9 657.4 178.4 659.0 178.9 658.3 179.4 657.5 179.9 657.7 180.4 658.5 180.9 658.2 181.4 658.8 181.9 657.4 182.4 658.2 182.9 657.4 183.4 657.7 183.9 658.5 184.4 658.1 184.9 657.7 185.4 657.8 185.9 657.3 186.4 657.5 186.9 657.9 187.4 657.7 187.9 658.4 188.4 658.3 188.9 657.8 189.4 657.9 189.9 658.6 190.4 658.1 190.9 658.5 191.4 658.3 191.9 657.4 192.4 658.5 192.9 658.4 193.4 657.8 193.9 658.0 194.4 658.0 194.9 658.8 195.4 658.1 195.9 658.3 196.4 658.5 196.9 658.4 197.4 658.2 197.9 657.7 198.4 657.2 198.9 658.0 199.4 657.4 199.9 658.0 200.4 658.8 200.9 658.1 201.4 657.5 201.9 657.4 202.4 658.5 202.9 657.0 203.4 658.5 203.9 658.5 204.4 658.4 204.9 657.4 205.4 657.9 205.9 657.7 206.4 659.2 206.9 658.1 207.4 658.2 207.9 657.8 208.4 658.3 208.9 657.5 209.4 658.4 209.9 658.8 210.4 658.9 210.9 657.5 211.4 657.7 211.9 658.5 212.4 657.6 212.9 658.2 213.4 658.2 213.9 658.8 214.4 658.4 214.9 658.1 215.4 658.0 215.9 658.4 216.4 657.6 216.9 657.4 217.4 658.5 217.9 657.9 218.4 658.9 218.9 657.9 219.4 658.6 219.9 658.2 220.4 658.1 220.9 658.3 221.4 657.6 221.9 658.5 222.4 658.4 222.9 658.0 223.4 658.2 223.9 658.0 224.4 658.2 224.9 658.5 225.4 657.8 225.9 658.1 226.4 657.7 226.9 657.5 227.4 658.3 227.9 658.5 228.4 658.4 228.9 658.5 229.4 659.1 229.9 657.4 230.4 658.0 230.9 657.0 231.4 658.4 231.9 657.9 232.4 658.0 232.9 658.2 233.4 657.7 233.9 658.2 234.4 658.2 234.9 658.1 235.4 659.2 235.9 658.5 236.4 658.5 236.9 657.4 237.4 657.9 237.9 657.8 238.4 657.9 238.9 658.3 239.4 657.4 239.9 658.3 240.4 658.9 240.9 657.9 241.4 657.6 241.9 658.1 242.4 658.0 242.9 657.7 243.4 657.4 243.9 657.9 244.4 657.4 244.9 658.0 245.4 657.2 245.9 658.8 246.4 657.7 246.9 658.0 247.4 658.1 247.9 658.8 248.4 657.7 248.9 658.3 249.4 658.7 249.9 658.5 250.4 658.3 250.9 658.1 251.4 658.6 251.9 658.6 252.4 658.0 252.9 658.2 253.4 657.2 253.9 658.4 254.4 657.8 254.9 657.3 255.4 658.2 255.9 657.7 256.4 658.0 256.9 658.1 257.4 657.4 257.9 658.6 258.4 658.4 258.9 659.0 259.4 658.2 259.9 657.6 260.4 658.2 260.9 657.7 261.4 658.4 261.9 657.5 262.4 658.1 262.9 658.2 263.4 657.2 263.9 657.9 264.4 657.6 264.9 657.8 265.4 657.4 265.9 657.5 266.4 658.0 266.9 657.0 267.4 656.4 267.9 655.8 268.4 655.2 268.9 653.0 269.4 652.8 269.9 650.8 270.4 649.1 270.9 648.1 271.4 647.0 271.9 645.5 272.4 645.6 272.9 646.4 273.4 648.1 273.9 648.6 274.4 649.6 274.9 650.7 275.4 651.7 275.9 653.2 276.4 654.0 276.9 654.5 277.4 657.1 277.9 656.0 278.4 657.1 278.9 657.0 279.4 657.3 279.9 658.1 280.4 658.2 280.9 657.6 281.4 658.0 281.9 657.6 282.4 658.2 282.9 657.0 283.4 658.2 283.9 657.1 284.4 658.4 284.9 657.8 285.4 657.6 285.9 658.8 286.4 658.6 286.9 658.0 287.4 657.6 287.9 657.5 288.4 657.9 288.9 657.7 289.4 658.8 289.9 658.4 290.4 657.5 290.9 658.5 291.4 658.3 291.9 659.1 292.4 658.3 292.9 659.0 293.4 658.1 293.9 657.6 294.4 658.1 294.9 658.2 295.4 658.5 295.9 658.0 296.4 658.8 296.9 658.5 297.4 657.3 297.9 658.9 298.4 658.6 298.9 659.0 299.4 657.7 299.9 658.4 300.4 658.9 300.9 658.9 301.4 657.8 301.9 658.0 302.4 657.9 302.9 658.4 303.4 657.9 303.9 657.7 304.4 658.0 304.9 659.1 305.4 659.3 305.9 659.0 306.4 658.2 306.9 659.1 307.4 658.9 307.9 658.3 308.4 658.8 308.9 659.0 309.4 657.9 309.9 658.1 310.4 658.0 310.9 657.9 311.4 657.7 311.9 658.4 312.4 658.5 312.9 659.2 313.4 658.5 313.9 658.7 314.4 657.9 314.9 658.1 315.4 657.7 315.9 657.9 316.4 657.8 316.9 658.2 317.4 658.3 317.9 658.6 318.4 658.4 318.9 658.9 319.4 658.2 319.9 658.5" stroke="#1e8fff" stroke-width="2.0" fill="none" stroke-linejoin="round" clip-path="url(#c8)"/>
<path d="M37.5 652.2 38.0 652.7 38.5 651.4 39.0 651.2 39.5 651.2 40.0 650.1 40.5 651.4 41.0 651.9 41.5 650.8 42.0 650.4 42.5 650.0 43.0 651.9 43.5 651.4 44.0 651.5 44.5 650.3 45.0 650.8 45.5 651.3 46.0 650.9 46.5 651.7 47.0 651.6 47.5 651.5 48.0 651.8 48.5 651.7 49.0 651.3 49.5 651.4 50.0 650.6 50.5 651.1 51.0 651.8 51.5 653.2 52.0 652.8 52.5 652.1 53.0 652.1 53.5 652.7 54.0 652.1 54.5 651.9 55.0 652.4 55.5 652.1 56.0 652.1 56.5 652.5 57.0 652.7 57.5 652.2 58.0 652.0 58.5 652.9 59.0 653.6 59.5 652.9 60.0 651.9 60.5 653.4 61.0 651.7 61.5 652.7 62.0 652.2 62.5 652.8 63.0 652.0 63.5 652.3 64.0 652.1 64.5 653.7 65.0 651.9 65.5 653.5 66.0 652.6 66.5 652.1 67.0 652.6 67.5 652.1 68.0 652.3 68.5 652.4 69.0 653.0 69.5 651.8 70.0 651.7 70.5 652.8 71.0 653.1 71.5 652.4 72.0 653.0 72.5 652.4 73.0 652.0 73.5 652.1 74.0 651.5 74.5 652.2 75.0 653.2 75.5 653.1 76.0 652.2 76.5 651.3 77.0 652.8 77.5 653.1 78.0 651.6 78.5 652.6 79.0 652.0 79.5 651.8 80.0 653.1 80.5 652.7 81.0 652.8 81.5 652.1 82.0 652.0 82.5 652.7 83.0 652.0 83.5 653.5 84.0 652.1 84.5 652.1 85.0 652.3 85.5 653.2 86.0 652.2 86.5 652.8 87.0 651.1 87.5 652.2 88.0 652.1 88.5 651.9 89.0 651.4 89.5 651.6 90.0 651.2 90.5 652.0 91.0 650.5 91.5 651.3 92.0 650.2 92.5 650.3 93.0 649.3 93.5 649.5 94.0 649.7 94.5 648.6 95.0 646.9 95.5 644.3 96.0 643.7 96.5 641.1 97.0 637.6 97.5 635.5 98.0 631.1 98.5 626.9 99.0 622.7 99.5 617.0 100.0 611.2 100.5 605.9 101.0 601.7 101.5 595.0 102.0 593.1 102.5 591.1 103.0 590.4 103.5 591.0 104.0 591.1 104.5 595.7 105.0 596.8 105.5 601.0 106.0 604.0 106.5 607.9 107.0 612.9 107.5 616.8 108.0 619.4 108.5 624.4 109.0 627.7 109.5 631.3 110.0 633.6 110.5 636.1 111.0 638.7 111.5 641.1 112.0 642.9 112.5 645.7 113.0 645.4 113.5 647.7 114.0 648.9 114.5 649.4 115.0 650.3 115.5 650.0 116.0 650.3 116.5 650.3 117.0 651.5 117.5 652.1 118.0 652.1 118.5 652.9 119.0 652.8 119.5 651.2 120.0 653.1 120.5 653.1 121.0 652.5 121.5 652.8 122.0 652.6 122.5 653.8 123.0 654.0 123.5 652.5 124.0 653.9 124.5 653.6 125.0 653.4 125.5 654.9 126.0 653.8 126.5 654.2 127.0 653.5 127.5 654.1 128.0 655.4 128.4 653.5 128.9 655.7 129.4 654.4 129.9 654.6 130.4 654.6 130.9 654.2 131.4 653.6 131.9 654.9 132.4 654.7 132.9 653.8 133.4 654.0 133.9 653.9 134.4 654.2 134.9 654.6 135.4 654.8 135.9 654.8 136.4 653.9 136.9 653.5 137.4 653.2 137.9 655.2 138.4 654.7 138.9 654.6 139.4 654.7 139.9 655.3 140.4 653.2 140.9 653.6 141.4 654.7 141.9 655.0 142.4 654.7 142.9 655.5 143.4 654.9 143.9 654.2 144.4 653.6 144.9 654.1 145.4 653.9 145.9 655.4 146.4 656.9 146.9 653.9 147.4 654.7 147.9 654.8 148.4 653.7 148.9 655.4 149.4 655.5 149.9 655.3 150.4 653.8 150.9 654.2 151.4 656.0 151.9 653.8 152.4 654.9 152.9 654.6 153.4 655.4 153.9 653.7 154.4 654.6 154.9 654.0 155.4 655.6 155.9 654.5 156.4 654.9 156.9 655.1 157.4 655.5 157.9 655.4 158.4 655.7 158.9 655.4 159.4 655.0 159.9 654.6 160.4 656.0 160.9 655.7 161.4 655.4 161.9 656.1 162.4 655.2 162.9 655.2 163.4 655.2 163.9 654.8 164.4 654.4 164.9 654.5 165.4 654.9 165.9 654.7 166.4 655.6 166.9 655.7 167.4 654.6 167.9 654.7 168.4 653.6 168.9 655.2 169.4 655.7 169.9 654.9 170.4 655.4 170.9 655.7 171.4 654.2 171.9 653.8 172.4 654.9 172.9 655.6 173.4 655.0 173.9 655.2 174.4 656.1 174.9 654.6 175.4 654.9 175.9 654.3 176.4 655.5 176.9 655.2 177.4 655.2 177.9 656.3 178.4 653.5 178.9 656.6 179.4 655.9 179.9 655.4 180.4 656.2 180.9 654.9 181.4 655.5 181.9 655.1 182.4 655.0 182.9 655.1 183.4 655.1 183.9 655.3 184.4 654.9 184.9 654.6 185.4 655.4 185.9 655.5 186.4 655.4 186.9 655.0 187.4 655.4 187.9 655.4 188.4 656.2 188.9 653.9 189.4 656.0 189.9 654.0 190.4 654.6 190.9 654.4 191.4 654.9 191.9 654.8 192.4 654.9 192.9 654.7 193.4 654.5 193.9 654.0 194.4 655.7 194.9 654.7 195.4 653.9 195.9 654.0 196.4 655.6 196.9 654.7 197.4 654.6 197.9 654.6 198.4 656.3 198.9 654.1 199.4 655.8 199.9 653.2 200.4 654.1 200.9 654.6 201.4 654.1 201.9 654.3 202.4 654.7 202.9 654.4 203.4 654.0 203.9 654.8 204.4 653.7 204.9 653.4 205.4 653.4 205.9 653.2 206.4 653.1 206.9 653.5 207.4 653.1 207.9 653.9 208.4 653.6 208.9 652.9 209.4 652.6 209.9 654.1 210.4 654.8 210.9 652.4 211.4 653.1 211.9 652.7 212.4 653.3 212.9 653.8 213.4 654.4 213.9 654.7 214.4 653.1 214.9 653.4 215.4 653.9 215.9 655.0 216.4 654.6 216.9 654.7 217.4 654.6 217.9 656.4 218.4 654.3 218.9 653.4 219.4 654.9 219.9 654.6 220.4 654.5 220.9 655.4 221.4 654.4 221.9 655.3 222.4 655.1 222.9 654.7 223.4 654.9 223.9 654.9 224.4 655.6 224.9 654.5 225.4 655.8 225.9 654.5 226.4 655.4 226.9 655.9 227.4 655.2 227.9 655.9 228.4 655.5 228.9 655.3 229.4 654.6 229.9 654.7 230.4 654.9 230.9 655.4 231.4 656.3 231.9 655.4 232.4 655.5 232.9 655.3 233.4 655.6 233.9 655.6 234.4 654.7 234.9 656.2 235.4 655.3 235.9 654.4 236.4 655.8 236.9 655.9 237.4 655.4 237.9 655.5 238.4 655.1 238.9 654.4 239.4 655.4 239.9 654.9 240.4 655.7 240.9 655.6 241.4 655.1 241.9 655.8 242.4 654.5 242.9 655.6 243.4 655.4 243.9 656.0 244.4 655.6 244.9 656.0 245.4 655.7 245.9 656.5 246.4 655.3 246.9 654.1 247.4 656.6 247.9 654.1 248.4 655.4 248.9 654.7 249.4 656.0 249.9 654.0 250.4 656.1 250.9 655.4 251.4 654.3 251.9 656.2 252.4 656.9 252.9 655.4 253.4 655.9 253.9 656.0 254.4 655.9 254.9 656.3 255.4 654.3 255.9 654.5 256.4 656.2 256.9 655.3 257.4 655.6 257.9 654.5 258.4 655.8 258.9 654.1 259.4 655.2 259.9 655.7 260.4 655.2 260.9 655.5 261.4 653.5 261.9 654.9 262.4 655.2 262.9 654.7 263.4 653.6 263.9 655.1 264.4 655.4 264.9 652.9 265.4 653.0 265.9 653.1 266.4 652.0 266.9 650.2 267.4 651.6 267.9 647.3 268.4 646.6 268.9 644.0 269.4 642.4 269.9 638.0 270.4 638.4 270.9 635.2 271.4 636.1 271.9 633.2 272.4 632.3 272.9 634.0 273.4 634.8 273.9 634.1 274.4 634.4 274.9 635.5 275.4 638.1 275.9 638.9 276.4 641.6 276.9 640.9 277.4 643.9 277.9 644.0 278.4 646.4 278.9 647.7 279.4 647.5 279.9 650.2 280.4 649.6 280.9 651.6 281.4 652.6 281.9 653.2 282.4 652.3 282.9 653.6 283.4 654.1 283.9 655.2 284.4 653.6 284.9 653.9 285.4 654.5 285.9 654.4 286.4 657.3 286.9 655.5 287.4 655.1 287.9 655.2 288.4 655.7 288.9 655.2 289.4 655.9 289.9 655.9 290.4 656.4 290.9 655.4 291.4 656.1 291.9 655.9 292.4 654.6 292.9 655.7 293.4 655.7 293.9 656.8 294.4 656.1 294.9 655.1 295.4 655.4 295.9 655.7 296.4 655.9 296.9 655.8 297.4 655.6 297.9 656.1 298.4 657.6 298.9 654.5 299.4 655.1 299.9 656.0 300.4 654.9 300.9 656.9 301.4 655.1 301.9 655.8 302.4 655.4 302.9 656.2 303.4 655.9 303.9 655.6 304.4 655.3 304.9 655.7 305.4 655.7 305.9 656.5 306.4 654.9 306.9 655.9 307.4 656.3 307.9 656.3 308.4 657.0 308.9 656.6 309.4 657.2 309.9 656.0 310.4 656.2 310.9 656.0 311.4 657.1 311.9 656.5 312.4 656.6 312.9 655.5 313.4 657.3 313.9 657.3 314.4 655.3 314.9 656.0 315.4 657.3 315.9 655.3 316.4 655.2 316.9 655.5 317.4 657.7 317.9 656.2 318.4 656.9 318.9 656.5 319.4 657.4 319.9 655.1" stroke="#808080" stroke-width="2.6" fill="none" stroke-linejoin="round" clip-path="url(#c8)"/>
<path d="M41.92 662.25v2.6M41.92 560.55v-2.6M50.2 662.25v2.6M50.2 560.55v-2.6M58.47 662.25v2.6M58.47 560.55v-2.6M66.75 662.25v3.8M66.75 560.55v-3.8M75.02 662.25v2.6M75.02 560.55v-2.6M83.3 662.25v2.6M83.3 560.55v-2.6M91.57 662.25v2.6M91.57 560.55v-2.6M99.85 662.25v2.6M99.85 560.55v-2.6M108.12 662.25v2.6M108.12 560.55v-2.6M116.4 662.25v2.6M116.4 560.55v-2.6M124.67 662.25v2.6M124.67 560.55v-2.6M132.95 662.25v2.6M132.95 560.55v-2.6M141.22 662.25v2.6M141.22 560.55v-2.6M149.5 662.25v3.8M149.5 560.55v-3.8M157.77 662.25v2.6M157.77 560.55v-2.6M166.05 662.25v2.6M166.05 560.55v-2.6M174.32 662.25v2.6M174.32 560.55v-2.6M182.6 662.25v2.6M182.6 560.55v-2.6M190.88 662.25v2.6M190.88 560.55v-2.6M199.15 662.25v2.6M199.15 560.55v-2.6M207.43 662.25v2.6M207.43 560.55v-2.6M215.7 662.25v2.6M215.7 560.55v-2.6M223.97 662.25v2.6M223.97 560.55v-2.6M232.25 662.25v3.8M232.25 560.55v-3.8M240.52 662.25v2.6M240.52 560.55v-2.6M248.8 662.25v2.6M248.8 560.55v-2.6M257.07 662.25v2.6M257.07 560.55v-2.6M265.35 662.25v2.6M265.35 560.55v-2.6M273.62 662.25v2.6M273.62 560.55v-2.6M281.9 662.25v2.6M281.9 560.55v-2.6M290.18 662.25v2.6M290.18 560.55v-2.6M298.45 662.25v2.6M298.45 560.55v-2.6M306.73 662.25v2.6M306.73 560.55v-2.6M315 662.25v3.8M315 560.55v-3.8M37.2 661h-3.8M320.65 661h3.8M37.2 654.94h-2.6M320.65 654.94h2.6M37.2 648.88h-2.6M320.65 648.88h2.6M37.2 642.82h-2.6M320.65 642.82h2.6M37.2 636.76h-2.6M320.65 636.76h2.6M37.2 630.7h-3.8M320.65 630.7h3.8M37.2 624.64h-2.6M320.65 624.64h2.6M37.2 618.58h-2.6M320.65 618.58h2.6M37.2 612.52h-2.6M320.65 612.52h2.6M37.2 606.46h-2.6M320.65 606.46h2.6M37.2 600.4h-3.8M320.65 600.4h3.8M37.2 594.34h-2.6M320.65 594.34h2.6M37.2 588.28h-2.6M320.65 588.28h2.6M37.2 582.22h-2.6M320.65 582.22h2.6M37.2 576.16h-2.6M320.65 576.16h2.6M37.2 570.1h-3.8M320.65 570.1h3.8M37.2 564.04h-2.6M320.65 564.04h2.6" stroke="#000" stroke-width="2.3" fill="none"/>
<rect x="38.45" y="561.8" width="280.95" height="99.2" fill="none" stroke="#000" stroke-width="2.5"/>
<text x="64" y="677.2" font-size="10.3" letter-spacing="1.1" text-anchor="middle" fill="#1c1c1c">388.5</text>
<text x="147.7" y="677.2" font-size="10.3" letter-spacing="1.1" text-anchor="middle" fill="#1c1c1c">389.0</text>
<text x="230.7" y="677.2" font-size="10.3" letter-spacing="1.1" text-anchor="middle" fill="#1c1c1c">389.5</text>
<text x="314.4" y="677.2" font-size="10.3" letter-spacing="1.1" text-anchor="middle" fill="#1c1c1c">390.0</text>
<text x="31.95" y="665.6" font-size="10.3" letter-spacing="1.1" text-anchor="end" fill="#1c1c1c">0</text>
<text x="31.95" y="635.3" font-size="10.3" letter-spacing="1.1" text-anchor="end" fill="#1c1c1c">1</text>
<text x="31.95" y="605" font-size="10.3" letter-spacing="1.1" text-anchor="end" fill="#1c1c1c">2</text>
<text x="31.95" y="574.7" font-size="10.3" letter-spacing="1.1" text-anchor="end" fill="#1c1c1c">3</text>
<text x="147" y="689.4" font-size="13.1" fill="#111">mass</text>
<text x="181.3" y="689.4" font-size="13.5" letter-spacing="0.9" fill="#111">(m/z)</text>
<g transform="translate(14.0 611.4) rotate(-90)" font-size="13" fill="#111"><text x="-63.9" y="0" letter-spacing="1.25">Intensity</text><text x="1.7" y="0">(c/s)</text><text x="31.8" y="0">×</text><text x="42.4" y="0" letter-spacing="0.6">10</text><text x="57.4" y="-5.4" font-size="9">2</text></g>
<path d="M101.9 591V574H129" stroke="#000" stroke-width="1.3" fill="none"/>
<text x="105" y="589.1" text-anchor="start" letter-spacing="0.8" fill="#1a1a1a"><tspan dy="-0" font-size="12.8">Zr</tspan><tspan dy="3.1" font-size="8.6">3</tspan><tspan dy="-3.1" font-size="12.8">O</tspan><tspan dy="3.1" font-size="8.6">7</tspan><tspan dy="-3.1" font-size="12.8">H</tspan><tspan dy="3.1" font-size="8.6">7</tspan><tspan dy="-8.3" font-size="8.6">−</tspan></text>
<rect x="387.3" y="561.8" width="283.6" height="99.2" fill="#ffd5d6"/>
<path d="M386.3 648.4 386.7 643.6 387.1 640.9 387.5 641.9 387.9 642.9 388.3 646.9 388.7 643.9 389.1 646.1 389.5 656.3 389.9 640.0 390.3 648.1 390.7 647.6 391.1 647.0 391.5 651.9 391.9 651.0 392.3 654.0 392.7 642.6 393.1 639.1 393.5 644.6 393.9 650.7 394.3 638.4 394.7 646.6 395.1 652.9 395.5 654.4 395.9 644.1 396.3 637.7 396.7 646.9 397.1 648.1 397.5 646.3 397.9 649.2 398.3 647.7 398.7 643.7 399.1 648.6 399.5 640.3 399.9 649.9 400.3 641.4 400.7 643.2 401.1 646.9 401.5 646.5 401.9 646.6 402.3 636.6 402.7 649.0 403.1 639.0 403.5 639.9 403.9 646.7 404.3 636.9 404.7 656.9 405.1 643.8 405.5 644.3 405.9 644.9 406.3 640.8 406.7 647.0 407.1 645.9 407.5 639.2 407.9 645.6 408.3 650.2 408.7 642.1 409.1 645.4 409.5 647.8 409.9 642.2 410.3 648.8 410.7 649.9 411.1 646.3 411.5 645.9 411.9 644.7 412.3 651.0 412.7 636.4 413.1 641.6 413.5 644.3 413.9 643.8 414.3 657.5 414.7 640.4 415.1 650.1 415.5 642.5 415.9 651.0 416.3 640.1 416.7 647.7 417.1 646.0 417.5 637.3 417.9 640.0 418.3 651.9 418.7 648.5 419.1 644.0 419.5 646.2 419.9 640.9 420.3 648.4 420.7 654.4 421.1 649.5 421.5 645.9 421.9 642.2 422.3 641.3 422.7 638.8 423.1 643.8 423.5 646.0 423.9 641.3 424.3 645.5 424.7 647.3 425.1 647.3 425.5 640.3 425.9 637.6 426.3 638.4 426.7 653.0 427.1 639.5 427.5 650.6 427.9 646.7 428.3 642.1 428.7 651.7 429.1 651.1 429.5 648.7 429.9 636.5 430.3 639.5 430.7 649.2 431.1 643.9 431.5 643.8 431.9 642.8 432.3 647.8 432.7 636.9 433.1 645.8 433.5 639.7 433.9 652.1 434.3 641.6 434.7 642.7 435.1 636.5 435.5 656.1 435.9 640.2 436.3 638.7 436.7 643.8 437.1 635.7 437.5 631.5 437.9 637.3 438.3 637.4 438.7 634.4 439.1 638.7 439.5 634.5 439.9 637.4 440.3 643.5 440.7 645.1 441.1 633.7 441.5 636.3 441.9 642.4 442.3 639.0 442.7 632.0 443.1 648.1 443.5 644.2 443.9 636.4 444.3 636.0 444.7 646.2 445.1 645.5 445.5 639.9 445.9 633.9 446.3 641.1 446.7 652.9 447.1 636.4 447.5 641.8 447.9 644.2 448.3 647.9 448.7 636.3 449.1 641.2 449.5 640.7 449.9 641.2 450.3 640.9 450.7 639.1 451.1 634.9 451.5 649.0 451.9 644.3 452.3 646.3 452.7 635.7 453.1 645.7 453.5 652.4 453.9 644.6 454.3 648.2 454.7 648.3 455.1 647.0 455.5 651.4 455.9 654.6 456.3 635.3 456.7 645.8 457.1 649.9 457.5 642.2 457.9 638.8 458.3 654.3 458.7 647.9 459.1 644.3 459.5 650.1 459.9 643.7 460.3 652.2 460.7 649.3 461.1 646.6 461.5 643.8 461.9 645.8 462.3 649.4 462.7 647.8 463.1 656.5 463.5 635.2 463.9 648.0 464.3 647.4 464.7 644.6 465.1 643.0 465.5 644.2 465.9 649.3 466.3 654.2 466.7 646.8 467.1 649.9 467.5 648.6 467.9 645.9 468.3 644.7 468.7 639.4 469.1 646.6 469.5 654.5 469.9 642.9 470.3 641.2 470.7 654.1 471.1 642.8 471.5 644.9 471.9 648.5 472.3 645.0 472.7 643.9 473.1 642.8 473.5 640.1 473.9 645.9 474.3 645.8 474.7 633.7 475.1 651.1 475.5 647.1 475.9 647.5 476.3 641.9 476.7 640.2 477.1 652.4 477.5 639.6 477.9 651.7 478.3 632.7 478.7 649.1 479.1 640.2 479.5 647.1 479.9 642.2 480.3 649.4 480.7 645.0 481.1 645.6 481.5 645.2 481.9 641.7 482.3 647.9 482.7 647.3 483.1 652.2 483.5 646.3 483.9 648.1 484.3 641.2 484.7 642.3 485.1 649.3 485.5 643.4 485.9 639.0 486.3 646.7 486.7 651.5 487.1 633.3 487.5 642.8 487.9 642.1 488.3 633.0 488.7 649.6 489.1 644.0 489.5 655.1 489.9 643.1 490.3 643.6 490.7 649.5 491.1 649.8 491.5 646.4 491.9 646.7 492.3 637.6 492.7 646.7 493.1 646.3 493.5 646.4 493.9 653.5 494.3 647.9 494.7 652.3 495.1 644.8 495.5 656.5 495.9 651.1 496.3 644.2 496.7 656.0 497.1 653.3 497.5 640.5 497.9 652.1 498.3 645.5 498.7 643.9 499.1 650.7 499.5 653.9 499.9 637.8 500.3 648.2 500.7 642.8 501.1 649.2 501.5 643.6 501.9 652.0 502.3 652.3 502.7 650.6 503.1 648.5 503.5 648.5 503.9 647.0 504.3 643.2 504.7 648.0 505.1 640.7 505.5 648.7 505.9 642.0 506.3 638.8 506.7 636.6 507.1 655.3 507.5 636.7 507.9 654.1 508.3 638.2 508.7 645.4 509.1 643.5 509.5 650.0 509.9 640.6 510.3 641.8 510.7 648.0 511.1 648.3 511.5 641.0 511.9 640.1 512.3 641.4 512.7 647.1 513.1 645.2 513.5 640.5 513.9 641.0 514.3 639.6 514.7 644.5 515.1 648.7 515.5 643.7 515.9 642.9 516.3 647.8 516.7 642.9 517.1 649.4 517.5 643.9 517.9 648.2 518.3 634.6 518.7 639.2 519.1 643.8 519.5 651.7 519.9 651.3 520.3 641.6 520.7 645.9 521.1 643.6 521.5 653.0 521.9 652.6 522.3 644.5 522.7 646.1 523.1 651.7 523.5 649.1 523.9 641.1 524.3 647.2 524.7 642.2 525.1 636.8 525.5 643.4 525.9 644.4 526.3 648.0 526.7 638.9 527.1 652.2 527.5 650.5 527.9 645.1 528.3 652.4 528.7 640.1 529.1 648.1 529.5 642.3 529.9 646.5 530.3 646.2 530.7 644.9 531.1 654.8 531.5 650.4 531.9 647.4 532.3 633.9 532.7 640.9 533.1 641.4 533.5 650.2 533.9 640.5 534.3 638.8 534.7 641.2 535.1 631.9 535.5 651.7 535.9 650.4 536.3 646.3 536.7 649.9 537.1 644.7 537.5 642.4 537.9 645.1 538.3 644.5 538.7 643.0 539.1 641.1 539.5 648.3 539.9 648.3 540.3 639.0 540.7 646.7 541.1 649.2 541.5 643.6 541.9 646.8 542.3 644.4 542.7 645.3 543.1 641.8 543.5 640.4 543.9 649.1 544.3 651.1 544.7 637.0 545.1 648.4 545.5 652.8 545.9 654.5 546.3 645.2 546.7 648.2 547.1 654.2 547.5 649.7 547.9 650.3 548.3 640.0 548.7 643.8 549.1 645.1 549.5 651.4 549.9 645.9 550.3 641.7 550.7 644.2 551.1 639.7 551.5 644.6 551.9 641.6 552.3 642.7 552.7 647.9 553.1 638.3 553.5 643.2 553.9 640.9 554.3 650.3 554.7 650.5 555.1 645.9 555.5 649.1 555.9 641.9 556.3 643.0 556.7 638.9 557.1 642.1 557.5 650.7 557.9 640.3 558.3 648.3 558.7 648.7 559.1 644.7 559.5 645.1 559.9 639.8 560.3 630.9 560.7 642.9 561.1 637.8 561.5 646.1 561.9 643.3 562.3 647.6 562.7 647.1 563.1 638.3 563.5 642.8 563.9 642.8 564.3 649.0 564.7 636.5 565.1 645.9 565.5 648.3 565.9 645.1 566.3 641.7 566.7 641.3 567.1 637.7 567.5 650.3 567.9 647.2 568.3 637.2 568.7 633.7 569.1 648.2 569.5 645.5 569.9 652.7 570.3 649.1 570.7 649.4 571.1 645.5 571.5 651.0 571.9 640.4 572.3 645.3 572.7 646.3 573.1 640.4 573.5 646.3 573.9 651.2 574.3 644.9 574.7 634.2 575.1 644.5 575.5 642.4 575.9 646.0 576.3 646.1 576.7 642.5 577.1 658.2 577.5 651.2 577.9 648.0 578.3 646.4 578.7 637.8 579.1 632.8 579.5 641.9 579.9 643.0 580.3 641.6 580.7 637.5 581.1 649.9 581.5 647.5 581.9 644.2 582.3 643.5 582.7 654.5 583.1 642.9 583.5 652.9 583.9 641.2 584.3 640.8 584.7 656.3 585.1 642.5 585.5 644.0 585.9 648.1 586.3 640.3 586.7 635.0 587.1 642.5 587.5 650.5 587.9 652.2 588.3 650.9 588.7 650.1 589.1 639.4 589.5 643.6 589.9 645.2 590.3 640.7 590.7 644.9 591.1 644.9 591.5 649.2 591.9 648.1 592.3 644.9 592.7 650.9 593.1 636.7 593.5 644.4 593.9 647.8 594.3 640.2 594.7 650.3 595.1 639.8 595.5 644.6 595.9 635.6 596.3 647.8 596.7 647.0 597.1 649.2 597.5 651.2 597.9 643.8 598.3 650.3 598.7 643.4 599.1 648.2 599.5 639.8 599.9 657.8 600.3 642.9 600.7 644.7 601.1 644.9 601.5 648.0 601.9 636.1 602.3 646.8 602.7 642.6 603.1 646.0 603.5 646.4 603.9 644.1 604.3 641.1 604.7 650.0 605.1 646.7 605.5 651.4 605.9 642.3 606.3 648.5 606.7 647.9 607.1 640.9 607.5 644.2 607.9 642.0 608.3 644.6 608.7 641.6 609.1 643.0 609.5 648.8 609.9 642.0 610.3 644.5 610.7 643.8 611.1 641.0 611.5 644.9 611.9 647.2 612.3 635.9 612.7 632.4 613.1 643.0 613.5 635.4 613.9 639.3 614.3 644.7 614.7 646.0 615.1 643.5 615.5 644.5 615.9 644.3 616.3 643.5 616.7 648.8 617.1 639.1 617.5 649.3 617.9 649.3 618.3 639.5 618.7 640.5 619.1 637.1 619.5 643.8 619.9 647.8 620.3 639.0 620.7 645.3 621.1 645.6 621.5 649.3 621.9 643.2 622.3 657.1 622.7 642.8 623.1 655.5 623.5 641.3 623.9 653.5 624.3 642.5 624.7 633.6 625.1 647.4 625.5 651.9 625.9 636.3 626.3 648.2 626.7 651.6 627.1 639.7 627.5 660.2 627.9 653.4 628.3 652.5 628.7 649.4 629.1 656.1 629.5 641.8 629.9 640.8 630.3 646.2 630.7 648.0 631.1 653.7 631.5 643.6 631.9 649.4 632.3 642.8 632.7 640.8 633.1 645.6 633.5 656.4 633.9 650.5 634.3 639.0 634.7 644.5 635.1 638.7 635.5 657.0 635.9 646.4 636.3 646.7 636.7 653.9 637.1 649.0 637.5 640.9 637.9 643.1 638.3 648.4 638.7 644.1 639.1 639.8 639.5 651.1 639.9 644.2 640.3 640.5 640.7 649.1 641.1 639.2 641.5 646.1 641.9 640.1 642.3 641.0 642.7 644.3 643.1 647.1 643.5 648.9 643.9 644.8 644.3 644.5 644.7 638.6 645.1 646.0 645.5 643.8 645.9 637.1 646.3 643.9 646.7 643.3 647.1 637.5 647.5 645.1 647.9 643.5 648.3 641.7 648.7 646.1 649.1 651.1 649.5 652.8 649.9 646.5 650.3 639.8 650.7 640.5 651.1 637.3 651.5 640.9 651.9 648.7 652.3 652.7 652.7 648.0 653.1 646.7 653.5 649.1 653.9 640.8 654.3 649.3 654.7 642.5 655.1 641.4 655.5 654.0 655.9 647.5 656.3 639.1 656.7 641.1 657.1 644.7 657.5 650.8 657.9 648.8 658.3 644.9 658.7 639.0 659.1 642.8 659.5 645.7 659.9 644.1 660.3 641.4 660.7 654.0 661.1 650.2 661.5 645.1 661.9 639.2 662.3 639.8 662.7 649.1 663.1 645.1 663.5 648.9 663.9 647.1 664.3 644.4 664.7 647.0 665.1 647.9 665.5 651.0 665.9 653.0 666.3 646.1 666.7 644.2 667.1 642.0 667.5 649.2 667.9 648.7 668.3 638.8 668.7 643.0 669.1 640.6 669.5 647.9 669.9 648.6 670.3 650.8 670.7 640.1 671.1 650.7 671.5 653.7 671.9 648.8" stroke="#ff0000" stroke-width="2.0" fill="none" stroke-linejoin="round" clip-path="url(#c9)"/>
<path d="M386.3 646.5 386.7 650.9 387.1 650.2 387.5 650.6 387.9 651.2 388.3 651.6 388.7 656.1 389.1 645.0 389.5 651.6 389.9 646.7 390.3 656.6 390.7 649.1 391.1 655.3 391.5 655.7 391.9 650.1 392.3 647.3 392.7 646.1 393.1 646.2 393.5 652.0 393.9 648.2 394.3 653.2 394.7 653.0 395.1 650.1 395.5 651.4 395.9 648.0 396.3 657.6 396.7 646.9 397.1 653.1 397.5 645.7 397.9 646.9 398.3 655.2 398.7 651.2 399.1 648.6 399.5 653.9 399.9 653.7 400.3 652.1 400.7 648.3 401.1 647.8 401.5 652.5 401.9 648.0 402.3 645.7 402.7 647.7 403.1 653.6 403.5 654.0 403.9 650.0 404.3 648.1 404.7 649.5 405.1 652.4 405.5 654.3 405.9 646.5 406.3 651.5 406.7 644.3 407.1 655.1 407.5 652.2 407.9 653.3 408.3 644.4 408.7 646.6 409.1 652.8 409.5 657.9 409.9 646.9 410.3 650.5 410.7 655.0 411.1 656.4 411.5 649.6 411.9 651.7 412.3 650.5 412.7 649.6 413.1 652.3 413.5 652.0 413.9 648.6 414.3 651.4 414.7 652.0 415.1 648.7 415.5 658.1 415.9 646.5 416.3 649.4 416.7 653.7 417.1 651.6 417.5 646.6 417.9 649.0 418.3 657.3 418.7 654.6 419.1 650.3 419.5 644.6 419.9 648.2 420.3 651.7 420.7 648.9 421.1 650.9 421.5 652.0 421.9 649.6 422.3 658.6 422.7 647.3 423.1 649.0 423.5 652.5 423.9 654.0 424.3 655.3 424.7 650.0 425.1 650.4 425.5 650.3 425.9 644.8 426.3 658.8 426.7 653.5 427.1 653.7 427.5 647.6 427.9 651.8 428.3 654.0 428.7 649.5 429.1 648.4 429.5 643.7 429.9 648.1 430.3 650.2 430.7 650.0 431.1 650.8 431.5 645.7 431.9 644.1 432.3 647.5 432.7 646.7 433.1 640.9 433.5 645.1 433.9 643.3 434.3 647.8 434.7 644.8 435.1 649.0 435.5 645.0 435.9 637.5 436.3 633.0 436.7 637.1 437.1 639.1 437.5 633.2 437.9 628.2 438.3 631.4 438.7 626.1 439.1 628.1 439.5 630.8 439.9 628.2 440.3 624.4 440.7 613.9 441.1 618.8 441.5 621.3 441.9 619.0 442.3 618.9 442.7 620.8 443.1 619.6 443.5 621.4 443.9 619.0 444.3 617.3 444.7 619.3 445.1 626.3 445.5 624.3 445.9 629.9 446.3 632.3 446.7 629.2 447.1 628.4 447.5 631.8 447.9 629.7 448.3 630.5 448.7 631.4 449.1 635.3 449.5 640.2 449.9 629.6 450.3 638.3 450.7 634.6 451.1 636.2 451.5 639.8 451.9 632.7 452.3 637.4 452.7 640.5 453.1 642.5 453.5 644.9 453.9 646.4 454.3 640.2 454.7 644.2 455.1 644.7 455.5 641.6 455.9 645.1 456.3 641.9 456.7 646.9 457.1 646.9 457.5 642.2 457.9 648.3 458.3 644.1 458.7 644.8 459.1 647.0 459.5 653.3 459.9 652.5 460.3 652.0 460.7 652.8 461.1 645.3 461.5 651.6 461.9 653.1 462.3 650.6 462.7 649.3 463.1 655.0 463.5 647.1 463.9 646.8 464.3 651.7 464.7 646.8 465.1 655.4 465.5 652.0 465.9 650.7 466.3 650.1 466.7 646.4 467.1 651.8 467.5 654.4 467.9 650.2 468.3 650.4 468.7 649.4 469.1 652.1 469.5 650.4 469.9 653.0 470.3 649.0 470.7 653.3 471.1 653.2 471.5 646.8 471.9 653.7 472.3 651.0 472.7 649.0 473.1 652.1 473.5 647.8 473.9 653.1 474.3 647.4 474.7 656.5 475.1 655.8 475.5 650.8 475.9 645.9 476.3 645.3 476.7 654.1 477.1 651.1 477.5 652.8 477.9 658.6 478.3 648.5 478.7 652.4 479.1 646.2 479.5 650.1 479.9 652.9 480.3 653.5 480.7 651.7 481.1 649.4 481.5 652.8 481.9 641.1 482.3 650.3 482.7 655.1 483.1 650.8 483.5 647.0 483.9 649.6 484.3 652.3 484.7 653.4 485.1 653.9 485.5 655.3 485.9 652.9 486.3 650.2 486.7 653.1 487.1 645.3 487.5 649.8 487.9 652.7 488.3 651.2 488.7 645.9 489.1 657.2 489.5 650.3 489.9 641.6 490.3 647.6 490.7 654.3 491.1 650.7 491.5 652.0 491.9 641.3 492.3 653.5 492.7 652.1 493.1 652.3 493.5 656.2 493.9 660.5 494.3 652.0 494.7 649.3 495.1 652.7 495.5 649.4 495.9 648.5 496.3 648.7 496.7 657.2 497.1 645.8 497.5 648.1 497.9 648.3 498.3 651.2 498.7 651.2 499.1 653.1 499.5 649.7 499.9 647.9 500.3 653.2 500.7 648.3 501.1 652.9 501.5 649.1 501.9 651.7 502.3 648.2 502.7 644.4 503.1 650.4 503.5 653.0 503.9 652.7 504.3 649.0 504.7 653.0 505.1 647.8 505.5 650.2 505.9 648.0 506.3 653.2 506.7 654.6 507.1 653.9 507.5 649.8 507.9 654.0 508.3 648.8 508.7 658.6 509.1 653.6 509.5 651.8 509.9 657.7 510.3 653.4 510.7 656.6 511.1 651.5 511.5 652.1 511.9 648.6 512.3 654.3 512.7 657.1 513.1 653.2 513.5 650.8 513.9 651.0 514.3 650.7 514.7 647.0 515.1 652.6 515.5 652.1 515.9 654.3 516.3 653.4 516.7 647.6 517.1 650.0 517.5 660.5 517.9 647.0 518.3 658.4 518.7 652.8 519.1 647.9 519.5 650.9 519.9 649.3 520.3 648.2 520.7 650.3 521.1 655.8 521.5 650.0 521.9 653.8 522.3 659.9 522.7 652.4 523.1 649.4 523.5 650.9 523.9 651.3 524.3 645.2 524.7 650.4 525.1 648.1 525.5 650.2 525.9 645.5 526.3 652.7 526.7 647.2 527.1 644.9 527.5 652.7 527.9 647.7 528.3 656.2 528.7 650.3 529.1 648.8 529.5 654.3 529.9 657.7 530.3 651.2 530.7 652.5 531.1 650.7 531.5 650.3 531.9 648.4 532.3 645.8 532.7 649.9 533.1 656.8 533.5 649.0 533.9 650.0 534.3 650.9 534.7 645.8 535.1 650.5 535.5 652.7 535.9 649.7 536.3 657.1 536.7 648.0 537.1 651.2 537.5 645.4 537.9 649.0 538.3 650.1 538.7 650.7 539.1 655.6 539.5 651.7 539.9 650.3 540.3 647.9 540.7 649.9 541.1 648.9 541.5 649.0 541.9 653.3 542.3 650.3 542.7 652.2 543.1 655.8 543.5 656.8 543.9 648.5 544.3 646.3 544.7 646.4 545.1 654.4 545.5 646.1 545.9 645.9 546.3 654.1 546.7 649.7 547.1 645.4 547.5 651.1 547.9 647.2 548.3 653.6 548.7 652.6 549.1 648.3 549.5 652.0 549.9 651.0 550.3 651.1 550.7 655.1 551.1 646.1 551.5 651.9 551.9 652.6 552.3 653.0 552.7 651.2 553.1 654.8 553.5 648.4 553.9 652.7 554.3 648.7 554.7 654.6 555.1 655.1 555.5 654.7 555.9 650.7 556.3 656.2 556.7 648.5 557.1 652.7 557.5 648.3 557.9 652.9 558.3 648.6 558.7 655.2 559.1 655.4 559.5 649.4 559.9 653.5 560.3 647.8 560.7 654.0 561.1 649.7 561.5 654.4 561.9 657.7 562.3 646.5 562.7 652.3 563.1 648.1 563.5 650.9 563.9 657.7 564.3 650.2 564.7 647.7 565.1 647.0 565.5 645.8 565.9 650.2 566.3 652.0 566.7 651.3 567.1 655.7 567.5 649.0 567.9 649.0 568.3 650.4 568.7 654.4 569.1 649.3 569.5 653.6 569.9 647.2 570.3 653.8 570.7 653.5 571.1 652.8 571.5 655.3 571.9 654.8 572.3 652.7 572.7 660.4 573.1 644.6 573.5 650.3 573.9 650.6 574.3 654.8 574.7 651.0 575.1 651.7 575.5 651.3 575.9 657.0 576.3 652.1 576.7 658.4 577.1 652.4 577.5 654.9 577.9 653.9 578.3 652.9 578.7 648.7 579.1 647.4 579.5 651.6 579.9 655.6 580.3 646.5 580.7 656.8 581.1 653.7 581.5 652.5 581.9 654.4 582.3 647.0 582.7 650.3 583.1 647.9 583.5 652.8 583.9 648.7 584.3 652.3 584.7 652.3 585.1 650.7 585.5 650.4 585.9 649.8 586.3 652.6 586.7 657.2 587.1 653.0 587.5 660.5 587.9 652.9 588.3 654.7 588.7 648.9 589.1 660.5 589.5 644.7 589.9 653.1 590.3 657.5 590.7 650.4 591.1 650.1 591.5 650.4 591.9 644.1 592.3 654.8 592.7 650.8 593.1 651.4 593.5 654.3 593.9 650.9 594.3 647.4 594.7 654.9 595.1 650.3 595.5 648.3 595.9 649.6 596.3 657.6 596.7 650.9 597.1 653.3 597.5 647.6 597.9 652.4 598.3 644.9 598.7 656.3 599.1 650.2 599.5 655.1 599.9 645.6 600.3 646.2 600.7 655.0 601.1 648.9 601.5 651.6 601.9 657.1 602.3 654.9 602.7 650.7 603.1 649.1 603.5 652.1 603.9 649.6 604.3 649.4 604.7 649.4 605.1 654.5 605.5 649.6 605.9 648.1 606.3 654.7 606.7 643.0 607.1 642.5 607.5 646.4 607.9 638.7 608.3 648.2 608.7 647.9 609.1 646.0 609.5 645.5 609.9 635.6 610.3 641.0 610.7 640.4 611.1 637.9 611.5 632.5 611.9 636.6 612.3 637.5 612.7 634.2 613.1 629.7 613.5 633.9 613.9 628.6 614.3 633.5 614.7 636.2 615.1 634.7 615.5 630.4 615.9 639.2 616.3 634.4 616.7 638.2 617.1 640.5 617.5 641.6 617.9 639.4 618.3 640.8 618.7 642.3 619.1 641.9 619.5 648.0 619.9 647.9 620.3 649.8 620.7 648.1 621.1 648.2 621.5 649.4 621.9 646.9 622.3 652.5 622.7 650.1 623.1 646.4 623.5 643.7 623.9 649.7 624.3 645.8 624.7 645.4 625.1 654.1 625.5 649.8 625.9 654.6 626.3 652.5 626.7 649.8 627.1 656.0 627.5 649.8 627.9 652.4 628.3 652.8 628.7 650.0 629.1 654.9 629.5 658.0 629.9 651.9 630.3 654.5 630.7 652.7 631.1 655.9 631.5 655.4 631.9 655.7 632.3 656.6 632.7 654.9 633.1 654.9 633.5 652.0 633.9 640.9 634.3 654.3 634.7 657.7 635.1 650.1 635.5 656.5 635.9 655.3 636.3 653.4 636.7 652.0 637.1 651.9 637.5 651.3 637.9 652.6 638.3 648.3 638.7 649.3 639.1 654.2 639.5 653.0 639.9 657.1 640.3 649.9 640.7 653.0 641.1 645.6 641.5 654.7 641.9 647.0 642.3 655.6 642.7 658.3 643.1 655.4 643.5 651.2 643.9 648.8 644.3 655.5 644.7 649.0 645.1 654.2 645.5 654.2 645.9 653.5 646.3 646.6 646.7 651.8 647.1 651.4 647.5 657.8 647.9 651.9 648.3 651.5 648.7 646.7 649.1 655.6 649.5 655.0 649.9 655.8 650.3 654.8 650.7 650.2 651.1 655.4 651.5 648.1 651.9 652.5 652.3 655.8 652.7 654.9 653.1 657.5 653.5 657.7 653.9 648.6 654.3 649.6 654.7 656.1 655.1 654.3 655.5 647.0 655.9 655.3 656.3 651.9 656.7 650.9 657.1 653.4 657.5 653.4 657.9 653.9 658.3 652.4 658.7 658.3 659.1 652.6 659.5 652.2 659.9 657.5 660.3 651.2 660.7 656.1 661.1 660.5 661.5 659.7 661.9 652.5 662.3 650.9 662.7 654.4 663.1 658.0 663.5 653.5 663.9 649.7 664.3 653.1 664.7 658.1 665.1 651.3 665.5 653.7 665.9 653.6 666.3 652.8 666.7 651.0 667.1 653.4 667.5 656.4 667.9 653.4 668.3 652.6 668.7 648.9 669.1 657.4 669.5 653.6 669.9 656.2 670.3 652.1 670.7 655.0 671.1 660.5 671.5 649.7 671.9 655.4" stroke="#1e8fff" stroke-width="2.0" fill="none" stroke-linejoin="round" clip-path="url(#c9)"/>
<path d="M386.3 647.4 386.7 649.0 387.1 647.3 387.5 648.2 387.9 643.7 388.3 642.6 388.7 643.4 389.1 641.7 389.5 646.4 389.9 640.8 390.3 643.5 390.7 641.4 391.1 640.7 391.5 644.6 391.9 638.3 392.3 640.0 392.7 644.7 393.1 636.2 393.5 636.6 393.9 649.1 394.3 651.9 394.7 645.5 395.1 641.3 395.5 639.4 395.9 640.5 396.3 643.2 396.7 639.3 397.1 640.3 397.5 644.8 397.9 642.4 398.3 638.9 398.7 645.6 399.1 645.5 399.5 646.3 399.9 637.4 400.3 640.5 400.7 639.8 401.1 644.5 401.5 643.2 401.9 638.3 402.3 644.2 402.7 638.4 403.1 643.1 403.5 643.2 403.9 640.9 404.3 639.7 404.7 636.2 405.1 644.4 405.5 636.5 405.9 646.0 406.3 646.4 406.7 651.8 407.1 639.8 407.5 637.3 407.9 647.7 408.3 644.3 408.7 644.0 409.1 649.1 409.5 642.8 409.9 641.9 410.3 645.0 410.7 647.0 411.1 642.5 411.5 640.7 411.9 648.5 412.3 643.4 412.7 640.8 413.1 654.0 413.5 641.8 413.9 636.3 414.3 648.0 414.7 637.9 415.1 644.2 415.5 640.7 415.9 643.6 416.3 647.5 416.7 649.7 417.1 633.7 417.5 648.2 417.9 644.1 418.3 637.5 418.7 641.8 419.1 642.3 419.5 650.9 419.9 645.4 420.3 648.2 420.7 650.0 421.1 641.6 421.5 639.8 421.9 646.0 422.3 645.6 422.7 641.3 423.1 639.6 423.5 647.1 423.9 638.4 424.3 639.3 424.7 643.0 425.1 647.3 425.5 640.3 425.9 639.4 426.3 634.8 426.7 643.7 427.1 634.7 427.5 641.9 427.9 638.0 428.3 640.1 428.7 639.0 429.1 633.2 429.5 641.2 429.9 634.9 430.3 638.8 430.7 637.4 431.1 639.7 431.5 635.7 431.9 643.9 432.3 636.3 432.7 630.4 433.1 630.1 433.5 638.8 433.9 635.8 434.3 632.1 434.7 622.2 435.1 630.2 435.5 627.6 435.9 627.6 436.3 624.5 436.7 628.3 437.1 622.2 437.5 618.5 437.9 613.3 438.3 617.9 438.7 608.0 439.1 601.0 439.5 602.5 439.9 600.0 440.3 608.7 440.7 590.1 441.1 584.0 441.5 582.9 441.9 581.9 442.3 582.6 442.7 577.8 443.1 596.2 443.5 598.8 443.9 596.7 444.3 602.6 444.7 614.2 445.1 607.0 445.5 608.6 445.9 615.8 446.3 612.7 446.7 615.4 447.1 625.2 447.5 616.6 447.9 610.7 448.3 612.9 448.7 624.8 449.1 626.1 449.5 621.2 449.9 620.9 450.3 627.9 450.7 626.1 451.1 618.3 451.5 623.3 451.9 620.7 452.3 625.3 452.7 621.5 453.1 628.0 453.5 628.3 453.9 630.3 454.3 634.5 454.7 628.8 455.1 632.9 455.5 629.8 455.9 627.7 456.3 627.9 456.7 627.3 457.1 630.8 457.5 629.8 457.9 625.3 458.3 630.9 458.7 630.5 459.1 640.7 459.5 635.7 459.9 627.3 460.3 635.4 460.7 636.6 461.1 628.8 461.5 637.9 461.9 629.4 462.3 634.1 462.7 636.5 463.1 642.5 463.5 629.5 463.9 642.3 464.3 640.3 464.7 632.6 465.1 641.0 465.5 634.3 465.9 636.6 466.3 637.8 466.7 641.1 467.1 639.7 467.5 636.2 467.9 641.4 468.3 635.2 468.7 636.9 469.1 635.9 469.5 637.4 469.9 636.2 470.3 637.2 470.7 635.6 471.1 637.6 471.5 638.0 471.9 643.1 472.3 646.6 472.7 639.7 473.1 636.3 473.5 644.0 473.9 646.8 474.3 642.9 474.7 639.5 475.1 637.6 475.5 642.4 475.9 645.8 476.3 641.4 476.7 638.5 477.1 641.4 477.5 637.2 477.9 643.3 478.3 637.9 478.7 634.9 479.1 645.4 479.5 644.9 479.9 638.9 480.3 629.1 480.7 639.5 481.1 641.7 481.5 636.4 481.9 642.1 482.3 648.1 482.7 645.5 483.1 636.4 483.5 648.5 483.9 647.5 484.3 638.6 484.7 641.3 485.1 637.1 485.5 646.2 485.9 645.0 486.3 643.4 486.7 647.0 487.1 643.1 487.5 642.9 487.9 638.8 488.3 642.6 488.7 643.9 489.1 640.3 489.5 637.9 489.9 638.2 490.3 641.3 490.7 644.0 491.1 644.4 491.5 647.7 491.9 642.3 492.3 642.7 492.7 636.1 493.1 641.8 493.5 639.7 493.9 637.5 494.3 650.2 494.7 645.4 495.1 643.8 495.5 642.4 495.9 647.5 496.3 639.6 496.7 639.4 497.1 641.0 497.5 640.4 497.9 647.5 498.3 638.6 498.7 645.6 499.1 650.7 499.5 642.8 499.9 641.6 500.3 646.1 500.7 650.0 501.1 648.0 501.5 644.0 501.9 653.6 502.3 639.4 502.7 639.6 503.1 644.3 503.5 639.4 503.9 644.3 504.3 648.2 504.7 641.2 505.1 641.5 505.5 647.5 505.9 649.5 506.3 647.8 506.7 639.3 507.1 645.2 507.5 632.8 507.9 646.7 508.3 641.7 508.7 642.8 509.1 645.0 509.5 640.8 509.9 647.6 510.3 644.5 510.7 649.0 511.1 653.0 511.5 644.1 511.9 649.0 512.3 649.6 512.7 642.1 513.1 645.2 513.5 643.0 513.9 637.7 514.3 643.9 514.7 642.8 515.1 649.4 515.5 641.4 515.9 641.4 516.3 649.0 516.7 642.2 517.1 643.6 517.5 645.8 517.9 644.6 518.3 635.3 518.7 647.6 519.1 646.4 519.5 644.7 519.9 645.8 520.3 652.4 520.7 642.6 521.1 641.5 521.5 638.3 521.9 647.5 522.3 650.4 522.7 642.7 523.1 649.5 523.5 645.4 523.9 647.1 524.3 644.7 524.7 647.3 525.1 642.8 525.5 649.3 525.9 636.1 526.3 642.6 526.7 648.2 527.1 649.6 527.5 646.5 527.9 647.7 528.3 649.2 528.7 640.3 529.1 642.1 529.5 650.3 529.9 643.8 530.3 646.0 530.7 642.9 531.1 648.7 531.5 637.5 531.9 645.7 532.3 638.1 532.7 647.9 533.1 640.7 533.5 646.5 533.9 639.4 534.3 646.8 534.7 650.3 535.1 650.4 535.5 648.6 535.9 643.7 536.3 644.6 536.7 645.6 537.1 641.9 537.5 639.6 537.9 650.1 538.3 642.1 538.7 636.9 539.1 648.6 539.5 648.4 539.9 644.5 540.3 645.2 540.7 648.3 541.1 646.4 541.5 639.7 541.9 642.5 542.3 649.4 542.7 653.0 543.1 650.6 543.5 645.5 543.9 649.3 544.3 649.5 544.7 643.3 545.1 647.3 545.5 647.7 545.9 645.3 546.3 640.4 546.7 645.0 547.1 643.5 547.5 645.9 547.9 640.0 548.3 651.1 548.7 650.7 549.1 648.3 549.5 638.1 549.9 640.1 550.3 650.7 550.7 648.1 551.1 644.1 551.5 646.0 551.9 642.7 552.3 648.2 552.7 652.9 553.1 643.8 553.5 641.3 553.9 652.4 554.3 653.8 554.7 648.1 555.1 653.8 555.5 644.6 555.9 651.0 556.3 643.4 556.7 647.7 557.1 645.8 557.5 643.7 557.9 647.2 558.3 650.4 558.7 642.7 559.1 652.2 559.5 640.7 559.9 648.8 560.3 648.5 560.7 644.8 561.1 644.7 561.5 644.4 561.9 652.3 562.3 649.9 562.7 645.0 563.1 644.9 563.5 646.8 563.9 641.3 564.3 647.1 564.7 642.7 565.1 642.1 565.5 645.1 565.9 647.2 566.3 643.5 566.7 644.7 567.1 644.0 567.5 649.9 567.9 644.6 568.3 640.1 568.7 647.6 569.1 645.9 569.5 647.5 569.9 643.0 570.3 654.7 570.7 640.1 571.1 644.5 571.5 647.4 571.9 645.4 572.3 642.0 572.7 645.1 573.1 643.9 573.5 641.7 573.9 645.9 574.3 643.6 574.7 640.7 575.1 644.3 575.5 649.0 575.9 643.5 576.3 638.4 576.7 647.8 577.1 644.8 577.5 644.9 577.9 643.1 578.3 648.2 578.7 646.7 579.1 638.8 579.5 643.8 579.9 649.1 580.3 643.5 580.7 646.4 581.1 640.5 581.5 653.0 581.9 646.2 582.3 642.7 582.7 651.7 583.1 649.6 583.5 644.8 583.9 646.5 584.3 647.9 584.7 645.4 585.1 652.2 585.5 650.0 585.9 639.8 586.3 649.2 586.7 645.0 587.1 646.9 587.5 643.3 587.9 645.4 588.3 645.1 588.7 642.1 589.1 645.4 589.5 653.5 589.9 649.4 590.3 641.1 590.7 642.5 591.1 647.7 591.5 653.1 591.9 649.6 592.3 638.5 592.7 642.0 593.1 641.9 593.5 653.2 593.9 652.2 594.3 649.1 594.7 652.2 595.1 646.4 595.5 651.1 595.9 644.9 596.3 647.7 596.7 649.1 597.1 644.3 597.5 645.1 597.9 646.3 598.3 648.3 598.7 647.1 599.1 654.5 599.5 654.6 599.9 649.6 600.3 646.0 600.7 639.0 601.1 643.9 601.5 648.9 601.9 646.4 602.3 649.0 602.7 643.7 603.1 643.4 603.5 642.7 603.9 641.0 604.3 637.2 604.7 637.8 605.1 644.3 605.5 635.6 605.9 642.1 606.3 635.8 606.7 636.1 607.1 629.1 607.5 635.3 607.9 634.5 608.3 634.4 608.7 629.1 609.1 630.2 609.5 630.4 609.9 624.1 610.3 617.1 610.7 617.0 611.1 615.5 611.5 621.5 611.9 617.7 612.3 615.1 612.7 621.0 613.1 606.0 613.5 616.9 613.9 610.9 614.3 619.5 614.7 616.3 615.1 615.7 615.5 619.1 615.9 626.7 616.3 626.9 616.7 621.3 617.1 625.8 617.5 625.6 617.9 623.0 618.3 637.2 618.7 626.9 619.1 623.5 619.5 622.1 619.9 627.0 620.3 633.2 620.7 627.2 621.1 624.3 621.5 634.9 621.9 635.9 622.3 634.3 622.7 636.0 623.1 643.0 623.5 645.0 623.9 641.5 624.3 639.5 624.7 636.0 625.1 640.4 625.5 638.3 625.9 634.3 626.3 628.3 626.7 636.9 627.1 644.5 627.5 637.1 627.9 641.3 628.3 640.2 628.7 638.1 629.1 639.1 629.5 647.6 629.9 647.3 630.3 642.0 630.7 640.6 631.1 635.4 631.5 641.6 631.9 645.7 632.3 646.5 632.7 647.7 633.1 650.3 633.5 650.6 633.9 648.0 634.3 645.5 634.7 648.9 635.1 645.9 635.5 647.0 635.9 646.8 636.3 647.7 636.7 644.8 637.1 645.9 637.5 656.4 637.9 644.9 638.3 645.6 638.7 648.4 639.1 645.4 639.5 648.8 639.9 645.6 640.3 649.5 640.7 643.4 641.1 644.7 641.5 651.8 641.9 648.9 642.3 643.4 642.7 644.5 643.1 645.6 643.5 650.6 643.9 648.8 644.3 645.5 644.7 645.0 645.1 646.3 645.5 649.5 645.9 647.1 646.3 648.2 646.7 650.8 647.1 650.6 647.5 649.4 647.9 652.2 648.3 644.5 648.7 643.3 649.1 642.9 649.5 649.4 649.9 649.3 650.3 645.4 650.7 648.2 651.1 647.6 651.5 647.6 651.9 652.7 652.3 641.5 652.7 652.1 653.1 652.6 653.5 643.3 653.9 650.8 654.3 642.3 654.7 645.2 655.1 645.1 655.5 648.0 655.9 652.1 656.3 651.2 656.7 646.2 657.1 647.0 657.5 651.3 657.9 651.1 658.3 650.0 658.7 646.9 659.1 644.9 659.5 643.1 659.9 648.1 660.3 641.1 660.7 643.9 661.1 640.9 661.5 650.1 661.9 644.5 662.3 642.5 662.7 653.6 663.1 643.2 663.5 645.2 663.9 643.2 664.3 646.1 664.7 642.3 665.1 648.5 665.5 648.8 665.9 644.0 666.3 644.0 666.7 652.1 667.1 642.2 667.5 642.3 667.9 642.9 668.3 649.7 668.7 642.0 669.1 644.9 669.5 643.3 669.9 647.1 670.3 648.6 670.7 649.7 671.1 649.3 671.5 643.5 671.9 649.9" stroke="#808080" stroke-width="2.6" fill="none" stroke-linejoin="round" clip-path="url(#c9)"/>
<path d="M390.3 662.25v2.6M390.3 560.55v-2.6M398.8 662.25v2.6M398.8 560.55v-2.6M407.3 662.25v2.6M407.3 560.55v-2.6M415.8 662.25v3.8M415.8 560.55v-3.8M424.3 662.25v2.6M424.3 560.55v-2.6M432.8 662.25v2.6M432.8 560.55v-2.6M441.3 662.25v2.6M441.3 560.55v-2.6M449.8 662.25v2.6M449.8 560.55v-2.6M458.3 662.25v2.6M458.3 560.55v-2.6M466.8 662.25v2.6M466.8 560.55v-2.6M475.3 662.25v2.6M475.3 560.55v-2.6M483.8 662.25v2.6M483.8 560.55v-2.6M492.3 662.25v2.6M492.3 560.55v-2.6M500.8 662.25v3.8M500.8 560.55v-3.8M509.3 662.25v2.6M509.3 560.55v-2.6M517.8 662.25v2.6M517.8 560.55v-2.6M526.3 662.25v2.6M526.3 560.55v-2.6M534.8 662.25v2.6M534.8 560.55v-2.6M543.3 662.25v2.6M543.3 560.55v-2.6M551.8 662.25v2.6M551.8 560.55v-2.6M560.3 662.25v2.6M560.3 560.55v-2.6M568.8 662.25v2.6M568.8 560.55v-2.6M577.3 662.25v2.6M577.3 560.55v-2.6M585.8 662.25v3.8M585.8 560.55v-3.8M594.3 662.25v2.6M594.3 560.55v-2.6M602.8 662.25v2.6M602.8 560.55v-2.6M611.3 662.25v2.6M611.3 560.55v-2.6M619.8 662.25v2.6M619.8 560.55v-2.6M628.3 662.25v2.6M628.3 560.55v-2.6M636.8 662.25v2.6M636.8 560.55v-2.6M645.3 662.25v2.6M645.3 560.55v-2.6M653.8 662.25v2.6M653.8 560.55v-2.6M662.3 662.25v2.6M662.3 560.55v-2.6M670.8 662.25v3.8M670.8 560.55v-3.8M386.05 661h-3.8M672.15 661h3.8M386.05 652h-2.6M672.15 652h2.6M386.05 643h-2.6M672.15 643h2.6M386.05 634h-2.6M672.15 634h2.6M386.05 625h-2.6M672.15 625h2.6M386.05 616h-3.8M672.15 616h3.8M386.05 607h-2.6M672.15 607h2.6M386.05 598h-2.6M672.15 598h2.6M386.05 589h-2.6M672.15 589h2.6M386.05 580h-2.6M672.15 580h2.6M386.05 571h-3.8M672.15 571h3.8M386.05 562h-2.6M672.15 562h2.6" stroke="#000" stroke-width="2.3" fill="none"/>
<rect x="387.3" y="561.8" width="283.6" height="99.2" fill="none" stroke="#000" stroke-width="2.5"/>
<text x="414.1" y="677.2" font-size="10.3" letter-spacing="1.1" text-anchor="middle" fill="#1c1c1c">478.5</text>
<text x="498.3" y="677.2" font-size="10.3" letter-spacing="1.1" text-anchor="middle" fill="#1c1c1c">479.0</text>
<text x="583.4" y="677.2" font-size="10.3" letter-spacing="1.1" text-anchor="middle" fill="#1c1c1c">479.5</text>
<text x="668.3" y="677.2" font-size="10.3" letter-spacing="1.1" text-anchor="middle" fill="#1c1c1c">480.0</text>
<text x="380.8" y="665.6" font-size="10.3" letter-spacing="1.1" text-anchor="end" fill="#1c1c1c">0</text>
<text x="380.8" y="620.6" font-size="10.3" letter-spacing="1.1" text-anchor="end" fill="#1c1c1c">2</text>
<text x="380.8" y="575.6" font-size="10.3" letter-spacing="1.1" text-anchor="end" fill="#1c1c1c">4</text>
<text x="495.4" y="689.4" font-size="13.1" fill="#111">mass</text>
<text x="529.6999999999999" y="689.4" font-size="13.5" letter-spacing="0.9" fill="#111">(m/z)</text>
<g transform="translate(354.5 611.4) rotate(-90)" font-size="13" fill="#111"><text x="-63.9" y="0" letter-spacing="1.25">Intensity</text><text x="1.7" y="0">(c/s)</text><text x="31.8" y="0">×</text><text x="42.4" y="0" letter-spacing="0.6">10</text><text x="57.4" y="-5.4" font-size="9">1</text></g>
<path d="M441.3 588V574H468.4" stroke="#000" stroke-width="1.3" fill="none"/>
<text x="444.3" y="587.4" text-anchor="start" letter-spacing="0.8" fill="#1a1a1a"><tspan dy="-0" font-size="12.8">Zr</tspan><tspan dy="3.1" font-size="8.6">4</tspan><tspan dy="-3.1" font-size="12.8">O</tspan><tspan dy="3.1" font-size="8.6">7</tspan><tspan dy="-3.1" font-size="12.8">H</tspan><tspan dy="3.1" font-size="8.6">7</tspan><tspan dy="-8.3" font-size="8.6">−</tspan></text>
<path d="M92.6 56.8H119.8" stroke="#ff0000" stroke-width="2.6"/>
<text x="122" y="60.8" font-size="11.4" fill="#111">825 ppm 480 s pH 3.0</text>
<path d="M92.6 70.5H119.8" stroke="#1e8fff" stroke-width="2.6"/>
<text x="122" y="74.5" font-size="11.4" fill="#111">825 ppm &#160;&#160;60 s pH 4.0</text>
<path d="M92.6 84.2H119.8" stroke="#808080" stroke-width="2.6"/>
<text x="122" y="88.2" font-size="11.4" fill="#111">825 ppm 480 s pH 4.0</text>
<rect x="0.8" y="697.9" width="63" height="21.6" fill="#fdd5f6"/>
<text x="70.6" y="716.6" font-size="19" fill="#000">Zr-monomer</text>
<rect x="194.4" y="697.9" width="62.3" height="21.6" fill="#d5e5fd"/>
<text x="263.4" y="716.6" font-size="19" fill="#000">Zr-dimer</text>
<rect x="348.2" y="697.9" width="62.2" height="21.6" fill="#dfe9d6"/>
<text x="418.7" y="716.6" font-size="19" fill="#000">Zr-trimer</text>
<rect x="510.2" y="697.9" width="62.4" height="21.6" fill="#ffd5d6"/>
<text x="579.7" y="716.6" font-size="19" fill="#000">Zr-tetramer</text>
</svg></body></html>
